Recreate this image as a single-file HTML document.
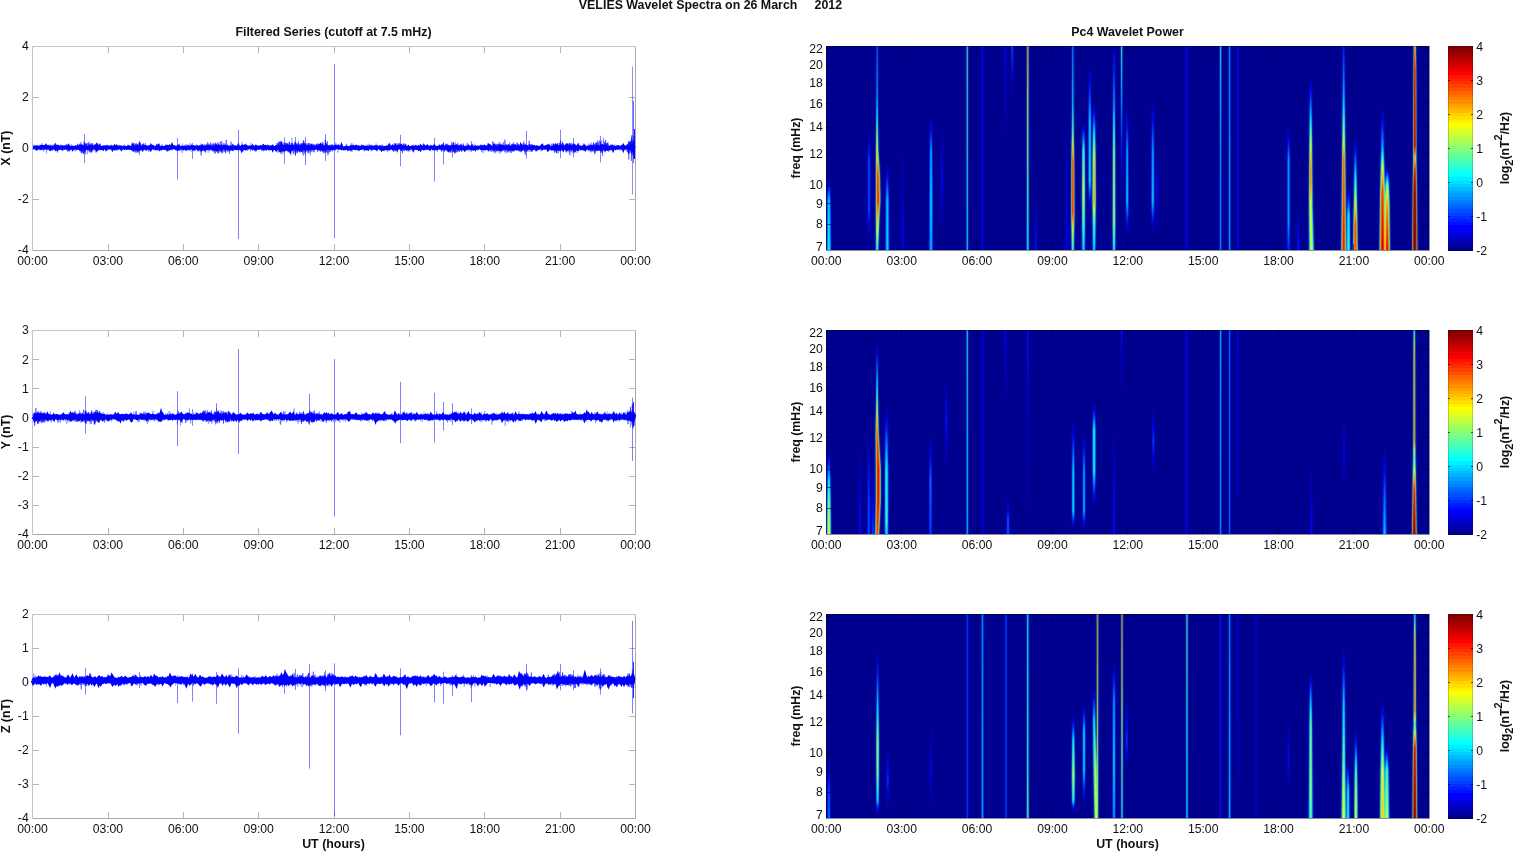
<!DOCTYPE html><html><head><meta charset="utf-8"><style>html,body{margin:0;padding:0;background:#fff;overflow:hidden}svg{display:block;will-change:transform}text{font-family:'Liberation Sans', Arial, Helvetica, sans-serif;fill:#111}.b{font-weight:bold}</style></head><body>
<svg width="1515" height="851" viewBox="0 0 1515 851">
<rect width="1515" height="851" fill="#fff"/>
<defs><linearGradient id="cbar" x1="0" y1="0" x2="0" y2="1"><stop offset="0.00000" stop-color="#800000"/><stop offset="0.01562" stop-color="#800000"/><stop offset="0.01562" stop-color="#8f0000"/><stop offset="0.03125" stop-color="#8f0000"/><stop offset="0.03125" stop-color="#9f0000"/><stop offset="0.04688" stop-color="#9f0000"/><stop offset="0.04688" stop-color="#af0000"/><stop offset="0.06250" stop-color="#af0000"/><stop offset="0.06250" stop-color="#bf0000"/><stop offset="0.07812" stop-color="#bf0000"/><stop offset="0.07812" stop-color="#cf0000"/><stop offset="0.09375" stop-color="#cf0000"/><stop offset="0.09375" stop-color="#df0000"/><stop offset="0.10938" stop-color="#df0000"/><stop offset="0.10938" stop-color="#ef0000"/><stop offset="0.12500" stop-color="#ef0000"/><stop offset="0.12500" stop-color="#ff0000"/><stop offset="0.14062" stop-color="#ff0000"/><stop offset="0.14062" stop-color="#ff1000"/><stop offset="0.15625" stop-color="#ff1000"/><stop offset="0.15625" stop-color="#ff2000"/><stop offset="0.17188" stop-color="#ff2000"/><stop offset="0.17188" stop-color="#ff3000"/><stop offset="0.18750" stop-color="#ff3000"/><stop offset="0.18750" stop-color="#ff4000"/><stop offset="0.20312" stop-color="#ff4000"/><stop offset="0.20312" stop-color="#ff5000"/><stop offset="0.21875" stop-color="#ff5000"/><stop offset="0.21875" stop-color="#ff6000"/><stop offset="0.23438" stop-color="#ff6000"/><stop offset="0.23438" stop-color="#ff7000"/><stop offset="0.25000" stop-color="#ff7000"/><stop offset="0.25000" stop-color="#ff8000"/><stop offset="0.26562" stop-color="#ff8000"/><stop offset="0.26562" stop-color="#ff8f00"/><stop offset="0.28125" stop-color="#ff8f00"/><stop offset="0.28125" stop-color="#ff9f00"/><stop offset="0.29688" stop-color="#ff9f00"/><stop offset="0.29688" stop-color="#ffaf00"/><stop offset="0.31250" stop-color="#ffaf00"/><stop offset="0.31250" stop-color="#ffbf00"/><stop offset="0.32812" stop-color="#ffbf00"/><stop offset="0.32812" stop-color="#ffcf00"/><stop offset="0.34375" stop-color="#ffcf00"/><stop offset="0.34375" stop-color="#ffdf00"/><stop offset="0.35938" stop-color="#ffdf00"/><stop offset="0.35938" stop-color="#ffef00"/><stop offset="0.37500" stop-color="#ffef00"/><stop offset="0.37500" stop-color="#ffff00"/><stop offset="0.39062" stop-color="#ffff00"/><stop offset="0.39062" stop-color="#efff10"/><stop offset="0.40625" stop-color="#efff10"/><stop offset="0.40625" stop-color="#dfff20"/><stop offset="0.42188" stop-color="#dfff20"/><stop offset="0.42188" stop-color="#cfff30"/><stop offset="0.43750" stop-color="#cfff30"/><stop offset="0.43750" stop-color="#bfff40"/><stop offset="0.45312" stop-color="#bfff40"/><stop offset="0.45312" stop-color="#afff50"/><stop offset="0.46875" stop-color="#afff50"/><stop offset="0.46875" stop-color="#9fff60"/><stop offset="0.48438" stop-color="#9fff60"/><stop offset="0.48438" stop-color="#8fff70"/><stop offset="0.50000" stop-color="#8fff70"/><stop offset="0.50000" stop-color="#80ff80"/><stop offset="0.51562" stop-color="#80ff80"/><stop offset="0.51562" stop-color="#70ff8f"/><stop offset="0.53125" stop-color="#70ff8f"/><stop offset="0.53125" stop-color="#60ff9f"/><stop offset="0.54688" stop-color="#60ff9f"/><stop offset="0.54688" stop-color="#50ffaf"/><stop offset="0.56250" stop-color="#50ffaf"/><stop offset="0.56250" stop-color="#40ffbf"/><stop offset="0.57812" stop-color="#40ffbf"/><stop offset="0.57812" stop-color="#30ffcf"/><stop offset="0.59375" stop-color="#30ffcf"/><stop offset="0.59375" stop-color="#20ffdf"/><stop offset="0.60938" stop-color="#20ffdf"/><stop offset="0.60938" stop-color="#10ffef"/><stop offset="0.62500" stop-color="#10ffef"/><stop offset="0.62500" stop-color="#00ffff"/><stop offset="0.64062" stop-color="#00ffff"/><stop offset="0.64062" stop-color="#00efff"/><stop offset="0.65625" stop-color="#00efff"/><stop offset="0.65625" stop-color="#00dfff"/><stop offset="0.67188" stop-color="#00dfff"/><stop offset="0.67188" stop-color="#00cfff"/><stop offset="0.68750" stop-color="#00cfff"/><stop offset="0.68750" stop-color="#00bfff"/><stop offset="0.70312" stop-color="#00bfff"/><stop offset="0.70312" stop-color="#00afff"/><stop offset="0.71875" stop-color="#00afff"/><stop offset="0.71875" stop-color="#009fff"/><stop offset="0.73438" stop-color="#009fff"/><stop offset="0.73438" stop-color="#008fff"/><stop offset="0.75000" stop-color="#008fff"/><stop offset="0.75000" stop-color="#0080ff"/><stop offset="0.76562" stop-color="#0080ff"/><stop offset="0.76562" stop-color="#0070ff"/><stop offset="0.78125" stop-color="#0070ff"/><stop offset="0.78125" stop-color="#0060ff"/><stop offset="0.79688" stop-color="#0060ff"/><stop offset="0.79688" stop-color="#0050ff"/><stop offset="0.81250" stop-color="#0050ff"/><stop offset="0.81250" stop-color="#0040ff"/><stop offset="0.82812" stop-color="#0040ff"/><stop offset="0.82812" stop-color="#0030ff"/><stop offset="0.84375" stop-color="#0030ff"/><stop offset="0.84375" stop-color="#0020ff"/><stop offset="0.85938" stop-color="#0020ff"/><stop offset="0.85938" stop-color="#0010ff"/><stop offset="0.87500" stop-color="#0010ff"/><stop offset="0.87500" stop-color="#0000ff"/><stop offset="0.89062" stop-color="#0000ff"/><stop offset="0.89062" stop-color="#0000ef"/><stop offset="0.90625" stop-color="#0000ef"/><stop offset="0.90625" stop-color="#0000df"/><stop offset="0.92188" stop-color="#0000df"/><stop offset="0.92188" stop-color="#0000cf"/><stop offset="0.93750" stop-color="#0000cf"/><stop offset="0.93750" stop-color="#0000bf"/><stop offset="0.95312" stop-color="#0000bf"/><stop offset="0.95312" stop-color="#0000af"/><stop offset="0.96875" stop-color="#0000af"/><stop offset="0.96875" stop-color="#00009f"/><stop offset="0.98438" stop-color="#00009f"/><stop offset="0.98438" stop-color="#00008f"/><stop offset="1.00000" stop-color="#00008f"/></linearGradient></defs>
<text class="b" x="710.5" y="9.3" font-size="12.4" text-anchor="middle" xml:space="preserve" style="white-space:pre">VELIES Wavelet Spectra on 26 March     2012</text>
<text class="b" x="333.5" y="36" font-size="12.4" text-anchor="middle">Filtered Series (cutoff at 7.5 mHz)</text>
<text class="b" x="1127.5" y="36.3" font-size="12.4" text-anchor="middle">Pc4 Wavelet Power</text>
<path d="M32.5 250.5H635.5V46.5" fill="none" stroke="#a8a8a8" stroke-width="1"/>
<path d="M32.5 250V46.5H635" fill="none" stroke="#c4c4c4" stroke-width="1"/>
<path d="M108.5 250v-6M108.5 47v6M183.5 250v-6M183.5 47v6M258.5 250v-6M258.5 47v6M334.5 250v-6M334.5 47v6M409.5 250v-6M409.5 47v6M484.5 250v-6M484.5 47v6M560.5 250v-6M560.5 47v6M33 199.5h6M635 199.5h-6M33 148.5h6M635 148.5h-6M33 97.5h6M635 97.5h-6" stroke="#b4b4b4" stroke-width="1" fill="none"/>
<path d="M33.1 147.7l.5 .1 .5-.2 .5-.3 .5 .2 .5-.2 .5 .4 .5 .6 .5-.8 .5-.1 .5 .5 .5 .0 .5-.2 .5-.4 .5 .4 .5 .3 .5-.9 .5 .4 .5-.7 .5 .3 .5-.2 .5 .7 .5-.5 .5 .7 .5 .0 .5-.2 .5-1.0 .5 .9 .5 .2 .5 .1 .6-.8 .5 .5 .5-.2 .5 .0 .5 .9 .5-.9 .5 .4 .5 .4 .5-.7 .5 .2 .5 .1 .5 .0 .5-.6 .5 .6 .5 .6 .5-1.3 .5 1.1 .5-.3 .5-.4 .5 1.2 .5-.6 .5-.8 .5 .5 .5 .3 .5-.4 .5 .4 .5-.3 .5 .3 .5 .3 .5-.9 .5 .4 .5-.3 .5 .3 .5-.6 .5 .2 .5 .2 .5 .5 .5 .1 .5-1.1 .5 .2 .5 .7 .5-1.2 .5 .7 .5 .2 .5 .6 .5-.3 .5-.4 .5-.1 .5 .1 .5 .8 .5-.9 .5 .1 .5 .3 .5-.3 .5 .0 .5-.4 .5 .5 .5-.2 .5 .7 .5-.2 .6-.3 .5 .3 .5-.5 .5 .7 .5-.5 .5 .3 .5-.9 .5 .8 .5-1.0 .5-.1 .5 .8 .5-.3 .5 .5 .5 .9 .5-1.4 .5 .1 .5 .4 .5 .1 .5-.3 .5 .0 .5 .4 .5-.1 .5-.7 .5 .5 .5 .0 .5-.5 .5 .6 .5-.5 .5 .8 .5-.3 .5-.1 .5-.3 .5 .2 .5-.8 .5 .4 .5 .7 .5-1.2 .5 1.4 .5-1.2 .5 1.1 .5-.7 .5 .8 .5-.3 .5-.8 .5 1.3 .5 .0 .5-.6 .5-.1 .5 .0 .5-.3 .5 .9 .5-.7 .5 .2 .5-.4 .5 .1 .5-.3 .5 1.2 .5-.7 .5 .5 .5-.4 .6-.3 .5 .2 .5-.2 .5 .3 .5-.2 .5 .1 .5-.5 .5 .2 .5 1.1 .5-1.0 .5-.2 .5 .7 .5 .4 .5-1.3 .5 .6 .5-.2 .5-.5 .5 1.1 .5-.3 .5 .0 .5-.3 .5 .5 .5-.4 .5 .1 .5-.4 .5 .0 .5 1.1 .5-.8 .5 .3 .5-.1 .5-.2 .5 .0 .5 .5 .5-.4 .5 .0 .5 .1 .5 .5 .5-.2 .5-.1 .5-.5 .5-.3 .5 1.0 .5 .0 .5-.5 .5 .3 .5 .2 .5 .0 .5 .0 .5-.6 .5 .9 .5-1.3 .5 1.0 .5-.2 .5 .2 .5 .4 .5-.1 .5-1.2 .5-.3 .5 1.2 .5-.9 .6 .5 .5 .4 .5-1.1 .5-.2 .5 1.0 .5-.1 .5-.1 .5 .1 .5-.4 .5-.3 .5 .6 .5-.3 .5-.3 .5 .9 .5-.2 .5 .2 .5-.6 .5 .1 .5-.1 .5 .0 .5 .5 .5-.5 .5 .6 .5 .0 .5 .7 .5-1.5 .5 1.0 .5-.4 .5 .0 .5-.7 .5 .5 .5 .5 .5-.3 .5 .0 .5-.1 .5 .6 .5-.5 .5-1.0 .5 .7 .5-.6 .5-.6 .5 1.3 .5 .8 .5-.6 .5-.5 .5 .1 .5 .9 .5-.4 .5-.1 .5 .0 .5 .0 .5 .4 .5-.2 .5-.1 .5-.6 .5 .7 .5-.5 .5 .8 .5-1.1 .5 .5 .6 .1 .5-.6 .5 1.4 .5-.1 .5-.9 .5 .5 .5-.1 .5-1.4 .5 1.3 .5-.1 .5 .0 .5-.5 .5 .4 .5 .0 .5 .6 .5-.3 .5-.2 .5 .7 .5-.9 .5 .0 .5-.6 .5 1.5 .5-.3 .5 .0 .5-.1 .5-.3 .5 .1 .5-.2 .5 .0 .5 .1 .5 .7 .5-.4 .5-.3 .5-.3 .5 .0 .5 1.0 .5-.5 .5-.2 .5-.2 .5-.3 .5 .5 .5 .4 .5-.6 .5 .1 .5 .0 .5 .1 .5-.7 .5 .6 .5-.3 .5 .8 .5-.7 .5 .6 .5 .4 .5-.8 .5-.2 .5 .4 .5-.1 .5-.4 .5 .6 .5 .7 .6-1.0 .5 .0 .5-.4 .5 .6 .5-.7 .5 .1 .5 1.1 .5-1.0 .5 .9 .5 .2 .5-.6 .5 .1 .5 .7 .5-1.0 .5-.2 .5-.3 .5 .6 .5 .7 .5-.3 .5-.8 .5 .0 .5 .2 .5 .3 .5-.2 .5 .2 .5 .0 .5-.2 .5 .1 .5 .1 .5-.1 .5 .2 .5 .6 .5-.5 .5-.3 .5-.8 .5 1.0 .5-1.1 .5 .3 .5 1.0 .5-.1 .5-.4 .5-.7 .5 .6 .5-.1 .5 .6 .5 .7 .5-.9 .5-.5 .5-.1 .5 .5 .5-.1 .5-.4 .5 .6 .5-.6 .5 1.0 .5 .0 .5 .0 .5-.7 .5 .4 .5-.3 .6-.1 .5 .0 .5-.4 .5 .0 .5 1.0 .5-.5 .5 .2 .5 .4 .5-1.3 .5 .4 .5 .5 .5 .1 .5-.4 .5 .7 .5-.4 .5-.6 .5 .1 .5 .8 .5-.2 .5-1.1 .5 1.5 .5-.3 .5 .3 .5-.8 .5 .1 .5-.4 .5 1.6 .5-1.2 .5 .8 .5-1.0 .5 .4 .5-.9 .5 .6 .5 .6 .5-1.0 .5 1.1 .5-.3 .5-.7 .5 .3 .5 .0 .5 .2 .5-.2 .5-.2 .5 .3 .5-.4 .5-.1 .5 .6 .5 .4 .5-1.1 .5 .7 .5-.3 .5-.1 .5 .8 .5-.6 .5 .9 .5-1.1 .5 .6 .5-.3 .5-.2 .5 .6 .6-.4 .5 .4 .5-.3 .5-.5 .5 .5 .5 .0 .5 .4 .5-.8 .5 .4 .5-.8 .5 1.1 .5-.8 .5-.3 .5 .8 .5 .5 .5-1.2 .5 .2 .5 .2 .5-.2 .5 .7 .5-.6 .5 .1 .5 .6 .5-.6 .5 .5 .5-.6 .5-.1 .5-.3 .5 1.6 .5-.9 .5 .2 .5-.1 .5 .1 .5-.1 .5 .9 .5-1.4 .5-.2 .5 .2 .5-.1 .5 .9 .5 .1 .5-.8 .5-.2 .5 .4 .5 .8 .5-1.9 .5 1.5 .5-.7 .5 1.0 .5-1.0 .5 .4 .5-.6 .5 .3 .5 1.0 .5-.2 .5-.6 .5-.2 .5-.5 .5 .7 .5 .2 .6 .0 .5 .0 .5-.5 .5 .5 .5 .0 .5 .6 .5 .2 .5-.9 .5-.2 .5 .3 .5-.3 .5 .0 .5 .3 .5-.5 .5 .8 .5-.3 .5 .1 .5-.2 .5-.2 .5-.1 .5 .3 .5-.1 .5 .3 .5-.1 .5-.6 .5 .6 .5-.6 .5 .3 .5 .2 .5-.8 .5 .9 .5 .1 .5-.2 .5-.1 .5 .0 .5-.2 .5 .3 .5-.1 .5 .2 .5-.5 .5 .6 .5 .0 .5-.2 .5-.1 .5 .4 .5-.9 .5 .9 .5-.1 .5 .0 .5 .1 .5-.5 .5 .2 .5 .4 .5-.1 .5-.1 .5-.8 .5 .9 .5 .3 .5 .0 .5-.4 .6-.8 .5 1.1 .5-.5 .5-1.0 .5 1.3 .5-.9 .5 .1 .5 .3 .5 .9 .5-.8 .5 .3 .5 .7 .5-.1 .5-.7 .5-.1 .5-.5 .5 .3 .5 .5 .5 .0 .5-.2 .5 .4 .5-.7 .5 .3 .5 .3 .5 .0 .5 .2 .5-.3 .5-.3 .5 .3 .5-.7 .5-.2 .5 1.0 .5-.3 .5 .1 .5-.9 .5 .6 .5-.1 .5-.1 .5-.6 .5 .8 .5 .6 .5-.2 .5-.5 .5 .3 .5 .3 .5-1.5 .5 1.1 .5 .3 .5 .1 .5 .5 .5-.3 .5-.4 .5 .0 .5 .3 .5-.6 .5 .2 .5 .4 .5 .5 .5-1.0 .5 .1 .6 .1 .5 .5 .5-.6 .5 .7 .5-1.1 .5 .3 .5 .0 .5 .5 .5 .1 .5-1.2 .5 .3 .5 .6 .5-.5 .5-.4 .5 1.2 .5-.3 .5 .0 .5-.4 .5 .7 .5-.6 .5 .6 .5-.9 .5 .0 .5 .5 .5-.4 .5 .6 .5-.2 .5-.5 .5 .4 .5-.2 .5 .6 .5-.7 .5 .1 .5 .7 .5 .5 .5-.1 .5-.9 .5 .1 .5 .6 .5-.8 .5-.3 .5 .5 .5 .1 .5-.6 .5-.3 .5 .1 .5 .9 .5-.6 .5 .2 .5 .2 .5 .2 .5-.5 .5 .4 .5-.6 .5 .2 .5-.3 .5 1.0 .5-.5 .5-.3 .5 .1 .6 .1 .5 .4 .5-1.0 .5 .2 .5 .3 .5 1.3 .5-.7 .5-.5 .5 .4 .5 .6 .5-1.0 .5-.1 .5 .7 .5-.3 .5 .1 .5-.5 .5 1.1 .5-.1 .5-.5 .5 .0 .5-1.2 .5 1.2 .5-.4 .5 .3 .5 .1 .5-.5 .5-.6 .5 1.0 .5-.5 .5 .2 .5-.2 .5 .1 .5-.8 .5 1.5 .5-.4 .5 .4 .5 .4 .5-.9 .5-.8 .5 .4 .5-.1 .5 .3 .5 .2 .5-.9 .5 1.1 .5-.9 .5 .8 .5-.1 .5-.1 .5 .1 .5-.2 .5-.1 .5-.5 .5 .8 .5 .8 .5 .1 .5-.3 .5-.3 .5-.6 .5 .9 .6-.6 .5 .0 .5-.1 .5 .1 .5-.2 .5 .2 .5-.5 .5 .3 .5 1.2 .5-1.0 .5-.1 .5 .3 .5 .1 .5-.8 .5 .4 .5 .5 .5-.3 .5 .0 .5 .6 .5-1.0 .5 .3 .5-.2 .5 .9 .5-1.6 .5 .6 .5 .1 .5 .5 .5 .0 .5 .3 .5-1.3 .5 1.0 .5-.4 .5-.2 .5 .5 .5-.6 .5-.5 .5 .7 .5-.5 .5 .4 .5 .5 .5-.1 .5 .6 .5-.8 .5-.6 .5 .4 .5-.1 .5-.1 .5 .7 .5-.5 .5-.6 .5 1.2 .5-.4 .5 .3 .5-.2 .5 .3 .5-.3 .5 .6 .5-.4 .5 .0 .5 .0 .6-.9 .5 .6 .5 .0 .5 .2 .5-.7 .5 1.3 .5-.7 .5-.5 .5-.3 .5 .7 .5 .1 .5-.3 .5 .3 .5-.3 .5 .5 .5-.5 .5 .3 .5 .4 .5 .8 .5-1.7 .5 .3 .5-.2 .5 .8 .5-.9 .5 .3 .5 .2 .5-.4 .5 .0 .5 .2 .5-.7 .5 .2 .5 .5 .5 .3 .5-.2 .5-.7 .5 .6 .5 .6 .5-.1 .5-.3 .5-.4 .5 .7 .5-.6 .5-.2 .5 .1 .5 1.1 .5-.6 .5 .4 .5-.7 .5 .6 .5-.7 .5 .2 .5 1.2 .5-.8 .5-.5 .5 .2 .5 .1 .5 .4 .5-.7 .5-.6 .5 .7 .6 .1 .5 .0 .5 .6 .5-.5 .5 .3 .5-.9 .5 .9 .5 .5 .5-.6 .5-.2 .5 .0 .5 .7 .5-1.2 .5 .4 .5 .2 .5 .1 .5-.5 .5 .3 .5-.2 .5 .2 .5-.2 .5-.4 .5 .5 .5 .4 .5-.8 .5 .3 .5 .4 .5-.8 .5 .6 .5-.6 .5 1.0 .5 .5 .5-.1 .5-1.0 .5 .4 .5-.2 .5-.1 .5 .7 .5-1.3 .5 1.1 .5-.5 .5 .6 .5-.5 .5-.4 .5 .4 .5 .2 .5-.3 .5 .2 .5-.4 .5-.8 .5 1.4 .5-.1 .5-.2 .5-.1 .5 .5 .5-.7 .5-.1 .5 .2 .5 .6 .5-1.1 .6 1.1 .5-.8 .5-.2 .5 1.1 .5-.6 .5-.6 .5 .4 .5 .6 .5 .1 .5-.7 .5 .4 .5 .1 .5-.6 .5 .5 .5-.2 .5-.2 .5 .0 .5 .2 .5 .0 .5-.3 .5 .1 .5 .7 .5-.4 .5 .3 .5 .1 .5-.2 .5 .7 .5-1.4 .5 .8 .5-.5 .5 .9 .5 .0 .5-1.7 .5 .5 .5 .7 .5 .1 .5-.1 .5-.3 .5 .2 .5 .1 .5-.3 .5 .5 .5-1.5 .5 1.3 .5-.8 .5 .9 .5-.5 .5-.3 .5 .6 .5-.6 .5 .0 .5-.3 .5 .7 .5 .2 .5 .3 .5-.6 .5 .6 .5-.5 .5 .0 .5 .3 .6 .2 .5-.7 .5 .1 .5 .0 .5 .1 .5-.4 .5 .9 .5-.7 .5 .4 .5-.6 .5 .6 .5 .0 .5-.4 .5 1.1 .5-.7 .5 .6 .5-.4 .5-.7 .5 .1 .5 .4 .5-.2 .5 .0 .5-.1 .5-.7 .5 .7 .5-.9 .5 1.2 .5-.5 .5 .0 .5 .2 .5 .2 .5-.7 .5-.2 .5 .3 .5-.4 .5 .5 .5 1.1 .5-1.2 .5 .8 .5-.9 .5 .7 .5-.2 .5 .1 .5 .3 .5 .5 .5-.7 .5 .0 .5-.5 .5 .7 .5-.4 .5 .5 .5-.4 .5 .8 .5-1.7 .5 .8 .5 .5 .5-.6 .5-.2 .5 .3 .5-.5 .6 .7 .5 1.0 .5-.6 .5-1.0 .5 .1 .5 .2 .5 .7 .5-.9 .5 .1 .5 .7 .5 .0 .5-.6 .5-.3 .5-.2 .5 .4 .5-.7 .5 1.3 .5-.6 .5 .5 .5 .6 .5-.3 .5-1.0 .5 .9 .5 .1 .5-.8 .5-.1 .5 .4 .5-.7 .5 1.4 .5-1.8 .5 .6 .5 .4 .5 .0 .5 .2 .5 .0 .5-.2 .5 .6 .5-1.5 .5 1.0 .5-.3 .5 .4 .5 .0 .5-.5 .5 .1 .5 .7 .5-.2 .5-.5 .5 1.2 .5 .1 .5-1.7 .5 .8 .5 1.0 .5-.7 .5-.3 .5-.2 .5-.1 .5 .1 .5-.1 .5 .5 .5-.5 .6 .0 .5-.3 .5 .5 .5-.4 .5 .3 .5 .6 .5-.3 .5 .0 .5 .0 .5-.2 .5-.1 .5 .0 .5 .4 .5-.8 .5 1.1 .5-.6 .5-.3 .5 .1 .5-.1 .5 .4 .5-.4 .5 .8 .5-.9 .5-.6 .5 .7 .5-.6 .5 .9 .5 .5 .5-.2 .5-.9 .5 .3 .5 1.1 .5-.7 .5-.1 .5 .5 .5 .6 .5-.5 .5-.5 .5 .1 .5 .1 .5-.6 .5-.2 .5 .5 .5-.4 .5 .4 .5 .0 .5 1.1 .5-1.5 .5 .3 .5 .0 .5 .3 .5 .3 .5-.7 .5-.2 .5-.3 .5 .3 .5 .6 .5-.2 .5-.5 .5 .3 .6 .2 .5 .2 .5-.5 .5 .2 .5-.7 .5 .3 .5 1.2 .5-1.7 .5 .8 .5 .3 .5-.3 .5-.2 .5 .4 .5 .0 .5 .0 .5-.8 .5 .7 .5-.3 .5 .2 .5 .3 .5 .2 .5 .1 .5-.6 .5 .6 .5 .1 .5 .0 .5 .1 .5-.7 .5 .0 .5 .5" fill="none" stroke="#0000ff" stroke-width="3.3"/><path d="M33.1 145.2l.2 2.9 .2-1.4 .2 .3 .2-2.5 .1 1.6 .2 1.6 .2 1.6 .2 .2 .2-1.9 .2-.2 .2-1.2 .2 2.2 .1-1.2 .2 1.6 .2 2.2 .2-3.4 .2-2.7 .2 1.2 .2-1.1 .2 .5 .1 4.6 .2-2.0 .2-3.3 .2 4.1 .2 1.2 .2-3.1 .2-.6 .2 .7 .2 1.1 .1 .7 .2 1.1 .2 .0 .2 .0 .2 .3 .2-1.3 .2-4.2 .2 2.6 .1 .9 .2-1.3 .2 2.5 .2-2.5 .2-1.1 .2 4.6 .2-1.5 .2-.9 .1 1.4 .2 .3 .2-1.4 .2-5.5 .2 3.5 .2 .4 .2-1.0 .2 2.3 .2 2.0 .1-3.4 .2-1.2 .2 6.2 .2-4.9 .2-1.5 .2 2.9 .2 .3 .2-2.2 .1 3.0 .2-2.6 .2-.8 .2 2.2 .2 1.1 .2-2.8 .2 2.0 .2-.9 .1 5.9 .2-7.1 .2 4.2 .2-2.9 .2-.2 .2 1.7 .2 .4 .2 .7 .2-1.8 .1-1.9 .2 .1 .2 2.1 .2 .2 .2 1.6 .2-2.0 .2 1.3 .2 .9 .1-2.7 .2-3.3 .2 .6 .2-.5 .2 6.1 .2-4.9 .2 4.2 .2-1.3 .2 2.2 .1-1.4 .2-2.2 .2-.2 .2 .6 .2 .1 .2-1.4 .2 1.0 .2 3.3 .1-6.6 .2 3.9 .2-2.3 .2 2.2 .2 1.3 .2-1.8 .2 1.6 .2-4.6 .1 5.3 .2-3.4 .2 2.4 .2-.8 .2-5.4 .2 3.5 .2 1.9 .2 2.6 .2-2.4 .1-.1 .2-3.2 .2 5.4 .2 .8 .2-3.4 .2-.5 .2-2.7 .2 4.8 .1 3.4 .2-3.7 .2 1.0 .2-1.4 .2-2.8 .2 4.3 .2-4.8 .2 1.9 .1 .9 .2 1.1 .2-.8 .2-.1 .2-2.1 .2-1.0 .2 2.5 .2-1.4 .2-1.1 .1 .1 .2 1.4 .2-2.4 .2 .9 .2-.5 .2 3.2 .2 .4 .2 2.9 .1-6.3 .2 1.5 .2 2.8 .2-2.0 .2-.2 .2 3.6 .2-3.6 .2-1.4 .1-.3 .2 2.9 .2-.1 .2-2.9 .2 .7 .2 2.6 .2 .1 .2-2.1 .2 2.2 .1-.1 .2-4.0 .2 2.5 .2 1.2 .2-1.7 .2-2.6 .2 3.1 .2 1.7 .1 1.4 .2-6.2 .2 7.9 .2-6.2 .2 3.5 .2 .4 .2-.4 .2-1.4 .1-2.1 .2 2.9 .2-2.2 .2-2.9 .2 8.7 .2-3.5 .2 1.8 .2-4.4 .2 3.8 .1 .2 .2 .0 .2-2.5 .2-1.9 .2 1.6 .2-3.2 .2 .8 .2 2.8 .1-1.7 .2 1.3 .2 .1 .2 3.2 .2-1.0 .2-2.1 .2 2.0 .2-3.1 .1 .7 .2 1.9 .2-3.3 .2 1.5 .2-1.7 .2 2.3 .2 2.4 .2-3.8 .2 1.6 .1-1.8 .2-.4 .2-.2 .2 4.3 .2 1.5 .2-3.0 .2-2.0 .2 2.3 .1-1.6 .2 1.8 .2-.8 .2 .0 .2 .5 .2-2.0 .2 .3 .2-2.3 .2 2.2 .1-1.7 .2 2.2 .2-1.4 .2 1.9 .2 .6 .2-3.4 .2 1.1 .2-.3 .1 3.2 .2 1.9 .2-1.6 .2-2.4 .2 3.7 .2-6.1 .2 6.2 .2-4.5 .1-4.5 .2 11.6 .2-2.2 .2-5.8 .2 2.7 .2-.9 .2 .7 .2-3.7 .2 1.9 .1 2.7 .2-.6 .2 2.4 .2-2.7 .2 5.6 .2-7.6 .2 2.5 .2-5.5 .1 1.6 .2 6.6 .2-5.8 .2 3.8 .2-1.6 .2-2.5 .2 1.8 .2-.4 .1 .1 .2 3.1 .2-.2 .2-3.2 .2-.8 .2 3.0 .2-.9 .2 2.7 .2 4.0 .1-4.4 .2-2.2 .2-.3 .2-1.6 .2-.1 .2-.2 .2 1.4 .2-.1 .1 2.7 .2-2.6 .2 .5 .2-2.2 .2 6.1 .2-2.4 .2 2.6 .2-2.0 .1 1.3 .2-3.5 .2 1.9 .2 4.0 .2-7.8 .2 4.7 .2 1.0 .2-2.5 .2 .6 .1 1.0 .2-3.6 .2 2.0 .2-2.4 .2 .4 .2 .1 .2 .8 .2 .6 .1 .5 .2-3.3 .2 6.0 .2-1.4 .2-.8 .2-1.9 .2 .4 .2 1.2 .1-.3 .2-3.6 .2 4.2 .2 3.7 .2-8.2 .2 4.9 .2-1.1 .2-.8 .2 2.6 .1-4.4 .2 2.3 .2 2.2 .2-2.8 .2-.4 .2 .9 .2-1.0 .2 3.4 .1-4.1 .2 3.0 .2-3.6 .2 3.2 .2-1.3 .2-4.1 .2 4.3 .2-1.8 .1 1.1 .2 3.3 .2-4.5 .2 .1 .2 4.2 .2-2.2 .2 2.4 .2-2.1 .2-2.0 .1 1.4 .2 2.1 .2-.5 .2-1.5 .2 .1 .2-.3 .2-.7 .2 4.0 .1-3.1 .2-1.8 .2 1.0 .2 2.0 .2-.2 .2-1.2 .2-.9 .2 1.1 .2-2.7 .1 .6 .2 3.4 .2-2.1 .2 1.4 .2 1.3 .2-.9 .2-1.0 .2 3.3 .1-2.3 .2-1.6 .2 1.7 .2-.5 .2-1.9 .2 1.4 .2-.4 .2-2.7 .1 2.7 .2-.1 .2-.3 .2-1.8 .2 2.0 .2 .4 .2 .3 .2-1.9 .2 2.7 .1-2.8 .2 1.5 .2 2.2 .2-2.9 .2 .2 .2 2.4 .2-2.2 .2 .2 .1 .7 .2 1.2 .2-4.7 .2 2.0 .2-.3 .2-.1 .2 .4 .2 .0 .1 1.6 .2-1.7 .2 1.5 .2 .4 .2-1.6 .2 1.2 .2 2.1 .2-1.8 .2-1.4 .1 .8 .2-1.2 .2 1.7 .2 .8 .2-2.4 .2 .9 .2 1.9 .2-2.3 .1 1.0 .2-1.7 .2 .2 .2 .5 .2 3.7 .2-3.6 .2-.1 .2-.1 .1 .6 .2 1.1 .2-.6 .2 2.5 .2-2.5 .2 1.7 .2-1.6 .2 .4 .2-2.8 .1 1.8 .2 .1 .2-.2 .2-2.7 .2 4.2 .2-1.7 .2-.1 .2 .2 .1 .1 .2 .9 .2-2.4 .2 .5 .2 1.7 .2-.2 .2-.7 .2-.3 .1-.4 .2 1.1 .2 1.8 .2-3.2 .2 3.7 .2-1.0 .2-1.8 .2 1.7 .2-3.2 .1-.4 .2 .7 .2 1.2 .2 .1 .2-.2 .2 .8 .2-3.2 .2 3.8 .1-2.8 .2 1.1 .2 .4 .2-1.1 .2-.3 .2 .5 .2 1.5 .2 .9 .1-.1 .2-2.3 .2 .3 .2-.2 .2 2.1 .2-3.8 .2 5.0 .2-2.6 .2-.5 .1 1.7 .2 1.1 .2-1.1 .2 1.2 .2-1.5 .2 1.7 .2 .1 .2-2.2 .1 2.5 .2-2.0 .2-.2 .2-1.6 .2 1.0 .2 1.8 .2-3.5 .2 3.3 .2-.5 .1-.1 .2-4.3 .2 3.6 .2 1.3 .2-2.5 .2 1.6 .2-4.5 .2 5.5 .1-2.4 .2 2.8 .2-5.1 .2 4.8 .2-1.8 .2 2.1 .2-3.4 .2 .6 .1 5.8 .2-6.3 .2 .2 .2 .9 .2-1.6 .2 4.8 .2 1.2 .2-5.4 .2-2.3 .1 6.5 .2-.1 .2-.6 .2 .8 .2-4.7 .2 1.6 .2-2.9 .2-.1 .1 5.8 .2-4.0 .2 7.2 .2-5.4 .2-1.8 .2 3.6 .2 2.5 .2-3.3 .1-4.2 .2 3.9 .2 2.5 .2-4.6 .2-.7 .2 4.4 .2-2.2 .2-3.0 .2 1.8 .1-1.0 .2 2.6 .2-.4 .2 2.5 .2-1.1 .2-5.4 .2 4.7 .2 1.1 .1-1.0 .2 1.3 .2-3.7 .2-.9 .2 4.3 .2-4.5 .2-2.4 .2 7.0 .1-3.8 .2 .9 .2-2.3 .2 .2 .2 .4 .2 1.6 .2 1.6 .2-5.5 .2 6.2 .1-3.9 .2 .3 .2 3.4 .2-1.4 .2-2.9 .2 6.6 .2-5.3 .2 2.2 .1-.1 .2 2.3 .2-3.6 .2 2.8 .2-3.3 .2 3.5 .2-3.5 .2 .7 .1 4.2 .2-2.9 .2-.4 .2 3.9 .2-3.4 .2-2.2 .2 2.8 .2-3.5 .2 4.3 .1 .1 .2-3.2 .2-.1 .2 1.4 .2-.3 .2-1.8 .2 2.8 .2-4.7 .1 2.9 .2 .1 .2 .2 .2 1.0 .2-2.7 .2 3.2 .2-1.3 .2-.9 .1-1.2 .2 .3 .2 2.7 .2-2.3 .2 1.8 .2 1.8 .2-.1 .2 .9 .2-3.2 .1-1.4 .2 3.7 .2-1.3 .2 1.5 .2-2.0 .2 2.1 .2-.6 .2-.2 .1-.4 .2-.2 .2-.3 .2 .0 .2 1.3 .2-2.6 .2 3.9 .2-3.2 .2 1.9 .1-1.9 .2-.2 .2 3.9 .2-4.0 .2-1.7 .2 1.0 .2 .7 .2 4.2 .1-3.3 .2 1.2 .2-3.3 .2 2.3 .2 .6 .2 1.9 .2-4.3 .2 2.2 .1-.5 .2-2.3 .2 1.8 .2-.5 .2-3.5 .2 5.0 .2-.1 .2-1.7 .2-1.5 .1 4.8 .2-2.0 .2 1.2 .2 .7 .2-3.3 .2 2.3 .2-1.8 .2 .3 .1 .0 .2 .1 .2 1.9 .2-1.7 .2-.5 .2-.2 .2 1.1 .2-2.1 .1 .6 .2 .8 .2-.9 .2 .8 .2-.9 .2 4.6 .2-1.2 .2-1.5 .2-.9 .1 3.9 .2-3.2 .2-.8 .2 .7 .2 .0 .2 2.0 .2-2.5 .2 3.7 .1-5.3 .2 2.8 .2-3.0 .2 5.0 .2-3.8 .2 .5 .2 1.7 .2 .6 .1-4.2 .2 1.4 .2-1.9 .2 2.7 .2-.4 .2-.4 .2-.6 .2 .5 .2-.7 .1 2.4 .2 1.8 .2-6.3 .2 3.3 .2-.6 .2 1.7 .2-2.7 .2 1.5 .1-1.6 .2 3.2 .2-1.1 .2-.5 .2 1.0 .2-1.2 .2-2.4 .2 4.0 .1-.6 .2-.8 .2 2.2 .2 .4 .2-4.4 .2 .6 .2 4.4 .2-.2 .2-4.1 .1-.9 .2 1.1 .2 .2 .2-2.1 .2 3.2 .2-2.6 .2 .2 .2 4.1 .1-3.1 .2 1.2 .2 1.3 .2 .4 .2-2.3 .2 .8 .2-1.7 .2 5.0 .1-2.1 .2-3.5 .2 2.2 .2 1.4 .2-.4 .2 2.6 .2-.9 .2-3.8 .2 .9 .1-2.4 .2 3.1 .2-.2 .2 5.1 .2-5.2 .2-4.4 .2 2.8 .2 1.6 .1-2.7 .2 .8 .2 1.0 .2 1.4 .2-1.0 .2-1.5 .2 3.4 .2-2.7 .2 .1 .1-1.8 .2 1.2 .2 2.9 .2-4.6 .2 3.2 .2 1.6 .2-2.3 .2 1.3 .1-2.8 .2 5.0 .2-.5 .2-1.7 .2-4.1 .2 1.5 .2 4.1 .2 1.5 .1-2.9 .2 1.9 .2-3.7 .2 .8 .2 .4 .2 .9 .2-4.0 .2 5.0 .2 .8 .1-5.0 .2-.4 .2 3.4 .2-2.0 .2-3.5 .2 6.4 .2-1.3 .2-1.3 .1 5.2 .2-3.9 .2-1.8 .2 1.7 .2-2.3 .2 .6 .2 2.3 .2-1.9 .1 .2 .2 4.2 .2-1.6 .2-.1 .2-.6 .2 .0 .2 1.9 .2-2.9 .2 3.7 .1-5.6 .2 1.4 .2-2.2 .2 2.0 .2 1.7 .2 1.8 .2-4.1 .2 1.3 .1-.7 .2-.7 .2-.9 .2 2.4 .2-3.5 .2 3.6 .2-.2 .2-1.3 .1-.7 .2-.7 .2 6.3 .2-6.2 .2 5.6 .2-1.8 .2-1.9 .2-1.5 .2 4.2 .1 1.3 .2-5.1 .2 1.2 .2 2.6 .2-1.4 .2 3.2 .2-4.9 .2 2.1 .1-3.4 .2 6.4 .2-5.4 .2-2.8 .2 4.0 .2-.1 .2 4.0 .2-4.4 .1 .7 .2 1.1 .2 2.0 .2-3.2 .2 2.1 .2-1.0 .2-1.6 .2 .8 .2-.1 .1-1.9 .2 4.2 .2-5.1 .2 5.0 .2-.4 .2-2.1 .2-1.3 .2 1.1 .1 1.3 .2 .6 .2-.9 .2 1.4 .2-3.1 .2 1.6 .2-3.7 .2 4.7 .1-1.2 .2-1.1 .2 3.2 .2-1.0 .2-7.2 .2 5.9 .2-3.1 .2 5.2 .2 3.0 .1-6.3 .2 1.3 .2-.7 .2 1.2 .2 .7 .2 1.4 .2-4.9 .2 5.5 .1-5.4 .2 2.6 .2 1.9 .2-.9 .2-3.7 .2 .5 .2 .6 .2 .9 .2 2.7 .1-5.5 .2 4.0 .2 .3 .2-.1 .2-.2 .2 2.4 .2-2.4 .2 .9 .1-.7 .2 2.9 .2-8.6 .2 7.4 .2-3.6 .2-.1 .2-1.6 .2-2.1 .1 3.5 .2-.7 .2 2.8 .2-4.7 .2 6.9 .2-2.7 .2-1.3 .2-1.1 .2-.2 .1-.8 .2 1.4 .2 1.3 .2-.4 .2-3.0 .2 2.8 .2-1.6 .2 2.6 .1 4.1 .2-3.0 .2-2.3 .2-3.1 .2 .5 .2-.7 .2 5.9 .2-3.6 .1 2.0 .2-1.7 .2 1.7 .2 3.2 .2-5.0 .2 .8 .2-1.1 .2 4.0 .2-4.5 .1-.3 .2-.6 .2 .0 .2 4.4 .2 4.9 .2-8.3 .2 4.5 .2-1.6 .1-3.2 .2 2.0 .2 .1 .2-1.1 .2 6.0 .2-8.7 .2 5.2 .2-.2 .1-2.0 .2 1.6 .2 1.7 .2-1.7 .2 .6 .2 .6 .2-5.9 .2 7.6 .2 1.7 .1-2.8 .2 .1 .2-5.2 .2 2.7 .2-1.4 .2 .5 .2 3.2 .2-3.7 .1 1.4 .2-3.6 .2 3.6 .2 .5 .2-1.6 .2-.1 .2 5.3 .2-6.2 .1 .3 .2 .5 .2 4.0 .2 1.7 .2-3.4 .2-2.1 .2 .6 .2 2.9 .2-3.9 .1 4.6 .2-.1 .2-2.6 .2 1.1 .2 .2 .2 1.5 .2-4.9 .2 4.2 .1-2.9 .2-.7 .2 1.6 .2-.6 .2-1.4 .2-1.1 .2 1.2 .2 4.3 .1 .9 .2-2.3 .2 .9 .2-3.0 .2 .8 .2 .6 .2-2.4 .2 .2 .2 1.9 .1-.8 .2-1.3 .2 2.6 .2-1.2 .2 2.3 .2-1.8 .2-.5 .2 .7 .1-.5 .2-.8 .2 .4 .2 2.0 .2-.2 .2 1.1 .2-5.0 .2 2.1 .1 .0 .2 1.0 .2-1.1 .2-.1 .2 2.2 .2-1.0 .2-2.2 .2 4.1 .2-.6 .1-2.5 .2 2.3 .2-2.6 .2 3.0 .2-2.2 .2-.9 .2 .7 .2-.6 .1 1.5 .2 .0 .2-.2 .2-1.0 .2-4.9 .2 5.9 .2-3.1 .2 3.4 .2 1.4 .1-1.4 .2-1.0 .2 .3 .2 .1 .2-.6 .2-.1 .2-.5 .2 3.2 .1-1.8 .2 1.5 .2-1.9 .2 .5 .2-.4 .2 1.0 .2 .5 .2-.8 .1-1.4 .2-.2 .2 3.7 .2-2.9 .2 .0 .2 2.6 .2-.6 .2-.8 .2-1.4 .1 4.0 .2-2.8 .2 .2 .2-1.0 .2-1.8 .2 .1 .2 2.5 .2 .0 .1-.9 .2-1.4 .2-.3 .2 1.5 .2-1.6 .2 3.4 .2 .3 .2 2.4 .1-2.8 .2-2.0 .2-.4 .2-3.6 .2 4.0 .2 .6 .2 1.5 .2-.5 .2 .0 .1-.5 .2 .6 .2 1.1 .2-3.5 .2 .9 .2-1.3 .2 4.1 .2-.4 .1-.8 .2-2.6 .2 1.8 .2-.5 .2 .4 .2-.4 .2 1.0 .2-1.2 .1 1.7 .2-.9 .2-.7 .2 .2 .2-.4 .2 1.7 .2-1.5 .2 .8 .2-.9 .1-1.5 .2 3.2 .2-2.6 .2 2.3 .2-.3 .2-2.9 .2 1.0 .2 .6 .1-.4 .2-.5 .2 2.6 .2-1.3 .2 .8 .2-1.1 .2 1.0 .2-1.4 .1 1.0 .2 .8 .2-.7 .2-.7 .2-.9 .2 1.7 .2 .3 .2-.9 .2-.7 .1 1.9 .2 2.7 .2-3.9 .2 .9 .2 .0 .2-4.2 .2 3.9 .2-1.2 .1 3.0 .2-2.4 .2-.7 .2 .8 .2 .5 .2-1.0 .2 .7 .2-1.9 .1 1.7 .2 1.4 .2 1.8 .2-1.9 .2-.6 .2 1.4 .2-.3 .2 1.0 .2-.9 .1-1.8 .2 .6 .2-.1 .2 .2 .2-.2 .2-1.5 .2-2.0 .2 2.2 .1-2.1 .2 3.2 .2-.1 .2-2.6 .2 3.7 .2 .3 .2-1.2 .2 2.4 .2 .4 .1-4.9 .2 3.6 .2-1.0 .2 .0 .2 .8 .2-2.7 .2 .2 .2-.4 .1 .1 .2 1.1 .2-2.2 .2 .6 .2 2.8 .2-1.1 .2 .8 .2-4.0 .1 1.9 .2 .4 .2 1.1 .2-1.1 .2 2.7 .2-1.8 .2 .1 .2 .0 .2 1.3 .1-2.2 .2 3.0 .2-1.2 .2-.6 .2-.2 .2 .9 .2 1.0 .2-.1 .1-1.1 .2 1.0 .2-1.6 .2 2.4 .2-2.7 .2-4.4 .2 7.4 .2-2.7 .1-2.8 .2 2.1 .2-1.5 .2 6.9 .2-3.7 .2-5.0 .2 5.1 .2-2.3 .2 5.8 .1-7.5 .2-3.1 .2 6.0 .2-1.1 .2-.2 .2-4.7 .2 7.0 .2 3.4 .1-10.0 .2 8.7 .2-4.9 .2 8.4 .2-5.5 .2-1.9 .2 3.9 .2-1.7 .1-3.4 .2 4.0 .2-3.8 .2-4.0 .2 12.0 .2-7.5 .2-.8 .2 3.0 .2-6.1 .1 .6 .2 2.8 .2-.1 .2 1.9 .2 3.5 .2-5.3 .2 3.2 .2 .4 .1-5.6 .2 4.4 .2-4.0 .2 6.8 .2-2.1 .2-1.4 .2-4.6 .2 4.9 .1-3.0 .2 5.0 .2-2.8 .2-2.3 .2 5.8 .2-.7 .2-4.4 .2 5.9 .2-4.9 .1 .0 .2 1.4 .2-2.9 .2 1.0 .2 1.0 .2 5.6 .2-.1 .2-5.9 .1 6.2 .2-5.4 .2 1.4 .2 1.6 .2-1.9 .2 6.9 .2-7.1 .2-4.7 .1 8.2 .2-5.7 .2 .4 .2-8.8 .2 13.1 .2-.6 .2-.1 .2 .6 .2 2.3 .1-5.7 .2 3.3 .2-5.5 .2 1.2 .2 4.7 .2-2.2 .2-5.7 .2 5.6 .1-1.8 .2-2.1 .2 4.1 .2-2.7 .2-3.8 .2 1.5 .2 9.4 .2-10.7 .2 5.6 .1 1.3 .2 .1 .2-6.1 .2 3.0 .2 1.5 .2 2.1 .2-4.7 .2-1.7 .1 7.0 .2 .4 .2-2.4 .2-3.2 .2 3.3 .2-.9 .2 2.3 .2-6.7 .1 4.4 .2-.9 .2-3.1 .2 4.3 .2-.6 .2-1.4 .2 2.6 .2-5.9 .2 4.4 .1 1.6 .2-.5 .2 2.5 .2-7.2 .2-1.0 .2 5.6 .2 .7 .2 5.2 .1-4.7 .2-4.8 .2 5.4 .2-5.3 .2-2.0 .2 12.9 .2-7.2 .2 1.2 .1-.4 .2 3.8 .2-4.7 .2 2.9 .2-7.0 .2-1.1 .2 8.7 .2 .1 .2-3.0 .1-.8 .2-.2 .2-2.5 .2 6.5 .2-2.6 .2-.4 .2-.4 .2 1.9 .1-1.6 .2 .7 .2-5.4 .2 4.7 .2 4.7 .2-7.5 .2 1.0 .2 2.8 .1 .2 .2-.9 .2-5.9 .2 5.5 .2-4.3 .2 .9 .2 3.5 .2-2.1 .2 2.7 .1 5.7 .2-5.8 .2-.2 .2-3.8 .2 .6 .2-1.0 .2 1.3 .2-1.3 .1 1.0 .2 1.0 .2-1.8 .2-.9 .2 .2 .2 4.0 .2-.9 .2 2.1 .1 .1 .2-3.0 .2 2.1 .2-4.5 .2 8.0 .2-2.4 .2-3.0 .2-2.0 .2 3.3 .1-4.7 .2 2.3 .2 3.2 .2-1.4 .2-1.2 .2 3.0 .2-4.2 .2 2.8 .1-1.7 .2-.7 .2 2.8 .2-3.1 .2 6.2 .2-5.4 .2 5.7 .2-6.8 .1 3.8 .2-4.1 .2-.4 .2 3.5 .2 1.2 .2-4.6 .2 5.8 .2-4.7 .2 2.2 .1 .6 .2 .6 .2-6.0 .2 8.6 .2-2.7 .2-2.5 .2-1.6 .2-1.8 .1 .8 .2 5.2 .2-2.4 .2-2.2 .2 1.6 .2 5.9 .2-5.3 .2-.8 .2 5.6 .1-2.5 .2-1.3 .2-1.9 .2-2.8 .2 1.1 .2 2.0 .2 .8 .2 1.8 .1 .6 .2-1.0 .2 .0 .2-3.8 .2-3.5 .2 5.0 .2-1.3 .2 .9 .1 1.2 .2-2.9 .2 .4 .2 3.0 .2 .6 .2-2.2 .2 3.4 .2-2.1 .2-2.3 .1 3.0 .2 5.2 .2-7.2 .2 5.1 .2 .5 .2 .3 .2-6.2 .2 7.5 .1-5.0 .2-.9 .2 .0 .2 2.1 .2-1.4 .2-.5 .2 3.5 .2-4.8 .1-.8 .2 4.3 .2-.2 .2 .9 .2-4.9 .2 4.8 .2-1.3 .2 2.7 .2-6.5 .1 3.2 .2-1.1 .2-2.8 .2 1.9 .2 3.8 .2-3.3 .2-.5 .2 3.3 .1 .2 .2 .0 .2-3.6 .2 1.5 .2 2.1 .2-3.3 .2-.2 .2 3.1 .1 1.4 .2-5.2 .2-2.8 .2 2.2 .2 .9 .2 1.6 .2 1.5 .2-1.5 .2-1.0 .1 1.6 .2-2.1 .2 1.7 .2-1.1 .2 6.2 .2-3.5 .2-3.0 .2-.3 .1 1.0 .2-2.2 .2 1.7 .2 .0 .2 2.9 .2-2.4 .2-.6 .2-1.0 .1 .3 .2 2.0 .2-.3 .2 2.4 .2-3.1 .2 3.0 .2-1.4 .2-.5 .2-3.6 .1 1.3 .2 3.6 .2 1.2 .2-2.1 .2 .9 .2-2.0 .2 .1 .2-.6 .1 2.9 .2-1.1 .2-1.0 .2-.2 .2 1.6 .2-.4 .2-2.0 .2 4.3 .1-2.5 .2-.4 .2 2.5 .2-.8 .2-1.8 .2 1.0 .2-2.7 .2 .7 .2-2.7 .1 5.9 .2-5.3 .2 4.3 .2-2.5 .2-.2 .2 1.3 .2 .7 .2 .6 .1 2.0 .2-2.4 .2 .9 .2-2.5 .2 2.2 .2-.9 .2-1.1 .2 .6 .2 .1 .1 .4 .2 .4 .2-1.5 .2-.4 .2 2.4 .2-4.0 .2 1.8 .2 3.6 .1-7.1 .2 3.3 .2 2.3 .2-3.8 .2 7.0 .2-8.6 .2 6.7 .2 .2 .1-1.1 .2-1.9 .2 1.0 .2-2.1 .2 2.8 .2-3.2 .2 1.4 .2 2.2 .2-3.6 .1 1.3 .2 .9 .2-2.5 .2 4.1 .2-1.3 .2-3.1 .2 2.4 .2-1.2 .1 .2 .2 1.2 .2-1.3 .2 2.8 .2-2.8 .2 2.9 .2-1.8 .2 1.5 .1-2.3 .2 .0 .2-1.1 .2 3.0 .2 .6 .2 2.0 .2-1.4 .2-1.8 .2-.8 .1 1.1 .2-.7 .2 2.5 .2-.9 .2-3.0 .2 .2 .2 3.6 .2-1.9 .1-.9 .2 2.4 .2-2.7 .2 .2 .2-.3 .2-2.6 .2 4.9 .2-3.6 .1 1.1 .2-.3 .2 2.6 .2-1.4 .2 .1 .2-2.9 .2 2.7 .2-2.4 .2 3.1 .1 .1 .2-.6 .2 3.6 .2-2.7 .2 .1 .2-.7 .2-.6 .2 2.0 .1 .2 .2-4.2 .2 4.2 .2-1.0 .2 .8 .2-.9 .2-3.0 .2 .1 .1 5.3 .2-2.8 .2-2.9 .2 3.1 .2-1.2 .2-2.7 .2-.7 .2 1.2 .2 3.3 .1-.6 .2-.3 .2 .9 .2 .6 .2-4.8 .2 3.2 .2-1.0 .2-.7 .1 1.2 .2 .8 .2-.3 .2-2.1 .2 1.8 .2 4.3 .2-5.3 .2-1.2 .1 3.5 .2 .5 .2-.2 .2-2.8 .2 3.7 .2-3.1 .2-.6 .2 .9 .2 .9 .1 1.4 .2-.1 .2-1.1 .2 1.6 .2-1.5 .2 1.4 .2-3.9 .2-.3 .1 4.0 .2-3.7 .2 1.9 .2 .3 .2-.6 .2 .0 .2 3.1 .2-6.6 .2 5.8 .1 2.3 .2-3.8 .2 .0 .2 1.2 .2 1.8 .2-5.0 .2 2.1 .2-.4 .1 1.2 .2-.6 .2 .8 .2-1.8 .2 .8 .2-1.2 .2 .0 .2 .9 .1 .0 .2-1.7 .2 4.4 .2-2.7 .2-2.0 .2 4.0 .2-3.0 .2 2.0 .2-.8 .1 .4 .2-.1 .2-1.2 .2 1.0 .2 3.1 .2-6.7 .2 3.6 .2 .6 .1-2.3 .2-.5 .2 5.4 .2-3.9 .2 3.8 .2-2.4 .2-.7 .2 .6 .1 .3 .2 .8 .2-1.1 .2-.5 .2 .1 .2 1.7 .2-.8 .2-2.7 .2 .6 .1 1.4 .2-1.4 .2 .4 .2-.9 .2 1.0 .2 1.0 .2 .8 .2-1.4 .1 3.0 .2-3.1 .2 4.7 .2-3.2 .2-.7 .2-1.4 .2-3.3 .2 3.8 .1 .5 .2 2.4 .2-4.6 .2 4.6 .2-3.1 .2 1.4 .2-4.6 .2 3.8 .2-.7 .1 1.5 .2-.9 .2-1.7 .2 2.9 .2-.3 .2-.2 .2 .6 .2 .2 .1-1.6 .2-1.9 .2-.1 .2 3.9 .2-.9 .2-.9 .2-.7 .2 .6 .1 .0 .2-.5 .2-.5 .2 4.2 .2-2.9 .2-1.2 .2-1.1 .2 .9 .2 2.2 .1 .1 .2-1.5 .2 .4 .2-.6 .2-1.3 .2 3.9 .2-1.5 .2 3.5 .1-5.4 .2 1.1 .2 1.7 .2-1.9 .2-2.0 .2 .8 .2 1.8 .2 .4 .1-.8 .2 2.0 .2 .0 .2-1.2 .2-.6 .2-.5 .2 1.5 .2 .7 .2-1.6 .1 .7 .2-1.4 .2-2.0 .2 .8 .2 3.2 .2-.6 .2 2.1 .2-2.8 .1 1.5 .2 .8 .2-.6 .2-2.9 .2 .8 .2 .5 .2-2.0 .2 2.7 .2 .9 .1-2.7 .2 4.4 .2-4.0 .2 .1 .2 .0 .2-.8 .2 1.9 .2-.7 .1 2.9 .2-1.9 .2-.1 .2-1.3 .2-2.0 .2 2.2 .2-1.2 .2 3.0 .1-1.7 .2 2.9 .2-1.6 .2 .2 .2-1.0 .2-.1 .2 .8 .2 .4 .2-2.7 .1 2.0 .2 3.5 .2-4.4 .2-.3 .2-.7 .2-1.2 .2 4.2 .2-1.8 .1 .4 .2 2.5 .2 1.1 .2-5.5 .2 3.1 .2-.7 .2-.3 .2 .1 .1-.8 .2 2.6 .2-1.6 .2-.4 .2 1.5 .2-.6 .2-.7 .2-.3 .2 2.4 .1-2.1 .2-.9 .2-1.3 .2 .8 .2-1.1 .2 1.9 .2 .2 .2-3.8 .1 3.4 .2 1.1 .2-.8 .2-1.9 .2 3.7 .2-3.3 .2-.9 .2 .3 .1 1.8 .2 1.7 .2 .3 .2-1.6 .2-2.4 .2 .9 .2-.4 .2 1.2 .2-2.7 .1 3.2 .2 .9 .2-1.4 .2 1.1 .2-2.4 .2-.9 .2 1.4 .2 3.1 .1-.2 .2-2.6 .2 2.9 .2-2.7 .2 3.2 .2-1.8 .2-1.6 .2 2.2 .1-2.7 .2-.3 .2-.9 .2 2.9 .2-.5 .2 .0 .2-.6 .2 3.2 .2-3.2 .1-.5 .2 3.3 .2 .3 .2-1.8 .2-3.6 .2 2.0 .2 2.0 .2-1.0 .1 2.6 .2-4.9 .2 3.5 .2-2.3 .2 3.3 .2-2.3 .2 1.8 .2-2.8 .1-1.3 .2 .5 .2 .9 .2-.7 .2 3.7 .2 .2 .2-1.7 .2-2.2 .2 1.5 .1-.9 .2 3.5 .2-1.9 .2 .3 .2-1.5 .2-2.6 .2 2.0 .2-.6 .1 2.5 .2-.4 .2-1.5 .2 .7 .2 3.2 .2-4.2 .2 .1 .2 1.1 .2-.7 .1 .4 .2 1.6 .2 1.9 .2-5.7 .2 2.9 .2 .1 .2-.2 .2-.2 .1-.3 .2 2.2 .2-2.4 .2 .6 .2 .2 .2 .2 .2-.5 .2 1.9 .1-1.6 .2 .3 .2-.4 .2-1.5 .2 .3 .2-.4 .2 2.0 .2-1.4 .2-.6 .1 2.1 .2 .4 .2-3.6 .2 5.5 .2-2.6 .2-.3 .2 1.9 .2-1.6 .1-1.1 .2 4.5 .2-5.2 .2 1.5 .2 1.6 .2-3.1 .2 1.5 .2 .8 .1 3.3 .2-5.3 .2 1.3 .2 1.2 .2-1.0 .2-2.1 .2 2.7 .2-.5 .2 .5 .1 1.2 .2-.2 .2-1.0 .2-.2 .2-2.3 .2 1.6 .2 .6 .2-1.1 .1 .9 .2-1.6 .2 4.0 .2 1.1 .2-4.4 .2 1.4 .2-1.1 .2 2.6 .1-1.4 .2-.7 .2-.5 .2 .6 .2-2.0 .2 3.0 .2-2.5 .2 2.3 .2-.8 .1 1.8 .2-2.0 .2 1.9 .2-3.7 .2 3.0 .2-1.6 .2 .8 .2-.3 .1 1.8 .2-6.0 .2 4.8 .2-3.8 .2 5.6 .2-6.6 .2 2.0 .2-1.5 .1 7.1 .2-6.3 .2 3.0 .2-1.4 .2-2.8 .2 3.2 .2 2.3 .2-1.9 .2 2.6 .1-3.0 .2 .8 .2-.9 .2 1.7 .2 3.8 .2-3.7 .2-.4 .2-2.0 .1-.4 .2 5.6 .2-6.5 .2 .5 .2 2.1 .2-.9 .2 6.1 .2-11.1 .1 7.0 .2 .9 .2-4.7 .2 1.2 .2 2.8 .2 3.2 .2-6.7 .2-1.7 .2 6.6 .1 1.5 .2-4.9 .2-4.9 .2 9.6 .2-4.3 .2 3.4 .2-3.0 .2-.9 .1-.2 .2 5.0 .2-.1 .2-9.2 .2 3.1 .2 6.9 .2-5.4 .2-2.5 .1 3.4 .2-.3 .2 .1 .2-1.0 .2 .4 .2-.3 .2 1.9 .2-2.7 .2 1.2 .1 .4 .2 3.4 .2-2.2 .2-1.2 .2 1.5 .2-.3 .2 1.6 .2-1.3 .1 2.9 .2-1.1 .2-3.1 .2-.8 .2 2.9 .2-.9 .2-1.3 .2-3.0 .2-.8 .1 4.8 .2 .9 .2 .0 .2-4.5 .2 5.0 .2-3.3 .2 1.9 .2 .1 .1-2.6 .2 .5 .2-3.2 .2 2.5 .2-1.9 .2 4.7 .2-.8 .2 1.8 .1-1.2 .2-2.0 .2 2.0 .2-1.5 .2 2.1 .2-.7 .2-2.6 .2 2.0 .2 .1 .1-.7 .2 2.4 .2 1.7 .2-4.2 .2 .0 .2-3.9 .2 4.3 .2-.6 .1-3.5 .2 5.0 .2 .6 .2-2.7 .2 .8 .2-1.2 .2 3.4 .2-4.5 .1 2.4 .2 4.5 .2-3.8 .2 .8 .2-1.2 .2-2.0 .2 2.2 .2 .9 .2-2.8 .1 2.7 .2 1.7 .2-.3 .2-5.2 .2 1.2 .2-1.3 .2 5.3 .2-.9 .1 .2 .2-3.1 .2-.6 .2 2.4 .2 .1 .2-1.8 .2 1.9 .2 .9 .1-.8 .2-2.4 .2-2.0 .2 3.5 .2 .8 .2-.8 .2-.3 .2-.5 .2 2.6 .1-1.4 .2 .3 .2-2.0 .2 .6 .2 1.5 .2-2.2 .2-.4 .2 1.7 .1 2.8 .2-1.8 .2 2.3 .2-2.9 .2-.4 .2-2.0 .2 1.5 .2 3.7 .1-2.0 .2 .7 .2 .0 .2-1.3 .2-.4 .2 .6 .2 1.0 .2-.4 .2 .1 .1-.6 .2-1.7 .2 .9 .2-1.2 .2 3.5 .2-5.5 .2 3.3 .2 4.6 .1-4.8 .2-1.4 .2 2.0 .2 2.3 .2-2.6 .2 1.4 .2-.9 .2-.9 .1 6.3 .2-5.5 .2-1.0 .2 .0 .2 1.6 .2 .0 .2 .7 .2-1.2 .2-2.7 .1 3.4 .2-1.4 .2 .0 .2-2.1 .2 1.6 .2-.3 .2 1.2 .2-2.5 .1 2.7 .2 .1 .2-2.2 .2 .9 .2-.4 .2 3.1 .2-6.1 .2 3.9 .2-2.4 .1 2.2 .2 2.3 .2-2.6 .2 1.4 .2-1.8 .2 5.0 .2-1.8 .2 .4 .1-4.6 .2 .5 .2 4.0 .2-2.4 .2-.1 .2 1.1 .2-3.0 .2 3.9 .1-1.5 .2 .9 .2-2.2 .2 2.3 .2-2.4 .2 3.3 .2 .3 .2-.4 .2-.8 .1 .3 .2-6.7 .2 7.1 .2-2.3 .2 .8 .2-.8 .2-2.2 .2 1.7 .1 2.5 .2 1.5 .2-4.2 .2-.6 .2 5.0 .2-5.0 .2 6.3 .2-4.3 .1-2.0 .2 4.0 .2 1.6 .2-6.9 .2 6.7 .2-4.1 .2 3.9 .2-4.2 .2-2.7 .1 4.7 .2 1.0 .2 2.7 .2-.8 .2-2.4 .2-2.2 .2-.6 .2 .5 .1-1.3 .2 1.3 .2-5.4 .2 6.5 .2-.5 .2 6.3 .2-4.4 .2-3.0 .1 2.6 .2-4.4 .2 1.5 .2-3.1 .2 8.2 .2-2.1 .2-4.4 .2 2.7 .2 2.6 .1-1.2 .2-.2 .2-3.2 .2 .6 .2 1.8 .2 2.1 .2-4.4 .2-.8 .1 5.8 .2-5.3 .2 5.2 .2-2.2 .2 1.7 .2 2.2 .2-2.7 .2 .2 .1-4.3 .2 .5 .2 3.4 .2 2.3 .2-.4 .2 2.4 .2-5.1 .2-.3 .2 2.0 .1-2.5 .2-.2 .2-2.4 .2 5.1 .2-5.2 .2 4.0 .2-4.8 .2 6.2 .1-5.2 .2 4.6 .2-6.0 .2 2.8 .2 3.9 .2-4.7 .2 2.1 .2-1.3 .1-4.3 .2 6.1 .2 .3 .2-3.6 .2 3.9 .2-3.1 .2-.5 .2 2.3 .2-1.5 .1 6.6 .2-8.6 .2 5.1 .2 .6 .2-6.5 .2 .5 .2 5.0 .2-2.2 .1 1.8 .2 1.6 .2-3.2 .2-1.4 .2-3.5 .2 6.1 .2-2.3 .2 2.5 .2-.1 .1-3.3 .2 6.3 .2-1.3 .2-.5 .2-4.0 .2 1.5 .2-.3 .2 .3 .1-1.4 .2 3.0 .2-.4 .2 .3 .2-1.7 .2 3.5 .2-2.1 .2-5.6 .1 4.0 .2 1.1 .2 1.9 .2-2.4 .2 .1 .2-.8 .2 2.6 .2-2.1 .2-.3 .1-.3 .2 2.5 .2-2.1 .2-2.2 .2 4.4 .2-2.6 .2 2.1 .2 .0 .1 1.7 .2-.3 .2-3.2 .2 .8 .2-2.3 .2 6.0 .2-2.5 .2 2.0 .1-3.6 .2-3.6 .2 7.5 .2-3.0 .2 .1 .2-.2 .2 1.3 .2-.3 .2-4.5 .1 5.8 .2-3.6 .2 .2 .2 4.8 .2-1.8 .2-2.7 .2-3.4 .2 4.5 .1 .8 .2-1.4 .2-2.5 .2 1.0 .2-1.0 .2 3.2 .2 1.3 .2 .4 .1-3.8 .2 2.1 .2 .7 .2-2.3 .2 .8 .2 4.6 .2-3.9 .2 1.4 .2-2.7 .1 1.0 .2-3.4 .2 3.3 .2 2.3 .2 1.6 .2-1.7 .2-.9 .2-1.2 .1-1.2 .2 .8 .2 1.4 .2-2.5 .2 3.0 .2-3.3 .2-1.3 .2 1.3 .1-1.0 .2 .5 .2 4.0 .2-2.1 .2 .6 .2 1.5 .2 .1 .2-2.7 .2 2.8 .1-1.4 .2-.6 .2 .7 .2-2.8 .2 .9 .2 1.0 .2 1.1 .2-1.4 .1 .3 .2 1.6 .2 .6 .2-.9 .2 .7 .2-2.4 .2 .2 .2 .9 .1-.9 .2-.3 .2 3.0 .2-2.6 .2-1.1 .2 2.1 .2 1.9 .2-2.5 .2 1.6 .1-2.3 .2-.1 .2-.3 .2 .8 .2 2.8 .2-4.3 .2 4.0 .2-3.7 .1 1.1 .2 1.5 .2-.3 .2-.5 .2-2.8 .2 2.9 .2-2.0 .2 5.2 .2-4.0 .1 .6 .2-2.0 .2 1.0 .2-1.2 .2 3.4 .2-1.9 .2 1.2 .2-1.8 .1 .3 .2 2.6 .2-3.4 .2-1.2 .2 3.3 .2-2.3 .2 1.0 .2 2.1 .1-2.6 .2 2.5 .2-2.3 .2 3.3 .2-.3 .2-2.7 .2 .4 .2-1.0 .2 1.6 .1 1.5 .2-4.1 .2 3.7 .2-3.5 .2 .7 .2-1.4 .2 6.1 .2-3.2 .1 .3 .2-1.5 .2 2.8 .2-5.1 .2 3.4 .2 3.6 .2-4.2 .2 .6 .1 1.1 .2-2.4 .2 1.3 .2 1.6 .2-1.3 .2 .3 .2-1.2 .2 1.1 .2-.4 .1 2.4 .2-1.3 .2-1.6 .2-3.8 .2 5.4 .2 .1 .2-2.9 .2-2.0 .1 1.5 .2 3.8 .2-3.6 .2 1.1 .2 1.2 .2 1.9 .2-2.3 .2-.2 .1-.9 .2 4.3 .2-1.1 .2-2.3 .2-2.7 .2 1.3 .2 2.8 .2-2.7 .2 3.4 .1-1.1 .2-.2 .2 .9 .2-.4 .2-3.1 .2 1.2 .2 6.3 .2-8.4 .1 1.8 .2 3.7 .2-3.0 .2-1.6 .2-1.3 .2 4.7 .2 1.2 .2 1.0 .1-3.5 .2 2.6 .2-5.4 .2 3.1 .2-2.2 .2 2.3 .2 1.5 .2 .8 .2-5.4 .1 6.0 .2-4.7 .2-1.4 .2 2.3 .2-3.4 .2 3.8 .2 .8 .2-1.3 .1 1.9 .2-2.2 .2 .8 .2-3.6 .2 3.7 .2-2.2 .2 1.0 .2 .9 .1 .7 .2-4.4 .2 .2 .2 3.0 .2 1.8 .2-.3 .2 1.2 .2 .9 .2-1.8 .1-1.1 .2-2.2 .2 .2 .2 1.0 .2 1.6 .2-.1 .2-.5 .2-.3 .1 1.6 .2-.9 .2 .2 .2 .0 .2-1.7 .2-1.1 .2 3.2 .2-.1 .2-1.4 .1-.4 .2 5.8 .2-6.5 .2 1.1 .2 1.1 .2-3.2 .2 2.9 .2 3.7 .1-1.9 .2-.7 .2 .0 .2-1.1 .2 1.9 .2-2.6 .2-.6 .2 1.2 .1 2.0 .2-1.4 .2 .8 .2-6.5 .2 7.8 .2 2.9 .2-2.5 .2-4.1 .2-1.3 .1 2.8 .2-3.1 .2 4.2 .2-3.1 .2 3.7 .2 1.0 .2-8.4 .2 5.7 .1-2.4 .2-1.7 .2 1.9 .2 1.0 .2 2.9 .2-6.0 .2 6.0 .2 2.2 .1-3.2 .2-.2 .2-1.2 .2-2.6 .2 3.8 .2-.4 .2 .8 .2 3.8 .2-3.9 .1-.6 .2 2.3 .2-5.9 .2 .4 .2 1.6 .2-.6 .2 2.6 .2-1.9 .1 3.9 .2-.5 .2-1.4 .2-2.1 .2 1.8 .2 .4 .2-3.4 .2 2.5 .1 .7 .2-.9 .2 2.4 .2-.7 .2-3.5 .2 1.6 .2-1.6 .2 2.4 .2-2.5 .1 3.1 .2-.9 .2 1.0 .2-1.9 .2-2.3 .2 5.5 .2-3.3 .2 2.7 .1-1.7 .2 .5 .2 2.0 .2-2.6 .2 1.8 .2-5.0 .2 4.1 .2-1.9 .1 .2 .2 .2 .2 .6 .2 2.4 .2-6.3 .2 3.4 .2-1.4 .2 3.4 .2-2.9 .1 1.6 .2-1.5 .2 2.0 .2 .6 .2-2.7 .2 .9 .2-2.8 .2 3.3 .1 1.1 .2-2.8 .2 3.3 .2-6.4 .2 .4 .2 .9 .2 1.9 .2 1.0 .1-.2 .2 .1 .2 1.7 .2-2.6 .2-1.8 .2 .0 .2 7.6 .2-10.2 .2 5.0 .1 3.8 .2-2.3 .2-3.1 .2 2.0 .2 2.1 .2 .9 .2-5.3 .2 4.2 .1-1.3 .2 2.3 .2 .8 .2-4.6 .2-3.0 .2 5.0 .2 3.8 .2-3.0 .2-1.3 .1 6.2 .2-9.8 .2 5.6 .2-4.3 .2 1.8 .2 .2 .2 4.3 .2-7.5 .1 1.2 .2-3.3 .2 6.5 .2-2.9 .2 2.7 .2-4.7 .2 2.2 .2 4.6 .1-4.0 .2 2.7 .2-.4 .2-2.9 .2-4.0 .2 8.5 .2-2.7 .2 2.7 .2-10.1 .1 1.2 .2-1.7 .2 4.3 .2 6.5 .2-1.6 .2-2.0 .2 .5 .2 2.2 .1-3.6 .2 2.3 .2-.8 .2-7.9 .2 6.1 .2 5.8 .2-5.8 .2 .8 .1-1.5 .2 .4 .2 5.3 .2-4.6 .2-2.4 .2-6.7 .2 8.2 .2-4.4 .2 .5 .1 8.2 .2-.3 .2-8.1 .2 8.5 .2-1.2 .2-3.7 .2 4.5 .2-6.9 .1 1.2 .2-.6 .2 1.0 .2 5.6 .2-6.2 .2 .5 .2 .6 .2 3.1 .1-1.4 .2 3.2 .2-4.2 .2-1.4 .2 2.0 .2 1.4 .2-2.4 .2 3.0 .2 3.7 .1-5.8 .2 1.5 .2 3.1 .2-4.7 .2-.5 .2-.5 .2 3.4 .2 .2 .1-1.5 .2 .5 .2 2.7 .2-.9 .2-5.0 .2 3.0 .2 .3 .2 1.3 .1-2.0 .2-.9 .2 .4 .2-2.7 .2 3.6 .2-1.2 .2 2.2 .2-3.0 .2 1.2 .1-1.1 .2-.2 .2 3.5 .2-2.3 .2 1.8 .2-3.0 .2 2.3 .2-3.4 .1 2.3 .2 .0 .2 2.0 .2-.7 .2-.7 .2 1.9 .2-1.2 .2 .6 .1 .4 .2-1.5 .2-.4 .2 1.1 .2-1.3 .2 1.4 .2 1.3 .2-.4 .2-2.3 .1-1.6 .2 2.2 .2-.1 .2 2.2 .2-2.7 .2 .3 .2 1.7 .2-2.1 .1 .5 .2 3.4 .2-.4 .2-1.6 .2-.6 .2-2.2 .2 2.7 .2-.9 .2 .3 .1-1.3 .2 .9 .2-.3 .2 .9 .2 1.9 .2-1.8 .2-3.6 .2 1.2 .1-1.1 .2 1.4 .2 2.4 .2-.3 .2-1.7 .2 1.5 .2-1.8 .2-1.2 .1 .0 .2 1.0 .2 4.1 .2-5.1 .2 4.8 .2 .2 .2-2.8 .2 .2 .2-1.1 .1 1.2 .2 1.3 .2-1.3 .2 2.1 .2 .5 .2-1.8 .2-.1 .2-.9 .1 1.0 .2-3.7 .2 3.9 .2-.5 .2-3.0 .2 8.8 .2-9.3 .2 .2 .1 3.6 .2-7.5 .2 3.8 .2-2.8 .2 1.9 .2 3.2 .2 1.8 .2 3.4 .2-1.2 .1 1.8 .2-2.6 .2-5.0 .2 7.7 .2-7.9 .2-.7 .2 11.0 .2-3.8 .1-2.9 .2 2.8 .2 .7 .2-12.1 .2 6.9 .2-5.9 .2 7.1 .2-4.3 .1 10.8 .2-4.5 .2-6.9 .2 4.1 .2-5.9" fill="none" stroke="#0000ff" stroke-opacity="0.55" stroke-width="0.5"/><path d="M77.0 147.7l.1 1.0 .2-.6 .1-4.3 .1 3.1 .1 1.7 .2-.4 .1 1.7 .1-4.9 .1 3.6 .2-2.3 .1 1.7 .1 .4 .1 .6 .2-2.6 .1 1.6 .1-2.9 .1-.6 .2 4.3 .1-1.3 .1-3.5 .1 1.7 .2 1.9 .1 3.5 .1-1.2 .1-.5 .2-6.0 .1 3.9 .1 1.4 .2-.2 .1 .1 .1-1.6 .1 4.8 .2-.6 .1-3.9 .1-2.2 .1 7.6 .2-6.6 .1 4.5 .1 1.9 .1-7.4 .2 3.2 .1-1.7 .1 2.3 .1-.5 .2 4.4 .1-3.7 .1-1.6 .1 3.1 .2-3.8 .1-.3 .1 7.3 .2-8.6 .1 1.0 .1 1.5 .1-3.1 .2-3.0 .1 8.9 .1-5.2 .1 .7 .2 .5 .1-1.8 .1-.2 .1 3.5 .2 6.4 .1-4.8 .1 .1 .1-6.5 .2 4.3 .1-3.3 .1 5.5 .1-2.8 .2 .7 .1-.3 .1-1.4 .1-2.6 .2 5.8 .1-5.4 .1 .6 .2 2.4 .1-1.1 .1 2.6 .1 2.1 .2-2.1 .1-.1 .1-.5 .1 2.2 .2-7.1 .1 5.8 .1-3.3 .1-.8 .2 3.2 .1-1.0 .1 2.4 .1 1.3 .2-8.4 .1 5.5 .1 4.9 .1-2.7 .2 1.4 .1-3.2 .1-3.6 .2 .8 .1 4.2 .1 .5 .1-3.8 .2 1.1 .1 1.1 .1-4.4 .1 3.1 .2 4.3 .1 1.1 .1-4.9 .1 4.1 .2-4.9 .1-.6 .1-2.9 .1 6.5 .2-2.7 .1 5.5 .1-4.1 .1-.2 .2-4.0 .1 6.5 .1-3.6 .1 .4 .2-4.0 .1 6.1" fill="none" stroke="#0000ff" stroke-opacity="0.75" stroke-width="0.6"/><path d="M131.0 149.5l.1-3.1 .2 1.4 .1 .5 .1 1.1 .1-1.6 .2 3.1 .1-3.8 .1-.7 .1 .3 .2-4.1 .1 3.4 .1 3.6 .1-1.5 .2-2.1 .1 2.3 .1-4.8 .1 3.5 .2 1.7 .1 .3 .1-3.0 .1 3.5 .2 2.0 .1-4.8 .1 2.5 .1-4.9 .2-.9 .1 5.5 .1-1.2 .2 .3 .1-1.7 .1 .6 .1 2.5 .2 2.0 .1-4.3 .1-3.3 .1 6.7 .2-1.5 .1 .2 .1-1.2 .1 5.0 .2-5.2 .1 1.0 .1-5.6 .1 3.0 .2-.3 .1 1.6 .1 .9 .1-2.6 .2 6.0 .1-6.8 .1 1.5 .2 1.7 .1-3.7 .1 4.5 .1 .1 .2-2.3 .1 5.5 .1-4.5 .1 .5 .2-3.1 .1-1.8 .1 2.6 .1 .8 .2-.4 .1 3.1 .1-7.9 .1 3.1 .2-1.7 .1 7.9 .1-4.7 .1 .1 .2-1.5 .1 5.0 .1-3.2 .1 1.5 .2-5.5 .1 7.8 .1-1.9 .2 .4 .1 1.7 .1-3.5 .1 .1 .2 2.1 .1-.7 .1-1.6 .1 .7 .2-1.3 .1 2.8 .1 .5 .1-2.1 .2 4.3 .1-7.8 .1 3.0 .1 4.3 .2-4.7 .1-2.6 .1 6.6 .1-1.9 .2-3.8 .1 4.3 .1-3.9 .2-.7 .1 2.6 .1-.7 .1-1.3 .2 1.5 .1-1.3 .1 2.2 .1-.1 .2 1.5 .1-2.4 .1-1.8 .1 .1 .2 2.1 .1 3.5 .1-1.3 .1-3.0 .2 3.1 .1-4.0 .1 4.2 .1-2.7 .2 2.2 .1-.3 .1-1.7 .1 1.1 .2-2.6 .1 1.9" fill="none" stroke="#0000ff" stroke-opacity="0.75" stroke-width="0.6"/><path d="M201.0 149.7l.1 5.8 .2-6.5 .1-1.2 .1-2.1 .1 4.0 .2-5.3 .1 1.7 .1 2.2 .1-3.0 .2 5.3 .1-.8 .1-3.3 .1 .0 .2-1.5 .1-.2 .1 3.7 .1 .3 .2-.5 .1-.2 .1-1.6 .1 1.8 .2-3.7 .1 3.0 .1 3.0 .1-.3 .2-3.6 .1 .2 .1 3.5 .1 .9 .2-6.8 .1 2.2 .1 1.4 .1 2.1 .2-4.4 .1 3.2 .1-2.0 .1 5.6 .2-4.1 .1-1.2 .1-.4 .1 3.0 .2-.8 .1-3.8 .1 2.8 .1-3.4 .2 1.2 .1-1.1 .1-.1 .1 1.4 .2-.7 .1 3.4 .1 .6 .2-2.3 .1-2.0 .1 4.3 .1-6.4 .2 .2 .1 6.1 .1-.2 .1 .7 .2-2.7 .1-2.4 .1 1.7 .1 2.5 .2-3.1 .1 .1 .1-1.6 .1 .5 .2 4.8 .1-.9 .1-3.9 .1 .2 .2 1.2 .1 2.7 .1-4.1 .1 2.4 .2-4.9 .1 2.2 .1 4.1 .1 1.2 .2-5.1 .1 1.0 .1 3.9 .1-3.0 .2-.4 .1 2.7 .1-.8 .1 2.3 .2-.8 .1-3.5 .1 1.2 .1 .1 .2-3.3 .1 1.0 .1 5.0 .1-6.6 .2 6.7 .1-1.9 .1-1.1 .1 1.8 .2-.2 .1 2.0 .1-4.3 .2 .5 .1-.1 .1 5.7 .1-2.5 .2-5.0 .1 1.6 .1-1.0 .1 1.9 .2 .6 .1 5.5 .1-11.0 .1 7.6 .2-1.5 .1-3.1 .1 1.5 .1-.9 .2 1.4 .1 2.6 .1-6.8 .1 7.6 .2-4.5 .1 5.0 .1-2.9 .1 2.2 .2-1.8 .1 1.4 .1-2.7 .1-2.4 .2 4.0 .1 .1 .1 3.7 .1-11.0 .2 4.9 .1 3.3 .1-6.1 .1 2.7 .2 6.3 .1-1.9 .1-6.1 .1 6.1 .2-.6 .1-1.1 .1-1.1 .1-.4 .2-2.9 .1 1.0 .1 3.2 .1-1.5 .2 4.5 .1-5.8 .1-5.3 .2 5.4 .1 1.5 .1 .3 .1-.8 .2-2.3 .1 6.0 .1-5.6 .1 3.5 .2-2.5 .1-2.3 .1 6.6 .1-9.9 .2 4.2 .1 3.2 .1-2.0 .1 2.8 .2-2.1 .1-.9 .1 6.5 .1-5.9 .2 .2 .1-2.3 .1 .8 .1 3.4 .2-.2 .1-1.3 .1-1.7 .1 3.3 .2-5.7 .1 3.2 .1 .3 .1-1.5 .2 2.4 .1-1.9 .1-.3 .1 6.1 .2-2.5 .1 1.0 .1-2.6 .1 2.1 .2-.4 .1 .9 .1 2.7 .1-5.9 .2 1.1 .1-.7 .1-7.8 .1 4.8 .2 3.1 .1 1.4 .1-2.7 .2 3.8 .1 .3 .1-3.7 .1 4.0 .2 .7 .1-2.8 .1-3.1 .1 5.2 .2-3.5 .1-.4 .1 1.0 .1-1.3 .2 3.4 .1-.7 .1 1.0 .1-1.4 .2-2.9 .1 1.4 .1 2.1 .1-2.6 .2 6.8 .1-6.5 .1-.7 .1 3.5 .2-.8 .1-1.6 .1-.4 .1 1.4 .2 .8 .1-.2 .1-2.1 .1 1.5 .2 .8 .1-.2 .1-7.6 .1 4.3 .2 .3 .1 1.0 .1 .8 .1 1.5 .2-.6 .1-1.4 .1 .2 .1 3.4 .2-4.6 .1 1.8 .1 2.4 .1-2.3 .2-4.6 .1 4.6" fill="none" stroke="#0000ff" stroke-opacity="0.75" stroke-width="0.6"/><path d="M274.0 146.9l.1 .6 .2 2.3 .1-1.2 .1-1.4 .1 2.3 .2-.9 .1-.7 .1 .4 .1-.1 .2-1.2 .1-.2 .1 1.0 .1-2.1 .2-.7 .1 5.5 .1-3.3 .1 .4 .2-.2 .1 .4 .1-.1 .1 .1 .2-1.9 .1 3.9 .1-3.7 .1 4.0 .2-6.8 .1 2.0 .1 4.7 .1-2.6 .2-1.3 .1 2.5 .1-3.4 .2 2.7 .1-5.6 .1 4.3 .1-.5 .2 2.9 .1 .9 .1-4.4 .1 6.3 .2-5.6 .1-3.8 .1-.9 .1 10.2 .2-4.2 .1-1.5 .1-.3 .1-.9 .2 6.6 .1-3.9 .1 5.1 .1-5.5 .2-5.9 .1 8.9 .1-3.4 .1 .3 .2 5.2 .1-5.3 .1 4.1 .1-3.3 .2-2.2 .1 3.7 .1-3.3 .2 5.4 .1-.8 .1-2.6 .1 1.6 .2-.1 .1-2.5 .1 3.5 .1-3.4 .2 2.6 .1-4.8 .1 3.2 .1 1.0 .2-3.7 .1 1.1 .1-.3 .1 3.8 .2-4.4 .1 3.5 .1 3.3 .1-3.5 .2-6.0 .1 5.3 .1 2.8 .1-4.0 .2 4.2 .1-1.5 .1-.6 .1-2.1 .2-.7 .1 .8 .1 .9 .1 1.4 .2-.3 .1-2.2 .1 1.1 .2 1.0 .1-5.8 .1 2.4 .1 .0 .2 1.7 .1-.2 .1 .0 .1-1.7 .2 4.3 .1-1.1 .1-5.3 .1 4.6 .2-3.1 .1 7.6 .1-5.8 .1 .2 .2 1.3 .1-.8 .1 .4 .1 4.1 .2-3.4 .1 1.6 .1 .7 .1-5.3 .2 6.6 .1-2.5 .1 .7 .1-4.4 .2 4.0 .1-1.0 .1-2.2 .2 6.6 .1-4.0 .1-1.9 .1 1.0 .2 1.6 .1 .5 .1-1.3 .1 1.4 .2 .6 .1-6.0 .1 1.7 .1-1.0 .2 2.3 .1 2.8 .1-1.7 .1-3.6 .2 1.6 .1 2.8 .1-3.3 .1 .9 .2 .9 .1-4.4 .1 5.3 .1-.9 .2 .5 .1-3.1 .1 .4 .1 .4 .2 1.6 .1-.3" fill="none" stroke="#0000ff" stroke-opacity="0.75" stroke-width="0.6"/><path d="M283.0 148.0l.1 3.3 .2-1.0 .1-4.0 .1 .1 .1 4.8 .2-4.1 .1 3.5 .1 .4 .1-4.4 .2 .6 .1 .7 .1-2.0 .1-.2 .2 1.2 .1 2.7 .1-2.8 .1 .5 .2-.6 .1-1.9 .1 6.2 .1-8.4 .2 3.7 .1 2.7 .1-4.4 .1 4.5 .2 1.5 .1-4.8 .1 2.4 .1-3.0 .2 3.7 .1-.9 .1 .3 .1 2.7 .2-2.1 .1 2.1 .1-1.7 .1-4.5 .2 3.6 .1 .6 .1-4.9 .2 7.0 .1-3.2 .1 .8 .1-3.3 .2 2.5 .1 .6 .1-1.6 .1 1.1 .2-5.9 .1 9.3 .1-6.7 .1-2.9 .2 3.3 .1 .3 .1 3.9 .1-4.1 .2 3.4 .1-3.6 .1 9.0 .1-4.7 .2 4.1 .1-8.6 .1 4.9 .1-4.8 .2 4.6 .1 .3 .1-6.8 .1 1.3 .2-.1 .1-1.0 .1 2.3 .1-.7 .2-1.5 .1 4.7 .1 1.4 .1-5.7 .2 2.3 .1 1.8 .1-.8 .2-1.5 .1 4.8 .1 .1 .1-.5 .2-2.8 .1 7.0 .1-.8 .1-6.8 .2 .9 .1 4.1 .1-6.3 .1 3.8 .2-1.1 .1-2.4 .1 1.5 .1-4.3 .2 3.3 .1-4.7 .1 13.8 .1-2.5 .2-.9 .1-3.0 .1 2.2 .1 .9 .2-.8 .1-.3 .1-5.9 .1 4.3 .2-3.1 .1-2.0 .1 .1 .1 5.0 .2 1.9 .1-7.6 .1 9.7 .2-.8 .1-5.8 .1-.2 .1 1.2 .2 3.2 .1-4.2 .1-2.1 .1 4.3 .2-7.2 .1 6.6 .1 3.0 .1-2.5 .2 1.4 .1-.9 .1 .7 .1-1.7 .2-2.8 .1 1.8 .1 .4 .1 3.7 .2 1.1 .1-3.4 .1-3.3 .1 .1 .2 1.5 .1 4.3 .1-2.9 .1-1.0 .2-1.9 .1 4.3 .1-1.5 .1-.9 .2 .4 .1 4.0 .1-4.7 .1 4.7 .2-1.2 .1-3.0 .1 2.1 .2-2.5 .1-1.7 .1 1.4 .1-1.6 .2 3.4 .1-1.2 .1 1.3 .1 .6 .2-9.2 .1 8.0 .1-4.8 .1 4.5 .2-2.4 .1 2.2 .1 2.9 .1-6.9 .2 4.2 .1-.6 .1-3.9 .1 5.5 .2-1.3 .1-1.2 .1-.4 .1 8.3 .2-7.6 .1-3.0 .1 1.9 .1 1.1 .2 .0 .1 .6 .1-1.9 .1 3.2 .2-2.1 .1-1.7 .1 1.1 .1 .8 .2 2.5 .1-.7" fill="none" stroke="#0000ff" stroke-opacity="0.75" stroke-width="0.6"/><path d="M295.0 147.0l.1 .7 .2 .4 .1 3.6 .1-5.2 .1 2.1 .2 .5 .1-3.3 .1 2.3 .1-.1 .2-1.2 .1 2.1 .1 .9 .1 .2 .2-2.7 .1 .8 .1 4.5 .1-7.2 .2 2.8 .1 1.4 .1-1.6 .1 1.1 .2-1.0 .1 1.2 .1 1.2 .1-3.3 .2 .9 .1-.5 .1-.8 .1 .9 .2-2.6 .1 4.3 .1 2.2 .2 .1 .1-1.0 .1-5.3 .1 5.9 .2-5.3 .1 1.6 .1 4.6 .1-7.1 .2 4.7 .1-1.4 .1-1.1 .1-1.8 .2 3.3 .1-2.3 .1 3.9 .1 .4 .2-6.7 .1 2.3 .1 .5 .1-2.3 .2 .1 .1 3.2 .1-.8 .1-3.8 .2 2.9 .1 2.9 .1-4.7 .1 .8 .2 6.9 .1-.8 .1-8.1 .2 .7 .1 4.9 .1-4.4 .1 2.6 .2-.6 .1 2.9 .1-8.7 .1 .9 .2 2.7 .1 6.4 .1-3.3 .1-4.5 .2 6.3 .1 .6 .1-2.7 .1-.2 .2 2.1 .1 2.3 .1-3.1 .1 1.1 .2-1.6 .1-1.0 .1-1.5 .1 3.3 .2-1.6 .1 .2 .1 3.3 .1-1.2 .2 1.0 .1-6.8 .1 6.0 .1-3.2 .2-.6 .1-.1 .1 5.6 .2-1.0 .1-4.3 .1-1.1 .1 3.1 .2-1.2 .1 5.6 .1-8.3 .1-.9 .2 4.1 .1 .7 .1 .3 .1 1.6 .2 3.4 .1-6.2 .1-.5 .1-3.0 .2 5.0 .1 1.5 .1-2.7 .1 3.5 .2-2.8 .1 3.6 .1-2.9 .1-3.3 .2 1.0 .1-2.1 .1-.5 .1 4.7 .2 1.4 .1 2.5 .1-4.6 .2-.4 .1-2.0 .1 4.7 .1-1.3 .2-2.2 .1 2.8 .1-.3 .1-5.2 .2 5.6 .1-1.3 .1-1.1 .1-.1 .2 4.6 .1-.5 .1 .6 .1-6.2 .2 1.1 .1 3.1 .1-4.3 .1 1.0 .2-2.1 .1 7.3 .1-1.6 .1-1.2 .2-.5 .1-1.2 .1 .0 .1 2.0 .2-2.6 .1 3.8" fill="none" stroke="#0000ff" stroke-opacity="0.75" stroke-width="0.6"/><path d="M317.0 146.8l.1-.8 .2 4.2 .1-2.8 .1 1.4 .1-1.9 .2-3.6 .1 5.5 .1-3.8 .1 4.9 .2-5.3 .1-.7 .1 4.4 .1 .3 .2-.7 .1-2.7 .1 4.3 .1-4.9 .2 2.1 .1-.7 .1 .9 .1 2.6 .2-3.2 .1 2.6 .1 .3 .1-5.3 .2 1.2 .1 1.7 .1-.4 .2 2.0 .1-5.1 .1 6.1 .1 .0 .2-2.1 .1-2.9 .1 3.3 .1-1.3 .2 2.7 .1-1.6 .1 2.0 .1-2.9 .2 4.7 .1-9.3 .1 3.1 .1 3.8 .2-5.0 .1 5.7 .1-5.0 .1 3.3 .2-2.6 .1 1.3 .1 1.6 .2-.8 .1-.7 .1 6.7 .1-5.7 .2-2.6 .1 5.1 .1-.3 .1 1.1 .2 1.5 .1-7.3 .1 5.3 .1 .3 .2-3.1 .1 .7 .1-8.7 .1 6.5 .2 6.3 .1-9.6 .1 3.4 .1 2.2 .2 .7 .1 2.8 .1-8.9 .1 4.7 .2 2.1 .1-5.6 .1 3.3 .2 5.0 .1-1.5 .1-2.0 .1-8.0 .2 6.3 .1 1.3 .1-1.8 .1 .6 .2 7.8 .1-8.1 .1-1.9 .1 3.0 .2-1.4 .1 .1 .1 .5 .1 2.0 .2-1.2 .1-3.4 .1 2.5 .1 1.4 .2-2.2 .1 3.7 .1-.9 .2-3.9 .1 2.9 .1 3.6 .1-.9 .2-3.5 .1 2.0 .1-3.3 .1-1.6 .2 4.2 .1-.7 .1 .6 .1-1.2 .2 .8 .1-1.7 .1 2.0 .1 .7 .2-1.8 .1 1.7 .1-5.1 .1 2.0 .2 4.3 .1 .6 .1-2.9 .1-.7 .2-2.2 .1 3.1" fill="none" stroke="#0000ff" stroke-opacity="0.75" stroke-width="0.6"/><path d="M392.0 149.1l.1-4.2 .2 3.8 .1-.1 .1-.1 .1-2.9 .2 3.1 .1-3.8 .1 5.6 .1-2.5 .2-2.5 .1 4.8 .1-.4 .1-3.5 .2 5.6 .1-6.3 .1 2.6 .1 1.7 .2-6.8 .1 6.5 .1-2.1 .1 .1 .2-2.2 .1 2.9 .1-3.0 .1 .3 .2 1.1 .1-1.6 .1 5.8 .2-6.1 .1 1.2 .1 .9 .1 .7 .2 1.7 .1 .0 .1-2.3 .1-.2 .2 .9 .1 1.7 .1-.3 .1-2.6 .2-3.4 .1 9.2 .1-2.6 .1-1.5 .2 .2 .1-2.0 .1-1.1 .1 1.5 .2 .3 .1-.9 .1-1.9 .2 2.6 .1 2.0 .1-2.4 .1 1.2 .2-4.9 .1 4.3 .1 .2 .1-2.5 .2-1.2 .1 5.0 .1-2.9 .1 3.0 .2-2.1 .1 2.4 .1-2.2 .1-2.7 .2 3.3 .1-.6 .1 2.3 .1-2.5 .2 .1 .1 2.9 .1 .7 .1-1.0 .2 .7 .1-1.4 .1 .7 .2 .3 .1-1.1 .1-.8 .1 .2 .2 5.1 .1-5.4 .1-.5 .1-.3 .2 .7 .1 .6 .1-3.0 .1-1.8 .2 4.9 .1-4.0 .1 4.0 .1-.3 .2 2.1 .1 1.1 .1-2.7 .1-2.0 .2-1.2 .1 .8 .1 1.7 .2-4.3 .1 4.4 .1-.2 .1 1.3 .2-2.0 .1 .9 .1-1.7 .1 .6 .2-2.6 .1 3.7 .1 2.8 .1-2.7 .2 .4 .1-2.6 .1 4.7 .1-4.3 .2 3.0 .1-1.3 .1-2.0 .1 3.7 .2-1.9 .1 .3 .1 .5 .1-.8 .2-.7 .1 1.6" fill="none" stroke="#0000ff" stroke-opacity="0.75" stroke-width="0.6"/><path d="M442.0 146.9l.1 .9 .2-1.4 .1-1.5 .1 1.5 .1 .4 .2 .9 .1 2.3 .1-5.6 .1 3.5 .2-4.5 .1 2.3 .1 1.0 .1-3.4 .2 .7 .1 4.0 .1-.1 .1-.4 .2-1.4 .1 5.9 .1-4.6 .1-1.4 .2 5.1 .1-2.1 .1-2.1 .1 3.3 .2-2.2 .1 1.0 .1-.8 .1-2.7 .2 4.3 .1-1.8 .1-2.5 .2 .6 .1 3.7 .1-2.9 .1 .9 .2 1.3 .1-1.1 .1-3.7 .1 4.8 .2 .7 .1-.2 .1 1.7 .1-2.8 .2 1.0 .1 1.8 .1-4.3 .1 4.7 .2 .0 .1-2.2 .1 2.5 .1-2.3 .2-4.1 .1 4.8 .1-1.9 .1 .2 .2-.6 .1 2.9 .1-2.0 .1-3.0 .2 2.9 .1 .6 .1-3.6 .2 .7 .1 .2 .1-.6 .1 2.4 .2 1.6 .1 2.2 .1-1.7 .1-.5 .2 .3 .1 .5 .1-4.2 .1 2.6 .2-.9 .1-1.1 .1-.8 .1-.2 .2 .6 .1-2.4 .1 4.4 .1-1.4 .2 .4 .1 .5 .1 1.0 .1-3.3 .2 1.2 .1-3.7 .1-1.5 .1 .7 .2 8.6 .1-8.3 .1 5.7 .1 2.4 .2-4.7 .1 5.1 .1 .5 .2-2.2 .1 3.4 .1-4.2 .1-3.2 .2 2.9 .1-2.2 .1-2.1 .1 .1 .2 8.4 .1-6.7 .1 1.3 .1-1.5 .2 1.8 .1-.8 .1-.4 .1-1.8 .2-.5 .1 1.5 .1 2.4 .1 4.0 .2-2.3 .1 1.7 .1-3.0 .1-1.3 .2-2.7 .1 2.9 .1-4.6 .1 4.0 .2 4.1 .1-2.8 .1 1.7 .2-3.2 .1-2.0 .1 1.8 .1 .2 .2 3.3 .1 1.6 .1-5.6 .1 .8 .2 .5 .1-.5 .1-1.8 .1 2.7 .2 .6 .1 .0 .1-3.1 .1 2.1 .2-3.2 .1 5.2 .1-3.7 .1 1.4 .2-.3 .1-.3 .1-.9 .1-1.3 .2 6.7 .1-2.9 .1 .1 .1 3.4 .2-4.1 .1 1.2" fill="none" stroke="#0000ff" stroke-opacity="0.75" stroke-width="0.6"/><path d="M488.0 147.8l.1 2.2 .2-1.3 .1-.3 .1-1.1 .1 1.0 .2 1.7 .1-6.2 .1 3.7 .1-.5 .2 .2 .1-3.2 .1 5.2 .1-3.1 .2 1.2 .1-.5 .1-2.3 .1 2.4 .2-2.7 .1 1.7 .1 1.2 .1 .7 .2 .1 .1-.4 .1 4.5 .1-3.4 .2-3.3 .1 1.2 .1 .0 .1 .9 .2-.8 .1-.6 .1 5.1 .1-3.2 .2-.8 .1 .2 .1 .0 .1 3.3 .2-1.8 .1 1.3 .1-8.8 .1 7.1 .2 1.6 .1 1.9 .1-4.1 .1-3.6 .2 4.8 .1-2.5 .1-2.5 .1 2.5 .2 3.5 .1 .3 .1-1.0 .2-3.8 .1 7.7 .1-7.9 .1 2.3 .2-3.0 .1 6.1 .1-1.9 .1 .9 .2-1.7 .1-.4 .1 .6 .1-4.6 .2 6.4 .1-.2 .1-2.9 .1 .9 .2 .7 .1 2.8 .1-2.5 .1-.9 .2-1.3 .1-2.2 .1 2.0 .1 1.6 .2-.8 .1 .8 .1 1.5 .1-.7 .2-.4 .1 .9 .1-1.1 .1-.5 .2 1.2 .1-5.2 .1 7.1 .1-6.1 .2 5.1 .1-2.0 .1 2.7 .1-2.6 .2-2.4 .1 4.9 .1-2.1 .1-.2 .2-.1 .1 2.3 .1-.5 .1-1.4 .2-4.4 .1 2.8 .1 1.3 .2 4.1 .1-3.4 .1-1.2 .1 3.2 .2-3.2 .1 .2 .1 .4 .1-4.1 .2 6.1 .1-1.3 .1-1.8 .1-2.1 .2 3.4 .1 2.9 .1-5.1 .1-1.0 .2 3.7 .1-5.0 .1-1.6 .1 4.4 .2-.6 .1 1.0 .1-.6 .1 2.2 .2-1.4 .1-1.0 .1 .4 .1 2.7 .2 .8 .1-.1 .1-.5 .1-10.0 .2 5.7 .1 1.8 .1 1.3 .1-4.6 .2 7.6 .1-2.8 .1-2.3 .1 2.0 .2-1.3 .1-1.0 .1 3.1 .1-2.4 .2-2.3 .1 1.9 .1 1.3 .1-2.4 .2 5.7 .1-5.7 .1 6.9 .2-2.1 .1-4.4 .1 2.6 .1 2.5 .2-3.3 .1-2.4 .1 3.1 .1 4.5 .2-8.3 .1 4.9 .1-1.3 .1-.3 .2-.7 .1 .2 .1 3.2 .1-1.0 .2-3.8 .1 6.0 .1-6.7 .1 4.6 .2-1.1 .1 2.3 .1-1.9 .1 1.6 .2-2.5 .1 2.3 .1-1.5 .1 4.2 .2-6.5 .1 4.3 .1-1.7 .1-.6 .2-1.7 .1 2.3 .1-4.3 .1 .2 .2 4.6 .1-5.0 .1 6.6 .1-3.7 .2 1.1 .1-.4 .1 .8 .1-1.5 .2-.2 .1 .5 .1 2.5 .1 .2 .2 .3 .1-2.0 .1-1.2 .2-3.1 .1 4.9 .1 .4 .1-2.6 .2 2.5 .1 1.0 .1-2.4 .1 2.0 .2-1.6 .1-4.2 .1 2.6 .1 .1 .2 1.9 .1-2.8 .1 .9 .1-1.1 .2 1.9 .1 .2 .1 1.8 .1-.3 .2-1.3 .1 .1 .1-.2 .1 .0 .2 2.8 .1-8.0 .1 4.6 .1 1.0 .2 1.6 .1-4.4 .1 2.8 .1 1.0 .2-2.5 .1-2.9 .1 3.1 .1-1.7 .2 3.6 .1-2.9 .1 5.1 .1-3.2 .2-1.8 .1 .6 .1-1.1 .1 2.8 .2 2.1 .1-3.3 .1 2.2 .1-3.5 .2 2.3 .1 3.8" fill="none" stroke="#0000ff" stroke-opacity="0.75" stroke-width="0.6"/><path d="M518.0 145.2l.1 5.0 .2-.1 .1-5.9 .1 .9 .1 .8 .2 3.8 .1-2.7 .1 .5 .1 1.8 .2-1.2 .1 .2 .1-1.1 .1 2.9 .2-3.8 .1 5.0 .1-4.1 .1-1.0 .2 3.0 .1-.4 .1-5.2 .1 4.7 .2-3.4 .1 1.2 .1 3.5 .1-3.6 .2 2.7 .1-1.7 .1 5.2 .2-4.6 .1-2.4 .1 .1 .1 .5 .2 2.4 .1-.3 .1 2.3 .1-1.9 .2-.1 .1 .5 .1-1.2 .1 1.1 .2 1.2 .1 .0 .1-3.3 .1-3.1 .2 2.4 .1 2.8 .1-7.1 .1 5.1 .2 2.4 .1-2.6 .1-1.5 .2 7.6 .1-1.0 .1-4.3 .1 4.2 .2-.1 .1-6.4 .1 10.1 .1-9.6 .2 1.8 .1-2.3 .1 3.2 .1-3.8 .2 3.5 .1 2.9 .1-2.3 .1-1.3 .2 4.9 .1-6.5 .1 4.9 .1-3.4 .2 1.4 .1-.5 .1 .3 .1-.5 .2-1.9 .1 .6 .1 2.6 .2-1.5 .1-2.7 .1 1.2 .1 .1 .2 1.6 .1 .6 .1-.3 .1-1.8 .2 1.7 .1-3.4 .1-3.7 .1 6.9 .2-3.9 .1 1.7 .1-.6 .1 4.4 .2-4.3 .1 3.4 .1-1.7 .1-1.7 .2-.8 .1 4.6 .1-.2 .2 .9 .1 2.3 .1-3.5 .1 .1 .2-.9 .1 .5 .1-1.0 .1-1.1 .2 6.0 .1-8.0 .1 4.4 .1 .3 .2-.6 .1-2.2 .1 1.5 .1-.5 .2-1.2 .1 2.0 .1-.7 .1-.3 .2 2.4 .1-3.3 .1 2.9 .1-2.1 .2 2.0 .1-.7" fill="none" stroke="#0000ff" stroke-opacity="0.75" stroke-width="0.6"/><path d="M552.0 148.2l.1-2.4 .2 .4 .1-.2 .1 2.0 .1 1.2 .2 .6 .1-3.1 .1 1.2 .1-3.5 .2-1.2 .1 2.7 .1 .4 .1-1.9 .2-.5 .1 4.9 .1-2.8 .1-1.9 .2 8.6 .1-4.7 .1-1.0 .1 2.2 .2-3.2 .1 5.2 .1-7.0 .1 .5 .2 2.6 .1-1.4 .1 5.1 .2-7.2 .1 2.1 .1 2.3 .1 .8 .2 1.1 .1-1.6 .1 4.6 .1-6.7 .2 1.7 .1 1.7 .1-3.0 .1 .1 .2-.5 .1-.5 .1-1.3 .1 1.5 .2-2.6 .1 5.1 .1-5.3 .1 9.9 .2-.9 .1-1.7 .1-3.6 .2-1.0 .1 5.0 .1-2.9 .1 1.0 .2-3.6 .1 5.1 .1-5.3 .1 2.6 .2-5.2 .1 3.0 .1 3.3 .1-2.7 .2 .0 .1 3.5 .1-2.4 .1 3.7 .2-10.4 .1 8.5 .1-.2 .1-5.8 .2 .7 .1 6.1 .1-5.4 .1 1.2 .2 3.4 .1-2.6 .1 2.3 .2-3.7 .1 3.2 .1 2.1 .1-2.1 .2-6.7 .1 7.6 .1-1.6 .1-2.5 .2 6.0 .1-8.1 .1 9.2 .1-6.3 .2 5.5 .1-4.0 .1-3.2 .1 3.5 .2 .6 .1 .5 .1 1.2 .1-4.7 .2 3.3 .1 .6 .1-2.4 .2-1.5 .1 .0 .1 3.9 .1 .1 .2-3.7 .1-1.1 .1 5.7 .1-6.1 .2 3.7 .1-2.0 .1-2.0 .1 3.9 .2-.6 .1 3.4 .1 1.6 .1-5.0 .2 2.5 .1 .0 .1-3.2 .1-.6 .2 4.9 .1-3.9 .1 .6 .1-.5 .2 .3 .1-.9" fill="none" stroke="#0000ff" stroke-opacity="0.75" stroke-width="0.6"/><path d="M565.0 149.0l.1 1.0 .2-3.1 .1-2.0 .1 2.8 .1-3.0 .2 1.6 .1 3.7 .1 2.2 .1-3.9 .2-2.9 .1 3.8 .1-6.2 .1 3.1 .2 4.7 .1-1.6 .1-4.6 .1-.6 .2 5.4 .1-1.9 .1-1.2 .1 2.2 .2-2.2 .1-3.0 .1 6.1 .1-3.3 .2-.8 .1-.8 .1 3.7 .2-2.5 .1 3.4 .1-2.2 .1 3.3 .2-3.6 .1-.7 .1-3.2 .1 2.1 .2 4.6 .1 5.9 .1-11.0 .1 .6 .2 3.5 .1 .4 .1-3.0 .1 2.0 .2-4.6 .1 3.5 .1 3.3 .1 2.0 .2-4.9 .1-.3 .1 2.0 .2 1.8 .1-1.7 .1-3.5 .1 3.1 .2 1.8 .1-4.8 .1-1.7 .1 5.2 .2-.4 .1 1.7 .1-2.5 .1-2.1 .2 .6 .1-1.7 .1 .3 .1 1.1 .2 .2 .1 4.5 .1-6.6 .1 3.3 .2-1.5 .1 5.8 .1-3.4 .1-1.8 .2 3.3 .1-2.1 .1-1.4 .2 5.4 .1-2.2 .1 2.7 .1-1.5 .2-1.1 .1-1.7 .1-3.2 .1 4.7 .2-1.6 .1 1.5 .1-1.7 .1-1.8 .2-.7 .1 4.2 .1 1.5 .1-3.9 .2 1.8 .1 2.2 .1-5.3 .1 1.2 .2-1.8 .1 5.3 .1-2.1 .2-1.7 .1-2.6 .1 3.3 .1 2.6 .2-2.8 .1-.3 .1 2.3 .1-4.0 .2 2.7 .1 1.2 .1-2.9 .1-.1 .2 2.2 .1-.7 .1-.3 .1 .9 .2 .1 .1-2.3 .1 .5 .1 2.2 .2 1.3 .1 .5 .1-4.3 .1 3.7 .2-.6 .1-1.5" fill="none" stroke="#0000ff" stroke-opacity="0.75" stroke-width="0.6"/><path d="M588.0 148.6l.1 .6 .2 1.9 .1-5.5 .1 3.2 .1-1.4 .2-.2 .1 2.7 .1-.6 .1-3.7 .2 1.5 .1 1.0 .1-3.3 .1 4.6 .2-1.9 .1 .5 .1 .3 .1 3.1 .2-3.7 .1-.8 .1 4.4 .1-4.7 .2-.1 .1-1.9 .1 5.4 .1-1.8 .2 .5 .1-.7 .1-.7 .1-1.4 .2 .0 .1 2.7 .1-.7 .1 3.5 .2-5.5 .1 .6 .1-1.3 .1 5.7 .2-6.2 .1 4.8 .1 1.6 .2-3.8 .1 2.1 .1-7.0 .1 4.3 .2-3.2 .1 4.6 .1-.4 .1-2.0 .2 4.3 .1-1.5 .1-2.2 .1 .0 .2-2.5 .1 3.3 .1 6.1 .1-7.4 .2 2.9 .1-2.5 .1 3.6 .1-1.0 .2-1.8 .1-4.2 .1 3.4 .1 4.7 .2-3.9 .1 2.4 .1-3.1 .1-3.9 .2 6.4 .1-.3 .1-2.5 .1 .6 .2 1.9 .1-2.6 .1 2.7 .1-1.6 .2-6.2 .1 6.4 .1-1.3 .2-.7 .1 3.6 .1-2.6 .1 3.0 .2 1.7 .1-2.8 .1-5.1 .1 2.5 .2 4.9 .1-3.5 .1-1.7 .1 2.2 .2 1.7 .1-.7 .1 1.2 .1-4.4 .2 1.6 .1 .1 .1 .7 .1-6.2 .2 5.5 .1-3.3 .1 8.2 .1 .5 .2 .3 .1-2.6 .1-3.8 .1 4.3 .2-3.5 .1 2.4 .1-4.4 .1 .9 .2 3.1 .1 3.8 .1-5.2 .2 6.6 .1 1.4 .1-11.6 .1 3.6 .2-2.7 .1 2.4 .1-1.2 .1 1.4 .2 2.9 .1-.1 .1-1.9 .1-.7 .2 .3 .1 .0 .1 1.2 .1-1.5 .2 1.3 .1-4.9 .1 5.7 .1 2.5 .2-4.2 .1-4.2 .1 7.3 .1-4.4 .2-6.9 .1 7.2 .1 2.1 .1-.6 .2 2.2 .1-1.6 .1-1.2 .1-5.2 .2 2.1 .1 3.2 .1 1.2 .1-4.1 .2 1.0 .1 2.6 .1-5.6 .2-.1 .1 4.0 .1 1.2 .1-1.7 .2-4.2 .1 5.3 .1-3.0 .1 4.4 .2-1.7 .1 .9 .1 .8 .1-2.6 .2 3.0 .1 .9 .1-1.9 .1 2.0 .2-4.2 .1 3.3 .1-1.4 .1-2.6 .2 1.9 .1-.9 .1-.1 .1 1.4 .2 1.9 .1-2.8 .1 .9 .1-3.2 .2 3.2 .1 2.1 .1-.7 .1-.7 .2-2.0 .1-.8 .1 1.7 .1-2.4 .2 .2 .1 4.2" fill="none" stroke="#0000ff" stroke-opacity="0.75" stroke-width="0.6"/><path d="M627.0 145.6l.1 6.2 .1-7.4 .0 4.3 .1-3.8 .1 3.2 .1-2.9 .1 2.6 .0-.5 .1-.8 .1 2.5 .1 2.6 .1-5.5 .0 3.9 .1-2.1 .1-.3 .1 6.2 .1-12.3 .0 4.2 .1-3.3 .1 4.3 .1 .3 .1 12.4 .0-10.7 .1 4.7 .1-1.6 .1-5.6 .1 3.1 .0 4.0 .1-5.0 .1 .1 .1 1.0 .1-7.2 .0 2.5 .1 4.2 .1 .8 .1-5.6 .1 2.3 .0 .8 .1-.2 .1 3.5 .1-2.4 .1 .2 .0-6.6 .1 1.4 .1 5.9 .1-8.4 .1 8.2 .0-4.1 .1-.8 .1 6.7 .1-6.1 .1-.9 .0 .8 .1 3.5 .1 13.0 .1-23.6 .1 10.2 .0-1.1 .1 6.0 .1-6.7 .1-10.6 .1 19.3 .0-12.4 .1 5.3 .1-6.8 .1 1.4 .1 3.1 .0 7.1 .1-.1 .1-7.6 .1 5.8 .1-4.6 .0 2.6 .1 .2 .1 2.5 .1-6.6 .1 2.6 .0 1.8 .1-.7 .1-4.7 .1 13.3 .1-11.5 .0 6.4 .1-2.9 .1 5.3 .1-17.6 .1 21.8 .0-11.6 .1-5.2 .1 6.9 .1 10.7 .1-8.8 .0-8.6 .1 3.8 .1 8.7" fill="none" stroke="#0000ff" stroke-opacity="0.75" stroke-width="0.6"/><path d="M84.5 134.0V163.0M139.5 141.0V155.0M177.5 138.0V179.5M192.5 143.0V158.8M238.5 129.7V239.0M284.5 137.3V163.8M295.5 137.0V156.0M305.5 136.8V165.0M325.5 134.0V161.0M334.5 64.0V238.4M400.5 134.7V166.3M434.5 138.0V181.5M443.5 142.0V164.5M452.5 143.0V157.5M471.5 141.0V152.0M526.5 131.0V158.7M560.5 129.7V158.2M573.5 138.0V157.5M600.5 136.0V162.5" stroke="#0000ff" stroke-opacity="0.55" stroke-width="0.9" fill="none"/><path d="M632.5 66.7V194.4" stroke="#0000ff" stroke-opacity="0.45" stroke-width="1" fill="none"/><path d="M633.5 101.0V163.0" stroke="#0000ff" stroke-opacity="0.60" stroke-width="1" fill="none"/><path d="M634.5 129.0V159.0" stroke="#0000ff" stroke-opacity="0.90" stroke-width="1" fill="none"/>
<text x="32.5" y="265" font-size="12.2" text-anchor="middle">00:00</text>
<text x="107.875" y="265" font-size="12.2" text-anchor="middle">03:00</text>
<text x="183.25" y="265" font-size="12.2" text-anchor="middle">06:00</text>
<text x="258.625" y="265" font-size="12.2" text-anchor="middle">09:00</text>
<text x="334.0" y="265" font-size="12.2" text-anchor="middle">12:00</text>
<text x="409.375" y="265" font-size="12.2" text-anchor="middle">15:00</text>
<text x="484.75" y="265" font-size="12.2" text-anchor="middle">18:00</text>
<text x="560.125" y="265" font-size="12.2" text-anchor="middle">21:00</text>
<text x="635.5" y="265" font-size="12.2" text-anchor="middle">00:00</text>
<text x="28.7" y="254.4" font-size="12.2" text-anchor="end">-4</text>
<text x="28.7" y="203.4" font-size="12.2" text-anchor="end">-2</text>
<text x="28.7" y="152.4" font-size="12.2" text-anchor="end">0</text>
<text x="28.7" y="101.4" font-size="12.2" text-anchor="end">2</text>
<text x="28.7" y="50.4" font-size="12.2" text-anchor="end">4</text>
<text class="b" font-size="12.3" text-anchor="middle" transform="translate(10.3 148.0) rotate(-90)">X (nT)</text>
<path d="M32.5 534.5H635.5V330.5" fill="none" stroke="#a8a8a8" stroke-width="1"/>
<path d="M32.5 534V330.5H635" fill="none" stroke="#c4c4c4" stroke-width="1"/>
<path d="M108.5 534v-6M108.5 331v6M183.5 534v-6M183.5 331v6M258.5 534v-6M258.5 331v6M334.5 534v-6M334.5 331v6M409.5 534v-6M409.5 331v6M484.5 534v-6M484.5 331v6M560.5 534v-6M560.5 331v6M33 505.5h6M635 505.5h-6M33 476.5h6M635 476.5h-6M33 447.5h6M635 447.5h-6M33 417.5h6M635 417.5h-6M33 388.5h6M635 388.5h-6M33 359.5h6M635 359.5h-6" stroke="#b4b4b4" stroke-width="1" fill="none"/>
<path d="M33.1 416.4l.5 .5 .5 .0 .5 1.1 .5-1.1 .5 .7 .5-.9 .5-.1 .5 .8 .5-.1 .5-1.1 .5 1.1 .5 .0 .5-.6 .5 .4 .5 .0 .5-.3 .5-.1 .5 .0 .5 .2 .5-.5 .5 .6 .5-.7 .5 .7 .5-.1 .5-.4 .5 .9 .5 .5 .5-.3 .5-1.2 .6 1.2 .5-.5 .5-.1 .5-.3 .5 .3 .5 .6 .5-.4 .5-.4 .5-.1 .5 .1 .5 .4 .5 .6 .5-1.3 .5 .5 .5-.2 .5-.2 .5 .6 .5 .0 .5-.8 .5 .1 .5 1.0 .5-.4 .5 .1 .5-.4 .5 .0 .5 .4 .5-.4 .5-.3 .5 .5 .5 .4 .5-.9 .5 1.0 .5-.2 .5-.7 .5 .4 .5 .0 .5 .3 .5 .0 .5-.9 .5 .0 .5 1.0 .5-.4 .5 .2 .5-.1 .5 .6 .5-1.3 .5 1.1 .5-.9 .5 .7 .5 .3 .5-1.2 .5 .8 .5-.3 .5 .0 .5 .1 .5-.5 .5 .1 .5 .7 .5 .1 .5-.7 .6-.4 .5 1.7 .5-.5 .5-.4 .5-.6 .5 .2 .5 .4 .5-.5 .5 1.1 .5-.7 .5 .2 .5-.7 .5 .1 .5 .0 .5 .5 .5-.2 .5 .0 .5 .2 .5 .0 .5 .5 .5-.7 .5-.4 .5 .5 .5 .6 .5-.9 .5 .3 .5-.2 .5 .4 .5-.1 .5-.5 .5 .3 .5 .5 .5 .1 .5-.1 .5 .0 .5-.6 .5 .0 .5 .6 .5-.9 .5 .5 .5-.8 .5 .6 .5-.1 .5-.2 .5 .7 .5-.5 .5 .1 .5 .1 .5-.2 .5 .9 .5-.8 .5 .3 .5-.7 .5 .4 .5 .0 .5 .0 .5-.1 .5 .3 .5 .7 .5-.8 .6 .0 .5-.1 .5 1.3 .5-.4 .5-.5 .5 .1 .5-.6 .5 .2 .5 .2 .5-.1 .5-.4 .5 .0 .5 .6 .5-.1 .5-1.0 .5 .9 .5 .5 .5-.8 .5 .4 .5-.8 .5 1.1 .5-.9 .5-.1 .5 .4 .5 1.2 .5-1.3 .5-.3 .5 .8 .5-.1 .5 .6 .5-1.3 .5-.1 .5 .5 .5 .4 .5-.1 .5 .4 .5-1.2 .5 .3 .5 .3 .5 .5 .5-.2 .5-.4 .5-.3 .5 .9 .5 .0 .5 .8 .5-1.3 .5 .8 .5-1.2 .5 .2 .5 .0 .5 .1 .5-.2 .5 .1 .5 .3 .5-.2 .5 .5 .5-.4 .5 .1 .5 .6 .6-.5 .5 .0 .5-.1 .5 .0 .5 .2 .5-.6 .5 .9 .5 .2 .5-.2 .5-.7 .5-.5 .5 .5 .5 .3 .5 .3 .5-.5 .5 .0 .5 .8 .5-1.0 .5 .8 .5-.1 .5-1.0 .5 .7 .5-.4 .5-.1 .5-.4 .5 .1 .5 .9 .5-.4 .5 .3 .5-.6 .5 .3 .5 .1 .5-.6 .5 .0 .5 .9 .5-.1 .5-.5 .5 .3 .5 .4 .5 .5 .5-1.2 .5 .7 .5 .6 .5-.9 .5 .6 .5-1.8 .5 1.8 .5-.6 .5-.8 .5 1.1 .5 .1 .5 .1 .5 .0 .5-.5 .5-.3 .5 .1 .5 .2 .5 .2 .5-.4 .5 .2 .6 .4 .5-.3 .5 .9 .5-.1 .5-1.4 .5 .2 .5-.3 .5 .1 .5 .7 .5-.7 .5 .0 .5 .4 .5 .4 .5-.5 .5 .0 .5 .6 .5-.2 .5 .0 .5 .2 .5-.9 .5 .6 .5-.4 .5 .7 .5-.1 .5-.8 .5 1.1 .5-1.1 .5 1.0 .5-.4 .5-.5 .5-.1 .5 .4 .5 .1 .5-.3 .5 .5 .5-.8 .5 .6 .5 .0 .5-.8 .5 .9 .5-.7 .5-.5 .5 .8 .5 .2 .5 .5 .5-.6 .5 .8 .5 .0 .5-.1 .5 .1 .5-.5 .5-.4 .5 .6 .5 .1 .5-.3 .5-.2 .5-.6 .5 1.0 .5-.2 .5-.7 .6 .6 .5 .3 .5-.4 .5 .4 .5 .0 .5-1.0 .5 .6 .5 .3 .5 .2 .5 .2 .5-1.5 .5 .9 .5 .3 .5 .2 .5 .2 .5-1.1 .5 .2 .5-.3 .5 .8 .5-.9 .5 1.1 .5-.1 .5-.2 .5-1.2 .5 .7 .5 .6 .5-.9 .5 .5 .5 .0 .5 .5 .5-.3 .5 .0 .5-.3 .5 .2 .5-.1 .5 .4 .5-.4 .5 .5 .5-1.2 .5 1.3 .5-.6 .5 .6 .5-.5 .5 .4 .5 .3 .5-1.0 .5 .3 .5-.1 .5 .2 .5-.8 .5 .6 .5 .0 .5-.3 .5 .3 .5-.6 .5 1.3 .5-.4 .5 .6 .5-1.2 .5-.1 .6 .6 .5-.9 .5 .9 .5-.4 .5 .1 .5 .3 .5-.1 .5 .8 .5-.5 .5-.9 .5 1.0 .5-1.0 .5 .6 .5-.6 .5 .2 .5 1.0 .5-.9 .5 .0 .5 .0 .5 .1 .5 .8 .5-1.1 .5-.1 .5 .8 .5-.9 .5 .5 .5 .7 .5-.5 .5-.2 .5-.1 .5-.1 .5 .1 .5 .3 .5 .5 .5-.1 .5-.7 .5 .0 .5 .6 .5-1.1 .5 .6 .5 .0 .5-.3 .5 .0 .5 .6 .5-.9 .5 .4 .5 .1 .5 .3 .5-.6 .5 1.1 .5-.7 .5 .1 .5-.1 .5-.1 .5-.2 .5 1.0 .5-.4 .5-.2 .5 .5 .5-.7 .6 .6 .5-.3 .5-.4 .5 .7 .5-1.0 .5 1.0 .5-.7 .5 .6 .5 .4 .5-.4 .5-.5 .5 .3 .5-.2 .5-.4 .5 .1 .5 .5 .5 .2 .5-1.0 .5 .7 .5 .3 .5-.2 .5-.5 .5 .9 .5-1.0 .5 .9 .5 .4 .5-1.6 .5 1.0 .5 .0 .5 .0 .5-.5 .5 .2 .5-.5 .5 .7 .5 .2 .5-.5 .5-.1 .5 .2 .5 .2 .5 .0 .5-.1 .5 .1 .5-.6 .5-.6 .5 1.4 .5 .4 .5-1.3 .5 .4 .5 .4 .5 .3 .5-.2 .5 .3 .5-.6 .5 .2 .5 .0 .5-.3 .5 .7 .5-.3 .5 .2 .5-.6 .6 .6 .5-.9 .5 .6 .5-1.3 .5 .7 .5 .8 .5-.5 .5 .2 .5-.8 .5 1.4 .5-.4 .5-.3 .5 .2 .5 .0 .5 .5 .5-.6 .5-.7 .5 .5 .5 .7 .5-.3 .5-.4 .5 .4 .5-.2 .5 .2 .5-.9 .5 .3 .5 .6 .5-.3 .5 .2 .5 .7 .5-1.0 .5 .3 .5-.4 .5 .0 .5 .2 .5-.6 .5-.3 .5 1.6 .5-.7 .5 .5 .5-.4 .5 .0 .5 .3 .5 .0 .5-.9 .5 1.1 .5-1.0 .5 .5 .5 1.1 .5-1.1 .5 .7 .5-.9 .5 .4 .5-.2 .5 .1 .5-.5 .5 .0 .5 .5 .5-.8 .5 .3 .6 .6 .5-.5 .5-.1 .5-.1 .5 .5 .5-.2 .5 .2 .5-.1 .5 .9 .5-1.0 .5-.7 .5 .9 .5 .0 .5 .0 .5-.7 .5 1.2 .5-.6 .5 .0 .5-.6 .5 .9 .5-.3 .5 .6 .5-.7 .5-.4 .5 .6 .5-.4 .5 .5 .5-.6 .5 .4 .5 .0 .5 .0 .5-.2 .5-.1 .5 .3 .5-.2 .5 .3 .5-.2 .5-.8 .5 .9 .5 .7 .5-.5 .5 .1 .5 .0 .5-.4 .5-.4 .5 .9 .5 .1 .5-.2 .5-.1 .5 .0 .5-.2 .5 .2 .5-.1 .5 .1 .5-.6 .5 .2 .5 .5 .5-.4 .5-.9 .5 1.1 .6-1.0 .5 1.8 .5-.5 .5-.1 .5-.5 .5-.2 .5 .4 .5 .1 .5-.4 .5 .4 .5 .3 .5-.1 .5-.7 .5-.5 .5 1.0 .5-.3 .5 .5 .5 .5 .5 .0 .5-.6 .5 .3 .5 .3 .5-.7 .5 .1 .5 .2 .5-.4 .5-.2 .5-.1 .5 .4 .5-.3 .5 .6 .5-.5 .5 .8 .5-.1 .5-1.1 .5 1.0 .5-.6 .5 .8 .5-.4 .5-.3 .5 .4 .5-.6 .5 .4 .5 .0 .5-.2 .5 .2 .5-.6 .5 .7 .5-.8 .5 .8 .5 .0 .5 .1 .5-.6 .5 1.6 .5-1.4 .5 .1 .5-.4 .5 1.0 .5-.8 .5 .6 .6-.8 .5 .5 .5-.3 .5 .6 .5-.6 .5-.2 .5 .6 .5-.7 .5 .1 .5 .7 .5-1.1 .5 1.1 .5-.5 .5-.2 .5 .5 .5 .1 .5-.5 .5 .2 .5 .4 .5 .0 .5-.3 .5-.3 .5-.1 .5 .1 .5 .6 .5-.1 .5-.1 .5 .5 .5-.7 .5-.1 .5 .0 .5 1.0 .5-1.7 .5 1.0 .5 .1 .5-.2 .5 1.0 .5-.5 .5-.2 .5-.7 .5 .6 .5-.4 .5 .2 .5 .1 .5-.3 .5 .5 .5 .4 .5-.3 .5-.3 .5-.9 .5 1.3 .5-.1 .5-.5 .5-.1 .5 .5 .5-.7 .5 .7 .5-.8 .5 .1 .5 .4 .6-.6 .5 .6 .5 .2 .5-.8 .5 1.0 .5-.6 .5 .4 .5-.1 .5-.3 .5 .0 .5-.5 .5 .4 .5 .0 .5 1.0 .5-.3 .5-1.0 .5 .9 .5-.2 .5-.3 .5 .4 .5 .1 .5-.5 .5 .1 .5 .2 .5-.5 .5 .5 .5-.1 .5-.3 .5-.1 .5 .5 .5 .3 .5-.3 .5-.5 .5 .7 .5-.2 .5 .1 .5 .3 .5-.9 .5 .3 .5-.2 .5-.1 .5 1.2 .5-.4 .5-1.1 .5 .9 .5-.4 .5 .7 .5-.5 .5-.1 .5 .2 .5 .1 .5-.2 .5-.1 .5 .0 .5 .3 .5-.7 .5 .5 .5-.1 .5-.1 .5 .5 .6-.8 .5 .3 .5-.2 .5 .6 .5-.4 .5 .2 .5 .2 .5-.9 .5 .9 .5-.5 .5 .2 .5 .1 .5 .3 .5 .0 .5 .4 .5-.6 .5-.3 .5 .0 .5 .5 .5 .4 .5-.6 .5-.3 .5 .3 .5 .0 .5-.1 .5-.3 .5-.8 .5 .9 .5 .6 .5-.3 .5-1.0 .5 .9 .5-.8 .5 1.6 .5-.7 .5-.6 .5 .8 .5-.6 .5 .5 .5-.2 .5-.5 .5 .8 .5-.9 .5 1.2 .5-.6 .5-.4 .5-.4 .5 1.5 .5-.1 .5-1.1 .5 1.2 .5-.6 .5-.2 .5 .1 .5-.1 .5 .7 .5-.5 .5-.9 .5 1.7 .5-.5 .6-.9 .5 .4 .5-.3 .5 .4 .5 .2 .5-.1 .5-.4 .5 .0 .5 .7 .5-.4 .5 .9 .5-1.2 .5 .6 .5-.3 .5-.3 .5 .9 .5-.5 .5-.5 .5 .3 .5 .5 .5-.9 .5 1.1 .5-.3 .5-.4 .5 .7 .5 .1 .5-.4 .5-.2 .5 .7 .5-.2 .5-1.0 .5 .3 .5 .0 .5-.1 .5-.4 .5 1.0 .5-.4 .5 .0 .5 .6 .5-.8 .5 .2 .5 .1 .5-.3 .5 .2 .5 .3 .5-.3 .5 .6 .5-.9 .5 .4 .5-.7 .5 .6 .5-.3 .5 .9 .5-.3 .5-.1 .5 .6 .5-.2 .5-.3 .5-.6 .5-.3 .6 .6 .5-.2 .5-.1 .5 .2 .5-.6 .5 1.3 .5-1.1 .5 .2 .5 .5 .5-.9 .5 1.1 .5 .0 .5-.5 .5-.4 .5 .3 .5-.6 .5 1.4 .5-.6 .5-.3 .5-.1 .5 .6 .5 .4 .5-1.1 .5 .3 .5-.5 .5 1.0 .5-.2 .5 .9 .5-1.1 .5-.1 .5-.1 .5 .7 .5-1.1 .5 1.0 .5-.2 .5-.3 .5-.2 .5 .8 .5 .4 .5-1.0 .5 .4 .5 .5 .5-1.0 .5 .2 .5-.4 .5 .4 .5 .1 .5-.2 .5-.1 .5-.4 .5 .1 .5 .2 .5 .7 .5-.5 .5-.2 .5 .7 .5-.1 .5-.5 .5 .0 .5 .6 .6-.1 .5-.6 .5 .5 .5-.1 .5 .5 .5-.9 .5 .8 .5-.2 .5-.6 .5 .9 .5-.1 .5-1.0 .5 1.4 .5-1.3 .5 .1 .5 .3 .5 .4 .5 .0 .5-.3 .5 .6 .5-.4 .5 .4 .5 .6 .5-1.1 .5-1.2 .5 .9 .5-.3 .5 .5 .5 .0 .5-.5 .5 .0 .5 .4 .5 .0 .5-1.0 .5 1.5 .5-.4 .5 .0 .5 .1 .5-.5 .5 .4 .5 .5 .5 .0 .5-.3 .5-.3 .5-.3 .5 1.0 .5-.4 .5-.4 .5-.7 .5 .5 .5-.4 .5 1.3 .5-.4 .5-.4 .5 .2 .5 1.2 .5-.6 .5-1.1 .5 .5 .5-.4 .6-.3 .5 .9 .5 1.0 .5-.4 .5-.7 .5-.2 .5 .3 .5 .4 .5-1.1 .5-.2 .5 1.6 .5-.7 .5 .6 .5-.6 .5 .6 .5-1.0 .5 .5 .5 .5 .5-.2 .5-.7 .5 .6 .5-.7 .5-.3 .5 .8 .5 .4 .5-.2 .5-1.0 .5 1.0 .5-.1 .5-.5 .5-.9 .5 1.6 .5-.1 .5-.2 .5-1.0 .5 .1 .5 1.2 .5-.1 .5-.2 .5-.3 .5 .3 .5-.4 .5 .1 .5-.3 .5 .5 .5-.3 .5 .6 .5-.1 .5-.7 .5 1.2 .5-1.3 .5 .7 .5 .3 .5 .1 .5-1.6 .5 1.4 .5 .1 .5 .1 .5-1.6 .5 .7 .6 .3 .5-.2 .5 .8 .5-.9 .5 .9 .5-.3 .5-1.0 .5 .3 .5 .2 .5 .2 .5 .4 .5-.5 .5 .5 .5-1.1 .5-.7 .5 1.2 .5 .4 .5-.4 .5-.3 .5 .7 .5 .7 .5-.9 .5-.3 .5-.1 .5 1.3 .5-.9 .5 .3 .5 .2 .5 .0 .5-.9 .5 .8 .5 .0 .5-.2 .5 .3 .5-.8 .5 .3 .5-.2 .5 .5 .5-.6 .5 .5 .5-.7 .5 .4 .5-.1 .5 .1 .5 .2 .5-.2 .5 .0 .5-.8 .5 1.4 .5-.8 .5 .2 .5-.3 .5 .8 .5-.8 .5 .6 .5 .3 .5 .2 .5-.2 .5-.2 .5-.8 .6 1.1 .5-.1 .5-.1 .5 .0 .5-.4 .5-.2 .5 .7 .5 .1 .5-1.1 .5 .9 .5-.3 .5 .3 .5-.3 .5 .4 .5 .0 .5-.1 .5-1.0 .5 1.0 .5-.4 .5-.5 .5 .8 .5-.9 .5 1.0 .5 .4 .5-1.0 .5 .6 .5-.2 .5 .1 .5-.9 .5 .9" fill="none" stroke="#0000ff" stroke-width="4.3"/><path d="M33.1 417.5l.2 1.8 .2-2.2 .2 3.4 .2-2.6 .1 1.3 .2 2.2 .2-3.8 .2 2.6 .2-2.4 .2 .9 .2-3.3 .2 4.1 .1 1.5 .2-4.2 .2 2.8 .2-1.2 .2-4.8 .2 4.6 .2 3.0 .2-5.6 .1-4.1 .2 6.2 .2-2.6 .2 7.9 .2-6.0 .2 .1 .2-1.9 .2 2.7 .2-2.5 .1-1.0 .2 2.5 .2-2.2 .2 6.3 .2-7.3 .2 3.2 .2-1.8 .2-2.0 .1 8.8 .2-10.8 .2 10.1 .2-8.1 .2 4.3 .2 6.0 .2-12.2 .2 2.1 .1 7.4 .2-3.1 .2-2.0 .2 1.4 .2-2.5 .2 2.9 .2 3.7 .2-5.0 .2 1.4 .1 2.8 .2 2.0 .2-6.7 .2 2.3 .2-2.3 .2-.2 .2 .7 .2-.6 .1-2.8 .2-.7 .2 3.2 .2 2.2 .2 2.7 .2-4.3 .2 .9 .2 2.0 .1 .2 .2-2.1 .2 .2 .2 4.7 .2-5.4 .2-.4 .2-2.8 .2 5.1 .2-1.8 .1 5.4 .2-5.5 .2 2.8 .2 .3 .2 1.7 .2-7.2 .2 7.0 .2-3.8 .1-.3 .2-.5 .2-.2 .2 .2 .2-4.9 .2 6.9 .2-1.1 .2-2.4 .2 2.1 .1 5.7 .2-4.6 .2-1.8 .2 5.0 .2-6.0 .2 1.5 .2-.9 .2 .7 .1 2.3 .2-.3 .2-3.2 .2 1.5 .2 .5 .2-1.2 .2 .9 .2-1.6 .1-.1 .2 1.9 .2-2.5 .2 3.4 .2-1.5 .2-1.7 .2 .7 .2 .4 .2 .7 .1 .6 .2-.7 .2-1.5 .2 5.3 .2-1.2 .2-1.9 .2 1.9 .2-1.4 .1-1.3 .2 .8 .2 5.8 .2-3.8 .2 .1 .2-3.2 .2 2.2 .2 3.7 .1-4.1 .2 1.5 .2 .4 .2-1.4 .2 2.1 .2-3.0 .2 .6 .2-2.5 .2 7.1 .1-5.1 .2-.4 .2 2.8 .2-4.1 .2 1.1 .2-1.7 .2 1.7 .2-.9 .1 2.0 .2-1.4 .2-1.0 .2 .6 .2 .4 .2-.8 .2 3.0 .2-.5 .1-1.1 .2-2.8 .2 3.5 .2-3.7 .2 3.0 .2-.2 .2-1.4 .2-.5 .2 .3 .1 5.7 .2-4.8 .2 .1 .2 2.4 .2-1.1 .2 1.3 .2-4.7 .2 .3 .1 9.1 .2-6.9 .2-.5 .2 .9 .2 1.7 .2-4.5 .2 3.0 .2-.6 .1 1.4 .2-1.0 .2-1.4 .2-.7 .2-3.2 .2 7.0 .2-5.1 .2 2.2 .2 4.3 .1-4.3 .2 2.1 .2-1.7 .2 1.9 .2-1.4 .2-1.1 .2 3.9 .2-3.4 .1-2.3 .2 2.2 .2 1.8 .2-3.5 .2 4.0 .2 .0 .2 2.9 .2-5.9 .1 2.8 .2-5.1 .2 2.7 .2 1.2 .2 .7 .2-1.1 .2 .0 .2-1.2 .2 .4 .1 1.6 .2 .6 .2 .2 .2 .8 .2 .5 .2-6.9 .2 3.0 .2 .8 .1-1.1 .2 3.9 .2-.7 .2-2.0 .2 .6 .2 2.7 .2-3.9 .2 .1 .2 3.0 .1-1.1 .2 2.4 .2-2.6 .2 .9 .2-3.2 .2-1.0 .2 2.3 .2-6.7 .1 7.8 .2 1.5 .2-2.3 .2-.8 .2 3.4 .2-2.9 .2 2.7 .2 3.2 .1-3.9 .2 .6 .2-1.2 .2-.6 .2 .0 .2-.5 .2 2.8 .2-7.5 .2 3.7 .1 2.6 .2-4.2 .2 2.1 .2-1.7 .2 3.2 .2 1.2 .2 1.7 .2-2.7 .1-3.5 .2 2.8 .2 .9 .2 2.5 .2-10.4 .2 7.4 .2-6.5 .2 7.5 .1-.8 .2 .2 .2 1.1 .2-1.5 .2-3.0 .2 2.9 .2 2.6 .2-4.0 .2 .5 .1-3.8 .2 7.2 .2-5.0 .2-.8 .2 .9 .2-1.2 .2 1.8 .2 4.7 .1-1.5 .2 2.0 .2 .2 .2-7.4 .2 4.3 .2 3.1 .2 2.5 .2-11.5 .1 .0 .2 5.8 .2-2.5 .2-2.0 .2 4.3 .2-3.7 .2-4.6 .2 7.0 .2 .5 .1 1.6 .2 .9 .2-2.4 .2-1.3 .2-1.3 .2-3.0 .2 3.7 .2 4.5 .1-1.1 .2 4.3 .2-6.8 .2-5.0 .2 8.0 .2 .6 .2-6.7 .2-1.3 .1 5.3 .2 1.7 .2-5.4 .2 2.3 .2-1.3 .2-1.2 .2-.3 .2 4.2 .2-1.5 .1-.8 .2-5.5 .2 12.2 .2-7.5 .2 2.3 .2-2.7 .2 4.1 .2-5.1 .1 4.3 .2-.7 .2 2.8 .2-5.2 .2 1.2 .2 1.0 .2 5.9 .2-8.9 .1 4.3 .2-2.3 .2 2.4 .2 .8 .2-1.2 .2 .2 .2 .1 .2-2.0 .2 .8 .1-3.2 .2 2.9 .2-.9 .2 1.2 .2 2.1 .2-.8 .2 .2 .2 1.3 .1-7.3 .2 5.9 .2-.9 .2-.2 .2-2.4 .2 3.7 .2 1.2 .2-.3 .2-2.2 .1 1.5 .2 .5 .2 1.7 .2-1.1 .2-2.1 .2-.1 .2 .1 .2 .1 .1-1.3 .2 2.3 .2-2.7 .2-.2 .2 2.2 .2-1.7 .2 .6 .2-3.3 .1 5.1 .2-1.4 .2-.2 .2 1.0 .2-.4 .2-1.6 .2 4.7 .2-4.3 .2 2.5 .1 1.5 .2-4.3 .2 1.3 .2-1.6 .2 3.2 .2-2.4 .2-1.3 .2 4.1 .1-.6 .2-3.1 .2 3.5 .2-1.7 .2 4.3 .2-1.7 .2-3.8 .2 .5 .1-1.1 .2 1.7 .2-.1 .2 1.1 .2-1.1 .2-2.5 .2 1.1 .2 3.6 .2-.4 .1-2.2 .2 .1 .2-.1 .2 .3 .2-2.7 .2 4.2 .2-2.6 .2 1.3 .1-4.3 .2 4.5 .2 1.8 .2-5.8 .2 6.1 .2-1.7 .2-2.0 .2-1.4 .1 4.5 .2-1.5 .2 .6 .2-1.4 .2-.9 .2 2.7 .2-3.0 .2 3.1 .2-4.2 .1 1.2 .2-.9 .2 4.5 .2-5.0 .2 1.0 .2 3.0 .2-.7 .2 3.2 .1-.6 .2-2.0 .2 .1 .2-4.1 .2 1.5 .2 1.0 .2 .2 .2-2.0 .1 .8 .2 .1 .2 3.2 .2-1.1 .2-1.3 .2 .1 .2 1.0 .2-1.7 .2 .8 .1-2.5 .2 4.0 .2 .5 .2-1.0 .2 .2 .2-.2 .2 2.9 .2-3.1 .1-2.7 .2 .5 .2 3.0 .2 .7 .2-.6 .2 .2 .2-1.2 .2-2.9 .1 1.3 .2-1.9 .2 2.5 .2-1.8 .2 2.7 .2-.5 .2-3.3 .2 4.9 .2 .1 .1-4.0 .2 2.9 .2 1.0 .2-1.9 .2 2.2 .2-1.3 .2 1.7 .2-1.7 .1-.6 .2 1.3 .2 .5 .2-1.0 .2-1.4 .2-.7 .2 .8 .2-.4 .2 1.6 .1-.1 .2-.5 .2 .2 .2 .3 .2 2.9 .2-.7 .2-3.7 .2 2.1 .1-1.6 .2 .5 .2-.4 .2-.8 .2-1.6 .2-2.5 .2 5.9 .2 2.2 .1-4.7 .2 3.2 .2-2.0 .2 1.5 .2-2.5 .2 1.3 .2 .3 .2-5.4 .2 6.2 .1-.9 .2-5.6 .2 7.5 .2-1.6 .2 .6 .2 .3 .2-1.9 .2-1.6 .1 1.5 .2 .1 .2 6.6 .2-.9 .2-5.9 .2 .2 .2 1.9 .2 .6 .1-3.2 .2-.8 .2 7.5 .2-2.3 .2-6.6 .2-.6 .2 2.4 .2 2.7 .2 .8 .1-2.2 .2-3.3 .2 4.7 .2 1.0 .2-1.6 .2-1.2 .2 2.7 .2-1.6 .1-2.7 .2 3.1 .2-3.5 .2 5.6 .2-1.2 .2-3.7 .2 3.1 .2 2.5 .1-8.4 .2 5.0 .2 4.4 .2-7.9 .2 3.4 .2-3.0 .2 3.3 .2-5.6 .2 1.8 .1 2.6 .2 1.7 .2 .5 .2 .1 .2 1.7 .2-1.0 .2 .1 .2-4.1 .1 2.0 .2 7.7 .2-2.1 .2-3.4 .2-.2 .2 .6 .2-3.2 .2 5.4 .1-5.3 .2 .6 .2 5.1 .2-9.6 .2 5.5 .2-4.6 .2 2.4 .2 1.2 .2-.6 .1 1.2 .2-2.1 .2 1.5 .2-2.4 .2 1.8 .2-2.2 .2 4.5 .2-4.3 .1 4.4 .2-2.5 .2 .3 .2 3.2 .2-2.3 .2-4.4 .2 5.2 .2-7.4 .1 6.9 .2-1.4 .2-2.2 .2 3.2 .2-.8 .2 5.0 .2-5.3 .2 5.1 .2-1.2 .1-4.3 .2-.4 .2 4.6 .2-3.2 .2 .7 .2-.9 .2-2.1 .2 1.8 .1-1.2 .2-1.2 .2 2.6 .2 4.4 .2-.3 .2-3.6 .2 .4 .2 .8 .2 1.8 .1-2.2 .2-1.7 .2 .2 .2 3.2 .2 3.1 .2-6.8 .2-3.0 .2 6.0 .1-1.8 .2 .4 .2 2.3 .2-2.4 .2-3.0 .2-1.3 .2 4.0 .2-2.3 .1 3.0 .2-3.2 .2 1.9 .2-2.4 .2 2.4 .2-.2 .2 2.2 .2 1.6 .2-3.2 .1-1.5 .2 6.0 .2-3.4 .2 .5 .2 .0 .2 1.8 .2-.9 .2-.7 .1 .2 .2-3.5 .2 .6 .2 1.0 .2 .4 .2-.1 .2 .6 .2-.6 .1-1.0 .2-2.5 .2 5.2 .2-.5 .2-3.1 .2 2.9 .2-.2 .2-.7 .2-4.1 .1 1.3 .2 1.3 .2 4.8 .2-5.3 .2 1.1 .2-1.7 .2 1.4 .2 1.8 .1-5.3 .2-1.6 .2 7.6 .2-1.4 .2-1.4 .2 3.5 .2 .0 .2-6.8 .1 4.3 .2 2.8 .2-3.9 .2 .7 .2 2.9 .2-2.8 .2-2.0 .2 1.1 .2-1.4 .1 4.2 .2-5.1 .2 6.1 .2-6.0 .2 3.8 .2-3.4 .2 2.6 .2 3.1 .1 .2 .2 .4 .2-3.2 .2 .5 .2 .3 .2 .9 .2-2.4 .2 3.5 .1-1.8 .2 1.9 .2-1.5 .2 .4 .2-3.3 .2 .8 .2-2.1 .2 2.3 .2 .3 .1 2.4 .2-4.9 .2 10.6 .2-8.0 .2 3.3 .2-.5 .2-8.5 .2 5.4 .1 4.2 .2-9.4 .2 7.7 .2-4.1 .2 1.1 .2 1.7 .2-5.1 .2 5.0 .1-2.0 .2-.3 .2 3.5 .2 6.9 .2-7.7 .2 .5 .2-1.5 .2-1.6 .2 2.4 .1 3.1 .2-3.3 .2 1.7 .2-2.7 .2 6.8 .2-10.4 .2 5.6 .2-.1 .1-.7 .2-3.5 .2 .0 .2 2.2 .2 .9 .2-3.3 .2 .4 .2 4.0 .2 1.2 .1-4.0 .2-.3 .2-.1 .2 8.0 .2-5.0 .2-1.4 .2 2.7 .2 3.3 .1-2.8 .2-6.6 .2 3.4 .2-.8 .2 .1 .2-2.1 .2 2.0 .2-1.7 .1 3.6 .2-.8 .2-3.6 .2-.8 .2 3.1 .2 2.8 .2-.4 .2-1.4 .2-8.1 .1 7.1 .2-.7 .2 1.1 .2-2.2 .2 1.9 .2-.6 .2 8.5 .2-5.0 .1-2.3 .2 .4 .2-.2 .2 .8 .2-1.5 .2 1.0 .2 2.5 .2-.4 .1-1.3 .2 2.5 .2-2.7 .2-3.0 .2-1.9 .2 2.6 .2 1.5 .2 1.2 .2 1.6 .1-4.0 .2-.6 .2 3.9 .2 1.0 .2-4.1 .2 2.0 .2 2.5 .2-2.5 .1-.9 .2-4.9 .2 8.2 .2-1.7 .2-1.2 .2-1.4 .2-1.9 .2 2.8 .1 .0 .2 2.8 .2-5.5 .2 6.3 .2-3.3 .2 2.7 .2-5.1 .2 3.1 .2 2.1 .1-2.6 .2-3.8 .2 2.7 .2 2.1 .2-4.6 .2-.1 .2 4.0 .2-2.8 .1 3.8 .2-4.3 .2-1.6 .2 2.5 .2 5.3 .2-5.5 .2 2.0 .2 .6 .1-2.8 .2 4.8 .2-2.2 .2 .6 .2-4.9 .2-.2 .2-2.3 .2 6.0 .2-.1 .1 2.2 .2 1.8 .2-4.1 .2 .0 .2 1.7 .2 2.5 .2-5.5 .2 3.4 .1-2.1 .2-.2 .2 2.7 .2-3.8 .2-.6 .2 4.1 .2-1.6 .2-.6 .1 .3 .2 1.5 .2-2.1 .2 2.7 .2-.8 .2 2.6 .2-.5 .2-1.0 .2-2.6 .1 .8 .2-1.7 .2 8.3 .2-7.4 .2 1.9 .2 1.9 .2-6.6 .2 1.3 .1 1.0 .2-1.4 .2-.7 .2 1.8 .2 4.5 .2-1.4 .2-1.7 .2 .0 .2-4.2 .1 5.9 .2-.7 .2-3.8 .2 3.2 .2-1.0 .2-.8 .2-1.2 .2 .8 .1-.7 .2 3.6 .2-.2 .2-.2 .2-1.2 .2-.6 .2 6.2 .2-10.0 .1 7.9 .2-2.2 .2-.7 .2-1.5 .2 .8 .2-2.5 .2-.6 .2 3.3 .2-4.0 .1 6.5 .2 .7 .2-11.8 .2 4.9 .2 4.7 .2-.1 .2-.3 .2 .8 .1 .9 .2 .3 .2 2.3 .2-4.5 .2 2.2 .2-6.4 .2 3.8 .2-2.8 .1 6.7 .2 2.4 .2-4.6 .2-4.7 .2 3.0 .2 .4 .2 .4 .2 2.3 .2-.3 .1-9.2 .2 10.2 .2-4.7 .2-.2 .2 5.0 .2-4.2 .2-2.8 .2 .1 .1 3.5 .2 2.1 .2 1.5 .2-4.2 .2-.7 .2 5.1 .2-5.1 .2 4.7 .1-3.0 .2 .0 .2-1.1 .2 1.3 .2-1.9 .2-.5 .2 1.3 .2-1.2 .2 2.3 .1-.6 .2-.8 .2 .2 .2-.1 .2 4.7 .2-4.2 .2-1.3 .2 .7 .1 2.2 .2-2.0 .2 .1 .2-.2 .2 .9 .2 .5 .2 .2 .2-4.8 .1 1.3 .2-3.6 .2 7.9 .2 .7 .2 .4 .2-2.6 .2 2.2 .2-2.6 .2-.2 .1-3.2 .2 1.7 .2 .4 .2 3.4 .2 1.6 .2-4.7 .2 1.9 .2-.2 .1-2.4 .2-2.0 .2 2.1 .2-1.5 .2 2.5 .2 .3 .2 .0 .2 .0 .1 1.4 .2-3.1 .2 4.0 .2-5.5 .2 3.7 .2 .7 .2-2.5 .2-1.7 .2 4.7 .1-2.8 .2 3.1 .2 .0 .2-1.7 .2 .0 .2 2.1 .2-1.3 .2-2.7 .1 2.3 .2 .8 .2-.7 .2-.1 .2-.7 .2 .1 .2-1.7 .2-1.0 .1 5.2 .2-3.6 .2 1.8 .2-3.5 .2 3.4 .2-2.0 .2 7.6 .2-8.0 .2 .1 .1 3.8 .2 .4 .2-6.4 .2 4.6 .2 1.3 .2-4.2 .2 3.8 .2-2.4 .1-.9 .2 1.3 .2-.3 .2-1.8 .2 7.1 .2-5.2 .2-.6 .2 3.1 .2-1.8 .1 2.7 .2-3.1 .2 1.2 .2-.5 .2 .2 .2-.7 .2 .1 .2 3.4 .1-4.4 .2 .2 .2 .4 .2 1.7 .2-.3 .2 1.0 .2-4.2 .2 2.9 .1-.8 .2-.2 .2 .8 .2-3.8 .2 4.0 .2-.2 .2-2.8 .2 2.4 .2 2.9 .1-3.4 .2 1.7 .2-1.5 .2-1.0 .2-.2 .2 1.0 .2 2.9 .2-.8 .1-2.7 .2 3.0 .2-2.0 .2-.9 .2 1.9 .2-2.3 .2-1.2 .2 5.0 .1-5.4 .2 4.1 .2-3.6 .2 2.6 .2-.3 .2-.4 .2-3.0 .2 3.6 .2 .1 .1-1.5 .2 1.4 .2 1.8 .2-2.9 .2 1.7 .2-2.4 .2 2.6 .2 .4 .1 3.1 .2-2.6 .2-.8 .2 1.6 .2-4.0 .2 3.4 .2-2.6 .2-.2 .1 2.9 .2-1.5 .2 1.9 .2-4.6 .2 2.8 .2-1.3 .2 .4 .2-2.7 .2 4.7 .1-1.2 .2-2.0 .2-.6 .2 .8 .2 3.8 .2-2.5 .2-.4 .2 1.4 .1-.8 .2 .4 .2 .8 .2-.7 .2 .9 .2-3.4 .2 2.1 .2-.7 .1 .8 .2-.3 .2-1.0 .2 .5 .2 2.2 .2-2.6 .2-1.1 .2 3.1 .2 .6 .1-2.1 .2 .7 .2-1.7 .2 1.1 .2 2.3 .2-.5 .2-1.2 .2-.7 .1-2.3 .2 3.3 .2 .3 .2 1.0 .2 1.7 .2-2.8 .2 1.0 .2-3.7 .1 4.1 .2-.6 .2 .9 .2-1.2 .2-.4 .2 1.9 .2-3.9 .2 2.4 .2 .8 .1-3.4 .2-.7 .2 2.9 .2-.6 .2 .9 .2 .1 .2-2.6 .2 2.0 .1 1.5 .2-2.8 .2 .2 .2-1.6 .2 3.7 .2 2.1 .2-6.3 .2 4.1 .2 .3 .1-2.9 .2 .4 .2-1.3 .2 .5 .2 1.9 .2 .9 .2-1.0 .2 1.4 .1-1.3 .2-2.7 .2 5.2 .2-.5 .2-3.8 .2 5.0 .2-2.6 .2-.7 .1 3.7 .2-9.1 .2 1.8 .2 4.8 .2-2.0 .2-1.5 .2 5.2 .2-2.1 .2-3.8 .1 1.3 .2 3.3 .2 2.0 .2-8.2 .2 4.9 .2-1.4 .2-3.0 .2 3.5 .1-3.2 .2 2.3 .2 4.9 .2-2.5 .2 .7 .2-.5 .2-.5 .2 1.4 .1-5.0 .2 1.9 .2 2.9 .2-3.8 .2 .7 .2 4.0 .2 .8 .2-5.2 .2-.5 .1 3.4 .2-.7 .2-2.4 .2 3.2 .2-.1 .2-1.2 .2 7.2 .2-4.0 .1-1.3 .2 .5 .2 5.0 .2-4.8 .2-4.7 .2 2.7 .2-.6 .2-1.7 .1 2.2 .2 .0 .2-.8 .2-1.2 .2 3.5 .2-6.4 .2 6.4 .2-2.2 .2 .7 .1-7.0 .2 10.8 .2-9.1 .2 2.3 .2 4.0 .2-3.3 .2 .5 .2-4.9 .1 4.8 .2 1.8 .2 1.2 .2-2.6 .2 1.4 .2 .6 .2-3.0 .2-.2 .1 7.3 .2-7.6 .2 5.6 .2-3.1 .2 3.7 .2-5.6 .2 3.1 .2-.5 .2-1.5 .1 1.4 .2-2.8 .2 1.8 .2-.8 .2 3.0 .2-2.2 .2-3.4 .2 2.7 .1 .7 .2-2.1 .2 5.8 .2-2.4 .2 1.1 .2-4.1 .2 .9 .2 3.6 .1-6.2 .2 4.6 .2-.8 .2-1.5 .2 1.5 .2-2.9 .2 3.3 .2-3.6 .2-.2 .1 6.7 .2-5.2 .2-3.6 .2 7.7 .2-4.3 .2-6.8 .2 8.6 .2 2.4 .1-1.4 .2 3.4 .2-4.6 .2 1.8 .2-4.0 .2 2.9 .2 3.4 .2-2.5 .2-.9 .1-5.2 .2 3.9 .2-2.3 .2 5.1 .2-3.7 .2 2.7 .2-3.3 .2 7.1 .1-7.6 .2 3.3 .2 6.1 .2-6.0 .2-2.6 .2 3.6 .2 1.0 .2-.3 .1-7.1 .2 5.5 .2-5.9 .2 10.0 .2-4.5 .2-1.3 .2 2.8 .2-.5 .2-4.2 .1 7.1 .2-4.7 .2-3.8 .2 8.0 .2 .4 .2-.7 .2-1.9 .2-3.7 .1 4.8 .2 2.4 .2-2.7 .2 2.1 .2-6.3 .2 4.8 .2-.2 .2-6.6 .1-.4 .2 2.5 .2 2.2 .2 1.0 .2-1.9 .2 .5 .2-.2 .2 .6 .2 1.4 .1-.2 .2-1.6 .2 .9 .2-2.1 .2 3.7 .2-3.9 .2 6.5 .2-5.0 .1 .9 .2-3.2 .2 1.3 .2 1.6 .2-.5 .2-2.0 .2-1.6 .2 3.7 .1 .3 .2 1.3 .2 2.2 .2-4.9 .2-5.2 .2 5.7 .2-5.3 .2 1.8 .2 7.2 .1-1.5 .2-3.7 .2 .0 .2 1.7 .2-5.1 .2 6.8 .2-2.5 .2 6.6 .1-8.7 .2 6.2 .2-5.1 .2 5.1 .2-5.9 .2 5.0 .2-3.4 .2-1.1 .1 1.9 .2 1.8 .2-.2 .2 3.3 .2-2.2 .2-9.6 .2 6.2 .2-4.3 .2 4.4 .1 2.7 .2-5.3 .2 .5 .2 3.5 .2-1.1 .2 5.0 .2-3.4 .2 .6 .1 3.1 .2-5.9 .2 1.3 .2-2.5 .2 3.2 .2 2.0 .2 .9 .2-3.6 .1-1.8 .2-.1 .2-1.6 .2 3.9 .2 3.1 .2-9.5 .2 .5 .2 9.1 .2-7.7 .1 5.0 .2-4.1 .2 5.2 .2 .0 .2-1.5 .2 1.7 .2-2.0 .2 1.3 .1 3.2 .2-1.8 .2-4.5 .2-.4 .2 1.5 .2 .0 .2 .7 .2-1.7 .2 3.2 .1-1.5 .2 .8 .2-.9 .2 1.5 .2-4.6 .2 7.1 .2-3.1 .2 .2 .1 .4 .2 1.2 .2-.9 .2-1.2 .2-1.1 .2-3.7 .2 4.7 .2-1.3 .1 .0 .2 6.9 .2-10.8 .2 4.8 .2 3.0 .2-.7 .2 .7 .2-6.3 .2 .8 .1 3.9 .2-2.3 .2 5.1 .2-3.7 .2-.1 .2 .6 .2-1.8 .2 1.0 .1-2.0 .2 1.6 .2-1.1 .2 1.8 .2-4.1 .2-.2 .2 4.8 .2-.5 .1-3.0 .2 1.8 .2-2.0 .2 7.6 .2-8.8 .2 8.0 .2-6.2 .2 3.0 .2-1.6 .1-.3 .2 3.2 .2-.3 .2-2.7 .2-1.5 .2 7.2 .2-1.6 .2-3.1 .1-1.0 .2 1.4 .2-.5 .2 2.7 .2-5.2 .2 2.4 .2-1.9 .2 4.9 .1 1.2 .2-4.5 .2 1.5 .2 2.0 .2-4.0 .2-1.5 .2 4.6 .2-1.2 .2-1.7 .1 3.9 .2-2.8 .2-4.7 .2 4.9 .2-.9 .2 4.4 .2-4.3 .2-.5 .1 1.5 .2-.4 .2-3.8 .2 3.5 .2-1.0 .2 3.9 .2 2.2 .2-7.9 .1 .4 .2 .2 .2 .4 .2 .0 .2 1.6 .2 2.3 .2-5.3 .2-.5 .2-.6 .1 6.4 .2 .5 .2-6.2 .2-.2 .2 3.8 .2 2.1 .2-.2 .2-1.8 .1 1.1 .2-.8 .2-1.9 .2 5.3 .2-4.1 .2-2.4 .2 1.4 .2-2.3 .1 3.3 .2 2.3 .2-5.0 .2 5.1 .2 2.0 .2-3.6 .2-3.2 .2 .6 .2 1.1 .1-2.0 .2 .1 .2 2.1 .2 .1 .2 1.7 .2-3.8 .2 6.4 .2-1.7 .1-.4 .2-3.2 .2 5.0 .2-4.3 .2 4.4 .2-1.5 .2-4.1 .2 1.0 .2 4.7 .1-1.7 .2-2.4 .2 .7 .2 .0 .2-2.0 .2 1.2 .2-1.0 .2 .5 .1 1.9 .2-3.0 .2 3.5 .2-1.3 .2 1.4 .2 .2 .2 .8 .2-1.3 .1 .2 .2-1.9 .2 1.6 .2-3.1 .2 1.4 .2 2.0 .2-1.6 .2 1.0 .2-3.1 .1 5.0 .2-4.0 .2 2.0 .2-.9 .2 2.0 .2-2.7 .2-1.3 .2-1.8 .1 3.3 .2-1.9 .2 3.6 .2 1.9 .2-7.7 .2 2.0 .2 3.3 .2 2.0 .1-2.0 .2 .1 .2 .4 .2 .1 .2 2.3 .2-2.2 .2-3.9 .2 1.6 .2 1.4 .1-2.1 .2 1.1 .2-.5 .2-.4 .2 3.0 .2-2.3 .2-1.5 .2 .8 .1 1.6 .2 4.4 .2-3.9 .2 2.6 .2-2.1 .2-5.7 .2 5.4 .2-2.6 .1-1.1 .2 .6 .2 6.2 .2-7.3 .2 2.1 .2 3.8 .2-1.1 .2-5.1 .2 3.5 .1-.9 .2 .7 .2 2.0 .2-2.9 .2 .6 .2 3.9 .2-7.2 .2 3.2 .1 1.8 .2-3.7 .2 1.3 .2-1.5 .2 3.2 .2-1.7 .2 3.1 .2 .5 .1-2.1 .2-.9 .2 1.4 .2-.5 .2-2.8 .2 5.1 .2-1.9 .2 1.2 .2-4.7 .1 4.9 .2 2.7 .2-3.3 .2-4.5 .2 3.3 .2-.2 .2 .6 .2-1.0 .1 1.6 .2-2.1 .2 1.5 .2-2.0 .2 1.7 .2 2.0 .2-3.3 .2 2.5 .1-3.3 .2 1.1 .2 .3 .2 3.2 .2-4.4 .2 4.3 .2-5.8 .2 2.8 .2 2.4 .1-.5 .2-3.7 .2-.4 .2 4.5 .2-4.6 .2 3.9 .2-2.3 .2 1.1 .1 4.9 .2-1.6 .2-1.5 .2-4.7 .2 3.6 .2-.6 .2-.3 .2 3.0 .2-6.4 .1 4.2 .2-.4 .2-1.8 .2 5.2 .2-6.3 .2 2.7 .2 .1 .2-4.6 .1 1.5 .2 1.0 .2 3.6 .2 .3 .2-.7 .2-.7 .2-5.0 .2 4.9 .1-1.5 .2 3.4 .2 .4 .2 1.7 .2-3.0 .2 .2 .2-3.7 .2 2.2 .2-2.6 .1 4.2 .2-4.1 .2 1.9 .2-1.1 .2 .6 .2 1.8 .2-1.9 .2 1.5 .1-2.4 .2 4.6 .2-3.9 .2 3.2 .2 2.1 .2-8.7 .2 2.8 .2 1.5 .1 2.5 .2-3.1 .2 1.6 .2-2.0 .2 2.4 .2-3.3 .2 3.8 .2-7.1 .2 2.1 .1 6.8 .2-3.1 .2-1.9 .2 5.6 .2-2.1 .2 .2 .2-2.8 .2 1.9 .1-.3 .2-3.8 .2 4.0 .2-1.4 .2 2.6 .2 .1 .2-3.5 .2 .1 .1 1.4 .2 .8 .2-1.9 .2 .5 .2 1.3 .2-.3 .2 1.3 .2-1.7 .2-1.9 .1-1.6 .2 4.5 .2-2.0 .2 .0 .2 .1 .2-2.2 .2 2.0 .2-3.8 .1 3.8 .2-.8 .2 4.7 .2-2.4 .2-1.2 .2 .7 .2 1.0 .2-2.6 .1 .9 .2-.2 .2 4.9 .2-4.2 .2-3.5 .2 4.8 .2 3.1 .2-6.1 .2 7.6 .1-6.1 .2 1.8 .2-2.7 .2 .5 .2-1.6 .2 .3 .2-1.9 .2 5.7 .1-4.0 .2 2.7 .2-.1 .2-1.7 .2 1.2 .2-.3 .2-.7 .2 1.0 .1 .0 .2-1.9 .2-.5 .2 .8 .2 1.7 .2 2.3 .2 .1 .2-2.0 .2 1.1 .1-1.5 .2 1.8 .2-1.8 .2 .5 .2-1.2 .2 .5 .2 3.4 .2-5.6 .1 2.2 .2-1.1 .2 2.9 .2 1.5 .2-3.9 .2-4.5 .2 6.2 .2 .0 .2-4.2 .1 2.7 .2 .3 .2-4.2 .2 5.6 .2-.5 .2-.3 .2-2.5 .2 .7 .1 .1 .2 2.1 .2-2.8 .2 4.7 .2-2.1 .2-4.9 .2 7.5 .2-3.0 .1-1.4 .2 1.3 .2-3.8 .2 4.0 .2-5.2 .2 2.8 .2 4.7 .2-.2 .2-3.2 .1-1.2 .2 3.8 .2-2.0 .2 .5 .2 .9 .2-3.5 .2 3.8 .2-5.9 .1 7.3 .2-6.2 .2 1.9 .2-.1 .2 2.9 .2 .0 .2-.8 .2 .4 .1-.1 .2-1.2 .2-3.8 .2-.8 .2-.1 .2 4.8 .2-.4 .2 .2 .2 .8 .1-1.0 .2-1.6 .2-1.1 .2-.9 .2 6.7 .2-.7 .2-4.8 .2 2.3 .1 1.5 .2 2.5 .2-4.7 .2 1.7 .2 2.1 .2-6.3 .2 2.2 .2 1.5 .1-1.5 .2 6.2 .2-2.7 .2-1.5 .2-2.5 .2 4.0 .2-.5 .2-2.6 .2 .2 .1-2.2 .2 3.0 .2 2.1 .2 .3 .2-1.0 .2 .6 .2-3.1 .2 .2 .1 3.7 .2-1.6 .2-2.8 .2 2.9 .2 .7 .2-.3 .2-1.3 .2-1.4 .1 2.0 .2 2.9 .2-3.4 .2-1.8 .2 2.2 .2-3.5 .2 3.3 .2-1.2 .2 2.8 .1-1.9 .2 2.1 .2 2.7 .2-5.5 .2-1.4 .2 2.9 .2-1.2 .2 .5 .1-1.7 .2 2.6 .2-1.1 .2-4.9 .2 4.2 .2 1.3 .2 1.8 .2-3.8 .1-.5 .2 4.2 .2-3.8 .2 1.6 .2 .8 .2 .5 .2-1.5 .2-2.4 .2 4.5 .1-3.1 .2-.2 .2 5.4 .2-2.4 .2-4.1 .2 1.2 .2 .5 .2-1.1 .1-2.4 .2 5.7 .2 .0 .2-1.1 .2-1.4 .2 1.3 .2 .9 .2-3.6 .2 1.5 .1-.4 .2 2.6 .2-.9 .2-3.3 .2 1.4 .2 5.0 .2-5.7 .2 2.4 .1-1.7 .2 3.9 .2-2.7 .2-.8 .2-1.5 .2 1.9 .2 2.3 .2-.4 .1-4.1 .2 6.0 .2-3.8 .2-1.6 .2 2.4 .2-1.6 .2 .1 .2-.1 .2 1.1 .1-.8 .2-2.5 .2 4.6 .2-2.1 .2 3.5 .2-1.4 .2 .2 .2-.9 .1 2.3 .2-3.3 .2-1.4 .2 2.7 .2-6.3 .2 4.9 .2 1.2 .2-1.3 .1 3.4 .2-1.1 .2-1.2 .2-1.1 .2 3.1 .2-3.7 .2 .6 .2 2.4 .2-.4 .1 3.0 .2-4.6 .2-3.5 .2 5.3 .2 1.2 .2-2.9 .2 3.5 .2 .5 .1-5.1 .2 .4 .2-1.6 .2 3.7 .2 .4 .2-.2 .2-3.9 .2 1.0 .1-1.4 .2-.4 .2 .6 .2-.5 .2 2.9 .2 1.3 .2 .4 .2-1.3 .2-1.4 .1 1.4 .2 1.2 .2-1.8 .2 .7 .2-.8 .2-.4 .2 1.2 .2-2.5 .1 4.7 .2-5.7 .2 4.4 .2-4.0 .2 6.3 .2-1.4 .2-3.7 .2 .8 .1-1.5 .2 2.4 .2 1.0 .2 4.8 .2-8.7 .2 5.8 .2-4.1 .2 1.9 .2 1.4 .1-.8 .2-.2 .2-1.4 .2 .4 .2 .3 .2 2.4 .2-6.1 .2 2.3 .1-1.8 .2 .7 .2 .4 .2 4.3 .2 2.5 .2-1.8 .2-6.0 .2 3.0 .1-2.9 .2 3.7 .2 2.0 .2-1.6 .2 .7 .2-2.5 .2-4.3 .2 .0 .2 4.5 .1 1.6 .2 1.7 .2-3.9 .2 1.0 .2 .4 .2 2.0 .2-2.8 .2-2.5 .1 5.3 .2-1.6 .2-.1 .2-4.0 .2 3.1 .2-4.2 .2-.8 .2 4.4 .1-.5 .2 2.5 .2 2.2 .2-3.7 .2 4.6 .2-6.0 .2 3.4 .2-5.1 .2 3.5 .1-1.1 .2 .3 .2 2.0 .2-6.3 .2 5.1 .2-2.4 .2 2.4 .2 .7 .1-1.9 .2-.1 .2-1.9 .2 4.3 .2-3.1 .2 2.8 .2-4.8 .2 7.2 .2-6.1 .1 5.6 .2-4.2 .2 2.6 .2-1.8 .2 2.1 .2-1.7 .2 3.3 .2-1.6 .1 .1 .2 2.5 .2-6.1 .2 5.2 .2-3.2 .2-4.0 .2 5.0 .2-1.7 .1 4.8 .2-5.6 .2 1.4 .2 .5 .2-5.5 .2 6.2 .2-3.9 .2 6.2 .2 .7 .1-4.3 .2-4.1 .2 4.6 .2 .0 .2 1.3 .2-2.6 .2-2.2 .2 2.6 .1-2.0 .2 6.9 .2-6.3 .2 .1 .2 1.6 .2-3.0 .2 2.0 .2 .8 .1-.9 .2 .6 .2 3.7 .2-2.0 .2-4.5 .2 2.3 .2 3.0 .2-3.5 .2 1.8 .1-.3 .2 1.4 .2-1.7 .2 .0 .2-1.7 .2 3.0 .2-3.2 .2 6.6 .1-4.3 .2-.5 .2 2.4 .2-2.1 .2 .4 .2-.3 .2-1.7 .2-.4 .1 .5 .2 4.4 .2-4.2 .2 .5 .2-.1 .2 2.8 .2 3.0 .2-6.9 .2 3.5 .1-1.0 .2-1.0 .2 1.9 .2-4.2 .2 5.0 .2-1.5 .2-2.8 .2 6.0 .1-1.7 .2 .7 .2-6.1 .2 2.8 .2-.6 .2 2.6 .2 1.7 .2-7.5 .1 4.4 .2-.3 .2 2.6 .2-2.4 .2-2.8 .2 2.5 .2-2.0 .2 .6 .2 1.9 .1-1.2 .2 1.7 .2-4.0 .2 8.6 .2-2.4 .2-1.2 .2-4.5 .2-1.9 .1 2.9 .2 1.4 .2 5.5 .2-2.1 .2-4.1 .2 3.9 .2 .0 .2-2.7 .1 2.7 .2-2.0 .2-2.1 .2-1.2 .2 2.3 .2 2.5 .2-5.2 .2-.5 .2 4.7 .1-7.1 .2 9.9 .2-5.0 .2 2.6 .2 2.4 .2-7.2 .2 .9 .2 7.2 .1-5.5 .2 .3 .2 .8 .2 1.8 .2 .6 .2-2.7 .2-.9 .2 .6 .2 .8 .1 2.1 .2-2.5 .2 3.6 .2-5.8 .2 3.1 .2 2.6 .2-1.0 .2-2.1 .1-2.6 .2 .4 .2 1.2 .2 1.0 .2-1.2 .2-2.7 .2 1.6 .2 2.7 .1 .7 .2-4.8 .2 2.2 .2-2.8 .2 2.4 .2 8.9 .2-7.6 .2-.9 .2-.5 .1-1.3 .2-1.5 .2 4.0 .2-.5 .2 3.8 .2-6.8 .2 4.6 .2 2.0 .1-7.3 .2 5.7 .2-5.0 .2 4.8 .2 2.1 .2-3.3 .2 .6 .2-2.1 .1 2.1 .2 1.9 .2-2.9 .2 .1 .2 1.2 .2 .9 .2-5.5 .2 3.8 .2-1.6 .1 2.6 .2 1.2 .2-1.6 .2 2.2 .2-5.1 .2 1.3 .2-1.3 .2 2.3 .1 .1 .2-.6 .2-2.3 .2 2.5 .2-.8 .2 2.4 .2-2.0 .2 3.3 .1-2.2 .2-4.7 .2 3.8 .2-2.9 .2 5.5 .2 1.1 .2-3.4 .2 1.1 .2-4.3 .1-1.9 .2 3.9 .2 .7 .2-2.9 .2 3.7 .2 .5 .2 .8 .2 2.1 .1-1.7 .2-2.7 .2 1.0 .2 1.2 .2-3.8 .2 5.5 .2-1.0 .2-2.6 .1-1.0 .2 10.3 .2-6.9 .2 .3 .2 2.0 .2-1.9 .2-1.8 .2 1.1 .2-3.7 .1 3.8 .2-5.2 .2 4.5 .2 .3 .2-4.9 .2 8.0 .2-7.0 .2 5.0 .1-3.6 .2 1.9 .2-2.2 .2 7.2 .2-3.3 .2 1.8 .2-2.4 .2-.2 .1-1.2 .2-.9 .2 1.9 .2-1.0 .2-.7 .2-2.8 .2 2.4 .2 2.1 .2-2.4 .1 1.8 .2-1.1 .2-2.0 .2 .3 .2 .4 .2 1.0 .2 .1 .2 3.0 .1-4.9 .2-2.1 .2 6.1 .2-2.6 .2 .8 .2 5.8 .2-2.3 .2-2.0 .2 .8 .1-1.8 .2 1.8 .2-3.4 .2-.2 .2 .6 .2 4.4 .2-.1 .2-4.6 .1 3.7 .2-2.8 .2 2.6 .2-2.9 .2 2.7 .2-2.3 .2-.3 .2 .5 .1 .4 .2-1.5 .2-1.7 .2 6.4 .2-4.3 .2-3.0 .2-.9 .2-1.1 .2 4.5 .1 4.0 .2-6.0 .2 2.6 .2-3.0 .2 5.9 .2-1.5 .2-.1 .2 2.1 .1 .5 .2-1.2 .2-3.2 .2-1.4 .2 .5 .2-1.4 .2 7.0 .2-3.9 .1 .6 .2 .2 .2 3.5 .2-5.0 .2 3.3 .2-1.6 .2-.9 .2-3.4 .2 5.4 .1-3.1 .2 .5 .2 1.3 .2-.2 .2 1.9 .2-3.4 .2 1.6 .2 .2 .1-.5 .2 1.2 .2-1.7 .2 2.7 .2-3.5 .2-1.4 .2 2.6 .2 2.2 .1-3.1 .2-.2 .2 .5 .2 1.0 .2-.6 .2 .8 .2-3.6 .2 5.8 .2-1.7 .1-2.6 .2 4.0 .2-1.6 .2 1.8 .2-4.7 .2 5.0 .2-2.8 .2-3.8 .1 5.0 .2-1.9 .2-1.2 .2 1.4 .2-3.0 .2 4.4 .2-1.4 .2-.1 .1 3.0 .2-2.5 .2-1.2 .2-.5 .2 1.6 .2 1.9 .2-2.8 .2-.8 .2 3.4 .1-1.5 .2-.2 .2 3.7 .2-5.8 .2 2.5 .2-3.4 .2 2.5 .2 1.6 .1 1.0 .2-4.3 .2 3.7 .2 .0 .2-1.6 .2 4.5 .2-4.3 .2-1.6 .1 2.3 .2-4.0 .2 6.0 .2-1.0 .2-2.4 .2 1.8 .2-.2 .2 2.5 .2-4.5 .1-1.2 .2-1.4 .2 3.1 .2-2.3 .2 2.6 .2 1.0 .2-1.5 .2-.9 .1 3.8 .2-2.5 .2 .8 .2 1.3 .2-4.1 .2 .7 .2 6.3 .2-4.9 .2-1.7 .1 1.5 .2-.6 .2-1.2 .2 1.5 .2 .7 .2 .0 .2 1.1 .2-4.3 .1 .4 .2 4.4 .2-2.4 .2 3.2 .2-1.7 .2-3.3 .2 3.7 .2-3.0 .1 2.5 .2 1.9 .2 1.7 .2-4.3 .2 1.5 .2-.7 .2 .9 .2-6.5 .2 4.2 .1 1.4 .2 .3 .2-2.4 .2 3.1 .2 .6 .2-2.1 .2-.6 .2-.2 .1 1.0 .2 2.1 .2 .6 .2-4.0 .2-.9 .2 .3 .2 3.6 .2-1.6 .1 .2 .2 .4 .2-.2 .2-1.1 .2-1.9 .2 .9 .2 1.5 .2 .6 .2-1.6 .1-.1 .2 3.7 .2-3.8 .2 1.4 .2-1.1 .2-1.1 .2-1.4 .2 2.1 .1-.6 .2 3.5 .2-4.2 .2 1.5 .2 2.3 .2-1.7 .2 1.3 .2 .7 .1-5.2 .2 2.6 .2-1.1 .2 4.8 .2-3.1 .2 1.3 .2 2.6 .2-4.4 .2 .9 .1 .7 .2-1.4 .2 3.2 .2-.9 .2 .4 .2-2.0 .2-.8 .2-.1 .1 .0 .2-2.7 .2 4.2 .2 1.0 .2-1.7 .2-1.1 .2 1.2 .2 .4 .1 .2 .2 3.0 .2-5.5 .2 2.5 .2 .7 .2-1.3 .2-.6 .2-1.7 .2 .9 .1 2.7 .2 1.6 .2-4.4 .2 2.4 .2 .1 .2 1.0 .2-1.6 .2 .4 .1 .9 .2-4.2 .2 2.5 .2-3.7 .2-.5 .2 2.4 .2-1.5 .2 4.2 .1 1.0 .2-2.6 .2 .3 .2-.2 .2-.1 .2 .8 .2 .5 .2-1.7 .2-.6 .1 .5 .2 2.7 .2-2.5 .2 3.8 .2-3.4 .2 3.2 .2-5.1 .2 1.0 .1 2.3 .2 .0 .2-1.2 .2 4.3 .2-3.9 .2 .4 .2-1.7 .2 4.4 .2-1.5 .1-.9 .2-4.0 .2 3.9 .2-1.6 .2 1.6 .2 1.0 .2-3.2 .2 1.9 .1 1.3 .2-1.4 .2-1.0 .2-1.4 .2 .8 .2-1.2 .2 4.4 .2-1.7 .1-2.6 .2 2.4 .2-2.5 .2-3.9 .2 8.7 .2-.1 .2-5.1 .2 1.5 .2 1.8 .1-1.2 .2-.9 .2 .7 .2 .5 .2-.6 .2 1.5 .2-.9 .2-1.0 .1 1.5 .2-3.2 .2 5.9 .2-6.1 .2 3.2 .2 .8 .2 .2 .2-.3 .1 1.9 .2-4.6 .2 2.0 .2 .4 .2-1.2 .2-.2 .2 3.6 .2-3.8 .2 .4 .1 .4 .2 .1 .2 .8 .2-.7 .2 1.1 .2-.5 .2 .7 .2 1.7 .1-4.3 .2 4.9 .2-4.1 .2 2.2 .2-1.0 .2-.9 .2-3.3 .2 7.0 .1-4.6 .2-.1 .2 3.6 .2-1.9 .2 3.6 .2-.4 .2-1.9 .2-.9 .2 1.0 .1-4.2 .2 3.0 .2-.1 .2-1.2 .2 1.5 .2-3.5 .2 4.8 .2 .8 .1-5.3 .2 2.9 .2 2.9 .2-2.3 .2-3.0 .2 .1 .2 3.8 .2 2.1 .1-6.1 .2 2.3 .2-1.7 .2 1.0 .2 1.3 .2-.7 .2-1.4 .2 5.9 .2-4.8 .1 .0 .2 2.7 .2-2.3 .2-.5 .2 2.5 .2-4.3 .2 3.9 .2 .6 .1-.8 .2-1.8 .2 .3 .2-3.7 .2 3.5 .2 .9 .2 1.3 .2-1.6 .1-1.2 .2-1.0 .2 1.7 .2 .4 .2 2.5 .2-2.7 .2-1.2 .2 .9 .2-.9 .1 .6 .2-4.5 .2 1.4 .2 .9 .2 3.8 .2-1.2 .2 .5 .2 2.3 .1-5.1 .2 5.1 .2-1.8 .2-2.5 .2 5.1 .2-6.8 .2 .7 .2 2.2 .2 1.4 .1-1.4 .2-4.6 .2 4.3 .2 .5 .2 6.3 .2-2.8 .2-3.0 .2-2.9 .1 3.5 .2-3.7 .2 3.3 .2 .4 .2-1.8 .2 1.5 .2-1.4 .2-.5 .1 5.0 .2-2.3 .2-2.1 .2-1.1 .2 2.3 .2 .9 .2 .7 .2 1.5 .2-2.4 .1-3.9 .2 7.7 .2-2.1 .2-.8 .2 1.2 .2-6.9 .2 2.7 .2-.3 .1 4.1 .2-5.8 .2 2.1 .2 4.6 .2-2.2 .2-2.5 .2 5.5 .2-7.8 .1 4.3 .2-1.6 .2 1.8 .2-1.9 .2-1.4 .2 2.6 .2-3.8 .2 4.5 .2-2.0 .1 3.0 .2-3.4 .2-.5 .2 2.6 .2 2.0 .2-8.0 .2 5.3 .2 1.3 .1-5.0 .2 1.3 .2 3.7 .2-3.6 .2 .5 .2 5.7 .2-6.4 .2 .1 .1-3.4 .2 2.9 .2-.3 .2 7.0 .2-1.2 .2-5.9 .2 7.7 .2-2.8 .2-2.3 .1 2.3 .2-1.0 .2-2.7 .2-2.3 .2 2.0 .2 2.1 .2-.8 .2-.9 .1 4.0 .2-4.8 .2 4.6 .2-3.2 .2 1.4 .2-2.9 .2 2.6 .2-1.8 .1-2.2 .2 4.0 .2-.1 .2 2.0 .2-1.2 .2-3.0 .2 .9 .2-4.3 .2 3.2 .1 5.5 .2 .5 .2-1.7 .2-1.1 .2 .6 .2-.2 .2-5.0 .2 1.9 .1 4.7 .2 .0 .2-2.1 .2-1.3 .2-.1 .2-.4 .2-.9 .2-2.2 .1 4.6 .2-1.3 .2 .5 .2 4.3 .2-2.5 .2-2.8 .2 2.8 .2-4.6 .2 5.6 .1-1.7 .2-1.0 .2 1.7 .2 1.9 .2-4.2 .2-1.1 .2 6.7 .2-4.6 .1 3.3 .2-4.8 .2 2.3 .2-2.2 .2 2.8 .2-2.0 .2-.8 .2 4.8 .2-2.7 .1-5.1 .2 3.9 .2-1.5 .2-.6 .2 1.4 .2 .2 .2 1.1 .2-1.8 .1-2.3 .2 2.9 .2 3.0 .2-4.8 .2 4.2 .2-.3 .2-2.0 .2 1.7 .1-2.3 .2 .7 .2-1.3 .2 3.2 .2 2.0 .2-4.5 .2 4.2 .2-7.5 .2 2.8 .1-.3 .2 6.3 .2-5.4 .2 3.3 .2-6.9 .2 5.3 .2 1.1 .2-1.5 .1-7.0 .2 7.6 .2 1.7 .2 1.5 .2-2.6 .2-6.0 .2 4.3 .2 3.4 .1-5.4 .2 4.4 .2-3.4 .2 1.9 .2 2.3 .2-5.1 .2 12.9 .2-9.8 .2 .7 .1-4.2 .2 3.1 .2-1.3 .2-4.9 .2-.4 .2 7.6 .2-1.6 .2-11.0 .1 2.0 .2 8.0 .2 1.1 .2 3.0 .2-8.2 .2 8.1 .2-4.0 .2-.8 .1 1.6 .2 4.9 .2-1.9 .2 1.4 .2-6.7" fill="none" stroke="#0000ff" stroke-opacity="0.55" stroke-width="0.5"/><path d="M33.1 416.1l.1-2.6 .0 1.8 .1 .5 .1-.2 .1 3.6 .0-.9 .1 1.0 .1-1.9 .1 2.9 .0-3.0 .1 2.7 .1-1.5 .1 .8 .0-2.5 .1-3.6 .1-.6 .1 10.4 .0-4.8 .1 .2 .1-1.9 .1-.9 .0 10.3 .1-12.4 .1 3.3 .1 .0 .0-3.3 .1-.4 .1 1.7 .1 1.1 .0-.4 .1 4.0 .1-6.1 .1 4.8 .0 3.3 .1-1.8 .1-6.2 .1-5.6 .0 11.7 .1-1.1 .1-3.3 .1 5.7 .0-5.1 .1 1.5 .1-3.5 .1 4.2 .0-2.3 .1-.2 .1 4.8 .1-2.6 .0-5.2 .1 6.6 .1 .4 .1-5.0 .0 1.3 .1 1.4 .1-.9 .1 1.1 .0 1.5 .1-3.4 .1 7.7 .1-8.3 .0 .5 .1 7.4 .1 1.2 .1-6.9 .0-.7 .1-2.5 .1 6.4 .1-2.8 .0-3.0 .1 3.7 .1 2.8 .1-2.0 .0 4.4 .1-3.1 .1-2.0 .1-1.4 .0 1.7 .1 1.9 .1-1.1 .1 .6 .0-2.4 .1 1.6 .1 1.2 .1-3.9 .0-3.1 .1 8.4 .1-3.2 .1-2.8 .0 1.8 .1-1.3 .1-4.0 .1 4.2 .0-3.4 .1 4.5 .1-.9 .1 3.4 .0-3.4 .1 1.3 .1-1.8 .1-.2 .0-2.7 .1 6.3 .1-2.1 .1-2.0 .0 2.0 .1-1.6 .1-.8 .1 2.6 .0 2.5 .1-3.9 .1-3.0 .1 2.1 .0 6.2 .1-6.7 .1 5.1 .1-3.6 .0 2.5 .1-2.2 .1-3.7 .1 3.0 .0 6.3 .1-5.6 .1 1.7 .1-2.2 .0 .5 .1 1.1 .1 .4 .1 4.3 .0-5.5 .1-.4 .1-1.2 .1-1.6 .0-.7 .1 5.5 .1-6.1 .1 7.9 .0-1.3 .1-2.8 .1-2.1 .1 2.9 .0 .0 .1 2.6 .1-4.5 .1 .9 .0 .8 .1-.6 .1-.8 .1-2.5 .0 .1 .1 2.3 .1 1.1 .1 2.9 .0 3.0 .1-1.4 .1-3.1 .1 3.5 .0-4.7 .1-.9" fill="none" stroke="#0000ff" stroke-opacity="0.75" stroke-width="0.6"/><path d="M69.0 422.5l.1-8.0 .2 1.5 .1 .4 .1 4.1 .1-4.9 .2 3.3 .1-2.9 .1-1.9 .1 3.5 .2-.2 .1-3.2 .1 .7 .1 .2 .2 4.3 .1-1.3 .1-.5 .1 .6 .2-2.4 .1 2.4 .1-2.7 .1-1.8 .2 1.6 .1 2.2 .1-.3 .1 2.5 .2-6.9 .1 3.7 .1 1.5 .1-3.4 .2 3.0 .1-1.6 .1-1.9 .1 5.8 .2-6.5 .1 6.2 .1-3.7 .1-1.3 .2 .1 .1 .4 .1-.3 .1 2.9 .2-5.6 .1 8.2 .1-1.0 .1 1.4 .2-6.3 .1-3.6 .1 4.5 .1 1.3 .2 1.2 .1-2.2 .1 1.2 .2 .6 .1-4.7 .1 9.3 .1-8.1 .2 3.9 .1 2.3 .1-5.3 .1 2.2 .2 4.7 .1-5.5 .1 3.8 .1-2.1 .2-.2 .1 1.4 .1-2.7 .1 .0 .2 3.4 .1-2.0 .1 .7 .1-5.0 .2 3.6 .1 3.6 .1-1.0 .1-1.6 .2-2.6 .1-.3 .1 3.2 .1 3.0 .2-4.2 .1 3.8 .1-4.9 .1 4.6 .2-6.7 .1 3.6 .1-3.9 .1 5.4 .2-.3 .1-4.7 .1 .6 .1 1.0 .2-3.3 .1 1.7 .1 .2 .1 5.2 .2 2.0 .1-5.9 .1 .5 .1 1.6 .2-2.3 .1 .8 .1 3.6 .2-2.0 .1-1.0 .1-1.6 .1 6.6 .2-6.7 .1 2.3 .1-3.7 .1 1.4 .2 2.3 .1-1.6 .1 3.0 .1-1.5 .2-4.8 .1-3.0 .1 10.8 .1-5.2 .2 6.8 .1-4.8 .1-2.6 .1 4.4 .2-2.7 .1 .9 .1-3.1 .1 5.2 .2 1.5 .1-5.4 .1 7.6 .1-7.7 .2 2.7 .1-6.3 .1-.9 .1 13.3 .2-2.3 .1-.9 .1-9.3 .1 6.3 .2 .6 .1-1.1 .1 .7 .1-4.0 .2 2.5 .1-3.2 .1 2.6 .1 2.4 .2-3.8 .1 1.6 .1-.5 .1 1.5 .2 2.9 .1-2.2 .1 .5 .2-5.9 .1 3.5 .1 3.7 .1-5.3 .2 1.4 .1-1.7 .1 7.3 .1-5.7 .2-.9 .1 4.3 .1 1.5 .1-1.9 .2 1.5 .1-2.4 .1-1.1 .1-.9 .2-.2 .1-.3 .1 3.0 .1-1.5 .2 .6 .1 1.6 .1-2.0 .1-4.0 .2 1.8 .1-1.0 .1-2.4 .1 6.0 .2-3.8 .1-.3 .1 .7 .1 5.7 .2-3.5 .1 3.8 .1-3.1 .1-1.0 .2 2.8 .1 .1 .1-1.4 .1-3.2 .2 1.6 .1-2.0 .1 2.6 .1 1.0 .2 3.9 .1-.3 .1-2.0 .1 .7 .2-2.0 .1 7.0 .1-3.4 .2 3.0 .1-6.2 .1 .1 .1 1.7 .2-2.3 .1 .3 .1-3.4 .1 5.1 .2-2.1 .1 1.7 .1-2.7 .1-4.0 .2 5.9 .1 1.7 .1-6.3 .1 .8 .2 1.7 .1 .2 .1-3.7 .1 8.8 .2-1.9 .1-4.2 .1-3.0 .1 5.5 .2 4.1 .1-2.9 .1 .8 .1-5.2 .2 2.9 .1-4.3 .1 8.6 .1-3.5 .2-6.6 .1 .7 .1 5.7 .1-.9 .2-1.1 .1 2.3 .1 3.3 .1-3.9 .2-5.2 .1 3.9 .1-2.7 .1 1.2 .2 2.7 .1-1.2 .1-2.1 .1 2.4 .2-1.8 .1 3.1" fill="none" stroke="#0000ff" stroke-opacity="0.75" stroke-width="0.6"/><path d="M85.0 416.4l.1 1.5 .2-1.5 .1 2.3 .1-2.0 .1 .3 .2-1.3 .1 1.6 .1-4.5 .1 10.4 .2-7.8 .1 1.8 .1-1.3 .1-.1 .2 2.1 .1-2.1 .1 .2 .1-2.3 .2 1.1 .1-.6 .1 7.1 .1-7.6 .2 .7 .1 3.0 .1 3.1 .1-7.7 .2 .3 .1 4.2 .1 .5 .1-4.4 .2-1.0 .1 2.1 .1 4.4 .2-2.0 .1 2.0 .1-2.2 .1 .2 .2 1.6 .1-1.9 .1 1.0 .1-3.0 .2 .8 .1 2.8 .1-1.9 .1-1.3 .2 3.7 .1-.3 .1-1.5 .1-2.0 .2 4.5 .1 4.3 .1-9.0 .1-2.0 .2 2.1 .1-.4 .1-.9 .1 .2 .2 5.6 .1 .0 .1 1.8 .1-2.1 .2-3.4 .1 4.4 .1-4.8 .2 .8 .1-2.4 .1 6.8 .1-.6 .2-4.2 .1 .4 .1 1.0 .1 .5 .2 1.8 .1-2.2 .1 1.0 .1-5.5 .2 3.5 .1-4.3 .1 10.2 .1-1.1 .2-1.9 .1 1.1 .1 2.6 .1-3.1 .2-7.2 .1 3.9 .1-6.1 .1 4.4 .2-1.2 .1 3.5 .1 1.1 .1-3.7 .2 1.8 .1 1.6 .1-1.2 .1-.1 .2-6.3 .1 5.6 .1 3.4 .2-1.5 .1-4.8 .1 3.3 .1 1.5 .2-3.4 .1 4.6 .1-4.1 .1 1.3 .2 .6 .1 6.4 .1-7.0 .1-.6 .2 3.4 .1-3.2 .1 1.8 .1-6.5 .2 6.8 .1-.8 .1-3.4 .1 7.0 .2-4.2 .1 .1 .1-2.9 .1-.8 .2 2.7 .1-2.4 .1 5.2 .1 .9 .2-3.8 .1-2.4 .1 3.0 .2-1.6 .1 3.0 .1 .1 .1-1.5 .2 1.2 .1 2.4 .1 1.6 .1-5.5 .2 3.1 .1-2.4 .1-1.9 .1 5.6 .2-2.2 .1-.6 .1 .5 .1-1.2 .2-2.1 .1 6.7 .1-2.1 .1-1.5 .2 1.7 .1 .7 .1-3.5 .1 1.9 .2-2.1 .1 2.2 .1-2.1 .1 6.2 .2-6.4 .1 2.0" fill="none" stroke="#0000ff" stroke-opacity="0.75" stroke-width="0.6"/><path d="M200.0 418.0l.1-1.9 .2 3.0 .1-2.4 .1-.7 .1 .9 .2-1.7 .1 4.5 .1-1.3 .1 .8 .2-5.4 .1 3.7 .1-2.4 .1 2.0 .2 2.8 .1-2.4 .1-1.0 .1 3.0 .2-.2 .1 2.0 .1-8.8 .1 5.2 .2-1.8 .1-1.1 .1 2.4 .1-3.1 .2-2.5 .1 3.1 .1 1.6 .1 5.1 .2-6.2 .1-1.1 .1-2.0 .1 3.9 .2 .3 .1 1.0 .1-3.9 .1 1.6 .2-3.7 .1 6.0 .1-4.3 .1-2.9 .2 9.7 .1-1.6 .1-.4 .1 .0 .2-3.5 .1 5.3 .1-5.3 .1 7.4 .2-4.2 .1-5.3 .1 6.9 .2 2.8 .1-5.7 .1 3.4 .1-3.2 .2-1.1 .1-5.0 .1 9.8 .1-4.4 .2 2.2 .1-3.9 .1 .5 .1 5.3 .2-3.9 .1-.1 .1-2.2 .1 3.8 .2 1.6 .1-3.3 .1 .7 .1-2.7 .2 6.9 .1-5.4 .1 1.3 .1 4.9 .2-5.1 .1-3.6 .1 1.7 .1 1.5 .2 5.8 .1-4.2 .1-1.2 .1 2.9 .2 1.3 .1-5.7 .1 6.1 .1-1.6 .2-1.1 .1-7.8 .1 7.1 .1 3.3 .2-4.7 .1 7.3 .1-6.3 .1-3.0 .2 4.5 .1-.9 .1 1.6 .1-3.0 .2 4.3 .1-5.3 .1 2.0 .2-3.9 .1 1.2 .1 2.9 .1-2.4 .2 .5 .1 .7 .1 1.4 .1 1.4 .2 .0 .1 .8 .1-2.4 .1-2.1 .2-3.0 .1 3.5 .1-1.3 .1-2.9 .2 10.0 .1-10.1 .1 6.4 .1 .5 .2-2.2 .1 8.1 .1-7.4 .1-2.3 .2 7.3 .1-7.4 .1-1.8 .1 1.2 .2 1.1 .1 2.0 .1 .8 .1-5.4 .2 5.4 .1 5.5 .1-8.5 .1 1.7 .2 2.3 .1 1.5 .1-5.4 .1-.8 .2-.2 .1 6.1 .1-.6 .1-8.8 .2 .1 .1 2.6 .1-.8 .1 5.5 .2-.5 .1 4.9 .1-3.3 .2-1.9 .1 3.0 .1-5.9 .1-1.4 .2 4.0 .1 2.6 .1-7.2 .1 7.1 .2-.1 .1-3.9 .1 1.9 .1-1.2 .2 1.0 .1 2.0 .1-4.5 .1 5.1 .2-.4 .1 .0 .1-7.9 .1 .3 .2 7.0 .1-3.5 .1-.2 .1-.2 .2-1.6 .1 2.9 .1-1.2 .1 .2 .2 3.0 .1-4.4 .1 6.2 .1-9.0 .2 12.6 .1-10.3 .1 5.2 .1 .9 .2-2.5 .1 2.0 .1-2.2 .1-4.4 .2 5.5 .1 2.1 .1-4.4 .1-3.0 .2 2.9 .1 2.4 .1-.1 .1 2.1 .2-1.4 .1-.2 .1-6.4 .2 10.8 .1-5.5 .1 2.0 .1-3.0 .2 .5 .1 .5 .1 3.8 .1-.1 .2-2.3 .1 3.4 .1-5.9 .1 2.2 .2-2.4 .1 4.4 .1-3.2 .1 2.4 .2 1.8 .1-9.4 .1 10.5 .1-4.6 .2-1.5 .1-3.9 .1 3.9 .1-4.9 .2 5.9 .1-.6 .1 4.8 .1-5.2 .2 3.4 .1 .2 .1 2.1 .1-5.5 .2 2.4 .1-5.5 .1 1.0 .1 2.0 .2 .6 .1-2.8 .1 1.9 .1 2.6 .2-2.7 .1 .7 .1-1.7 .1 5.4 .2 .9 .1-3.7 .1-.8 .1 4.2 .2-2.8 .1-2.7" fill="none" stroke="#0000ff" stroke-opacity="0.75" stroke-width="0.6"/><path d="M301.0 413.8l.1 1.8 .2 6.6 .1-6.6 .1 8.3 .1-6.9 .2-.5 .1 3.7 .1-3.8 .1 1.5 .2-3.4 .1-.5 .1 1.2 .1 2.3 .2-2.1 .1-3.3 .1 6.1 .1-1.6 .2-.3 .1-.9 .1-4.1 .1 9.7 .2-5.2 .1 2.5 .1 2.3 .1-.7 .2-2.4 .1-.5 .1 .8 .2 1.6 .1-.9 .1-2.7 .1 2.4 .2-.2 .1 .9 .1-1.3 .1 3.1 .2-3.2 .1 1.9 .1-2.3 .1-1.7 .2-1.0 .1 2.2 .1 1.9 .1 2.1 .2-3.9 .1-1.2 .1 .0 .1 5.2 .2-3.4 .1-1.7 .1 3.5 .2-5.9 .1 4.1 .1-.4 .1-.3 .2-3.0 .1 6.3 .1 2.0 .1-8.8 .2 4.3 .1 1.5 .1 4.7 .1-7.8 .2-1.6 .1 2.8 .1 5.9 .1-5.7 .2 .6 .1 4.4 .1-11.4 .1-.1 .2 8.9 .1-.3 .1-6.3 .1 5.5 .2-1.4 .1 .5 .1-2.9 .2 1.0 .1-1.2 .1 2.6 .1-.8 .2 5.4 .1-2.9 .1-6.2 .1 5.6 .2 2.8 .1-3.2 .1 2.2 .1-3.1 .2 2.0 .1-4.4 .1 4.6 .1-5.8 .2 7.2 .1-7.5 .1-1.6 .1 7.0 .2-1.9 .1 .8 .1 .8 .2-1.2 .1-2.2 .1 2.8 .1 .4 .2 .4 .1 3.7 .1-6.8 .1 2.0 .2 1.2 .1-2.5 .1-1.9 .1 1.6 .2 4.0 .1-3.3 .1 2.2 .1-3.3 .2 2.9 .1-2.7 .1-.4 .1 2.3 .2-.2 .1 3.4 .1-7.4 .1 5.1 .2 2.6 .1-.6" fill="none" stroke="#0000ff" stroke-opacity="0.75" stroke-width="0.6"/><path d="M627.0 416.0l.1-.8 .1 .5 .0 2.1 .1-.3 .1 .4 .1 .7 .1-4.5 .0-.2 .1-.3 .1-.3 .1 3.4 .1 1.2 .0 6.3 .1-5.7 .1-1.5 .1 4.1 .1-6.3 .0 3.2 .1 1.9 .1-.5 .1-1.2 .1-2.3 .0-2.8 .1 3.4 .1-1.4 .1 4.1 .1-2.6 .0 2.2 .1-7.2 .1 8.7 .1-6.2 .1-2.5 .0 .6 .1 2.6 .1 6.2 .1-1.4 .1-6.8 .0 4.5 .1-.7 .1-5.4 .1 2.1 .1-4.0 .0 4.4 .1-6.9 .1 7.1 .1-.6 .1 .5 .0-.1 .1 8.0 .1-6.1 .1 2.4 .1 2.1 .0 .6 .1-.8 .1-5.2 .1-2.4 .1 1.4 .0 1.3 .1 2.0 .1-.4 .1 5.2 .1-5.3 .0 8.4 .1-3.3 .1-6.7 .1 5.9 .1-16.6 .0 19.0 .1-4.4 .1 .0 .1-9.4 .1 19.0 .0-12.5 .1 .5 .1 5.7 .1-6.0 .1-2.9 .0 6.8 .1-7.6 .1 7.9 .1-2.7 .1 4.4 .0-10.4 .1 10.9 .1-4.2 .1 7.4 .1-11.6 .0 11.0 .1-5.0 .1 .3 .1-6.5 .1 5.5 .0 .5 .1-6.4 .1-1.4" fill="none" stroke="#0000ff" stroke-opacity="0.75" stroke-width="0.6"/><path d="M85.5 396.3V433.7M177.5 391.2V445.8M192.5 409.0V425.6M216.5 403.3V422.0M238.5 349.0V453.9M309.5 393.7V425.0M334.5 359.0V516.6M400.5 381.8V443.2M434.5 392.7V442.5M443.5 402.0V430.6M452.5 403.3V425.0M471.5 408.4V424.0" stroke="#0000ff" stroke-opacity="0.55" stroke-width="0.9" fill="none"/><path d="M632.5 397.6V461.0" stroke="#0000ff" stroke-opacity="0.50" stroke-width="1" fill="none"/><path d="M633.5 402.0V427.0" stroke="#0000ff" stroke-opacity="0.85" stroke-width="1" fill="none"/>
<text x="32.5" y="549" font-size="12.2" text-anchor="middle">00:00</text>
<text x="107.875" y="549" font-size="12.2" text-anchor="middle">03:00</text>
<text x="183.25" y="549" font-size="12.2" text-anchor="middle">06:00</text>
<text x="258.625" y="549" font-size="12.2" text-anchor="middle">09:00</text>
<text x="334.0" y="549" font-size="12.2" text-anchor="middle">12:00</text>
<text x="409.375" y="549" font-size="12.2" text-anchor="middle">15:00</text>
<text x="484.75" y="549" font-size="12.2" text-anchor="middle">18:00</text>
<text x="560.125" y="549" font-size="12.2" text-anchor="middle">21:00</text>
<text x="635.5" y="549" font-size="12.2" text-anchor="middle">00:00</text>
<text x="28.7" y="538.4" font-size="12.2" text-anchor="end">-4</text>
<text x="28.7" y="509.2571428571428" font-size="12.2" text-anchor="end">-3</text>
<text x="28.7" y="480.1142857142857" font-size="12.2" text-anchor="end">-2</text>
<text x="28.7" y="450.97142857142853" font-size="12.2" text-anchor="end">-1</text>
<text x="28.7" y="421.8285714285714" font-size="12.2" text-anchor="end">0</text>
<text x="28.7" y="392.68571428571425" font-size="12.2" text-anchor="end">1</text>
<text x="28.7" y="363.5428571428571" font-size="12.2" text-anchor="end">2</text>
<text x="28.7" y="334.4" font-size="12.2" text-anchor="end">3</text>
<text class="b" font-size="12.3" text-anchor="middle" transform="translate(10.3 432.0) rotate(-90)">Y (nT)</text>
<path d="M32.5 818.5H635.5V614.5" fill="none" stroke="#a8a8a8" stroke-width="1"/>
<path d="M32.5 818V614.5H635" fill="none" stroke="#c4c4c4" stroke-width="1"/>
<path d="M108.5 818v-6M108.5 615v6M183.5 818v-6M183.5 615v6M258.5 818v-6M258.5 615v6M334.5 818v-6M334.5 615v6M409.5 818v-6M409.5 615v6M484.5 818v-6M484.5 615v6M560.5 818v-6M560.5 615v6M33 784.5h6M635 784.5h-6M33 750.5h6M635 750.5h-6M33 716.5h6M635 716.5h-6M33 682.5h6M635 682.5h-6M33 648.5h6M635 648.5h-6" stroke="#b4b4b4" stroke-width="1" fill="none"/>
<path d="M33.1 680.0l.5 1.1 .5-.6 .5 .3 .5-.3 .5 .0 .5 .0 .5-.3 .5 .8 .5-.5 .5 .0 .5-.7 .5 .7 .5-.4 .5 .1 .5 .7 .5-1.0 .5 .4 .5 .4 .5 .2 .5-.7 .5 .3 .5 .0 .5-.6 .5-.5 .5 .1 .5 1.2 .5-.3 .5-.6 .5 .3 .6 .1 .5 .0 .5 .2 .5 1.0 .5-1.4 .5 .5 .5-.5 .5 .1 .5-.1 .5 .3 .5-.2 .5 .5 .5-.1 .5-.5 .5 1.3 .5-1.4 .5 .7 .5 .8 .5-1.3 .5 .9 .5 .1 .5-.5 .5-1.1 .5 1.6 .5-.7 .5-.3 .5 .9 .5-.9 .5 .8 .5-.8 .5 .5 .5-.7 .5 .3 .5-.2 .5 .1 .5 .4 .5-.2 .5 .2 .5 .5 .5-.7 .5-.8 .5 .8 .5 .1 .5 .5 .5 .0 .5-.1 .5-.5 .5 .4 .5-1.0 .5 1.3 .5-.4 .5 .0 .5-.4 .5 .2 .5-.3 .5 .6 .5-.9 .5 1.0 .5-.2 .5 .7 .6-.9 .5 .0 .5 .1 .5-.1 .5 .0 .5-.5 .5 .0 .5 .2 .5 .2 .5-.4 .5 .0 .5 .4 .5 .4 .5-.4 .5 .4 .5 .1 .5 .0 .5-.6 .5 .0 .5-.7 .5 .6 .5 .5 .5-.7 .5 1.1 .5 .1 .5-.9 .5 .6 .5-1.1 .5 .2 .5 .3 .5 .2 .5-.1 .5-.3 .5 1.3 .5-.8 .5 .0 .5 .2 .5-.2 .5-.2 .5-.2 .5-.5 .5 1.5 .5-1.1 .5-.4 .5 .4 .5-.3 .5 1.6 .5-.7 .5 .4 .5 .1 .5-.4 .5 .0 .5-.6 .5 .3 .5-.3 .5 .3 .5-.3 .5 .9 .5-.2 .5-.4 .6-.8 .5 1.1 .5 .1 .5-.4 .5-.6 .5 .8 .5 .3 .5-1.4 .5 1.2 .5-1.1 .5 .8 .5 .8 .5-.8 .5 .2 .5-.3 .5 .1 .5 1.1 .5-.5 .5-.7 .5-.1 .5 .2 .5 1.0 .5-.9 .5 .4 .5-.7 .5-.4 .5 1.2 .5-.6 .5-.4 .5 .1 .5 .0 .5 .0 .5-.4 .5 1.3 .5-.4 .5 .2 .5-.6 .5 .4 .5-.1 .5 .4 .5-.1 .5-.2 .5-.5 .5-.3 .5 .2 .5 .1 .5 .1 .5-.4 .5 1.4 .5-.7 .5-1.0 .5 .4 .5-.1 .5 .7 .5 .4 .5-1.0 .5 .8 .5-.4 .5 .6 .5 .1 .6-.5 .5 .2 .5-.3 .5-.2 .5-.3 .5 .6 .5-.1 .5-.2 .5 .2 .5-.1 .5-.4 .5 .3 .5 .7 .5-.6 .5 .7 .5-1.1 .5-.1 .5 .7 .5 .3 .5-.7 .5 .6 .5 .1 .5 .1 .5-.6 .5 .1 .5-.8 .5 .8 .5 .1 .5 .5 .5-1.2 .5 .2 .5-.1 .5 .9 .5-1.6 .5 .7 .5 1.4 .5-.6 .5-.9 .5 .6 .5 .4 .5-.1 .5-.4 .5-.3 .5 .8 .5-.4 .5 .4 .5-.2 .5-.4 .5 .9 .5-.9 .5 .4 .5-.5 .5 .2 .5 .0 .5-.2 .5 .4 .5 .5 .5 .2 .5-.1 .5-.8 .6 .8 .5-.5 .5 .6 .5-1.4 .5 1.3 .5-1.0 .5 .8 .5-.7 .5 .6 .5-.5 .5-.8 .5 .5 .5 .3 .5 .1 .5-1.0 .5 .5 .5 .2 .5 .2 .5 .2 .5-.5 .5-.3 .5 .8 .5-.3 .5 .6 .5-.6 .5 .5 .5-.7 .5 .5 .5-.1 .5 .2 .5-.6 .5 .3 .5-.3 .5 .3 .5 .4 .5 1.1 .5-1.4 .5 .3 .5-.2 .5 .4 .5-.3 .5 .3 .5-.3 .5 .9 .5-.5 .5-1.4 .5 .9 .5-.1 .5-1.0 .5 .6 .5 .2 .5-.1 .5 .4 .5-.9 .5 1.1 .5 .1 .5-.2 .5-.3 .5 .1 .5-.2 .6 .7 .5-.3 .5 .7 .5-1.1 .5 .9 .5-1.0 .5 .2 .5-.4 .5 .7 .5-.2 .5 .3 .5 .4 .5-.7 .5 .2 .5 .2 .5-.4 .5-.2 .5 .4 .5 .0 .5 .2 .5 .0 .5-.7 .5 .5 .5 .4 .5-.8 .5 .4 .5-.5 .5 .4 .5 .7 .5-.7 .5-.5 .5 .6 .5-.1 .5 .4 .5-1.1 .5 .2 .5 .4 .5-.7 .5 1.2 .5-1.4 .5 .5 .5-.3 .5 .4 .5 .7 .5-.1 .5 .1 .5-.1 .5-1.2 .5 1.0 .5-.9 .5 .6 .5 .0 .5 .0 .5 .4 .5-.6 .5 1.2 .5-.5 .5 .2 .5-.2 .5 .1 .6-.4 .5 .9 .5-1.4 .5 .7 .5-.2 .5-.1 .5 .2 .5-.4 .5 .7 .5 .0 .5-.4 .5 .3 .5-.8 .5-.3 .5 .5 .5 .2 .5 1.2 .5-1.2 .5 .6 .5-.1 .5 .6 .5-.9 .5 .2 .5-.4 .5-.3 .5 .0 .5 .1 .5 .9 .5-.5 .5-.2 .5 .1 .5-.3 .5 .3 .5 .0 .5 .3 .5 .1 .5-1.1 .5 .8 .5 .5 .5-1.1 .5 .4 .5 .2 .5 .4 .5-.2 .5-.4 .5 .3 .5 .3 .5-.3 .5 .6 .5-.6 .5-.7 .5 .2 .5 .2 .5 .0 .5 .4 .5-.1 .5 .6 .5-.4 .5 .3 .5-1.0 .6 .1 .5 .5 .5-.3 .5 .3 .5-.2 .5-.4 .5 1.1 .5-.3 .5-1.2 .5 .4 .5 .3 .5 .3 .5-.3 .5-.6 .5 1.0 .5-.5 .5 .6 .5-.4 .5 .4 .5-.1 .5 .0 .5-.6 .5 .7 .5-.4 .5-.7 .5 .4 .5 .1 .5 .3 .5 .1 .5-.8 .5 .8 .5-.3 .5-.5 .5 .9 .5-.7 .5-.2 .5 .9 .5 .0 .5-.7 .5 .8 .5 .0 .5-.7 .5 1.1 .5-.9 .5 .1 .5-1.2 .5 1.4 .5-.6 .5 .5 .5-1.0 .5 1.3 .5 .2 .5 .2 .5-2.2 .5 1.6 .5-.1 .5-1.5 .5 1.0 .5 .3 .5 .7 .6-1.1 .5 .5 .5-.1 .5 .2 .5-.4 .5 .6 .5 .1 .5-1.1 .5 1.1 .5-.8 .5 .2 .5 .6 .5-.4 .5 .2 .5 .1 .5-.1 .5-.5 .5-.2 .5 .7 .5 .1 .5-.2 .5-.3 .5 .5 .5-.4 .5-.6 .5 .7 .5 .1 .5 .2 .5-.8 .5 .1 .5 .5 .5-.4 .5 .2 .5 .4 .5-.2 .5 .6 .5-.6 .5 .6 .5-.3 .5 .7 .5-1.2 .5 .0 .5 .6 .5-.8 .5 .0 .5 .3 .5 .1 .5-.8 .5 .7 .5-.2 .5 .1 .5 .1 .5-.1 .5 .5 .5-.2 .5-.3 .5 .1 .5 .4 .5-.1 .5 .2 .6-.6 .5 .1 .5 .8 .5-.9 .5 .8 .5-.4 .5-.5 .5-.5 .5 .9 .5-.6 .5 .0 .5-.4 .5 1.3 .5-.5 .5 .0 .5 .1 .5 .0 .5-.1 .5 .2 .5-.4 .5-1.0 .5 1.5 .5-.2 .5-.1 .5 .7 .5-1.4 .5-.6 .5 1.9 .5-.5 .5-.9 .5 .6 .5 .4 .5-.8 .5 .8 .5 .7 .5-.3 .5-.7 .5 .2 .5-.6 .5 .5 .5-.2 .5-.3 .5-.2 .5 1.5 .5-.8 .5-.5 .5 .3 .5 .8 .5 .1 .5-1.0 .5 .3 .5 .3 .5-.5 .5-.4 .5 .1 .5 .5 .5-.4 .5-.2 .5 .4 .5 .6 .6-.1 .5-.5 .5 1.0 .5-1.2 .5 .3 .5-.6 .5 1.0 .5-.4 .5-.7 .5 .4 .5 1.1 .5-.4 .5-.3 .5 .3 .5-1.1 .5 .4 .5-.2 .5 .2 .5 .2 .5 .4 .5 .2 .5 .0 .5 .7 .5-1.4 .5 .2 .5 .3 .5-.6 .5 .2 .5 .3 .5-.6 .5 .7 .5 .3 .5-1.1 .5-.5 .5 1.1 .5-.5 .5 .5 .5-.3 .5 .4 .5 .3 .5-.1 .5-.5 .5-.4 .5-.6 .5 .2 .5 .6 .5 .4 .5-.4 .5 .1 .5-.5 .5 .0 .5 .0 .5 1.0 .5-1.2 .5 1.2 .5-.7 .5 .7 .5-.2 .5 .3 .5 .2 .6-.9 .5-.1 .5 .2 .5-.1 .5 .6 .5-.3 .5 .0 .5 .2 .5-.4 .5 .7 .5-1.3 .5 .9 .5 .1 .5-.5 .5 .0 .5 .7 .5-.5 .5-.8 .5 .3 .5 1.1 .5-.9 .5 1.0 .5 .0 .5-.7 .5 .3 .5-.6 .5 .2 .5-.1 .5 .6 .5-.9 .5 .5 .5 .1 .5 .2 .5-1.2 .5 .2 .5 .4 .5 .3 .5 .2 .5 .0 .5 .8 .5-.6 .5 .0 .5-.5 .5 .5 .5 .0 .5 .0 .5-.4 .5 .4 .5 .4 .5-1.1 .5-.6 .5 1.4 .5-.1 .5-.4 .5-.1 .5 1.4 .5-1.4 .5-.4 .5 .4 .5 .4 .6-.5 .5 .1 .5 .3 .5-.3 .5 .3 .5-.1 .5-.5 .5 .5 .5-.5 .5 .9 .5-.8 .5 .3 .5-.7 .5 .6 .5-.4 .5 1.3 .5-.8 .5 .3 .5-1.0 .5 .2 .5 .5 .5-.5 .5 1.1 .5-.7 .5 .3 .5 .0 .5-.2 .5 .4 .5-.6 .5 .5 .5 .3 .5-.4 .5-.1 .5-.2 .5 .2 .5 .3 .5-.4 .5-.7 .5 .9 .5-.2 .5 .3 .5-.2 .5 .7 .5-1.2 .5 .1 .5 .7 .5-.8 .5 .6 .5-.1 .5-.9 .5 1.2 .5 .3 .5-.5 .5-.7 .5 .9 .5-.8 .5 .4 .5 .3 .5-.6 .5-.4 .6 .7 .5 .1 .5-.4 .5 .0 .5 .7 .5-.4 .5-.1 .5-.1 .5 .4 .5-.1 .5-.1 .5-.5 .5 .4 .5-.1 .5 .3 .5 .5 .5-.1 .5-.1 .5-.3 .5-.2 .5 .3 .5-.3 .5 .0 .5-.2 .5 .4 .5 .0 .5 .8 .5-.6 .5-.4 .5 .5 .5-.5 .5 .6 .5-.1 .5 1.0 .5-1.8 .5 .5 .5-.1 .5 .2 .5 .2 .5-.7 .5 .1 .5 .4 .5 .3 .5-.9 .5-.2 .5 1.2 .5-.1 .5 .1 .5-.9 .5 .3 .5 .2 .5 .1 .5-.3 .5 .1 .5 .4 .5-.6 .5-.1 .5 .1 .5 .0 .5 .2 .6-.1 .5-.1 .5 .8 .5-.5 .5-.3 .5 .7 .5-.8 .5 .3 .5-.1 .5-.2 .5 .1 .5 .2 .5-.6 .5 .4 .5 .3 .5 .0 .5 .0 .5 .9 .5-.7 .5-.4 .5 .0 .5 .1 .5 .2 .5-.3 .5 .7 .5-1.1 .5 .8 .5-.1 .5-.7 .5 .8 .5-.1 .5-.5 .5 1.3 .5-.7 .5-.5 .5 .0 .5-.1 .5 .4 .5-.1 .5-.6 .5 .1 .5 .2 .5 .1 .5 .0 .5-.1 .5 .6 .5 .1 .5-.4 .5-1.0 .5 .9 .5 .3 .5-.3 .5 .2 .5-.1 .5-.7 .5-.4 .5 1.3 .5-.4 .5 .4 .5-.3 .6 .0 .5 .7 .5-1.1 .5 .5 .5-.5 .5 .5 .5 .2 .5 .1 .5-.3 .5-.6 .5 .7 .5 .3 .5 .0 .5 .5 .5-.7 .5-.7 .5 .3 .5 .2 .5 .4 .5-.9 .5 .9 .5-.1 .5-.7 .5 .6 .5-.5 .5 .3 .5-.1 .5 .2 .5-.6 .5 .7 .5-1.1 .5 .7 .5-.1 .5 1.0 .5-.5 .5-.4 .5-.2 .5 .4 .5-.3 .5 1.2 .5-2.1 .5 1.2 .5-1.1 .5 1.5 .5-.8 .5 1.1 .5-.9 .5 .6 .5-.3 .5 .4 .5-.5 .5-1.3 .5 1.0 .5-.4 .5 1.1 .5-.2 .5-.2 .5 .2 .5-.1 .5-.4 .6 1.1 .5-.7 .5-.2 .5-.5 .5 .3 .5 .3 .5-.1 .5-.1 .5 .2 .5-.5 .5 .5 .5-.7 .5 .3 .5 .1 .5 .7 .5-.2 .5-.2 .5-.5 .5 .3 .5 .5 .5 .2 .5-1.1 .5 .4 .5 .2 .5 .1 .5-.1 .5 .3 .5-.9 .5 1.2 .5-1.1 .5 .5 .5 .2 .5 .3 .5-.1 .5 .0 .5 .1 .5-.6 .5 .4 .5 .3 .5-.9 .5-.3 .5 .2 .5 1.0 .5-.1 .5-.7 .5 .3 .5 .1 .5 .2 .5-1.2 .5 .5 .5 .2 .5 .2 .5-.1 .5-.1 .5 .2 .5-1.2 .5 2.4 .5-1.0 .5 .1 .5-.7 .6 .5 .5 .7 .5-.1 .5-.8 .5-.5 .5 .6 .5-.2 .5 .5 .5-1.0 .5 .5 .5 .2 .5-.3 .5 .6 .5-.9 .5 .0 .5 .3 .5 .5 .5-.4 .5-.2 .5 .6 .5-.2 .5-.3 .5 .2 .5-.1 .5 .4 .5-.2 .5-.5 .5 .2 .5 .0 .5 .4 .5 .0 .5-.6 .5 .3 .5 .2 .5 .4 .5-.4 .5 .7 .5-.8 .5 .3 .5-.4 .5-.3 .5 .4 .5 .2 .5-.1 .5 .0 .5-.3 .5-.2 .5 .3 .5 .3 .5 .2 .5-1.8 .5 1.7 .5 .2 .5 .0 .5-.3 .5 .1 .5-.5 .5 .2 .5 .2 .5-.7 .6 .2 .5 .4 .5-.7 .5 .6 .5-.6 .5 .7 .5-.1 .5-.3 .5-.1 .5 .2 .5-.8 .5 .8 .5 .2 .5 .5 .5-.7 .5 .1 .5 .7 .5 .1 .5-.9 .5 .6 .5 .1 .5-.3 .5-.6 .5 .0 .5 .6 .5 .8 .5-1.1 .5 .8 .5 .1 .5-1.3 .5 .2 .5 .9 .5-.2 .5-.2 .5-.2 .5 .3 .5-.6 .5 1.4 .5-1.6 .5-.3 .5 .9 .5 .5 .5-.8 .5 .2 .5-.4 .5 .4 .5-.4 .5 .0 .5-.2 .5 .4 .5 1.0 .5-.8 .5 .1 .5 .9 .5-1.3 .5-.1 .5 .6 .5-.7 .5 .6 .5 .4 .6-1.0 .5 .3 .5 .9 .5-1.2 .5 .2 .5 .4 .5-.2 .5-.3 .5 1.1 .5-1.0 .5 .4 .5-.3 .5 .1 .5-.5 .5 1.0 .5-.6 .5 .7 .5-1.0 .5 .3 .5 .4 .5-.2 .5-.3 .5 .2 .5-.5 .5 .6 .5-1.2 .5 1.3 .5 .5 .5-.2 .5 .0" fill="none" stroke="#0000ff" stroke-width="5.2"/><path d="M33.1 679.5l.2 1.9 .2-1.9 .2 .7 .2 .0 .1-6.8 .2 8.9 .2-1.0 .2 .8 .2-3.7 .2 3.4 .2-.4 .2-5.7 .1 1.0 .2 3.8 .2-1.5 .2 1.3 .2-1.3 .2 4.5 .2-7.2 .2 1.2 .1 .8 .2-.8 .2 1.6 .2 1.2 .2-2.8 .2 3.6 .2 2.1 .2-.5 .2 2.0 .1-1.9 .2-2.5 .2 3.9 .2-2.3 .2 2.5 .2-4.5 .2-4.1 .2 2.0 .1 3.0 .2 .8 .2-1.7 .2 2.7 .2-4.8 .2 1.0 .2 3.8 .2-2.1 .1 .1 .2 2.9 .2-.7 .2-4.2 .2 2.2 .2-4.2 .2 3.8 .2 .9 .2-4.8 .1 7.4 .2 1.0 .2-3.4 .2 1.0 .2 1.3 .2-3.8 .2 2.7 .2-1.4 .1-4.4 .2 1.5 .2 .7 .2 3.7 .2-2.2 .2 2.0 .2-3.3 .2-1.8 .1 7.6 .2 1.5 .2-5.3 .2-1.3 .2 3.1 .2-5.2 .2 2.0 .2-2.8 .2 4.4 .1-.5 .2-1.5 .2-.6 .2-2.0 .2 1.6 .2 4.7 .2-3.6 .2 3.7 .1-4.9 .2 1.8 .2-.8 .2 .4 .2 2.4 .2-6.4 .2 6.3 .2-.1 .2-1.6 .1 .2 .2-.7 .2 2.1 .2-1.5 .2-2.0 .2 2.2 .2 1.8 .2-1.3 .1-.7 .2 .4 .2-1.6 .2 .1 .2-3.2 .2 3.8 .2 2.6 .2-3.1 .1-1.1 .2 4.0 .2-1.6 .2-.1 .2 .7 .2 .5 .2-1.6 .2-1.7 .2 5.6 .1-3.7 .2-1.8 .2 2.1 .2 2.2 .2-5.6 .2 5.8 .2-3.1 .2 4.6 .1-2.9 .2-1.6 .2 2.9 .2 .0 .2-3.4 .2 1.2 .2-1.6 .2 3.0 .1-4.8 .2 2.5 .2-4.0 .2 5.6 .2-5.8 .2 2.4 .2 2.8 .2-1.3 .2-.2 .1-1.1 .2 1.1 .2-2.6 .2 4.2 .2 .9 .2-.1 .2-1.6 .2 2.5 .1-1.5 .2 1.0 .2-1.1 .2-.7 .2-1.6 .2-3.7 .2 6.5 .2-1.5 .1 4.1 .2-7.7 .2 5.4 .2-3.4 .2 1.8 .2-1.7 .2 2.4 .2-.7 .2 1.7 .1-1.4 .2 .6 .2 1.5 .2-1.4 .2-1.2 .2 2.5 .2-2.5 .2 1.0 .1-1.4 .2-.6 .2-4.3 .2 6.8 .2-3.4 .2 3.5 .2 1.9 .2-5.7 .1 4.0 .2-1.8 .2 1.0 .2-2.9 .2 2.2 .2 .2 .2 2.3 .2 1.3 .2-3.3 .1-1.2 .2 4.6 .2-4.2 .2 .1 .2 .3 .2 .6 .2 .5 .2-2.3 .1 .8 .2 3.6 .2-.5 .2-2.1 .2-.3 .2-.9 .2 2.2 .2-2.7 .1 1.1 .2-1.0 .2-.3 .2 1.2 .2-.1 .2-1.0 .2 .9 .2 .3 .2-1.0 .1-.4 .2 1.0 .2 1.5 .2 .8 .2-1.7 .2-.9 .2 .5 .2 3.6 .1-1.8 .2-3.6 .2 1.7 .2-.9 .2 .3 .2-2.5 .2 3.3 .2-2.7 .2 1.5 .1 4.2 .2-1.1 .2-3.7 .2-.4 .2 .3 .2-2.1 .2 1.9 .2 1.5 .1-1.7 .2 3.9 .2-1.8 .2-1.0 .2 5.0 .2-2.3 .2-1.4 .2 4.0 .1-1.2 .2-4.6 .2 2.4 .2-1.8 .2-2.3 .2 7.8 .2-.9 .2-6.6 .2 4.2 .1-5.1 .2 6.5 .2-2.7 .2-.6 .2 3.8 .2-3.0 .2-.7 .2 2.9 .1-3.0 .2 2.9 .2-2.1 .2 2.0 .2-.5 .2 .4 .2-4.5 .2 7.3 .1-5.2 .2 4.9 .2-6.0 .2 .9 .2 .0 .2 3.6 .2-4.0 .2 2.1 .2-5.0 .1 2.8 .2 1.7 .2-.8 .2-4.4 .2 5.9 .2-3.6 .2 7.1 .2-5.2 .1 5.9 .2-3.9 .2-.5 .2-2.2 .2 .9 .2 1.3 .2-5.6 .2 6.8 .1-4.9 .2 2.1 .2-5.6 .2 7.2 .2 .6 .2-1.0 .2 .1 .2-1.6 .2 1.2 .1 2.3 .2-3.6 .2 2.0 .2 .5 .2-2.1 .2 1.0 .2 .0 .2-1.5 .1 6.1 .2-5.9 .2 4.3 .2-1.3 .2-6.3 .2 4.6 .2 1.6 .2-.4 .1-3.5 .2 2.4 .2-2.9 .2 .3 .2 1.6 .2 .8 .2 2.8 .2-2.5 .2 1.4 .1-4.4 .2 .1 .2 1.3 .2 4.3 .2-5.9 .2-.5 .2 2.9 .2 2.4 .1-5.4 .2 2.7 .2-2.1 .2 5.3 .2-1.5 .2-.8 .2-.6 .2-.3 .1 .7 .2-1.5 .2-.4 .2-.4 .2 2.1 .2-1.5 .2 3.0 .2-5.4 .2 4.9 .1-.1 .2 1.3 .2-2.7 .2-2.3 .2 1.0 .2 3.8 .2-2.6 .2-.2 .1-.3 .2 .9 .2-.3 .2-2.4 .2 1.8 .2 2.8 .2 .8 .2-2.8 .2-.7 .1 3.3 .2-2.7 .2-1.8 .2 1.9 .2 1.4 .2 1.5 .2-3.5 .2 1.8 .1-1.6 .2 2.6 .2-1.5 .2 .0 .2-2.2 .2 1.2 .2 .0 .2-5.6 .1 7.6 .2-1.5 .2-.3 .2-.3 .2 .7 .2 .3 .2-2.6 .2 2.4 .2 .0 .1-.1 .2-2.6 .2 2.3 .2-1.9 .2 2.7 .2 1.6 .2-.8 .2-1.9 .1-.4 .2 .0 .2 1.5 .2-1.7 .2 .2 .2-3.2 .2 2.7 .2 .1 .1 .4 .2 2.9 .2-4.2 .2 .1 .2 3.1 .2-2.6 .2 1.3 .2 .6 .2-.3 .1-1.2 .2 2.7 .2 .9 .2-4.0 .2 1.2 .2 1.9 .2-1.8 .2-1.3 .1 .9 .2 2.0 .2-2.9 .2 2.0 .2 .2 .2-1.6 .2 1.9 .2 .2 .1 .5 .2-.1 .2-3.8 .2 3.7 .2-.5 .2 .6 .2-2.8 .2 2.7 .2-.8 .1-2.4 .2 3.8 .2-3.2 .2-.4 .2 2.2 .2-1.5 .2 1.5 .2-1.0 .1 .9 .2 .8 .2-1.3 .2 1.4 .2 .0 .2-2.7 .2 2.7 .2-.4 .1-.8 .2 1.6 .2 .9 .2-1.5 .2-3.6 .2 3.1 .2-.9 .2-.2 .2 1.0 .1-1.1 .2 3.2 .2-2.2 .2-.4 .2 1.2 .2 .0 .2 .7 .2-.9 .1-1.1 .2 .3 .2-3.9 .2 1.2 .2 4.2 .2-2.3 .2 3.6 .2 .0 .1-5.2 .2 2.7 .2 4.4 .2-6.3 .2 2.0 .2-1.1 .2 .0 .2-.1 .2 .5 .1 1.4 .2-2.8 .2 2.3 .2-2.1 .2 2.2 .2-.4 .2-2.0 .2 1.7 .1-1.6 .2-.2 .2 3.7 .2-5.5 .2 4.4 .2 .2 .2-2.4 .2 3.2 .2-.3 .1-4.2 .2 3.4 .2-.1 .2-2.3 .2 2.6 .2 .3 .2-2.9 .2-2.5 .1 4.7 .2-2.3 .2-2.0 .2 2.8 .2-4.2 .2 4.2 .2 3.9 .2-9.2 .1 7.0 .2-2.9 .2 1.0 .2-1.0 .2 3.3 .2-1.4 .2-1.7 .2-1.2 .2 2.0 .1 3.6 .2-5.4 .2 3.7 .2-.2 .2-5.4 .2 7.2 .2-2.7 .2 5.4 .1-1.1 .2-4.8 .2 .3 .2-2.1 .2-.9 .2 5.3 .2-2.6 .2-.3 .1 .5 .2 2.1 .2 .7 .2-2.4 .2-.4 .2 .7 .2 4.8 .2-10.1 .2 2.2 .1 4.0 .2-.8 .2 2.6 .2 .2 .2 1.6 .2-6.7 .2 3.4 .2-2.0 .1 2.9 .2-1.9 .2 1.6 .2-3.8 .2 2.1 .2-1.5 .2 .5 .2-.4 .1-1.3 .2 4.9 .2-1.9 .2 1.8 .2-4.7 .2-2.1 .2 2.9 .2 1.1 .2 2.1 .1 .6 .2 .3 .2 .7 .2-1.7 .2-1.4 .2-1.9 .2 3.1 .2-2.5 .1-.7 .2 3.0 .2-.8 .2 1.4 .2-3.4 .2 4.1 .2-1.8 .2-1.1 .1-1.3 .2-.6 .2-.6 .2 5.8 .2-5.9 .2 4.3 .2-1.9 .2-.7 .2 .3 .1 .8 .2 2.0 .2-.7 .2-1.1 .2-2.9 .2-.8 .2 7.5 .2-5.9 .1-1.2 .2 5.6 .2-5.4 .2 4.6 .2 .4 .2-1.4 .2 1.4 .2-4.8 .1 .3 .2 2.2 .2 .3 .2-.1 .2 1.1 .2-2.5 .2-2.8 .2 5.2 .2-1.3 .1 2.1 .2 2.6 .2-4.1 .2 1.0 .2-3.0 .2 3.7 .2-1.2 .2-.2 .1 1.4 .2-4.1 .2 3.4 .2-.2 .2 2.2 .2-6.8 .2 3.5 .2 4.5 .2-5.2 .1 .0 .2 4.4 .2 1.4 .2-4.7 .2-1.7 .2 .3 .2 .4 .2-.9 .1 .0 .2 2.0 .2-.3 .2 .9 .2-.9 .2-2.5 .2 3.9 .2-1.0 .1-1.6 .2 .6 .2 1.2 .2-.5 .2-.4 .2 1.8 .2 .5 .2-2.7 .2 .6 .1-2.2 .2 1.9 .2 1.3 .2 .8 .2-1.4 .2-.5 .2-1.3 .2 1.9 .1-2.6 .2 2.4 .2-.2 .2-1.9 .2 2.5 .2-1.1 .2 1.6 .2-2.1 .1 1.9 .2 2.2 .2-2.8 .2 1.2 .2-2.8 .2 .5 .2-3.1 .2 3.5 .2-1.9 .1 2.5 .2-4.4 .2 2.4 .2 1.9 .2 .6 .2-4.1 .2 2.5 .2 6.0 .1-3.6 .2-1.2 .2-6.0 .2 3.7 .2 3.0 .2-.6 .2 .5 .2 1.0 .1-1.8 .2 1.6 .2-5.5 .2 8.9 .2-5.8 .2-.7 .2 4.5 .2-1.9 .2 .8 .1-3.4 .2 1.9 .2 .9 .2-3.9 .2 2.0 .2-.1 .2-.1 .2-.9 .1-1.2 .2 3.6 .2-.4 .2 2.0 .2-2.6 .2-1.3 .2-1.7 .2 3.3 .1-.8 .2 5.0 .2 .6 .2-1.5 .2-5.5 .2-1.0 .2 2.5 .2-1.4 .2 5.1 .1-2.9 .2-1.2 .2 .9 .2 2.8 .2-4.9 .2 3.2 .2-4.0 .2 2.5 .1-1.1 .2 2.2 .2-.3 .2 2.3 .2-1.1 .2-2.9 .2-1.7 .2 1.2 .1 .8 .2 .5 .2-1.2 .2 4.2 .2-.4 .2-2.7 .2-.5 .2 .6 .2 .4 .1 .1 .2-3.7 .2 2.7 .2-3.3 .2 4.4 .2 1.5 .2-4.0 .2 2.8 .1-1.8 .2-.2 .2 6.2 .2-2.5 .2-1.0 .2-2.1 .2 2.0 .2-1.4 .2 1.5 .1-3.2 .2 1.9 .2-.7 .2-2.4 .2 7.3 .2-2.1 .2-3.7 .2-1.6 .1 1.7 .2-.2 .2 .5 .2-2.1 .2 1.6 .2 2.1 .2 .8 .2-5.6 .1 4.6 .2-2.3 .2-.1 .2 1.7 .2-.9 .2 3.2 .2 .0 .2-2.3 .2-.8 .1 5.7 .2 .2 .2-3.5 .2-1.2 .2 2.7 .2 1.0 .2-4.6 .2 5.4 .1-4.6 .2 2.9 .2-3.7 .2 1.4 .2-1.2 .2 1.1 .2 2.3 .2-4.5 .1 1.4 .2 2.0 .2-2.4 .2 5.8 .2-8.0 .2 9.1 .2-7.3 .2 3.7 .2 1.5 .1-2.5 .2-4.4 .2 2.5 .2 .9 .2 1.1 .2 .9 .2 .3 .2 .8 .1-5.4 .2 4.3 .2-6.1 .2 4.2 .2-2.7 .2-1.5 .2 5.9 .2-2.1 .1 2.3 .2-5.7 .2 .8 .2 2.5 .2-1.2 .2 1.6 .2-1.5 .2 .6 .2-1.8 .1 5.3 .2-3.5 .2-1.8 .2 4.0 .2-.5 .2-.5 .2 .0 .2-1.3 .1 .5 .2-4.4 .2 1.4 .2 .7 .2 3.2 .2 1.9 .2-2.8 .2-.3 .1 2.9 .2-3.0 .2 2.1 .2-.5 .2-3.6 .2 3.3 .2-.2 .2-2.7 .2 .2 .1-.5 .2 5.4 .2 1.5 .2-2.9 .2 1.7 .2-5.8 .2 5.5 .2 1.1 .1-.7 .2-5.1 .2 4.1 .2-2.4 .2 2.3 .2-3.4 .2 1.3 .2-1.1 .1 2.0 .2-1.1 .2 2.4 .2-.6 .2-.8 .2-.9 .2-.5 .2 .6 .2 1.5 .1-1.2 .2 .3 .2-.7 .2 .0 .2-1.2 .2-2.3 .2 4.7 .2 .0 .1-2.9 .2 5.4 .2-5.8 .2 4.1 .2-1.4 .2 .1 .2 1.6 .2-.5 .2-1.6 .1-2.1 .2-.3 .2 2.7 .2 2.6 .2-1.3 .2-1.8 .2 .7 .2 .7 .1 1.9 .2-4.6 .2 2.8 .2-.9 .2-1.9 .2-.5 .2 4.3 .2-1.8 .1-1.0 .2 .6 .2 1.7 .2-1.7 .2 2.8 .2-3.5 .2-1.0 .2 1.3 .2-1.6 .1 1.2 .2 2.9 .2 .9 .2-2.0 .2-.8 .2-2.1 .2-.2 .2 2.6 .1-.4 .2-1.4 .2 .3 .2 3.8 .2-1.1 .2-1.8 .2 .3 .2 2.0 .1-1.7 .2-.2 .2-3.5 .2-.2 .2-.5 .2-.6 .2 4.3 .2 .6 .2-2.3 .1 2.6 .2 .0 .2-1.0 .2-2.7 .2 5.6 .2-.1 .2-3.8 .2 4.9 .1-3.7 .2-1.6 .2 .7 .2-2.8 .2 2.9 .2-2.4 .2 5.3 .2-1.6 .1-3.3 .2 3.8 .2-4.5 .2 3.7 .2 .7 .2-.9 .2-2.3 .2 2.0 .2-.2 .1 .5 .2 2.9 .2 .4 .2-.2 .2-4.5 .2-.2 .2 1.6 .2 .8 .1-5.0 .2 2.9 .2 4.8 .2-6.1 .2 1.0 .2 .1 .2 2.4 .2-1.1 .1-.5 .2-2.4 .2 4.2 .2-1.2 .2-1.3 .2 1.4 .2 1.5 .2-4.6 .2-.1 .1 1.0 .2 .3 .2-4.3 .2 4.9 .2 3.4 .2-2.9 .2 2.7 .2-7.8 .1 5.6 .2 3.0 .2 .4 .2-4.2 .2-.7 .2 2.5 .2-3.2 .2 1.7 .1-2.6 .2 3.5 .2-.2 .2 3.3 .2-2.6 .2-2.0 .2 1.1 .2-2.4 .2 2.7 .1-.5 .2 1.2 .2 1.1 .2-5.9 .2 4.6 .2 .9 .2-3.9 .2 6.1 .1-5.1 .2 6.2 .2-3.3 .2 .4 .2-1.4 .2 1.5 .2-4.0 .2 .4 .1-2.2 .2 4.9 .2-2.5 .2 2.9 .2-.3 .2-3.8 .2 3.9 .2-.8 .2-.1 .1 .5 .2-1.0 .2 .1 .2 2.0 .2-3.9 .2-.4 .2 .9 .2 3.3 .1-2.5 .2 4.2 .2-9.3 .2 4.4 .2 .5 .2 1.3 .2 2.0 .2-2.8 .2-1.6 .1 3.4 .2 1.3 .2-7.5 .2 5.8 .2-.6 .2-2.0 .2 .6 .2 1.4 .1-.4 .2-.5 .2-1.7 .2 2.6 .2-1.7 .2 1.4 .2-1.2 .2 1.3 .1 1.0 .2-.9 .2 .7 .2-3.5 .2 3.2 .2-.3 .2-1.6 .2 .8 .2-4.5 .1 4.9 .2-.8 .2-3.2 .2 4.8 .2-2.0 .2 1.6 .2-.9 .2 1.2 .1-.7 .2-.6 .2 1.3 .2 .6 .2-5.2 .2 3.8 .2-1.0 .2-.8 .1 3.9 .2-.5 .2-3.3 .2-.1 .2 3.1 .2-2.3 .2 .5 .2-2.7 .2 3.0 .1 2.0 .2-2.6 .2 .6 .2 3.0 .2-1.4 .2 .9 .2-1.3 .2 .9 .1-4.6 .2 1.4 .2-1.4 .2 6.3 .2-3.3 .2-.5 .2-1.0 .2-.4 .1-2.9 .2 8.1 .2-3.7 .2 .2 .2-2.4 .2 2.2 .2 .7 .2-.7 .2 1.1 .1-2.4 .2 1.9 .2 .9 .2-.5 .2-.3 .2-.8 .2-1.4 .2 2.5 .1-1.5 .2-.9 .2 2.7 .2-3.8 .2 1.7 .2 2.1 .2 .3 .2-2.1 .1 .7 .2 .8 .2-1.0 .2-1.2 .2 2.0 .2-.4 .2-.1 .2 1.6 .2-1.3 .1-1.3 .2 1.1 .2 2.9 .2-4.4 .2 .7 .2-.9 .2 2.0 .2-2.7 .1 2.8 .2 .6 .2-2.6 .2-.2 .2-1.1 .2 2.7 .2-2.0 .2 .8 .1 .4 .2-.5 .2 2.6 .2 1.4 .2-6.5 .2 2.3 .2 1.8 .2-2.3 .2 .9 .1 1.4 .2 2.1 .2-.4 .2-2.6 .2 .7 .2-.9 .2 .4 .2-1.8 .1-1.1 .2 2.5 .2 2.5 .2-.4 .2-4.8 .2 3.0 .2-.8 .2 1.7 .2-2.6 .1 3.8 .2-2.1 .2 1.5 .2 .5 .2-5.3 .2 3.3 .2 3.3 .2-2.9 .1 2.0 .2-1.2 .2-1.8 .2 1.5 .2 1.6 .2 .4 .2 .4 .2-5.1 .1 3.8 .2-4.4 .2 2.5 .2-.1 .2 1.7 .2-.7 .2 2.0 .2-3.9 .2 3.1 .1-1.0 .2-.8 .2-2.6 .2 3.8 .2-.5 .2 1.0 .2-1.8 .2-.5 .1 1.5 .2 .1 .2 .5 .2 2.8 .2-5.7 .2 6.0 .2-11.5 .2 9.2 .1-4.3 .2 6.8 .2-7.0 .2 4.8 .2-5.0 .2-.4 .2 4.8 .2 .2 .2-4.0 .1 8.0 .2-7.0 .2 4.9 .2-6.8 .2 .1 .2 2.8 .2-3.0 .2 4.0 .1-7.1 .2 6.4 .2-2.1 .2-1.1 .2 3.3 .2-1.2 .2-.7 .2 3.6 .1-1.4 .2 .2 .2 2.8 .2-4.1 .2 2.7 .2-3.8 .2 3.1 .2-.2 .2-3.3 .1-2.9 .2 .7 .2 1.0 .2 4.6 .2-2.1 .2-.5 .2 2.4 .2 .7 .1 2.1 .2-6.1 .2 3.5 .2 .5 .2-5.1 .2 3.3 .2-3.2 .2 2.1 .1 2.0 .2-6.5 .2 2.5 .2 .2 .2 2.8 .2-2.6 .2 3.4 .2-3.7 .2 1.0 .1 3.4 .2-.8 .2-.5 .2-.6 .2 3.1 .2 1.1 .2-5.2 .2-1.1 .1-.9 .2 8.3 .2-7.9 .2-1.2 .2 4.7 .2 2.3 .2-6.7 .2 3.2 .1-3.8 .2 2.2 .2 6.8 .2-4.3 .2-1.3 .2 1.0 .2 .6 .2-1.1 .2-3.1 .1 .0 .2 9.2 .2-8.0 .2 5.6 .2-5.5 .2 5.8 .2-1.7 .2-2.6 .1 6.3 .2-8.4 .2 2.0 .2-1.7 .2 .2 .2 1.2 .2-1.7 .2 1.8 .2 5.3 .1-9.3 .2 1.4 .2 .8 .2 1.4 .2 4.1 .2-.8 .2-.7 .2-.7 .1 6.0 .2-9.7 .2 .0 .2 3.0 .2 .7 .2-1.2 .2-1.7 .2-1.2 .1 2.7 .2-1.1 .2 .6 .2-1.6 .2 6.5 .2-2.4 .2 3.8 .2-6.4 .2 1.6 .1-.9 .2 .8 .2-.8 .2 .3 .2-5.0 .2 4.7 .2 2.6 .2-7.2 .1 4.3 .2 2.6 .2 1.9 .2-3.7 .2 1.5 .2 3.6 .2-1.3 .2-4.9 .1-.4 .2 4.6 .2-2.3 .2-2.2 .2 .9 .2 1.6 .2-1.5 .2-.2 .2 .1 .1-3.7 .2 9.6 .2-1.5 .2 .9 .2-5.0 .2 .8 .2 1.4 .2 .7 .1-8.1 .2 6.7 .2-4.2 .2 2.9 .2-1.9 .2 7.4 .2-3.6 .2-1.8 .1 4.5 .2-4.6 .2-2.1 .2 1.7 .2-.6 .2 1.3 .2 2.6 .2-3.1 .2 .2 .1 3.4 .2-2.3 .2 2.1 .2-2.6 .2-4.5 .2 .6 .2-1.6 .2 8.6 .1-2.2 .2-2.7 .2-1.6 .2 4.1 .2-1.5 .2 1.4 .2-3.5 .2-.8 .1 7.9 .2-7.4 .2 2.7 .2 4.0 .2-9.2 .2 7.3 .2-1.8 .2-.6 .2 1.2 .1-4.1 .2-2.9 .2 11.4 .2-6.0 .2 3.2 .2 .6 .2-2.2 .2 .4 .1 .7 .2 2.3 .2-2.9 .2 2.1 .2-4.2 .2-.3 .2 1.3 .2 .9 .1 .3 .2 3.8 .2-2.9 .2-2.1 .2 5.2 .2-4.5 .2 .1 .2 .3 .2-2.2 .1-2.1 .2 3.4 .2-1.3 .2-1.5 .2 2.7 .2-.9 .2-1.1 .2-3.4 .1 4.6 .2 5.6 .2-2.5 .2 .6 .2-3.3 .2 3.2 .2-5.1 .2 .6 .2 3.0 .1-5.9 .2 4.5 .2 .7 .2 4.3 .2-7.3 .2 3.4 .2-3.3 .2 .3 .1-6.6 .2 5.4 .2 6.5 .2-2.0 .2-1.1 .2 7.1 .2-5.9 .2-5.5 .1 3.2 .2 .4 .2 5.1 .2-7.6 .2 4.0 .2 1.6 .2-5.3 .2 2.7 .2-6.2 .1 6.2 .2-6.7 .2 5.3 .2 6.0 .2-3.7 .2-1.0 .2 .2 .2 5.6 .1-4.5 .2 1.3 .2-4.0 .2 .1 .2-1.7 .2 2.4 .2-1.4 .2 4.4 .1-.9 .2-2.0 .2-1.1 .2-5.9 .2 5.8 .2 2.3 .2 .8 .2-9.1 .2 1.7 .1 6.2 .2-2.9 .2 2.0 .2-.6 .2 2.5 .2-5.7 .2 3.0 .2 3.5 .1-1.7 .2-2.4 .2 3.0 .2-.4 .2-2.7 .2 3.6 .2-.1 .2-1.8 .1 2.4 .2-4.7 .2 4.3 .2-2.1 .2-1.7 .2 .8 .2 3.9 .2-3.8 .2 .5 .1-.7 .2-.3 .2 3.8 .2 2.7 .2-1.9 .2-1.8 .2 .5 .2-2.3 .1-.3 .2-1.5 .2 5.6 .2-3.8 .2-.8 .2 .2 .2 1.7 .2-1.5 .1 1.2 .2 .3 .2 2.4 .2-5.4 .2 3.2 .2-2.0 .2 .5 .2 4.3 .2-2.1 .1-2.1 .2 1.8 .2-1.0 .2 2.3 .2-3.3 .2 2.0 .2-1.4 .2 .4 .1-.3 .2-.9 .2 1.4 .2 1.8 .2-3.2 .2 .4 .2 1.6 .2-2.3 .1 3.2 .2-.3 .2-5.9 .2 3.2 .2-.8 .2 3.8 .2 .2 .2-4.2 .2 1.0 .1 1.2 .2-.6 .2 2.1 .2 .5 .2-.7 .2 .9 .2-.3 .2-1.9 .1-.7 .2-.6 .2 3.0 .2 .1 .2 .3 .2-2.6 .2-.1 .2 1.2 .2 1.9 .1-1.7 .2-.2 .2-2.1 .2 2.5 .2 .2 .2-2.9 .2 5.2 .2-5.1 .1 3.5 .2-2.2 .2 .7 .2-1.8 .2 .4 .2 2.5 .2-1.7 .2-.3 .1 2.3 .2-.3 .2-1.1 .2 .2 .2 2.9 .2-3.7 .2 1.1 .2 .1 .2-3.6 .1-1.0 .2 4.0 .2 1.4 .2-1.3 .2-1.4 .2-.2 .2 2.8 .2-2.2 .1-2.5 .2 4.5 .2-.9 .2 .3 .2 1.3 .2 .5 .2-1.5 .2-1.4 .1-3.8 .2 4.7 .2-.9 .2 2.9 .2-.1 .2-1.5 .2 1.7 .2-2.8 .2 .0 .1-1.5 .2 1.0 .2 1.0 .2 1.7 .2-3.5 .2 3.0 .2 3.1 .2-7.4 .1 2.2 .2 .6 .2 1.9 .2 2.0 .2-1.5 .2-2.5 .2-1.7 .2 1.6 .1 .0 .2 .6 .2-2.3 .2 4.9 .2-4.5 .2 2.8 .2-.9 .2-2.7 .2 2.4 .1-.1 .2-.5 .2 2.1 .2-2.6 .2 6.1 .2-2.9 .2-4.1 .2-3.3 .1 7.7 .2-2.1 .2-.3 .2-2.2 .2-.9 .2-.9 .2 9.1 .2-2.0 .1-4.4 .2 5.0 .2-7.7 .2 5.3 .2 .0 .2-3.2 .2 .8 .2-1.2 .2 2.2 .1 2.6 .2-.6 .2-1.2 .2 1.4 .2-5.9 .2 7.8 .2-4.3 .2-2.6 .1 1.9 .2-.5 .2 1.5 .2 .5 .2-5.5 .2 7.4 .2 .9 .2-5.6 .1 5.1 .2-.4 .2-.5 .2 1.2 .2-6.1 .2 4.3 .2-3.5 .2 6.8 .2-6.8 .1-.5 .2 4.8 .2-1.0 .2-1.2 .2 .2 .2 .9 .2 2.3 .2-4.9 .1 .3 .2 .0 .2 1.0 .2 .1 .2-2.5 .2 3.1 .2-3.1 .2 1.9 .2 .1 .1 .0 .2 3.4 .2 .3 .2-1.1 .2 1.0 .2-3.7 .2 3.3 .2-2.8 .1 .5 .2 .1 .2-3.1 .2 1.4 .2 .9 .2 1.0 .2-.9 .2-1.4 .1-.6 .2 2.2 .2-2.2 .2 .0 .2 2.0 .2 .5 .2-1.8 .2-1.8 .2 3.8 .1 1.0 .2-2.3 .2 .1 .2-3.6 .2 5.9 .2-3.6 .2 3.3 .2-2.4 .1 .8 .2 .0 .2-2.9 .2 8.1 .2-7.7 .2 3.0 .2-1.6 .2 1.0 .1 2.8 .2-5.7 .2 3.1 .2 1.1 .2-.7 .2 .5 .2-2.0 .2-1.5 .2 .5 .1 1.6 .2 2.0 .2-1.2 .2 2.6 .2-2.5 .2 .1 .2 .0 .2-3.2 .1 3.9 .2-2.9 .2 1.3 .2 4.5 .2-6.0 .2 2.3 .2 .3 .2-.3 .1-.2 .2-.9 .2 4.2 .2-6.6 .2 1.6 .2 4.1 .2-1.5 .2-2.2 .2-.2 .1 1.1 .2 4.7 .2-3.5 .2-2.5 .2 2.1 .2-1.4 .2 3.4 .2-1.9 .1 1.5 .2-1.7 .2 3.0 .2-2.6 .2-.2 .2-2.1 .2 .9 .2 1.3 .1-1.4 .2 4.8 .2-4.0 .2-1.2 .2 2.8 .2-2.4 .2 1.5 .2-.8 .2-1.1 .1 3.4 .2-2.1 .2 1.6 .2-2.2 .2-1.8 .2 .3 .2 1.2 .2 .5 .1 .4 .2 .7 .2-2.8 .2 2.4 .2-2.4 .2 .9 .2 5.3 .2-2.1 .1-2.7 .2 3.5 .2-.6 .2-.8 .2 .9 .2-2.8 .2 .2 .2-1.2 .2 2.4 .1-3.1 .2 1.3 .2 1.6 .2-1.6 .2 1.4 .2 2.4 .2-4.6 .2 4.0 .1-3.5 .2-.5 .2 2.0 .2 1.3 .2-2.9 .2 .0 .2 .5 .2-.5 .2 1.5 .1-1.5 .2 .8 .2 1.0 .2-1.3 .2 2.7 .2-3.2 .2-.1 .2 4.9 .1-1.0 .2-2.5 .2 1.4 .2-.9 .2-1.5 .2 2.1 .2-.7 .2 1.8 .1-5.6 .2 4.7 .2-1.1 .2-1.5 .2 .4 .2 .1 .2-1.7 .2 1.4 .2 2.4 .1-4.2 .2 2.1 .2-3.7 .2 3.3 .2 1.8 .2-.8 .2 .2 .2-2.2 .1 3.2 .2-2.8 .2 3.4 .2-1.3 .2-1.1 .2 3.5 .2-3.5 .2 2.6 .1-1.7 .2-.2 .2 1.9 .2-1.1 .2-.8 .2-.2 .2 .6 .2-.2 .2-.8 .1-1.4 .2-3.0 .2 4.8 .2-.3 .2 2.9 .2-1.5 .2 1.3 .2 1.2 .1-3.6 .2-1.5 .2 3.3 .2-2.8 .2 .7 .2 3.4 .2-1.8 .2 1.1 .1-4.9 .2 2.8 .2 2.1 .2-4.8 .2 3.0 .2 .4 .2-5.4 .2 7.8 .2-4.6 .1 1.1 .2 3.7 .2-7.0 .2 4.5 .2-1.8 .2 1.0 .2-1.7 .2 4.3 .1-4.9 .2 2.9 .2 .4 .2-1.3 .2-.3 .2 .0 .2 2.6 .2-1.2 .1-1.1 .2-2.0 .2 2.5 .2 .8 .2-1.2 .2 3.0 .2-6.7 .2 8.8 .2-5.4 .1-1.9 .2-1.2 .2 5.2 .2-.5 .2-1.6 .2 .3 .2 .4 .2-1.1 .1 3.1 .2-1.0 .2-1.5 .2-3.1 .2 6.0 .2-3.6 .2-1.2 .2 4.7 .1-1.6 .2-5.0 .2 .7 .2 2.5 .2-1.7 .2 2.2 .2 5.5 .2 .7 .2-6.0 .1 1.7 .2 .2 .2-2.0 .2-2.7 .2 5.0 .2-2.4 .2 1.2 .2 .5 .1-3.0 .2 4.9 .2-3.1 .2 .3 .2-1.3 .2 2.2 .2 .6 .2-3.1 .2 2.2 .1-1.9 .2-1.6 .2 1.8 .2 1.8 .2-.1 .2 1.0 .2-3.4 .2 .7 .1 .8 .2 1.0 .2-1.4 .2-1.6 .2-1.1 .2 5.2 .2-.2 .2-3.3 .1 4.0 .2-2.9 .2 1.0 .2 1.5 .2-3.3 .2-.5 .2-1.9 .2 3.9 .2 .3 .1 .8 .2-.5 .2-1.0 .2 2.0 .2-4.1 .2 2.7 .2 .2 .2-1.2 .1 3.5 .2-2.4 .2 1.7 .2-.9 .2-2.0 .2 4.0 .2-1.6 .2-2.0 .1-.3 .2-1.7 .2 1.6 .2-.1 .2 .8 .2-1.2 .2 1.9 .2-1.2 .2-2.9 .1 2.1 .2-.8 .2-.7 .2 1.9 .2 2.3 .2-3.9 .2-1.7 .2 3.5 .1 6.1 .2-6.9 .2 1.7 .2-1.4 .2 2.5 .2 1.1 .2-3.1 .2 2.6 .1-4.4 .2 2.5 .2-2.8 .2 2.8 .2-1.6 .2 1.7 .2-2.7 .2 2.7 .2-.2 .1-1.4 .2-.4 .2-.8 .2 1.6 .2 1.5 .2-1.0 .2 .6 .2 2.2 .1-3.2 .2 1.2 .2 1.1 .2-.6 .2-.3 .2-.6 .2 3.8 .2-4.1 .1-.6 .2 2.0 .2 2.1 .2-.4 .2-2.9 .2 1.7 .2-.7 .2-.9 .2 1.2 .1 .0 .2-1.1 .2 3.4 .2-4.4 .2 3.7 .2 1.5 .2 .1 .2-4.0 .1-.9 .2-3.1 .2 3.3 .2 5.4 .2-8.6 .2 .0 .2 5.2 .2-.5 .1-5.3 .2 3.8 .2 .9 .2-4.1 .2 5.5 .2-5.1 .2 5.5 .2-2.1 .2-2.0 .1-2.0 .2 2.8 .2 .5 .2 .0 .2-1.1 .2 .9 .2 2.4 .2-4.0 .1 1.6 .2 1.5 .2-1.1 .2 2.0 .2 1.6 .2-4.4 .2 1.4 .2-7.3 .1 6.0 .2 2.3 .2-4.1 .2 5.6 .2-7.4 .2 7.5 .2-4.4 .2-1.1 .2 1.2 .1 .5 .2-1.7 .2-.9 .2 2.0 .2 3.5 .2-1.3 .2 2.2 .2-4.6 .1 .6 .2 .1 .2 1.1 .2 .7 .2 3.1 .2-2.5 .2-1.3 .2 2.9 .2-5.1 .1-1.3 .2 4.7 .2-1.2 .2-.1 .2 2.0 .2-3.1 .2 .6 .2 1.1 .1 .7 .2 .8 .2-2.1 .2 .4 .2-6.5 .2 8.8 .2-6.7 .2 3.6 .1 6.2 .2-6.9 .2-3.0 .2 7.7 .2-5.2 .2 .9 .2 .0 .2 2.2 .2 .1 .1-2.2 .2 3.0 .2-4.8 .2 3.7 .2-3.1 .2 3.2 .2-3.3 .2 .6 .1 4.5 .2-6.1 .2-.2 .2 4.2 .2-2.0 .2-.4 .2 .7 .2 5.3 .1-7.4 .2 1.8 .2 1.0 .2-2.6 .2 2.1 .2 1.2 .2-3.2 .2 4.7 .2-5.2 .1 2.3 .2 1.1 .2 6.6 .2-11.4 .2 4.7 .2 5.1 .2-7.2 .2 3.9 .1-2.0 .2-3.8 .2 4.2 .2-2.9 .2 2.2 .2-3.6 .2 5.1 .2-7.1 .1 5.0 .2 3.3 .2-1.7 .2-2.0 .2 .3 .2-.4 .2 7.0 .2-6.2 .2 .1 .1-1.6 .2 .6 .2 2.3 .2-2.6 .2-.5 .2 .6 .2 .4 .2 1.2 .1-1.5 .2 .7 .2-1.2 .2 4.3 .2-2.5 .2-.9 .2 1.3 .2-.7 .1-3.3 .2 3.0 .2 3.9 .2-2.4 .2 1.4 .2-3.9 .2-1.7 .2 1.6 .2 4.3 .1-4.9 .2 .4 .2 4.0 .2-2.8 .2 .1 .2 1.2 .2-.6 .2-.8 .1 1.1 .2-2.0 .2 1.4 .2 1.5 .2-3.6 .2 1.8 .2-2.0 .2 3.9 .1-.2 .2 .6 .2 .2 .2 .0 .2-.6 .2-3.1 .2 3.5 .2-3.8 .2 6.6 .1-4.1 .2 .6 .2-3.7 .2 4.7 .2 .2 .2-5.6 .2 2.1 .2 .2 .1-.4 .2 4.1 .2 1.6 .2-6.6 .2 4.3 .2-2.6 .2 3.3 .2-7.7 .2 4.0 .1 3.3 .2-3.9 .2 3.9 .2-3.4 .2 3.3 .2-1.1 .2-2.1 .2-.6 .1 1.2 .2 2.6 .2-2.3 .2-1.3 .2 8.0 .2-9.9 .2 2.7 .2 1.6 .1-3.2 .2 2.1 .2-.9 .2-2.1 .2 3.9 .2-3.2 .2 .8 .2 4.0 .2-4.8 .1 3.5 .2 1.2 .2-.4 .2-1.1 .2-1.4 .2-2.4 .2 3.2 .2 .6 .1-2.0 .2-.9 .2 3.8 .2-4.0 .2 3.1 .2-1.9 .2-2.5 .2 6.8 .1-2.1 .2-.1 .2-4.1 .2 2.7 .2 .9 .2-2.2 .2 5.0 .2-7.6 .2 5.6 .1-5.4 .2 .7 .2 .6 .2 3.9 .2-2.7 .2 .0 .2-.5 .2-1.2 .1 1.2 .2-.2 .2 1.4 .2-.1 .2-4.3 .2 3.7 .2 4.0 .2-3.6 .1 .8 .2-1.3 .2 .0 .2 1.3 .2-2.7 .2 2.5 .2-3.2 .2 4.3 .2-4.1 .1 4.7 .2 .8 .2-5.6 .2 4.9 .2-2.4 .2 3.4 .2-3.6 .2 .5 .1 .0 .2 3.3 .2-6.9 .2 5.8 .2-1.4 .2-1.3 .2 .6 .2 2.5 .1-.2 .2 1.8 .2-5.0 .2-2.7 .2 2.9 .2 .8 .2-.6 .2 3.6 .2 2.3 .1-4.1 .2-4.6 .2 6.0 .2-3.6 .2 1.5 .2 1.7 .2-1.0 .2-1.0 .1 .8 .2 1.0 .2-.3 .2 3.1 .2-10.8 .2 4.7 .2 .4 .2 3.0 .1-1.3 .2 1.4 .2-4.8 .2 2.5 .2 1.8 .2-1.4 .2-.8 .2 1.4 .2 2.9 .1-7.8 .2 7.7 .2-2.7 .2-2.4 .2 3.1 .2-1.2 .2 2.4 .2-4.2 .1 3.7 .2-3.9 .2 2.5 .2 .8 .2-1.6 .2 1.5 .2-2.5 .2 3.3 .2-3.1 .1-.5 .2 1.2 .2 .2 .2-1.6 .2 3.3 .2-1.9 .2 1.5 .2-4.2 .1 .3 .2 2.1 .2-1.4 .2 1.7 .2 1.4 .2 1.1 .2 .8 .2-1.4 .1-3.0 .2 2.5 .2-2.2 .2 2.2 .2-3.3 .2 4.9 .2-1.9 .2-1.4 .2-2.2 .1 3.4 .2-1.7 .2 1.6 .2-2.0 .2 .3 .2 2.5 .2 1.8 .2-5.8 .1 2.3 .2 1.2 .2-1.2 .2-.6 .2 5.8 .2-6.7 .2 2.7 .2-1.9 .1 .8 .2-4.9 .2 7.2 .2-2.5 .2-1.8 .2 6.1 .2-4.5 .2-.8 .2-.5 .1 4.5 .2-2.5 .2-.8 .2-2.4 .2 1.0 .2 3.0 .2-.9 .2-4.8 .1 2.8 .2 2.6 .2 5.9 .2-8.2 .2-3.5 .2 7.1 .2-3.0 .2-1.9 .1 4.4 .2-1.9 .2-1.6 .2-.8 .2 2.7 .2 .5 .2-4.2 .2 6.2 .2-5.0 .1 5.8 .2-2.3 .2-1.1 .2 1.1 .2-2.0 .2 1.2 .2 3.5 .2-4.6 .1 2.8 .2-3.4 .2 1.8 .2 1.9 .2-4.2 .2 2.9 .2-4.7 .2 2.0 .1 1.3 .2 2.4 .2-.3 .2-2.9 .2 1.4 .2 .6 .2-3.1 .2 3.5 .2 1.6 .1-.2 .2-3.2 .2 .3 .2-.9 .2 .8 .2 .4 .2 1.6 .2-1.0 .1-1.7 .2 2.9 .2 .1 .2-2.5 .2 .6 .2 .3 .2-2.6 .2 3.0 .1 .9 .2 2.1 .2-2.9 .2-.8 .2 .2 .2 1.3 .2 .3 .2-2.8 .2 1.8 .1 .7 .2-4.4 .2 5.6 .2-2.6 .2 1.8 .2-1.5 .2-.4 .2 .3 .1 .6 .2 1.0 .2-1.9 .2-1.5 .2 .7 .2-.4 .2 2.9 .2-2.9 .2 4.3 .1-2.4 .2-.4 .2 2.4 .2-2.9 .2 .1 .2 1.9 .2-.1 .2-3.0 .1 6.1 .2-3.3 .2-3.3 .2 1.9 .2 2.0 .2-1.3 .2 1.2 .2 2.7 .1-2.6 .2 2.0 .2-2.4 .2-2.5 .2 4.1 .2-4.2 .2 3.1 .2-.5 .2-2.8 .1 .2 .2 1.0 .2 1.1 .2 1.8 .2-2.4 .2 3.6 .2-2.0 .2-3.0 .1 .1 .2 1.4 .2-1.3 .2 .9 .2 1.8 .2-1.1 .2 1.5 .2-3.4 .1-.4 .2-1.2 .2-.8 .2 2.8 .2 1.2 .2-.6 .2 .4 .2 4.6 .2-7.0 .1 1.8 .2-.5 .2-1.0 .2 5.3 .2-3.3 .2 3.1 .2-5.7 .2 7.3 .1 .9 .2-7.6 .2 2.1 .2-.3 .2 1.7 .2-4.7 .2 4.5 .2 .7 .1-3.4 .2-4.5 .2 4.2 .2 .8 .2 3.1 .2-3.8 .2-1.5 .2 5.0 .2-.7 .1 1.0 .2-1.9 .2 2.9 .2-1.6 .2-6.7 .2 5.8 .2 1.7 .2-2.2 .1 4.3 .2-5.7 .2 3.5 .2-5.9 .2 3.7 .2-1.6 .2-1.4 .2-1.0 .1 4.7 .2 .7 .2-3.3 .2-1.9 .2 1.1 .2 5.1 .2-6.1 .2 7.3 .2-8.8 .1 6.1 .2 1.2 .2 1.8 .2-5.2 .2-1.0 .2-2.1 .2 7.3 .2-3.2 .1-1.1 .2 .2 .2 2.0 .2-.6 .2 3.4 .2-10.0 .2 9.0 .2-4.1 .1 1.3 .2-.7 .2 .7 .2 2.5 .2-1.6 .2-4.8 .2 4.0 .2-.1 .2 1.3 .1-.9 .2-.4 .2 3.2 .2-6.0 .2 9.2 .2-7.7 .2-1.3 .2 5.0 .1 .8 .2 .5 .2 .6 .2-2.7 .2-1.1 .2 .8 .2-1.0 .2-1.5 .2 5.9 .1 .6 .2-5.0 .2-.6 .2-.8 .2-3.2 .2 2.7 .2 .5 .2 1.3 .1-2.7 .2-2.5 .2 7.1 .2 3.0 .2-10.8 .2 5.6 .2 2.8 .2-5.7 .1-.8 .2 4.2 .2-.8 .2-1.1 .2 6.5 .2-.4 .2-2.4 .2-2.1 .2-.7 .1 3.4 .2-3.1 .2 4.8 .2-.7 .2-5.2 .2 3.9 .2 2.2 .2-2.5 .1-4.4 .2 1.8 .2-.2 .2 1.3 .2-.2 .2-1.1 .2 3.2 .2 1.3 .1-5.0 .2-2.3 .2 4.7 .2-.9 .2 1.0 .2-2.7 .2 2.4 .2-2.9 .2 4.8 .1 1.4 .2-6.1 .2-3.8 .2 4.8 .2-.1 .2 1.7 .2-.4 .2 1.0 .1 4.8 .2-7.1 .2 .4 .2 1.8 .2-4.9 .2 5.6 .2-3.0 .2-1.6 .1 1.2 .2 2.8 .2 .7 .2 .8 .2-1.7 .2-2.3 .2 2.6 .2-1.3 .2 4.8 .1-8.8 .2 7.4 .2-1.7 .2-.7 .2-1.0 .2-1.0 .2-.8 .2-1.2 .1 7.3 .2-2.2 .2-.6 .2-.6 .2-4.6 .2 3.3 .2 .8 .2 2.2 .1-4.5 .2 2.7 .2-1.1 .2 .6 .2-1.7 .2 2.4 .2-.6 .2-4.2 .2 6.6 .1 2.2 .2-6.7 .2 4.5 .2-4.7 .2 1.0 .2 5.1 .2-3.5 .2 3.0 .1-2.8 .2 1.7 .2-2.7 .2 3.8 .2 .9 .2-2.7 .2-3.0 .2 .5 .1-1.5 .2 3.9 .2-.2 .2-3.1 .2 4.2 .2-3.9 .2 6.4 .2-2.6 .2 2.1 .1-6.3 .2-.8 .2-2.4 .2 7.0 .2-5.1 .2 7.2 .2-3.5 .2 1.9 .1-6.2 .2 2.1 .2 2.4 .2 1.7 .2-6.3 .2 5.1 .2-3.7 .2 5.3 .2-3.4 .1-.2 .2 2.5 .2 2.4 .2-4.8 .2 5.2 .2-7.8 .2 4.5 .2-5.0 .1 4.8 .2-4.1 .2 3.4 .2 2.2 .2-5.9 .2-3.0 .2 6.0 .2 2.6 .1-1.1 .2-4.4 .2 6.8 .2-4.4 .2 4.1 .2-6.4 .2 5.2 .2 2.9 .2-7.3 .1 1.5 .2 3.6 .2-.4 .2-.6 .2-2.0 .2-5.7 .2 6.2 .2-5.1 .1 5.4 .2-9.6 .2 15.0 .2 1.8 .2-5.7 .2-5.1 .2 2.1 .2 4.6 .1-.9 .2-5.2 .2 7.3 .2-1.9 .2-.7 .2-3.4 .2 1.4 .2-2.7 .2 3.3 .1-3.1 .2 6.7 .2-4.1 .2 .6 .2 .4 .2-.1 .2-6.0 .2 9.3 .1-4.1 .2-2.1 .2-1.4 .2 1.0 .2 .2 .2 2.0 .2-2.7 .2 3.0 .1 .1 .2-2.6 .2 8.9 .2-7.1 .2 1.3 .2-.6 .2-.8 .2 2.4 .2 1.9 .1-4.1 .2-2.2 .2 3.9 .2-7.4 .2 6.3 .2-.9 .2 1.3 .2-4.8 .1 2.8 .2-1.5 .2 1.3 .2 2.8 .2-2.0 .2-1.0 .2 4.5 .2-2.9 .1-5.0 .2 2.4 .2 3.5 .2 .0 .2-.5 .2 .1 .2-2.7 .2 1.9 .2-2.6 .1 .8 .2-.1 .2 .1 .2 1.2 .2 .2 .2-1.3 .2 4.2 .2-3.4 .1 4.4 .2-1.2 .2-4.9 .2 4.6 .2-5.0 .2 6.2 .2-2.4 .2-2.9 .1-2.5 .2 3.8 .2-2.0 .2 5.2 .2-5.0 .2 2.2 .2 1.5 .2-1.0 .2 .5 .1-1.1 .2 2.0 .2-3.4 .2 3.1 .2-3.7 .2 2.9 .2-2.8 .2 2.0 .1 1.6 .2 1.4 .2-6.3 .2 2.1 .2-.4 .2 4.5 .2-4.3 .2 3.2 .2-2.5 .1-1.9 .2 3.2 .2-2.5 .2 3.8 .2 .2 .2 1.0 .2-4.8 .2 5.3 .1-1.2 .2-5.7 .2 8.2 .2-1.1 .2-5.5 .2 2.8 .2-3.5 .2 2.5 .1 .7 .2 .9 .2-3.0 .2 1.6 .2-1.9 .2 2.8 .2 .6 .2-1.3 .2 2.4 .1-.9 .2-.8 .2 1.8 .2-5.4 .2 2.7 .2-4.1 .2 4.1 .2-1.1 .1 3.2 .2-3.1 .2-.6 .2 1.4 .2-.1 .2 1.8 .2-3.9 .2-1.9 .1-.3 .2 8.2 .2-7.5 .2 2.5 .2-2.2 .2 6.6 .2-4.9 .2 6.3 .2-6.9 .1 3.6 .2 1.8 .2 .9 .2-8.4 .2 3.2 .2 1.1 .2-7.1 .2 10.4 .1-1.3 .2 .5 .2-8.0 .2 6.6 .2 1.1 .2 2.5 .2-6.5 .2 5.0 .1 5.3 .2-9.9 .2 .1 .2 .4 .2-4.6" fill="none" stroke="#0000ff" stroke-opacity="0.55" stroke-width="0.5"/><path d="M75.0 679.6l.1 4.4 .2-5.7 .1 1.7 .1 3.0 .1-1.4 .2-.7 .1-1.3 .1 .5 .1 .3 .2 1.5 .1-1.3 .1 1.9 .1-6.4 .2 6.2 .1-3.1 .1 1.2 .1-1.0 .2 2.5 .1-1.8 .1 1.8 .1-3.4 .2 2.3 .1 2.5 .1-.2 .1-3.6 .2 1.2 .1-1.2 .1 .6 .1 .3 .2 3.0 .1-1.6 .1 2.2 .2 .2 .1-7.0 .1 4.0 .1-1.9 .2-3.0 .1 1.3 .1 1.5 .1 5.6 .2-4.1 .1-.7 .1 .4 .1-1.9 .2 2.5 .1-.7 .1-4.1 .1 2.9 .2 10.4 .1-7.3 .1-2.0 .1 2.1 .2-4.4 .1 2.9 .1 2.1 .1-6.8 .2 2.4 .1 .9 .1 .3 .1-.6 .2 2.2 .1 2.1 .1-1.9 .2 1.9 .1 .1 .1-4.7 .1 2.5 .2-1.8 .1 2.9 .1-2.9 .1 .5 .2 5.4 .1-5.4 .1-4.0 .1 4.9 .2 .5 .1-2.3 .1 1.6 .1 2.8 .2-4.5 .1 1.0 .1-1.5 .1 3.0 .2-1.3 .1-2.3 .1 2.2 .1 5.7 .2-10.1 .1 .9 .1 4.9 .1-4.9 .2 9.5 .1-9.8 .1 .6 .1 2.2 .2 4.5 .1-.8 .1-.7 .2-.7 .1 2.7 .1-8.6 .1 5.8 .2 3.2 .1-6.9 .1 3.8 .1 2.4 .2 .1 .1-3.7 .1 5.3 .1-3.6 .2 1.5 .1-5.7 .1 .9 .1 .0 .2 6.5 .1-10.6 .1 1.3 .1 6.8 .2-1.7 .1-7.9 .1 6.5 .1 .3 .2 3.8 .1-7.8 .1 3.4 .1 4.0 .2-.8 .1-4.1 .1 1.5 .2-2.8 .1 6.8 .1-4.3 .1 4.1 .2-1.2 .1-3.9 .1 1.7 .1 1.9 .2-.5 .1 2.5 .1-1.0 .1-1.8 .2 .8 .1-3.2 .1 .3 .1 2.7 .2-.6 .1-3.2 .1 2.3 .1-1.6 .2 .5 .1 4.1 .1-4.9 .1 .6 .2 2.7 .1-1.1 .1 .2 .1-3.5 .2 3.1 .1-.7" fill="none" stroke="#0000ff" stroke-opacity="0.75" stroke-width="0.6"/><path d="M274.0 678.7l.1 .6 .2 .5 .1 2.5 .1 2.2 .1-3.8 .2 3.0 .1-3.0 .1-3.5 .1 3.4 .2 2.7 .1 .3 .1-5.1 .1 7.0 .2-6.7 .1 .0 .1 .5 .1 4.5 .2-2.4 .1 1.2 .1-7.2 .1 5.0 .2-.2 .1 1.9 .1-2.7 .1 3.9 .2-4.4 .1-1.7 .1-.6 .1 6.9 .2-1.2 .1-3.7 .1 4.6 .2-3.1 .1 .1 .1-3.3 .1 2.2 .2 1.7 .1 .2 .1-1.9 .1 3.9 .2 1.2 .1-5.7 .1 3.0 .1-4.9 .2 5.0 .1-3.6 .1 2.1 .1 .9 .2-1.1 .1 3.4 .1-4.8 .1 .8 .2 2.1 .1-1.0 .1 .8 .1-1.2 .2-1.7 .1 4.1 .1-1.6 .1 2.2 .2 1.2 .1-4.6 .1-1.1 .2 .8 .1-.6 .1-3.7 .1 10.1 .2-3.4 .1 5.4 .1-8.1 .1 3.2 .2-.9 .1-.9 .1 2.9 .1-2.7 .2-.3 .1 .7 .1-6.8 .1 4.3 .2 .0 .1 6.7 .1-3.0 .1 .6 .2-.5 .1-2.3 .1 5.2 .1-5.2 .2-3.4 .1 5.7 .1 1.6 .1-3.0 .2 .7 .1 1.6 .1 1.6 .1-2.6 .2 3.0 .1-3.8 .1 4.9 .2-9.5 .1 6.4 .1-1.8 .1-.5 .2-3.8 .1 6.4 .1-3.5 .1-2.1 .2 1.0 .1 1.1 .1 .8 .1-2.6 .2 .0 .1 3.4 .1-1.2 .1 5.2 .2-6.1 .1 3.0 .1 2.5 .1-4.9 .2 2.9 .1-1.7 .1-.6 .1 3.8 .2-6.4 .1 1.0 .1-2.9 .1 4.1 .2 2.6 .1-3.0 .1 2.6 .2-3.8 .1 4.6 .1-3.0 .1-.9 .2 5.0 .1-3.9 .1 1.4 .1-1.1 .2 1.4 .1-1.4 .1-3.0 .1 3.4 .2 .4 .1-.2 .1-1.4 .1 4.6 .2-5.7 .1 1.9 .1 .2 .1-2.8 .2-.3 .1 4.1 .1 .0 .1-1.2 .2-3.7 .1 2.8 .1 1.1 .1 .9 .2 1.2 .1-1.6" fill="none" stroke="#0000ff" stroke-opacity="0.75" stroke-width="0.6"/><path d="M283.0 682.6l.1 1.5 .2-8.6 .1 7.2 .1-3.1 .1 2.0 .2-.6 .1-2.7 .1 .3 .1 2.9 .2-1.4 .1 2.0 .1-2.4 .1 5.5 .2-5.2 .1 5.1 .1-6.3 .1 3.0 .2 1.2 .1-5.4 .1 .8 .1 3.0 .2 1.7 .1 .5 .1-1.8 .1 1.1 .2-5.0 .1 1.7 .1 4.3 .1-4.7 .2 .8 .1-3.5 .1 3.6 .1-3.3 .2 4.6 .1 2.6 .1-2.7 .1-.4 .2-1.3 .1 2.3 .1-4.1 .2 1.6 .1 6.4 .1-8.5 .1 1.8 .2-2.0 .1 6.5 .1-3.7 .1-2.6 .2 .1 .1 5.9 .1-1.1 .1 .3 .2-2.1 .1 2.4 .1 1.1 .1-1.7 .2-5.8 .1-1.0 .1 1.3 .1 4.5 .2-4.6 .1 1.0 .1 3.0 .1-2.4 .2-1.1 .1 6.0 .1-1.3 .1 .8 .2 .4 .1 1.4 .1-4.0 .1-.4 .2-4.3 .1 4.1 .1-1.0 .1 4.5 .2-1.0 .1 2.2 .1-1.0 .2 .2 .1-1.8 .1-1.1 .1-1.4 .2 1.0 .1-2.6 .1 3.7 .1-1.3 .2-5.5 .1-1.9 .1 5.6 .1 .7 .2 .5 .1 4.5 .1-5.5 .1-1.8 .2 4.7 .1 1.7 .1 1.8 .1-7.5 .2 2.2 .1-.5 .1 5.4 .1-2.2 .2-1.9 .1 1.9 .1-3.0 .1 .4 .2 .5 .1-1.3 .1 .7 .1 1.7 .2-.3 .1 3.4 .1-1.7 .2-2.6 .1-5.8 .1 1.9 .1 2.7 .2 .3 .1-2.5 .1 2.5 .1 1.4 .2-2.0 .1 1.3 .1 .1 .1-1.6 .2-.4 .1 1.9 .1 1.0 .1-3.4 .2-2.6 .1 2.8 .1 3.9 .1-5.5 .2 6.5 .1-3.9 .1 1.9 .1-2.3 .2 3.4 .1-1.3 .1 .8 .1-5.8 .2 6.6 .1-5.9 .1 3.3 .1 2.1 .2-1.8 .1 1.7 .1-.8 .1-.2 .2-2.1 .1 4.3 .1 .3 .2-4.0 .1-.8 .1 2.6 .1-2.3 .2 2.1 .1 1.6 .1-.3 .1 1.8 .2-2.3 .1-3.5 .1 .5 .1 3.1 .2 3.1 .1-5.1 .1-1.2 .1 5.1 .2-3.4 .1 1.9 .1 .8 .1-4.5 .2 1.3 .1-.4 .1 2.4 .1 .2 .2-2.5 .1 2.3 .1-5.0 .1 4.6 .2 .0 .1-.8 .1-3.1 .1 2.9 .2-2.1 .1 5.4 .1-3.7 .1 .2 .2 .2 .1 1.3" fill="none" stroke="#0000ff" stroke-opacity="0.75" stroke-width="0.6"/><path d="M299.0 680.5l.1 1.0 .2-3.2 .1 4.4 .1-3.4 .1 2.6 .2-1.1 .1 1.8 .1-2.4 .1-3.1 .2 .7 .1 2.0 .1 3.6 .1-4.0 .2 1.0 .1 2.7 .1-4.1 .1 2.0 .2-.1 .1-2.0 .1 1.9 .1 1.9 .2 .0 .1-3.2 .1 7.6 .1-6.0 .2-1.5 .1-1.0 .1-.7 .1 4.4 .2-9.0 .1 6.6 .1-3.0 .2 3.0 .1 .3 .1-3.2 .1 .8 .2 5.7 .1-4.6 .1 1.4 .1-.8 .2 2.9 .1 1.1 .1-.8 .1-1.0 .2 .1 .1-4.7 .1 6.7 .1-5.0 .2-.9 .1 1.4 .1-1.2 .1 3.3 .2 .9 .1 1.5 .1-3.8 .1-1.4 .2 .9 .1-2.5 .1 1.2 .1 7.8 .2-7.9 .1 .9 .1 3.1 .2-1.1 .1 1.5 .1-4.7 .1-.6 .2 6.9 .1-5.8 .1 1.7 .1 .9 .2-6.1 .1 4.9 .1-1.3 .1 3.4 .2-2.4 .1-5.8 .1 9.0 .1-9.9 .2 6.4 .1-.9 .1 .3 .1 1.7 .2 2.9 .1-5.4 .1 .8 .1 4.0 .2-.7 .1 .6 .1-1.1 .1-1.7 .2-.7 .1 .0 .1 4.0 .1 1.7 .2 1.4 .1-8.7 .1 2.3 .2 .7 .1-.5 .1-2.7 .1 9.3 .2-1.9 .1-4.7 .1-.8 .1 1.3 .2-3.3 .1 2.4 .1 3.0 .1 2.4 .2-2.1 .1 1.1 .1-6.3 .1-5.8 .2 12.2 .1-3.1 .1-.7 .1 4.5 .2-6.8 .1 .0 .1 .6 .1 6.0 .2-1.7 .1-6.9 .1 8.6 .1-4.1 .2 1.1 .1-3.0 .1 6.5 .2-3.5 .1 2.1 .1-5.6 .1 4.1 .2-1.5 .1-.7 .1-1.4 .1 .3 .2-1.1 .1 1.2 .1 1.5 .1 1.3 .2-4.8 .1 1.2 .1 .9 .1-2.3 .2 3.1 .1 .0 .1 .2 .1 1.3 .2 1.2 .1-.3 .1-1.2 .1 .7 .2-3.0 .1-.3 .1 3.4 .1-.2 .2 3.5 .1-5.2" fill="none" stroke="#0000ff" stroke-opacity="0.75" stroke-width="0.6"/><path d="M317.0 678.3l.1 2.6 .2-1.5 .1-.9 .1 4.7 .1 1.2 .2-3.3 .1-2.2 .1 2.0 .1-.7 .2-2.9 .1 4.8 .1-1.0 .1 1.9 .2-3.9 .1 1.2 .1-.2 .1-3.6 .2 9.4 .1-10.2 .1 2.1 .1 1.7 .2-2.7 .1 4.5 .1-2.0 .1 1.2 .2 .4 .1-.4 .1 .1 .2-.6 .1 1.3 .1 .9 .1-2.5 .2-.4 .1 .1 .1 1.7 .1-1.7 .2 .0 .1-2.7 .1 8.4 .1-7.8 .2 7.2 .1-2.2 .1 .6 .1-1.9 .2 .6 .1-.5 .1 .8 .1 .6 .2 1.8 .1-6.5 .1 3.8 .2 2.9 .1-.5 .1-6.3 .1 3.5 .2-.1 .1-.1 .1-6.5 .1 8.2 .2-6.5 .1 9.9 .1-4.0 .1-2.0 .2 2.0 .1-1.3 .1-1.8 .1 1.2 .2 1.1 .1-3.0 .1 4.0 .1 1.0 .2-.1 .1 .3 .1 .3 .1-1.5 .2 1.5 .1-3.2 .1 .9 .2 2.6 .1 1.3 .1-5.9 .1-2.8 .2 9.2 .1-2.5 .1 1.6 .1-2.3 .2-1.7 .1-2.1 .1-.8 .1 5.9 .2-1.1 .1-1.7 .1-3.5 .1 1.5 .2-.2 .1 .7 .1-6.1 .1 7.4 .2 3.1 .1-4.9 .1 1.3 .2 .6 .1-3.0 .1 3.3 .1-2.8 .2 .8 .1 1.6 .1-.7 .1 .4 .2-2.3 .1 3.7 .1-4.1 .1 4.3 .2-2.9 .1-1.6 .1 2.5 .1-2.2 .2 1.2 .1 .8 .1 2.0 .1 .1 .2-.7 .1-1.7 .1-2.6 .1 2.8 .2-.2 .1 .4" fill="none" stroke="#0000ff" stroke-opacity="0.75" stroke-width="0.6"/><path d="M518.0 679.3l.1 .0 .2 2.9 .1-4.7 .1 3.0 .1 2.7 .2-4.5 .1-.4 .1 1.6 .1-.2 .2 1.3 .1 2.5 .1-3.3 .1 1.5 .2-2.6 .1 .2 .1 1.8 .1-2.2 .2 4.4 .1-3.8 .1 .6 .1-2.1 .2 1.4 .1-1.4 .1 1.3 .1-3.2 .2 4.3 .1 4.4 .1-9.0 .2 9.0 .1-4.7 .1 2.6 .1-4.8 .2 7.8 .1-8.0 .1 2.5 .1 4.3 .2-7.4 .1-2.9 .1 6.1 .1-1.9 .2-.6 .1 .2 .1-1.6 .1 7.9 .2-.5 .1-7.1 .1 3.4 .1-.9 .2 4.3 .1-5.4 .1 6.9 .2-4.5 .1-2.3 .1 2.0 .1-1.4 .2 8.1 .1-6.0 .1-1.9 .1 1.7 .2 4.0 .1-7.1 .1-2.1 .1 8.7 .2-2.0 .1-3.1 .1 1.1 .1 3.4 .2-11.1 .1 11.6 .1-4.2 .1 2.5 .2-2.1 .1 9.0 .1-10.7 .1 5.0 .2-10.6 .1 7.5 .1 2.2 .2-6.6 .1-1.4 .1 6.0 .1 2.5 .2 .5 .1-5.2 .1 2.9 .1-4.9 .2 8.7 .1-6.3 .1 5.0 .1-4.2 .2-.2 .1 5.2 .1-6.6 .1 5.7 .2-4.3 .1-1.4 .1 .2 .1 5.0 .2-3.1 .1-.7 .1-2.9 .2 6.7 .1-.3 .1-1.8 .1 1.1 .2-9.8 .1 6.6 .1 1.7 .1-.1 .2-1.7 .1 2.0 .1-2.3 .1 .2 .2-1.4 .1 3.2 .1-2.0 .1 .5 .2 4.4 .1-3.3 .1 .0 .1-3.4 .2 2.3 .1 3.4 .1-1.0 .1-1.1 .2-.5 .1 .5" fill="none" stroke="#0000ff" stroke-opacity="0.75" stroke-width="0.6"/><path d="M548.0 681.3l.1-1.6 .2-5.0 .1 10.2 .1-1.9 .1-3.0 .2 3.7 .1-6.3 .1 6.0 .1-2.6 .2 1.7 .1-2.9 .1 1.2 .1 1.0 .2 1.1 .1-1.3 .1-.1 .1-2.5 .2 5.6 .1-3.7 .1-1.1 .1-.2 .2-2.2 .1 1.2 .1-2.0 .1 4.3 .2-.7 .1 .8 .1-3.8 .1 2.1 .2-.6 .1 4.3 .1-6.5 .1-.1 .2 7.4 .1-2.4 .1-5.2 .1 7.8 .2 .4 .1-.9 .1-8.8 .2 6.0 .1-2.7 .1 1.7 .1-3.7 .2 9.3 .1-6.9 .1 2.8 .1 1.5 .2-.5 .1-.6 .1-2.3 .1 1.7 .2-1.3 .1-6.0 .1 9.7 .1-4.9 .2 .3 .1 .3 .1-2.9 .1 .5 .2-1.8 .1 6.9 .1 2.3 .1-3.5 .2-3.8 .1 7.7 .1-5.1 .1-4.1 .2-.9 .1 6.6 .1 4.0 .1-5.8 .2-.9 .1 1.2 .1-1.9 .1 1.0 .2 2.6 .1-3.2 .1 5.4 .2-6.2 .1 5.5 .1-1.2 .1-2.4 .2 .3 .1-.1 .1 6.7 .1-8.3 .2 6.7 .1-.6 .1-4.6 .1 6.6 .2-13.4 .1 8.8 .1-.4 .1-.4 .2 2.8 .1-4.2 .1 .8 .1 4.4 .2-4.2 .1-3.1 .1 5.4 .1-2.2 .2-1.6 .1 3.7 .1-4.4 .1-.7 .2 2.4 .1 .2 .1 .9 .1-4.2 .2 9.6 .1-3.4 .1-1.8 .2 .3 .1-8.9 .1 11.2 .1-6.3 .2 4.9 .1-5.5 .1 7.0 .1-4.8 .2 1.0 .1 5.5 .1-1.7 .1-7.4 .2 2.1 .1 2.8 .1-1.3 .1 3.2 .2-4.6 .1-3.6 .1 2.9 .1 2.2 .2 2.2 .1 .6 .1 1.5 .1-3.0 .2-1.3 .1 2.7 .1-2.4 .1-1.1 .2 .0 .1 4.0 .1 1.6 .1-.5 .2-8.2 .1 7.5 .1-6.1 .1 2.1 .2 2.6 .1-5.3 .1 .4 .2 1.3 .1 6.5 .1-1.6 .1-5.3 .2 2.7 .1 .0 .1 .5 .1-2.7 .2 5.6 .1-4.7 .1 3.1 .1-6.4 .2 5.3 .1-.7 .1 3.1 .1-9.9 .2 7.9 .1 .6 .1-2.7 .1 3.9 .2 1.9 .1-3.0 .1-.2 .1 1.3 .2-2.2 .1 1.9 .1-1.5 .1-3.0 .2-.9 .1 5.2 .1-1.3 .1-3.0 .2 1.7 .1 3.3 .1-7.3 .1 1.8 .2 3.7 .1 .3" fill="none" stroke="#0000ff" stroke-opacity="0.75" stroke-width="0.6"/><path d="M565.0 677.8l.1 .3 .2 2.7 .1 2.8 .1-3.2 .1-5.3 .2 7.7 .1-2.5 .1-1.0 .1-1.6 .2 5.5 .1-2.2 .1 .4 .1-.2 .2 .2 .1 1.0 .1 2.2 .1-6.8 .2 2.4 .1-.9 .1 5.3 .1-4.9 .2-3.4 .1 4.0 .1-1.8 .1 .0 .2 .7 .1-2.3 .1-1.7 .2 10.4 .1-5.6 .1-2.2 .1 4.3 .2 2.0 .1-8.6 .1 3.6 .1 2.1 .2-3.2 .1 3.7 .1-4.9 .1 1.7 .2 1.5 .1 1.6 .1-1.1 .1-2.1 .2 .9 .1-5.3 .1 12.8 .1-7.7 .2 .4 .1 1.7 .1 .9 .2-.7 .1-3.1 .1-3.1 .1 4.6 .2-1.9 .1 .7 .1 1.8 .1 .7 .2 3.3 .1-4.5 .1-5.0 .1 7.3 .2 1.1 .1-8.1 .1 7.1 .1-1.3 .2-2.3 .1 2.2 .1 .7 .1 .6 .2 1.8 .1-3.7 .1 .1 .1 7.4 .2-10.7 .1 2.4 .1-.2 .2 3.4 .1 1.0 .1-7.3 .1 7.7 .2-7.3 .1 11.3 .1-9.7 .1 5.2 .2-4.0 .1 2.8 .1-4.2 .1 2.6 .2-.4 .1 .2 .1 2.0 .1-3.4 .2 .3 .1-2.7 .1 3.2 .1-.9 .2 3.6 .1-.5 .1-3.7 .2 3.0 .1 2.3 .1-4.0 .1-2.4 .2 9.2 .1-4.8 .1 .3 .1 4.5 .2-8.2 .1 2.7 .1-5.3 .1 5.8 .2-.3 .1-2.8 .1-.1 .1 1.6 .2-.2 .1 4.3 .1-4.3 .1 .2 .2 .0 .1-3.3 .1 2.6 .1-2.0 .2 3.4 .1-5.2" fill="none" stroke="#0000ff" stroke-opacity="0.75" stroke-width="0.6"/><path d="M588.0 677.8l.1 3.2 .2-5.5 .1 1.3 .1 5.9 .1-5.4 .2 3.1 .1 .7 .1-3.2 .1-1.6 .2 7.7 .1-5.0 .1 2.6 .1-3.1 .2 2.8 .1-4.1 .1-.2 .1 .8 .2 1.0 .1 .0 .1 .7 .1 2.0 .2-2.5 .1 3.8 .1-4.1 .1 3.4 .2 1.7 .1 1.2 .1-9.9 .1 9.9 .2-9.3 .1 8.5 .1-3.9 .1 1.0 .2-3.5 .1 5.2 .1-.7 .1-3.5 .2-.2 .1 4.2 .1 .5 .2-.7 .1-3.3 .1 1.1 .1 2.7 .2-.3 .1 .9 .1-2.9 .1-2.5 .2 3.0 .1 .5 .1-3.0 .1 3.0 .2-4.0 .1 3.4 .1-2.7 .1 8.5 .2-2.8 .1-3.0 .1-5.0 .1 .2 .2 6.2 .1-2.7 .1 1.5 .1-6.2 .2 .2 .1 5.4 .1-1.1 .1-3.8 .2 1.8 .1 5.3 .1-4.1 .1 3.4 .2 3.7 .1-4.5 .1-.7 .1-2.5 .2 6.3 .1-9.2 .1 1.1 .2 3.8 .1-5.1 .1 8.6 .1-5.6 .2 4.0 .1-2.9 .1 .2 .1 .9 .2-7.0 .1 3.1 .1 2.2 .1 9.6 .2-5.0 .1-.3 .1-6.3 .1 6.9 .2 1.2 .1-1.7 .1 6.6 .1-14.1 .2 .9 .1 2.9 .1-2.5 .1 3.7 .2 1.6 .1-1.9 .1 .4 .1 1.1 .2 1.3 .1-5.0 .1-.1 .1 6.5 .2-5.3 .1-1.7 .1 3.9 .2-2.2 .1 1.6 .1-.7 .1 2.4 .2 1.0 .1-5.9 .1-1.3 .1 9.4 .2-7.6 .1-2.9 .1-1.1 .1 6.1 .2-2.0 .1-3.8 .1 2.9 .1-.4 .2 6.7 .1-2.5 .1-.8 .1-4.0 .2 3.5 .1 2.6 .1-1.6 .1 2.8 .2-3.0 .1 1.9 .1-.8 .1-3.1 .2 5.8 .1-3.0 .1 1.4 .1-5.6 .2 .0 .1 2.6 .1-1.8 .1 4.1 .2-.6 .1 2.3 .1-1.8 .2-4.8 .1 5.8 .1-4.4 .1-.3 .2 2.2 .1-.2 .1 2.8 .1 4.8 .2-6.4 .1 2.7 .1-4.4 .1 1.4 .2-2.2 .1 .3 .1 4.5 .1-2.3 .2 .0 .1-3.2 .1 6.3 .1-4.7 .2-1.2 .1 1.6 .1 1.7 .1 .2 .2 1.7 .1-6.1 .1 1.5 .1 4.8 .2 1.7 .1-6.9 .1 1.2 .1-3.4 .2 1.7 .1-.1 .1 1.8 .1-2.5 .2 4.9 .1-2.3" fill="none" stroke="#0000ff" stroke-opacity="0.75" stroke-width="0.6"/><path d="M627.0 679.8l.1 2.8 .1-2.9 .0-2.3 .1 3.0 .1 5.3 .1-5.1 .1 1.1 .0-1.8 .1-.1 .1 1.9 .1-8.2 .1 3.6 .0 1.7 .1 .9 .1 4.6 .1 2.7 .1-4.9 .0-.6 .1 .8 .1 2.3 .1-7.0 .1 1.4 .0 1.8 .1 .4 .1-6.5 .1 6.9 .1-6.0 .0 7.1 .1 .3 .1-9.7 .1 8.6 .1-.9 .0-2.6 .1 5.0 .1 3.5 .1-4.9 .1-5.3 .0-1.2 .1 .9 .1 .4 .1 7.5 .1-2.9 .0-1.1 .1 3.2 .1-3.1 .1 .1 .1-3.2 .0 .7 .1 2.5 .1-4.6 .1 10.8 .1-5.9 .0-2.6 .1 5.9 .1-7.9 .1 8.3 .1-3.8 .0 7.1 .1-9.7 .1 .6 .1-1.8 .1-1.6 .0 6.1 .1-5.4 .1 5.6 .1-3.9 .1 7.0 .0-15.0 .1 12.4 .1-1.6 .1-.2 .1-2.6 .0 9.9 .1-9.0 .1 3.5 .1-2.9 .1-.4 .0 1.9 .1 2.4 .1-7.4 .1 2.7 .1-3.9 .0 7.5 .1-5.2 .1 .5 .1 5.7 .1-2.7 .0 1.7 .1-2.2 .1 2.2 .1-1.3 .1-4.8 .0 5.3 .1-2.2 .1 .4" fill="none" stroke="#0000ff" stroke-opacity="0.75" stroke-width="0.6"/><path d="M85.5 667.6V694.4M139.5 672.0V688.0M177.5 675.0V703.0M192.5 673.4V701.7M216.5 672.0V703.8M238.5 668.4V733.6M284.5 669.7V693.7M295.5 669.0V690.0M309.5 664.0V768.7M325.5 670.0V691.0M334.5 663.3V816.0M400.5 668.4V735.3M434.5 675.0V702.5M443.5 671.7V703.7M452.5 675.0V696.2M471.5 675.0V702.0M526.5 664.0V691.0M560.5 664.0V690.4M573.5 670.0V690.0M600.5 668.4V694.4" stroke="#0000ff" stroke-opacity="0.55" stroke-width="0.9" fill="none"/><path d="M632.5 621.0V713.5" stroke="#0000ff" stroke-opacity="0.50" stroke-width="1" fill="none"/><path d="M633.5 661.7V698.0" stroke="#0000ff" stroke-opacity="0.85" stroke-width="1" fill="none"/>
<text x="32.5" y="833" font-size="12.2" text-anchor="middle">00:00</text>
<text x="107.875" y="833" font-size="12.2" text-anchor="middle">03:00</text>
<text x="183.25" y="833" font-size="12.2" text-anchor="middle">06:00</text>
<text x="258.625" y="833" font-size="12.2" text-anchor="middle">09:00</text>
<text x="334.0" y="833" font-size="12.2" text-anchor="middle">12:00</text>
<text x="409.375" y="833" font-size="12.2" text-anchor="middle">15:00</text>
<text x="484.75" y="833" font-size="12.2" text-anchor="middle">18:00</text>
<text x="560.125" y="833" font-size="12.2" text-anchor="middle">21:00</text>
<text x="635.5" y="833" font-size="12.2" text-anchor="middle">00:00</text>
<text x="28.7" y="822.4" font-size="12.2" text-anchor="end">-4</text>
<text x="28.7" y="788.4" font-size="12.2" text-anchor="end">-3</text>
<text x="28.7" y="754.4" font-size="12.2" text-anchor="end">-2</text>
<text x="28.7" y="720.4" font-size="12.2" text-anchor="end">-1</text>
<text x="28.7" y="686.4" font-size="12.2" text-anchor="end">0</text>
<text x="28.7" y="652.4" font-size="12.2" text-anchor="end">1</text>
<text x="28.7" y="618.4" font-size="12.2" text-anchor="end">2</text>
<text class="b" font-size="12.3" text-anchor="middle" transform="translate(10.3 716.0) rotate(-90)">Z (nT)</text>
<rect x="826" y="46" width="603" height="204" fill="#00008f"/>
<defs><linearGradient id="g0_0" x1="0" y1="0" x2="0" y2="1"><stop offset="0.008" stop-color="#000093"/><stop offset="0.346" stop-color="#000eae"/><stop offset="0.992" stop-color="#001ecd"/></linearGradient><linearGradient id="g0_1" x1="0" y1="0" x2="0" y2="1"><stop offset="0.007" stop-color="#000094"/><stop offset="0.148" stop-color="#0007c8"/><stop offset="0.246" stop-color="#0034e7"/><stop offset="0.303" stop-color="#0057f0"/><stop offset="0.993" stop-color="#0191f5"/></linearGradient><linearGradient id="g0_2" x1="0" y1="0" x2="0" y2="1"><stop offset="0.007" stop-color="#000095"/><stop offset="0.118" stop-color="#0006ef"/><stop offset="0.271" stop-color="#0093fe"/><stop offset="0.312" stop-color="#00b7ff"/><stop offset="0.993" stop-color="#04e9fb"/></linearGradient><linearGradient id="g0_3" x1="0" y1="0" x2="0" y2="1"><stop offset="0.007" stop-color="#000094"/><stop offset="0.118" stop-color="#0004e9"/><stop offset="0.215" stop-color="#0053f8"/><stop offset="0.312" stop-color="#00acfd"/><stop offset="0.993" stop-color="#02dffd"/></linearGradient><linearGradient id="g0_4" x1="0" y1="0" x2="0" y2="1"><stop offset="0.007" stop-color="#000095"/><stop offset="0.164" stop-color="#000ac3"/><stop offset="0.307" stop-color="#0042e7"/><stop offset="0.993" stop-color="#0076f3"/></linearGradient><linearGradient id="g0_5" x1="0" y1="0" x2="0" y2="1"><stop offset="0.008" stop-color="#000093"/><stop offset="0.992" stop-color="#0012b7"/></linearGradient><linearGradient id="g0_6" x1="0" y1="0" x2="0" y2="1"><stop offset="0.005" stop-color="#000093"/><stop offset="0.310" stop-color="#000abc"/><stop offset="0.767" stop-color="#0007c4"/><stop offset="0.995" stop-color="#000093"/></linearGradient><linearGradient id="g0_7" x1="0" y1="0" x2="0" y2="1"><stop offset="0.005" stop-color="#000096"/><stop offset="0.171" stop-color="#0006ea"/><stop offset="0.282" stop-color="#0036f4"/><stop offset="0.736" stop-color="#0038f7"/><stop offset="0.847" stop-color="#0001ea"/><stop offset="0.995" stop-color="#000097"/></linearGradient><linearGradient id="g0_8" x1="0" y1="0" x2="0" y2="1"><stop offset="0.005" stop-color="#000096"/><stop offset="0.171" stop-color="#0006ea"/><stop offset="0.282" stop-color="#0036f4"/><stop offset="0.736" stop-color="#0038f7"/><stop offset="0.847" stop-color="#0001ea"/><stop offset="0.995" stop-color="#000097"/></linearGradient><linearGradient id="g0_9" x1="0" y1="0" x2="0" y2="1"><stop offset="0.005" stop-color="#000093"/><stop offset="0.310" stop-color="#000abc"/><stop offset="0.767" stop-color="#0007c4"/><stop offset="0.995" stop-color="#000093"/></linearGradient><linearGradient id="g0_10" x1="0" y1="0" x2="0" y2="1"><stop offset="0.004" stop-color="#000093"/><stop offset="0.754" stop-color="#000798"/><stop offset="0.996" stop-color="#000396"/></linearGradient><linearGradient id="g0_11" x1="0" y1="0" x2="0" y2="1"><stop offset="0.002" stop-color="#00079b"/><stop offset="0.346" stop-color="#021a9e"/><stop offset="0.453" stop-color="#0d2ca6"/><stop offset="0.537" stop-color="#1840ae"/><stop offset="0.782" stop-color="#1c52b1"/><stop offset="0.998" stop-color="#0632bb"/></linearGradient><linearGradient id="g0_12" x1="0" y1="0" x2="0" y2="1"><stop offset="0.002" stop-color="#002ed5"/><stop offset="0.243" stop-color="#005adf"/><stop offset="0.331" stop-color="#0990e5"/><stop offset="0.429" stop-color="#3dc7b6"/><stop offset="0.517" stop-color="#8dde6a"/><stop offset="0.650" stop-color="#a8b24f"/><stop offset="0.767" stop-color="#aab64e"/><stop offset="0.890" stop-color="#7adc7d"/><stop offset="0.998" stop-color="#25cfd0"/></linearGradient><linearGradient id="g0_13" x1="0" y1="0" x2="0" y2="1"><stop offset="0.002" stop-color="#003fe1"/><stop offset="0.243" stop-color="#0071eb"/><stop offset="0.321" stop-color="#0ca8e5"/><stop offset="0.390" stop-color="#31c8c2"/><stop offset="0.463" stop-color="#71df86"/><stop offset="0.512" stop-color="#a7e653"/><stop offset="0.542" stop-color="#d4db2b"/><stop offset="0.615" stop-color="#f4700b"/><stop offset="0.640" stop-color="#f4550b"/><stop offset="0.757" stop-color="#f5460a"/><stop offset="0.855" stop-color="#e5d01a"/><stop offset="0.900" stop-color="#ccfb33"/><stop offset="0.998" stop-color="#36e1c4"/></linearGradient><linearGradient id="g0_14" x1="0" y1="0" x2="0" y2="1"><stop offset="0.002" stop-color="#000c9e"/><stop offset="0.292" stop-color="#001ca7"/><stop offset="0.390" stop-color="#092eab"/><stop offset="0.468" stop-color="#164eb1"/><stop offset="0.512" stop-color="#226ab4"/><stop offset="0.537" stop-color="#4aa0a4"/><stop offset="0.551" stop-color="#6cbe87"/><stop offset="0.566" stop-color="#8fca66"/><stop offset="0.591" stop-color="#c8b632"/><stop offset="0.620" stop-color="#e5821a"/><stop offset="0.635" stop-color="#ed6512"/><stop offset="0.757" stop-color="#fa3804"/><stop offset="0.821" stop-color="#dcb723"/><stop offset="0.860" stop-color="#a5d854"/><stop offset="0.895" stop-color="#6ed688"/><stop offset="0.944" stop-color="#2aa5c5"/><stop offset="0.978" stop-color="#1075cf"/><stop offset="0.998" stop-color="#0a58cc"/></linearGradient><linearGradient id="g0_15" x1="0" y1="0" x2="0" y2="1"><stop offset="0.004" stop-color="#000092"/><stop offset="0.286" stop-color="#02119a"/><stop offset="0.330" stop-color="#0c219f"/><stop offset="0.366" stop-color="#1a43ae"/><stop offset="0.395" stop-color="#2b6eb0"/><stop offset="0.424" stop-color="#4d97a1"/><stop offset="0.446" stop-color="#71b182"/><stop offset="0.467" stop-color="#86b66e"/><stop offset="0.620" stop-color="#c4a437"/><stop offset="0.641" stop-color="#c6a435"/><stop offset="0.685" stop-color="#8bc16b"/><stop offset="0.728" stop-color="#51aaa0"/><stop offset="0.750" stop-color="#3690b7"/><stop offset="0.801" stop-color="#1a5ab7"/><stop offset="0.880" stop-color="#0823ab"/><stop offset="0.960" stop-color="#00129e"/><stop offset="0.996" stop-color="#000b9b"/></linearGradient><linearGradient id="g0_16" x1="0" y1="0" x2="0" y2="1"><stop offset="0.006" stop-color="#000093"/><stop offset="0.173" stop-color="#0b1e9a"/><stop offset="0.288" stop-color="#173aac"/><stop offset="0.494" stop-color="#2669b5"/><stop offset="0.545" stop-color="#2970b1"/><stop offset="0.583" stop-color="#1d58b3"/><stop offset="0.673" stop-color="#0d24a7"/><stop offset="0.763" stop-color="#02149b"/><stop offset="0.994" stop-color="#000093"/></linearGradient><linearGradient id="g0_17" x1="0" y1="0" x2="0" y2="1"><stop offset="0.013" stop-color="#000094"/><stop offset="0.731" stop-color="#010f9b"/><stop offset="0.987" stop-color="#000093"/></linearGradient><linearGradient id="g0_18" x1="0" y1="0" x2="0" y2="1"><stop offset="0.008" stop-color="#000093"/><stop offset="0.992" stop-color="#00059b"/></linearGradient><linearGradient id="g0_19" x1="0" y1="0" x2="0" y2="1"><stop offset="0.006" stop-color="#000093"/><stop offset="0.315" stop-color="#000fbb"/><stop offset="0.458" stop-color="#0022cb"/><stop offset="0.994" stop-color="#0032d6"/></linearGradient><linearGradient id="g0_20" x1="0" y1="0" x2="0" y2="1"><stop offset="0.006" stop-color="#000096"/><stop offset="0.167" stop-color="#0005e0"/><stop offset="0.316" stop-color="#004cf3"/><stop offset="0.431" stop-color="#0092f7"/><stop offset="0.994" stop-color="#00aafa"/></linearGradient><linearGradient id="g0_21" x1="0" y1="0" x2="0" y2="1"><stop offset="0.006" stop-color="#000093"/><stop offset="0.165" stop-color="#0007f0"/><stop offset="0.392" stop-color="#009cff"/><stop offset="0.438" stop-color="#00b9ff"/><stop offset="0.994" stop-color="#00d0ff"/></linearGradient><linearGradient id="g0_22" x1="0" y1="0" x2="0" y2="1"><stop offset="0.006" stop-color="#000093"/><stop offset="0.201" stop-color="#0007cc"/><stop offset="0.362" stop-color="#0040ea"/><stop offset="0.443" stop-color="#0062f0"/><stop offset="0.994" stop-color="#007cf4"/></linearGradient><linearGradient id="g0_23" x1="0" y1="0" x2="0" y2="1"><stop offset="0.006" stop-color="#000093"/><stop offset="0.569" stop-color="#0010ad"/><stop offset="0.994" stop-color="#0013b9"/></linearGradient><linearGradient id="g0_24" x1="0" y1="0" x2="0" y2="1"><stop offset="0.008" stop-color="#000092"/><stop offset="0.992" stop-color="#00009a"/></linearGradient><linearGradient id="g0_25" x1="0" y1="0" x2="0" y2="1"><stop offset="0.005" stop-color="#000093"/><stop offset="0.995" stop-color="#0000cf"/></linearGradient><linearGradient id="g0_26" x1="0" y1="0" x2="0" y2="1"><stop offset="0.005" stop-color="#000093"/><stop offset="0.995" stop-color="#0002f2"/></linearGradient><linearGradient id="g0_27" x1="0" y1="0" x2="0" y2="1"><stop offset="0.005" stop-color="#000093"/><stop offset="0.995" stop-color="#0000cf"/></linearGradient><linearGradient id="g0_28" x1="0" y1="0" x2="0" y2="1"><stop offset="0.008" stop-color="#000092"/><stop offset="0.992" stop-color="#00009a"/></linearGradient><linearGradient id="g0_29" x1="0" y1="0" x2="0" y2="1"><stop offset="0.004" stop-color="#000093"/><stop offset="0.996" stop-color="#0008a2"/></linearGradient><linearGradient id="g0_30" x1="0" y1="0" x2="0" y2="1"><stop offset="0.004" stop-color="#000093"/><stop offset="0.178" stop-color="#000dbd"/><stop offset="0.277" stop-color="#0023cd"/><stop offset="0.693" stop-color="#0044e4"/><stop offset="0.996" stop-color="#003eea"/></linearGradient><linearGradient id="g0_31" x1="0" y1="0" x2="0" y2="1"><stop offset="0.004" stop-color="#000098"/><stop offset="0.102" stop-color="#0005e8"/><stop offset="0.192" stop-color="#004ff5"/><stop offset="0.252" stop-color="#0087f7"/><stop offset="0.650" stop-color="#00b9fd"/><stop offset="0.996" stop-color="#0099fe"/></linearGradient><linearGradient id="g0_32" x1="0" y1="0" x2="0" y2="1"><stop offset="0.004" stop-color="#000098"/><stop offset="0.102" stop-color="#0005e8"/><stop offset="0.192" stop-color="#004ff5"/><stop offset="0.252" stop-color="#0087f7"/><stop offset="0.650" stop-color="#00b9fd"/><stop offset="0.996" stop-color="#0099fe"/></linearGradient><linearGradient id="g0_33" x1="0" y1="0" x2="0" y2="1"><stop offset="0.004" stop-color="#000093"/><stop offset="0.178" stop-color="#000dbd"/><stop offset="0.277" stop-color="#0023cd"/><stop offset="0.693" stop-color="#0044e4"/><stop offset="0.996" stop-color="#003eea"/></linearGradient><linearGradient id="g0_34" x1="0" y1="0" x2="0" y2="1"><stop offset="0.004" stop-color="#000093"/><stop offset="0.996" stop-color="#0008a2"/></linearGradient><linearGradient id="g0_35" x1="0" y1="0" x2="0" y2="1"><stop offset="0.005" stop-color="#000093"/><stop offset="0.595" stop-color="#0000a8"/><stop offset="0.995" stop-color="#000093"/></linearGradient><linearGradient id="g0_36" x1="0" y1="0" x2="0" y2="1"><stop offset="0.005" stop-color="#000093"/><stop offset="0.561" stop-color="#0001e6"/><stop offset="0.995" stop-color="#000094"/></linearGradient><linearGradient id="g0_37" x1="0" y1="0" x2="0" y2="1"><stop offset="0.005" stop-color="#000093"/><stop offset="0.561" stop-color="#0001e6"/><stop offset="0.995" stop-color="#000094"/></linearGradient><linearGradient id="g0_38" x1="0" y1="0" x2="0" y2="1"><stop offset="0.005" stop-color="#000093"/><stop offset="0.595" stop-color="#0000a8"/><stop offset="0.995" stop-color="#000093"/></linearGradient><linearGradient id="g0_39" x1="0" y1="0" x2="0" y2="1"><stop offset="0.002" stop-color="#0d5cba"/><stop offset="0.998" stop-color="#0455c4"/></linearGradient><linearGradient id="g0_40" x1="0" y1="0" x2="0" y2="1"><stop offset="0.002" stop-color="#36aeb1"/><stop offset="0.998" stop-color="#10a9d8"/></linearGradient><linearGradient id="g0_41" x1="0" y1="0" x2="0" y2="1"><stop offset="0.002" stop-color="#0b239a"/><stop offset="0.998" stop-color="#0422a8"/></linearGradient><linearGradient id="g0_42" x1="0" y1="0" x2="0" y2="1"><stop offset="0.005" stop-color="#0000c2"/><stop offset="0.995" stop-color="#000093"/></linearGradient><linearGradient id="g0_43" x1="0" y1="0" x2="0" y2="1"><stop offset="0.005" stop-color="#0002e7"/><stop offset="0.995" stop-color="#000092"/></linearGradient><linearGradient id="g0_44" x1="0" y1="0" x2="0" y2="1"><stop offset="0.005" stop-color="#0000b4"/><stop offset="0.995" stop-color="#000092"/></linearGradient><linearGradient id="g0_45" x1="0" y1="0" x2="0" y2="1"><stop offset="0.012" stop-color="#00069b"/><stop offset="0.988" stop-color="#000093"/></linearGradient><linearGradient id="g0_46" x1="0" y1="0" x2="0" y2="1"><stop offset="0.010" stop-color="#0029d5"/><stop offset="0.559" stop-color="#0000c2"/><stop offset="0.990" stop-color="#000093"/></linearGradient><linearGradient id="g0_47" x1="0" y1="0" x2="0" y2="1"><stop offset="0.010" stop-color="#0046ea"/><stop offset="0.559" stop-color="#0000d9"/><stop offset="0.990" stop-color="#000094"/></linearGradient><linearGradient id="g0_48" x1="0" y1="0" x2="0" y2="1"><stop offset="0.010" stop-color="#000ea6"/><stop offset="0.990" stop-color="#000093"/></linearGradient><linearGradient id="g0_49" x1="0" y1="0" x2="0" y2="1"><stop offset="0.002" stop-color="#233091"/><stop offset="0.640" stop-color="#0e39a9"/><stop offset="0.998" stop-color="#0541c2"/></linearGradient><linearGradient id="g0_50" x1="0" y1="0" x2="0" y2="1"><stop offset="0.002" stop-color="#af813f"/><stop offset="0.272" stop-color="#91c35c"/><stop offset="0.723" stop-color="#38c9b8"/><stop offset="0.998" stop-color="#19c8dd"/></linearGradient><linearGradient id="g0_51" x1="0" y1="0" x2="0" y2="1"><stop offset="0.002" stop-color="#5c6b7f"/><stop offset="0.326" stop-color="#377da3"/><stop offset="0.850" stop-color="#0f84d1"/><stop offset="0.998" stop-color="#0785e0"/></linearGradient><linearGradient id="g0_52" x1="0" y1="0" x2="0" y2="1"><stop offset="0.002" stop-color="#0c1290"/><stop offset="0.998" stop-color="#00159e"/></linearGradient><linearGradient id="g0_53" x1="0" y1="0" x2="0" y2="1"><stop offset="0.010" stop-color="#000093"/><stop offset="0.990" stop-color="#0002c5"/></linearGradient><linearGradient id="g0_54" x1="0" y1="0" x2="0" y2="1"><stop offset="0.010" stop-color="#000094"/><stop offset="0.931" stop-color="#0007f2"/><stop offset="0.990" stop-color="#000cf3"/></linearGradient><linearGradient id="g0_55" x1="0" y1="0" x2="0" y2="1"><stop offset="0.010" stop-color="#000093"/><stop offset="0.990" stop-color="#0005e2"/></linearGradient><linearGradient id="g0_56" x1="0" y1="0" x2="0" y2="1"><stop offset="0.013" stop-color="#000093"/><stop offset="0.987" stop-color="#0000a2"/></linearGradient><linearGradient id="g0_57" x1="0" y1="0" x2="0" y2="1"><stop offset="0.004" stop-color="#000092"/><stop offset="0.996" stop-color="#0000ae"/></linearGradient><linearGradient id="g0_58" x1="0" y1="0" x2="0" y2="1"><stop offset="0.003" stop-color="#000093"/><stop offset="0.997" stop-color="#0001e9"/></linearGradient><linearGradient id="g0_59" x1="0" y1="0" x2="0" y2="1"><stop offset="0.003" stop-color="#000093"/><stop offset="0.997" stop-color="#0001e9"/></linearGradient><linearGradient id="g0_60" x1="0" y1="0" x2="0" y2="1"><stop offset="0.004" stop-color="#000092"/><stop offset="0.996" stop-color="#0000ae"/></linearGradient><linearGradient id="g0_61" x1="0" y1="0" x2="0" y2="1"><stop offset="0.003" stop-color="#000093"/><stop offset="0.284" stop-color="#031299"/><stop offset="0.503" stop-color="#121f94"/><stop offset="0.771" stop-color="#12219c"/><stop offset="0.846" stop-color="#06199b"/><stop offset="0.997" stop-color="#000c9c"/></linearGradient><linearGradient id="g0_62" x1="0" y1="0" x2="0" y2="1"><stop offset="0.002" stop-color="#0013a0"/><stop offset="0.326" stop-color="#0528af"/><stop offset="0.424" stop-color="#1146b6"/><stop offset="0.473" stop-color="#286dae"/><stop offset="0.532" stop-color="#528a95"/><stop offset="0.576" stop-color="#71987d"/><stop offset="0.816" stop-color="#8ea165"/><stop offset="0.855" stop-color="#62ab8d"/><stop offset="0.904" stop-color="#3092b8"/><stop offset="0.998" stop-color="#0b5ecf"/></linearGradient><linearGradient id="g0_63" x1="0" y1="0" x2="0" y2="1"><stop offset="0.002" stop-color="#0063e8"/><stop offset="0.277" stop-color="#06a2e6"/><stop offset="0.409" stop-color="#40d3b6"/><stop offset="0.473" stop-color="#afe24b"/><stop offset="0.517" stop-color="#d6b825"/><stop offset="0.571" stop-color="#e76018"/><stop offset="0.816" stop-color="#ef4a10"/><stop offset="0.875" stop-color="#d8cf27"/><stop offset="0.904" stop-color="#b3f04b"/><stop offset="0.998" stop-color="#39e0c2"/></linearGradient><linearGradient id="g0_64" x1="0" y1="0" x2="0" y2="1"><stop offset="0.002" stop-color="#003ad0"/><stop offset="0.272" stop-color="#0166da"/><stop offset="0.390" stop-color="#1c9ed2"/><stop offset="0.424" stop-color="#34b4bb"/><stop offset="0.488" stop-color="#8cd567"/><stop offset="0.542" stop-color="#c5a732"/><stop offset="0.571" stop-color="#d48025"/><stop offset="0.816" stop-color="#df6c1c"/><stop offset="0.870" stop-color="#bbcb3e"/><stop offset="0.900" stop-color="#8ee169"/><stop offset="0.963" stop-color="#43d3b2"/><stop offset="0.998" stop-color="#22c6d1"/></linearGradient><linearGradient id="g0_65" x1="0" y1="0" x2="0" y2="1"><stop offset="0.002" stop-color="#00089a"/><stop offset="0.395" stop-color="#041a9c"/><stop offset="0.468" stop-color="#122ba2"/><stop offset="0.537" stop-color="#2152a6"/><stop offset="0.596" stop-color="#3460a2"/><stop offset="0.816" stop-color="#447b99"/><stop offset="0.875" stop-color="#1f61b1"/><stop offset="0.939" stop-color="#0e3bb6"/><stop offset="0.998" stop-color="#052ab4"/></linearGradient><linearGradient id="g0_66" x1="0" y1="0" x2="0" y2="1"><stop offset="0.004" stop-color="#000093"/><stop offset="0.447" stop-color="#051397"/><stop offset="0.721" stop-color="#031199"/><stop offset="0.996" stop-color="#000295"/></linearGradient><linearGradient id="g0_67" x1="0" y1="0" x2="0" y2="1"><stop offset="0.004" stop-color="#000093"/><stop offset="0.163" stop-color="#0011a5"/><stop offset="0.321" stop-color="#0422af"/><stop offset="0.583" stop-color="#0b33b5"/><stop offset="0.877" stop-color="#011eb6"/><stop offset="0.996" stop-color="#0014ad"/></linearGradient><linearGradient id="g0_68" x1="0" y1="0" x2="0" y2="1"><stop offset="0.004" stop-color="#000098"/><stop offset="0.066" stop-color="#0006cd"/><stop offset="0.137" stop-color="#0045e7"/><stop offset="0.199" stop-color="#0593eb"/><stop offset="0.238" stop-color="#14aade"/><stop offset="0.535" stop-color="#5dd499"/><stop offset="0.809" stop-color="#1cbdd8"/><stop offset="0.980" stop-color="#0088f1"/><stop offset="0.996" stop-color="#0081f1"/></linearGradient><linearGradient id="g0_69" x1="0" y1="0" x2="0" y2="1"><stop offset="0.004" stop-color="#000095"/><stop offset="0.058" stop-color="#0002eb"/><stop offset="0.151" stop-color="#0096fd"/><stop offset="0.190" stop-color="#05d8fa"/><stop offset="0.229" stop-color="#38eac7"/><stop offset="0.539" stop-color="#b5fb4a"/><stop offset="0.818" stop-color="#48f2b7"/><stop offset="0.988" stop-color="#00d6ff"/><stop offset="0.996" stop-color="#00d2ff"/></linearGradient><linearGradient id="g0_70" x1="0" y1="0" x2="0" y2="1"><stop offset="0.004" stop-color="#000098"/><stop offset="0.066" stop-color="#0006cd"/><stop offset="0.137" stop-color="#0045e7"/><stop offset="0.199" stop-color="#0593eb"/><stop offset="0.238" stop-color="#14aade"/><stop offset="0.535" stop-color="#5dd499"/><stop offset="0.809" stop-color="#1cbdd8"/><stop offset="0.980" stop-color="#0088f1"/><stop offset="0.996" stop-color="#0081f1"/></linearGradient><linearGradient id="g0_71" x1="0" y1="0" x2="0" y2="1"><stop offset="0.004" stop-color="#000093"/><stop offset="0.163" stop-color="#0011a5"/><stop offset="0.321" stop-color="#0422af"/><stop offset="0.583" stop-color="#0b33b5"/><stop offset="0.877" stop-color="#011eb6"/><stop offset="0.996" stop-color="#0014ad"/></linearGradient><linearGradient id="g0_72" x1="0" y1="0" x2="0" y2="1"><stop offset="0.004" stop-color="#000093"/><stop offset="0.872" stop-color="#00049a"/><stop offset="0.996" stop-color="#000093"/></linearGradient><linearGradient id="g0_73" x1="0" y1="0" x2="0" y2="1"><stop offset="0.003" stop-color="#000093"/><stop offset="0.191" stop-color="#000abe"/><stop offset="0.392" stop-color="#0043d5"/><stop offset="0.788" stop-color="#004ddb"/><stop offset="0.892" stop-color="#000bc1"/><stop offset="0.990" stop-color="#000096"/><stop offset="0.997" stop-color="#000093"/></linearGradient><linearGradient id="g0_74" x1="0" y1="0" x2="0" y2="1"><stop offset="0.003" stop-color="#000097"/><stop offset="0.127" stop-color="#0006eb"/><stop offset="0.332" stop-color="#009ff9"/><stop offset="0.380" stop-color="#00bff9"/><stop offset="0.784" stop-color="#02ccf9"/><stop offset="0.921" stop-color="#000bee"/><stop offset="0.949" stop-color="#0000d3"/><stop offset="0.997" stop-color="#000094"/></linearGradient><linearGradient id="g0_75" x1="0" y1="0" x2="0" y2="1"><stop offset="0.003" stop-color="#000095"/><stop offset="0.140" stop-color="#0007e0"/><stop offset="0.291" stop-color="#0060f1"/><stop offset="0.380" stop-color="#0099f3"/><stop offset="0.784" stop-color="#00aaf4"/><stop offset="0.894" stop-color="#001eea"/><stop offset="0.935" stop-color="#0000d5"/><stop offset="0.997" stop-color="#000093"/></linearGradient><linearGradient id="g0_76" x1="0" y1="0" x2="0" y2="1"><stop offset="0.003" stop-color="#000093"/><stop offset="0.225" stop-color="#0011ae"/><stop offset="0.458" stop-color="#002fc6"/><stop offset="0.619" stop-color="#0537c6"/><stop offset="0.753" stop-color="#0418a4"/><stop offset="0.997" stop-color="#000499"/></linearGradient><linearGradient id="g0_77" x1="0" y1="0" x2="0" y2="1"><stop offset="0.003" stop-color="#000094"/><stop offset="0.120" stop-color="#000db8"/><stop offset="0.236" stop-color="#0541cc"/><stop offset="0.346" stop-color="#2174c0"/><stop offset="0.421" stop-color="#3285b5"/><stop offset="0.599" stop-color="#4294ae"/><stop offset="0.668" stop-color="#4398ac"/><stop offset="0.771" stop-color="#1271ce"/><stop offset="0.846" stop-color="#0853d2"/><stop offset="0.997" stop-color="#0030cd"/></linearGradient><linearGradient id="g0_78" x1="0" y1="0" x2="0" y2="1"><stop offset="0.003" stop-color="#000093"/><stop offset="0.071" stop-color="#0007e5"/><stop offset="0.139" stop-color="#005ff4"/><stop offset="0.207" stop-color="#05c0f2"/><stop offset="0.276" stop-color="#46e2b3"/><stop offset="0.357" stop-color="#b3e548"/><stop offset="0.398" stop-color="#cbd131"/><stop offset="0.663" stop-color="#dcba23"/><stop offset="0.718" stop-color="#baea44"/><stop offset="0.799" stop-color="#46e5b5"/><stop offset="0.956" stop-color="#05c7f4"/><stop offset="0.997" stop-color="#00b4f8"/></linearGradient><linearGradient id="g0_79" x1="0" y1="0" x2="0" y2="1"><stop offset="0.003" stop-color="#000094"/><stop offset="0.065" stop-color="#0004e8"/><stop offset="0.126" stop-color="#0057f6"/><stop offset="0.201" stop-color="#04cbf6"/><stop offset="0.262" stop-color="#44e6b7"/><stop offset="0.350" stop-color="#bfed3f"/><stop offset="0.398" stop-color="#d9cf26"/><stop offset="0.663" stop-color="#e6b419"/><stop offset="0.718" stop-color="#cbef34"/><stop offset="0.772" stop-color="#7bf084"/><stop offset="0.799" stop-color="#54edab"/><stop offset="0.949" stop-color="#0ad8f2"/><stop offset="0.997" stop-color="#00c4fb"/></linearGradient><linearGradient id="g0_80" x1="0" y1="0" x2="0" y2="1"><stop offset="0.003" stop-color="#000093"/><stop offset="0.099" stop-color="#000abc"/><stop offset="0.209" stop-color="#024dd5"/><stop offset="0.312" stop-color="#2287c5"/><stop offset="0.401" stop-color="#4ba1a4"/><stop offset="0.661" stop-color="#66b98c"/><stop offset="0.750" stop-color="#28a1c7"/><stop offset="0.812" stop-color="#0e80de"/><stop offset="0.997" stop-color="#0046dd"/></linearGradient><linearGradient id="g0_81" x1="0" y1="0" x2="0" y2="1"><stop offset="0.004" stop-color="#000093"/><stop offset="0.332" stop-color="#061a9a"/><stop offset="0.675" stop-color="#0920a4"/><stop offset="0.996" stop-color="#00089c"/></linearGradient><linearGradient id="g0_82" x1="0" y1="0" x2="0" y2="1"><stop offset="0.004" stop-color="#000093"/><stop offset="0.904" stop-color="#00099a"/><stop offset="0.996" stop-color="#000699"/></linearGradient><linearGradient id="g0_83" x1="0" y1="0" x2="0" y2="1"><stop offset="0.003" stop-color="#00009a"/><stop offset="0.323" stop-color="#001db2"/><stop offset="0.532" stop-color="#124cb5"/><stop offset="0.868" stop-color="#1563c4"/><stop offset="0.998" stop-color="#033fcb"/></linearGradient><linearGradient id="g0_84" x1="0" y1="0" x2="0" y2="1"><stop offset="0.003" stop-color="#0000ca"/><stop offset="0.107" stop-color="#001ee4"/><stop offset="0.258" stop-color="#006df0"/><stop offset="0.352" stop-color="#09b4ea"/><stop offset="0.472" stop-color="#4cdcab"/><stop offset="0.512" stop-color="#63e194"/><stop offset="0.853" stop-color="#83e778"/><stop offset="0.978" stop-color="#1dd7dc"/><stop offset="0.998" stop-color="#10d1e8"/></linearGradient><linearGradient id="g0_85" x1="0" y1="0" x2="0" y2="1"><stop offset="0.003" stop-color="#0000ca"/><stop offset="0.107" stop-color="#001ee4"/><stop offset="0.258" stop-color="#006df0"/><stop offset="0.352" stop-color="#09b4ea"/><stop offset="0.472" stop-color="#4cdcab"/><stop offset="0.512" stop-color="#63e194"/><stop offset="0.853" stop-color="#83e778"/><stop offset="0.978" stop-color="#1dd7dc"/><stop offset="0.998" stop-color="#10d1e8"/></linearGradient><linearGradient id="g0_86" x1="0" y1="0" x2="0" y2="1"><stop offset="0.003" stop-color="#00009a"/><stop offset="0.323" stop-color="#001db2"/><stop offset="0.532" stop-color="#124cb5"/><stop offset="0.868" stop-color="#1563c4"/><stop offset="0.998" stop-color="#033fcb"/></linearGradient><linearGradient id="g0_87" x1="0" y1="0" x2="0" y2="1"><stop offset="0.004" stop-color="#000093"/><stop offset="0.904" stop-color="#00099a"/><stop offset="0.996" stop-color="#000699"/></linearGradient><linearGradient id="g0_88" x1="0" y1="0" x2="0" y2="1"><stop offset="0.003" stop-color="#0c31a8"/><stop offset="0.413" stop-color="#001bb5"/><stop offset="0.789" stop-color="#0000a4"/><stop offset="0.997" stop-color="#000093"/></linearGradient><linearGradient id="g0_89" x1="0" y1="0" x2="0" y2="1"><stop offset="0.003" stop-color="#37bcb3"/><stop offset="0.247" stop-color="#01a4e9"/><stop offset="0.720" stop-color="#0001e1"/><stop offset="0.997" stop-color="#000094"/></linearGradient><linearGradient id="g0_90" x1="0" y1="0" x2="0" y2="1"><stop offset="0.003" stop-color="#0c4fbb"/><stop offset="0.377" stop-color="#002dc7"/><stop offset="0.737" stop-color="#0000b5"/><stop offset="0.997" stop-color="#000093"/></linearGradient><linearGradient id="g0_91" x1="0" y1="0" x2="0" y2="1"><stop offset="0.004" stop-color="#000998"/><stop offset="0.996" stop-color="#000092"/></linearGradient><linearGradient id="g0_92" x1="0" y1="0" x2="0" y2="1"><stop offset="0.004" stop-color="#000093"/><stop offset="0.467" stop-color="#0014af"/><stop offset="0.760" stop-color="#0014b0"/><stop offset="0.980" stop-color="#000095"/><stop offset="0.996" stop-color="#000093"/></linearGradient><linearGradient id="g0_93" x1="0" y1="0" x2="0" y2="1"><stop offset="0.004" stop-color="#000095"/><stop offset="0.151" stop-color="#0007df"/><stop offset="0.345" stop-color="#006af1"/><stop offset="0.725" stop-color="#0095f3"/><stop offset="0.880" stop-color="#000fe8"/><stop offset="0.926" stop-color="#0000ce"/><stop offset="0.996" stop-color="#000093"/></linearGradient><linearGradient id="g0_94" x1="0" y1="0" x2="0" y2="1"><stop offset="0.004" stop-color="#000097"/><stop offset="0.136" stop-color="#0005ea"/><stop offset="0.345" stop-color="#008bf8"/><stop offset="0.725" stop-color="#00baf9"/><stop offset="0.903" stop-color="#0005ee"/><stop offset="0.996" stop-color="#000093"/></linearGradient><linearGradient id="g0_95" x1="0" y1="0" x2="0" y2="1"><stop offset="0.004" stop-color="#000093"/><stop offset="0.217" stop-color="#000bbe"/><stop offset="0.382" stop-color="#002bcd"/><stop offset="0.728" stop-color="#0040d4"/><stop offset="0.878" stop-color="#0006c0"/><stop offset="0.996" stop-color="#000094"/></linearGradient><linearGradient id="g0_96" x1="0" y1="0" x2="0" y2="1"><stop offset="0.005" stop-color="#000093"/><stop offset="0.862" stop-color="#000198"/><stop offset="0.995" stop-color="#000093"/></linearGradient><linearGradient id="g0_97" x1="0" y1="0" x2="0" y2="1"><stop offset="0.005" stop-color="#000092"/><stop offset="0.838" stop-color="#00049b"/><stop offset="0.995" stop-color="#000093"/></linearGradient><linearGradient id="g0_98" x1="0" y1="0" x2="0" y2="1"><stop offset="0.004" stop-color="#000093"/><stop offset="0.239" stop-color="#000bc1"/><stop offset="0.428" stop-color="#0032d4"/><stop offset="0.761" stop-color="#004be2"/><stop offset="0.867" stop-color="#000dc7"/><stop offset="0.973" stop-color="#00009b"/><stop offset="0.996" stop-color="#000093"/></linearGradient><linearGradient id="g0_99" x1="0" y1="0" x2="0" y2="1"><stop offset="0.004" stop-color="#000096"/><stop offset="0.153" stop-color="#0005eb"/><stop offset="0.392" stop-color="#008ff9"/><stop offset="0.757" stop-color="#00bbfc"/><stop offset="0.899" stop-color="#0010f1"/><stop offset="0.929" stop-color="#0000de"/><stop offset="0.996" stop-color="#000093"/></linearGradient><linearGradient id="g0_100" x1="0" y1="0" x2="0" y2="1"><stop offset="0.004" stop-color="#000094"/><stop offset="0.169" stop-color="#0005e0"/><stop offset="0.350" stop-color="#005cf1"/><stop offset="0.402" stop-color="#0072f2"/><stop offset="0.763" stop-color="#009bf5"/><stop offset="0.883" stop-color="#001aeb"/><stop offset="0.929" stop-color="#0000d6"/><stop offset="0.996" stop-color="#000099"/></linearGradient><linearGradient id="g0_101" x1="0" y1="0" x2="0" y2="1"><stop offset="0.004" stop-color="#000092"/><stop offset="0.343" stop-color="#0010ae"/><stop offset="0.776" stop-color="#001fc1"/><stop offset="0.925" stop-color="#0001a1"/><stop offset="0.996" stop-color="#000093"/></linearGradient><linearGradient id="g0_102" x1="0" y1="0" x2="0" y2="1"><stop offset="0.006" stop-color="#000092"/><stop offset="0.622" stop-color="#0002aa"/><stop offset="0.994" stop-color="#000093"/></linearGradient><linearGradient id="g0_103" x1="0" y1="0" x2="0" y2="1"><stop offset="0.007" stop-color="#000094"/><stop offset="0.507" stop-color="#0001e4"/><stop offset="0.993" stop-color="#000094"/></linearGradient><linearGradient id="g0_104" x1="0" y1="0" x2="0" y2="1"><stop offset="0.007" stop-color="#000094"/><stop offset="0.507" stop-color="#0001e4"/><stop offset="0.993" stop-color="#000094"/></linearGradient><linearGradient id="g0_105" x1="0" y1="0" x2="0" y2="1"><stop offset="0.008" stop-color="#000093"/><stop offset="0.568" stop-color="#0000a3"/><stop offset="0.992" stop-color="#000093"/></linearGradient><linearGradient id="g0_106" x1="0" y1="0" x2="0" y2="1"><stop offset="0.002" stop-color="#072dad"/><stop offset="0.689" stop-color="#001cb4"/><stop offset="0.998" stop-color="#001eb6"/></linearGradient><linearGradient id="g0_107" x1="0" y1="0" x2="0" y2="1"><stop offset="0.002" stop-color="#1fb4cb"/><stop offset="0.336" stop-color="#009be9"/><stop offset="0.556" stop-color="#007ee9"/><stop offset="0.998" stop-color="#0078eb"/></linearGradient><linearGradient id="g0_108" x1="0" y1="0" x2="0" y2="1"><stop offset="0.002" stop-color="#0746c0"/><stop offset="0.659" stop-color="#002cc5"/><stop offset="0.998" stop-color="#002dc7"/></linearGradient><linearGradient id="g0_109" x1="0" y1="0" x2="0" y2="1"><stop offset="0.002" stop-color="#001eb6"/><stop offset="0.998" stop-color="#0028c0"/></linearGradient><linearGradient id="g0_110" x1="0" y1="0" x2="0" y2="1"><stop offset="0.002" stop-color="#0078eb"/><stop offset="0.998" stop-color="#008cee"/></linearGradient><linearGradient id="g0_111" x1="0" y1="0" x2="0" y2="1"><stop offset="0.002" stop-color="#002dc7"/><stop offset="0.998" stop-color="#003ccf"/></linearGradient><linearGradient id="g0_112" x1="0" y1="0" x2="0" y2="1"><stop offset="0.004" stop-color="#000092"/><stop offset="0.509" stop-color="#00099e"/><stop offset="0.996" stop-color="#00019c"/></linearGradient><linearGradient id="g0_113" x1="0" y1="0" x2="0" y2="1"><stop offset="0.004" stop-color="#000094"/><stop offset="0.142" stop-color="#0008ca"/><stop offset="0.280" stop-color="#0041e3"/><stop offset="0.776" stop-color="#0043e7"/><stop offset="0.996" stop-color="#000bdb"/></linearGradient><linearGradient id="g0_114" x1="0" y1="0" x2="0" y2="1"><stop offset="0.004" stop-color="#000093"/><stop offset="0.109" stop-color="#0003ec"/><stop offset="0.278" stop-color="#0093fc"/><stop offset="0.770" stop-color="#0091fe"/><stop offset="0.996" stop-color="#0023f9"/></linearGradient><linearGradient id="g0_115" x1="0" y1="0" x2="0" y2="1"><stop offset="0.004" stop-color="#000095"/><stop offset="0.126" stop-color="#0007d5"/><stop offset="0.256" stop-color="#004fed"/><stop offset="0.321" stop-color="#0058ef"/><stop offset="0.768" stop-color="#005bf0"/><stop offset="0.996" stop-color="#0010e7"/></linearGradient><linearGradient id="g0_116" x1="0" y1="0" x2="0" y2="1"><stop offset="0.004" stop-color="#000093"/><stop offset="0.399" stop-color="#000da7"/><stop offset="0.895" stop-color="#0007a7"/><stop offset="0.996" stop-color="#0002a4"/></linearGradient><linearGradient id="g0_117" x1="0" y1="0" x2="0" y2="1"><stop offset="0.014" stop-color="#000093"/><stop offset="0.986" stop-color="#0001a6"/></linearGradient><linearGradient id="g0_118" x1="0" y1="0" x2="0" y2="1"><stop offset="0.012" stop-color="#000094"/><stop offset="0.942" stop-color="#0007e6"/><stop offset="0.988" stop-color="#000ae8"/></linearGradient><linearGradient id="g0_119" x1="0" y1="0" x2="0" y2="1"><stop offset="0.011" stop-color="#000093"/><stop offset="0.875" stop-color="#0006f0"/><stop offset="0.989" stop-color="#0010f4"/></linearGradient><linearGradient id="g0_120" x1="0" y1="0" x2="0" y2="1"><stop offset="0.012" stop-color="#000093"/><stop offset="0.988" stop-color="#0003c0"/></linearGradient><linearGradient id="g0_121" x1="0" y1="0" x2="0" y2="1"><stop offset="0.006" stop-color="#000093"/><stop offset="0.848" stop-color="#000297"/><stop offset="0.994" stop-color="#000196"/></linearGradient><linearGradient id="g0_122" x1="0" y1="0" x2="0" y2="1"><stop offset="0.003" stop-color="#000093"/><stop offset="0.314" stop-color="#03189d"/><stop offset="0.576" stop-color="#1530a0"/><stop offset="0.741" stop-color="#0d45c0"/><stop offset="0.997" stop-color="#0223bb"/></linearGradient><linearGradient id="g0_123" x1="0" y1="0" x2="0" y2="1"><stop offset="0.003" stop-color="#000093"/><stop offset="0.113" stop-color="#000ac4"/><stop offset="0.228" stop-color="#004cdd"/><stop offset="0.321" stop-color="#1989d1"/><stop offset="0.419" stop-color="#4daea2"/><stop offset="0.523" stop-color="#7cb677"/><stop offset="0.627" stop-color="#88c36c"/><stop offset="0.749" stop-color="#64dd94"/><stop offset="0.986" stop-color="#22b7d3"/><stop offset="0.997" stop-color="#20b4d5"/></linearGradient><linearGradient id="g0_124" x1="0" y1="0" x2="0" y2="1"><stop offset="0.003" stop-color="#000093"/><stop offset="0.083" stop-color="#0007ec"/><stop offset="0.227" stop-color="#00b6fb"/><stop offset="0.256" stop-color="#0cd6f0"/><stop offset="0.365" stop-color="#9ef161"/><stop offset="0.411" stop-color="#c8ef37"/><stop offset="0.509" stop-color="#e3ad1c"/><stop offset="0.549" stop-color="#e89317"/><stop offset="0.612" stop-color="#eb9514"/><stop offset="0.733" stop-color="#d9fb26"/><stop offset="0.997" stop-color="#8cf773"/></linearGradient><linearGradient id="g0_125" x1="0" y1="0" x2="0" y2="1"><stop offset="0.003" stop-color="#000096"/><stop offset="0.090" stop-color="#0007db"/><stop offset="0.194" stop-color="#0061f0"/><stop offset="0.263" stop-color="#09abe9"/><stop offset="0.344" stop-color="#4fd2a6"/><stop offset="0.419" stop-color="#90dc67"/><stop offset="0.529" stop-color="#c2b437"/><stop offset="0.610" stop-color="#ccb02f"/><stop offset="0.720" stop-color="#b0eb4e"/><stop offset="0.749" stop-color="#a6f059"/><stop offset="0.905" stop-color="#c2ff3d"/><stop offset="0.997" stop-color="#c1ff3e"/></linearGradient><linearGradient id="g0_126" x1="0" y1="0" x2="0" y2="1"><stop offset="0.003" stop-color="#000093"/><stop offset="0.191" stop-color="#0011aa"/><stop offset="0.391" stop-color="#143fb2"/><stop offset="0.556" stop-color="#2864ae"/><stop offset="0.662" stop-color="#2b7fb7"/><stop offset="0.744" stop-color="#2493cb"/><stop offset="0.838" stop-color="#44d0b2"/><stop offset="0.985" stop-color="#80f27f"/><stop offset="0.997" stop-color="#84f47b"/></linearGradient><linearGradient id="g0_127" x1="0" y1="0" x2="0" y2="1"><stop offset="0.004" stop-color="#000092"/><stop offset="0.680" stop-color="#0218a3"/><stop offset="0.793" stop-color="#0835bf"/><stop offset="0.951" stop-color="#138edd"/><stop offset="0.996" stop-color="#1ba6d8"/></linearGradient><linearGradient id="g0_128" x1="0" y1="0" x2="0" y2="1"><stop offset="0.013" stop-color="#000092"/><stop offset="0.833" stop-color="#0016a9"/><stop offset="0.987" stop-color="#011cb6"/></linearGradient><linearGradient id="g0_129" x1="0" y1="0" x2="0" y2="1"><stop offset="0.005" stop-color="#000092"/><stop offset="0.919" stop-color="#0a1e9f"/><stop offset="0.995" stop-color="#0b21a5"/></linearGradient><linearGradient id="g0_130" x1="0" y1="0" x2="0" y2="1"><stop offset="0.003" stop-color="#000092"/><stop offset="0.338" stop-color="#00139f"/><stop offset="0.520" stop-color="#142ca0"/><stop offset="0.779" stop-color="#2865b2"/><stop offset="0.906" stop-color="#4a94a5"/><stop offset="0.997" stop-color="#5aab98"/></linearGradient><linearGradient id="g0_131" x1="0" y1="0" x2="0" y2="1"><stop offset="0.002" stop-color="#0004a9"/><stop offset="0.179" stop-color="#0023cc"/><stop offset="0.297" stop-color="#0156de"/><stop offset="0.395" stop-color="#1b8fd3"/><stop offset="0.493" stop-color="#5cbd96"/><stop offset="0.556" stop-color="#92b461"/><stop offset="0.806" stop-color="#cc992f"/><stop offset="0.958" stop-color="#e07d1d"/><stop offset="0.998" stop-color="#e17a1b"/></linearGradient><linearGradient id="g0_132" x1="0" y1="0" x2="0" y2="1"><stop offset="0.002" stop-color="#0014e7"/><stop offset="0.248" stop-color="#00a5fa"/><stop offset="0.301" stop-color="#05d2f7"/><stop offset="0.400" stop-color="#6ded92"/><stop offset="0.473" stop-color="#caf335"/><stop offset="0.517" stop-color="#e3b81c"/><stop offset="0.561" stop-color="#ee7211"/><stop offset="0.787" stop-color="#fb4304"/><stop offset="0.914" stop-color="#f32000"/><stop offset="0.998" stop-color="#f31c00"/></linearGradient><linearGradient id="g0_133" x1="0" y1="0" x2="0" y2="1"><stop offset="0.002" stop-color="#0007c7"/><stop offset="0.164" stop-color="#0042e7"/><stop offset="0.287" stop-color="#008cf1"/><stop offset="0.350" stop-color="#18bcdb"/><stop offset="0.453" stop-color="#71df85"/><stop offset="0.498" stop-color="#a9d64e"/><stop offset="0.561" stop-color="#d29629"/><stop offset="0.787" stop-color="#e5731a"/><stop offset="0.929" stop-color="#ec4b0f"/><stop offset="0.998" stop-color="#f0450b"/></linearGradient><linearGradient id="g0_134" x1="0" y1="0" x2="0" y2="1"><stop offset="0.002" stop-color="#000198"/><stop offset="0.262" stop-color="#0013aa"/><stop offset="0.458" stop-color="#1244b5"/><stop offset="0.537" stop-color="#2966af"/><stop offset="0.640" stop-color="#3c81a6"/><stop offset="0.767" stop-color="#589b97"/><stop offset="0.875" stop-color="#83b578"/><stop offset="0.998" stop-color="#a4ba5b"/></linearGradient><linearGradient id="g0_135" x1="0" y1="0" x2="0" y2="1"><stop offset="0.003" stop-color="#000093"/><stop offset="0.617" stop-color="#091a9f"/><stop offset="0.693" stop-color="#0c28b0"/><stop offset="0.769" stop-color="#1146d0"/><stop offset="0.969" stop-color="#1c7ae3"/><stop offset="0.997" stop-color="#1d82e2"/></linearGradient><linearGradient id="g0_136" x1="0" y1="0" x2="0" y2="1"><stop offset="0.008" stop-color="#000098"/><stop offset="0.153" stop-color="#0007d5"/><stop offset="0.298" stop-color="#004af1"/><stop offset="0.444" stop-color="#04a7f4"/><stop offset="0.992" stop-color="#15cfea"/></linearGradient><linearGradient id="g0_137" x1="0" y1="0" x2="0" y2="1"><stop offset="0.008" stop-color="#000095"/><stop offset="0.135" stop-color="#0004ef"/><stop offset="0.325" stop-color="#0094ff"/><stop offset="0.421" stop-color="#04e3fb"/><stop offset="0.468" stop-color="#14eaeb"/><stop offset="0.992" stop-color="#38f5c7"/></linearGradient><linearGradient id="g0_138" x1="0" y1="0" x2="0" y2="1"><stop offset="0.008" stop-color="#000098"/><stop offset="0.153" stop-color="#0007d5"/><stop offset="0.298" stop-color="#004aef"/><stop offset="0.444" stop-color="#04a7f0"/><stop offset="0.992" stop-color="#15c5e3"/></linearGradient><linearGradient id="g0_139" x1="0" y1="0" x2="0" y2="1"><stop offset="0.008" stop-color="#000093"/><stop offset="0.331" stop-color="#0012af"/><stop offset="0.483" stop-color="#0022be"/><stop offset="0.992" stop-color="#0232c9"/></linearGradient><linearGradient id="g0_140" x1="0" y1="0" x2="0" y2="1"><stop offset="0.013" stop-color="#000093"/><stop offset="0.988" stop-color="#00059d"/></linearGradient><linearGradient id="g0_141" x1="0" y1="0" x2="0" y2="1"><stop offset="0.007" stop-color="#000093"/><stop offset="0.520" stop-color="#01129b"/><stop offset="0.796" stop-color="#0b1f9f"/><stop offset="0.993" stop-color="#0f29a5"/></linearGradient><linearGradient id="g0_142" x1="0" y1="0" x2="0" y2="1"><stop offset="0.005" stop-color="#000093"/><stop offset="0.280" stop-color="#0013ac"/><stop offset="0.546" stop-color="#1044b7"/><stop offset="0.656" stop-color="#2571b6"/><stop offset="0.757" stop-color="#4790a7"/><stop offset="0.995" stop-color="#6cb787"/></linearGradient><linearGradient id="g0_143" x1="0" y1="0" x2="0" y2="1"><stop offset="0.004" stop-color="#000096"/><stop offset="0.128" stop-color="#0008d8"/><stop offset="0.261" stop-color="#0057f0"/><stop offset="0.367" stop-color="#06a4ec"/><stop offset="0.500" stop-color="#45d2b1"/><stop offset="0.597" stop-color="#8fe06a"/><stop offset="0.686" stop-color="#c4c437"/><stop offset="0.792" stop-color="#e2851d"/><stop offset="0.996" stop-color="#e87d17"/></linearGradient><linearGradient id="g0_144" x1="0" y1="0" x2="0" y2="1"><stop offset="0.004" stop-color="#000093"/><stop offset="0.110" stop-color="#0004ed"/><stop offset="0.285" stop-color="#00a2fd"/><stop offset="0.346" stop-color="#06d8f9"/><stop offset="0.513" stop-color="#8af775"/><stop offset="0.592" stop-color="#d2f82d"/><stop offset="0.706" stop-color="#f3980c"/><stop offset="0.785" stop-color="#fd4902"/><stop offset="0.996" stop-color="#ff4200"/></linearGradient><linearGradient id="g0_145" x1="0" y1="0" x2="0" y2="1"><stop offset="0.004" stop-color="#000094"/><stop offset="0.137" stop-color="#0008ca"/><stop offset="0.279" stop-color="#004de6"/><stop offset="0.394" stop-color="#0991e7"/><stop offset="0.535" stop-color="#42c5b0"/><stop offset="0.642" stop-color="#8bd66c"/><stop offset="0.748" stop-color="#c6ad35"/><stop offset="0.792" stop-color="#d1992b"/><stop offset="0.996" stop-color="#df9420"/></linearGradient><linearGradient id="g0_146" x1="0" y1="0" x2="0" y2="1"><stop offset="0.005" stop-color="#000093"/><stop offset="0.350" stop-color="#0016a6"/><stop offset="0.547" stop-color="#0c2eae"/><stop offset="0.724" stop-color="#2669b5"/><stop offset="0.799" stop-color="#347eae"/><stop offset="0.949" stop-color="#4596a9"/><stop offset="0.995" stop-color="#4b9ea5"/></linearGradient><linearGradient id="g0_147" x1="0" y1="0" x2="0" y2="1"><stop offset="0.008" stop-color="#000093"/><stop offset="0.992" stop-color="#081d9d"/></linearGradient><linearGradient id="g0_148" x1="0" y1="0" x2="0" y2="1"><stop offset="0.008" stop-color="#000093"/><stop offset="0.992" stop-color="#03169d"/></linearGradient><linearGradient id="g0_149" x1="0" y1="0" x2="0" y2="1"><stop offset="0.005" stop-color="#000093"/><stop offset="0.328" stop-color="#071ea6"/><stop offset="0.490" stop-color="#133bb3"/><stop offset="0.965" stop-color="#2c82be"/><stop offset="0.995" stop-color="#2f86be"/></linearGradient><linearGradient id="g0_150" x1="0" y1="0" x2="0" y2="1"><stop offset="0.004" stop-color="#000092"/><stop offset="0.264" stop-color="#0011aa"/><stop offset="0.351" stop-color="#0735c0"/><stop offset="0.467" stop-color="#2a8bc2"/><stop offset="0.562" stop-color="#65bd8f"/><stop offset="0.605" stop-color="#7bc27b"/><stop offset="0.909" stop-color="#bab241"/><stop offset="0.996" stop-color="#c8a935"/></linearGradient><linearGradient id="g0_151" x1="0" y1="0" x2="0" y2="1"><stop offset="0.003" stop-color="#000094"/><stop offset="0.129" stop-color="#0009d4"/><stop offset="0.248" stop-color="#004ded"/><stop offset="0.304" stop-color="#007ff1"/><stop offset="0.346" stop-color="#14bae1"/><stop offset="0.402" stop-color="#5fe09a"/><stop offset="0.437" stop-color="#93e568"/><stop offset="0.514" stop-color="#d0cb2f"/><stop offset="0.584" stop-color="#e88d17"/><stop offset="0.619" stop-color="#eb7b14"/><stop offset="0.941" stop-color="#ec3606"/><stop offset="0.997" stop-color="#e72e04"/></linearGradient><linearGradient id="g0_152" x1="0" y1="0" x2="0" y2="1"><stop offset="0.003" stop-color="#000092"/><stop offset="0.108" stop-color="#0005ef"/><stop offset="0.281" stop-color="#00acff"/><stop offset="0.316" stop-color="#02dcfd"/><stop offset="0.378" stop-color="#71fa8e"/><stop offset="0.427" stop-color="#d7fe28"/><stop offset="0.517" stop-color="#f9a306"/><stop offset="0.601" stop-color="#ff3a00"/><stop offset="0.781" stop-color="#f51500"/><stop offset="0.997" stop-color="#cb0700"/></linearGradient><linearGradient id="g0_153" x1="0" y1="0" x2="0" y2="1"><stop offset="0.003" stop-color="#000094"/><stop offset="0.129" stop-color="#0009d4"/><stop offset="0.248" stop-color="#004ded"/><stop offset="0.304" stop-color="#007ff1"/><stop offset="0.346" stop-color="#14bae1"/><stop offset="0.402" stop-color="#5fe09a"/><stop offset="0.437" stop-color="#93e568"/><stop offset="0.514" stop-color="#d0cb2f"/><stop offset="0.584" stop-color="#e88d17"/><stop offset="0.619" stop-color="#eb7b14"/><stop offset="0.941" stop-color="#ec3606"/><stop offset="0.997" stop-color="#e72e04"/></linearGradient><linearGradient id="g0_154" x1="0" y1="0" x2="0" y2="1"><stop offset="0.004" stop-color="#000092"/><stop offset="0.264" stop-color="#0011aa"/><stop offset="0.351" stop-color="#0735c0"/><stop offset="0.482" stop-color="#3099c8"/><stop offset="0.547" stop-color="#59d2a6"/><stop offset="0.598" stop-color="#7fdf80"/><stop offset="0.714" stop-color="#aae055"/><stop offset="0.931" stop-color="#dfbc1f"/><stop offset="0.996" stop-color="#eaaf13"/></linearGradient><linearGradient id="g0_155" x1="0" y1="0" x2="0" y2="1"><stop offset="0.005" stop-color="#000093"/><stop offset="0.177" stop-color="#000da0"/><stop offset="0.247" stop-color="#0223ca"/><stop offset="0.298" stop-color="#055de9"/><stop offset="0.348" stop-color="#1aade5"/><stop offset="0.439" stop-color="#4ee5b1"/><stop offset="0.530" stop-color="#8ef471"/><stop offset="0.581" stop-color="#a7ef58"/><stop offset="0.884" stop-color="#e5be1a"/><stop offset="0.995" stop-color="#f1a40d"/></linearGradient><linearGradient id="g0_156" x1="0" y1="0" x2="0" y2="1"><stop offset="0.006" stop-color="#000098"/><stop offset="0.054" stop-color="#0004e3"/><stop offset="0.090" stop-color="#003af3"/><stop offset="0.163" stop-color="#05cbf6"/><stop offset="0.199" stop-color="#39e8c5"/><stop offset="0.223" stop-color="#63ef9c"/><stop offset="0.343" stop-color="#c9f736"/><stop offset="0.428" stop-color="#e9cb16"/><stop offset="0.476" stop-color="#eeae11"/><stop offset="0.958" stop-color="#f72e02"/><stop offset="0.994" stop-color="#f22802"/></linearGradient><linearGradient id="g0_157" x1="0" y1="0" x2="0" y2="1"><stop offset="0.006" stop-color="#00009a"/><stop offset="0.042" stop-color="#0000df"/><stop offset="0.054" stop-color="#0008f0"/><stop offset="0.127" stop-color="#009bfd"/><stop offset="0.151" stop-color="#00d2ff"/><stop offset="0.175" stop-color="#1eede1"/><stop offset="0.223" stop-color="#7bfb84"/><stop offset="0.331" stop-color="#ddfc22"/><stop offset="0.428" stop-color="#f7b808"/><stop offset="0.476" stop-color="#fa9805"/><stop offset="0.922" stop-color="#f91b00"/><stop offset="0.994" stop-color="#ec1200"/></linearGradient><linearGradient id="g0_158" x1="0" y1="0" x2="0" y2="1"><stop offset="0.006" stop-color="#000093"/><stop offset="0.066" stop-color="#0006c3"/><stop offset="0.114" stop-color="#0030e2"/><stop offset="0.163" stop-color="#027cef"/><stop offset="0.199" stop-color="#15b2e0"/><stop offset="0.247" stop-color="#37d1c0"/><stop offset="0.355" stop-color="#84e478"/><stop offset="0.464" stop-color="#c4d33b"/><stop offset="0.837" stop-color="#e5921a"/><stop offset="0.994" stop-color="#e86e14"/></linearGradient><linearGradient id="g0_159" x1="0" y1="0" x2="0" y2="1"><stop offset="0.006" stop-color="#000093"/><stop offset="0.131" stop-color="#0012ab"/><stop offset="0.219" stop-color="#0639c5"/><stop offset="0.394" stop-color="#2287cb"/><stop offset="0.469" stop-color="#31a1bf"/><stop offset="0.906" stop-color="#6ec087"/><stop offset="0.994" stop-color="#7dc279"/></linearGradient><linearGradient id="g0_160" x1="0" y1="0" x2="0" y2="1"><stop offset="0.007" stop-color="#000093"/><stop offset="0.514" stop-color="#061ea9"/><stop offset="0.993" stop-color="#133ab4"/></linearGradient><linearGradient id="g0_161" x1="0" y1="0" x2="0" y2="1"><stop offset="0.006" stop-color="#000093"/><stop offset="0.728" stop-color="#0e1a93"/><stop offset="0.994" stop-color="#121e96"/></linearGradient><linearGradient id="g0_162" x1="0" y1="0" x2="0" y2="1"><stop offset="0.002" stop-color="#030f95"/><stop offset="0.272" stop-color="#141c8c"/><stop offset="0.522" stop-color="#122099"/><stop offset="0.566" stop-color="#1022a1"/><stop offset="0.620" stop-color="#1c35a1"/><stop offset="0.674" stop-color="#2650a1"/><stop offset="0.787" stop-color="#47738d"/><stop offset="0.988" stop-color="#6e8f76"/><stop offset="0.998" stop-color="#718f74"/></linearGradient><linearGradient id="g0_163" x1="0" y1="0" x2="0" y2="1"><stop offset="0.002" stop-color="#325d95"/><stop offset="0.047" stop-color="#466e95"/><stop offset="0.086" stop-color="#63787a"/><stop offset="0.282" stop-color="#7d8268"/><stop offset="0.488" stop-color="#89825b"/><stop offset="0.517" stop-color="#809d71"/><stop offset="0.542" stop-color="#61b290"/><stop offset="0.551" stop-color="#5ab396"/><stop offset="0.596" stop-color="#95a65d"/><stop offset="0.664" stop-color="#b66f2f"/><stop offset="0.718" stop-color="#b54a1d"/><stop offset="0.841" stop-color="#ac3319"/><stop offset="0.998" stop-color="#a22814"/></linearGradient><linearGradient id="g0_164" x1="0" y1="0" x2="0" y2="1"><stop offset="0.002" stop-color="#c9a42e"/><stop offset="0.081" stop-color="#de4a19"/><stop offset="0.125" stop-color="#c93216"/><stop offset="0.488" stop-color="#ab230e"/><stop offset="0.512" stop-color="#ea4512"/><stop offset="0.547" stop-color="#dfc820"/><stop offset="0.551" stop-color="#deca21"/><stop offset="0.596" stop-color="#f1470e"/><stop offset="0.615" stop-color="#da2b0b"/><stop offset="0.669" stop-color="#a01603"/><stop offset="0.762" stop-color="#8d0900"/><stop offset="0.998" stop-color="#870200"/></linearGradient><linearGradient id="g0_165" x1="0" y1="0" x2="0" y2="1"><stop offset="0.002" stop-color="#97b05b"/><stop offset="0.056" stop-color="#be8c36"/><stop offset="0.115" stop-color="#cc571e"/><stop offset="0.488" stop-color="#b7371a"/><stop offset="0.512" stop-color="#dd681d"/><stop offset="0.547" stop-color="#c1cc39"/><stop offset="0.556" stop-color="#c8c633"/><stop offset="0.591" stop-color="#e0761d"/><stop offset="0.610" stop-color="#db481a"/><stop offset="0.679" stop-color="#a72310"/><stop offset="0.738" stop-color="#921908"/><stop offset="0.998" stop-color="#8f0f00"/></linearGradient><linearGradient id="g0_166" x1="0" y1="0" x2="0" y2="1"><stop offset="0.002" stop-color="#18209a"/><stop offset="0.061" stop-color="#21379a"/><stop offset="0.096" stop-color="#2646a1"/><stop offset="0.150" stop-color="#335192"/><stop offset="0.449" stop-color="#436891"/><stop offset="0.493" stop-color="#446b92"/><stop offset="0.551" stop-color="#276eb4"/><stop offset="0.596" stop-color="#4d8199"/><stop offset="0.635" stop-color="#688f82"/><stop offset="0.713" stop-color="#908752"/><stop offset="0.757" stop-color="#a5773e"/><stop offset="0.998" stop-color="#ba551e"/></linearGradient><linearGradient id="g0_167" x1="0" y1="0" x2="0" y2="1"><stop offset="0.002" stop-color="#000093"/><stop offset="0.243" stop-color="#041095"/><stop offset="0.537" stop-color="#02119a"/><stop offset="0.659" stop-color="#131e94"/><stop offset="0.718" stop-color="#1b2b99"/><stop offset="0.855" stop-color="#2148a5"/><stop offset="0.998" stop-color="#355fa2"/></linearGradient><linearGradient id="g0_168" x1="0" y1="0" x2="0" y2="1"><stop offset="0.008" stop-color="#000093"/><stop offset="0.992" stop-color="#041198"/></linearGradient></defs><g shape-rendering="crispEdges"><rect x="826" y="185" width="1" height="65" fill="url(#g0_0)"/><rect x="827" y="179" width="1" height="71" fill="url(#g0_1)"/><rect x="828" y="178" width="1" height="72" fill="url(#g0_2)"/><rect x="829" y="178" width="1" height="72" fill="url(#g0_3)"/><rect x="830" y="180" width="1" height="70" fill="url(#g0_4)"/><rect x="831" y="187" width="1" height="63" fill="url(#g0_5)"/><rect x="832" y="238" width="1" height="12" fill="#000093"/><rect x="866" y="151" width="1" height="75" fill="#000096"/><rect x="867" y="133" width="1" height="105" fill="url(#g0_6)"/><rect x="868" y="131" width="1" height="108" fill="url(#g0_7)"/><rect x="869" y="131" width="1" height="108" fill="url(#g0_8)"/><rect x="870" y="133" width="1" height="105" fill="url(#g0_9)"/><rect x="871" y="151" width="1" height="75" fill="#000096"/><rect x="874" y="130" width="1" height="120" fill="url(#g0_10)"/><rect x="875" y="46" width="1" height="204" fill="url(#g0_11)"/><rect x="876" y="46" width="1" height="204" fill="url(#g0_12)"/><rect x="877" y="46" width="1" height="204" fill="url(#g0_13)"/><rect x="878" y="46" width="1" height="204" fill="url(#g0_14)"/><rect x="879" y="112" width="1" height="138" fill="url(#g0_15)"/><rect x="880" y="158" width="1" height="78" fill="url(#g0_16)"/><rect x="881" y="173" width="1" height="39" fill="url(#g0_17)"/><rect x="884" y="187" width="1" height="63" fill="url(#g0_18)"/><rect x="885" y="166" width="1" height="84" fill="url(#g0_19)"/><rect x="886" y="163" width="1" height="87" fill="url(#g0_20)"/><rect x="887" y="162" width="1" height="88" fill="url(#g0_21)"/><rect x="888" y="163" width="1" height="87" fill="url(#g0_22)"/><rect x="889" y="170" width="1" height="80" fill="url(#g0_23)"/><rect x="890" y="221" width="1" height="29" fill="#000094"/><rect x="900" y="184" width="1" height="66" fill="url(#g0_24)"/><rect x="901" y="147" width="1" height="103" fill="url(#g0_25)"/><rect x="902" y="144" width="1" height="106" fill="url(#g0_26)"/><rect x="903" y="147" width="1" height="103" fill="url(#g0_27)"/><rect x="904" y="184" width="1" height="66" fill="url(#g0_28)"/><rect x="928" y="134" width="1" height="116" fill="url(#g0_29)"/><rect x="929" y="118" width="1" height="132" fill="url(#g0_30)"/><rect x="930" y="117" width="1" height="133" fill="url(#g0_31)"/><rect x="931" y="117" width="1" height="133" fill="url(#g0_32)"/><rect x="932" y="118" width="1" height="132" fill="url(#g0_33)"/><rect x="933" y="134" width="1" height="116" fill="url(#g0_34)"/><rect x="940" y="130" width="1" height="95" fill="url(#g0_35)"/><rect x="941" y="122" width="1" height="106" fill="url(#g0_36)"/><rect x="942" y="122" width="1" height="106" fill="url(#g0_37)"/><rect x="943" y="130" width="1" height="95" fill="url(#g0_38)"/><rect x="965" y="46" width="1" height="204" fill="#000c98"/><rect x="966" y="46" width="1" height="204" fill="url(#g0_39)"/><rect x="967" y="46" width="1" height="204" fill="url(#g0_40)"/><rect x="968" y="46" width="1" height="204" fill="url(#g0_41)"/><rect x="980" y="46" width="1" height="204" fill="#000094"/><rect x="981" y="46" width="1" height="204" fill="#0001b3"/><rect x="982" y="46" width="1" height="204" fill="#0006e6"/><rect x="983" y="46" width="1" height="204" fill="#0001b3"/><rect x="984" y="46" width="1" height="204" fill="#000094"/><rect x="1003" y="46" width="1" height="62" fill="#000095"/><rect x="1004" y="46" width="1" height="98" fill="url(#g0_42)"/><rect x="1005" y="46" width="1" height="101" fill="url(#g0_43)"/><rect x="1006" y="46" width="1" height="96" fill="url(#g0_44)"/><rect x="1007" y="46" width="1" height="32" fill="#000093"/><rect x="1010" y="46" width="1" height="43" fill="url(#g0_45)"/><rect x="1011" y="46" width="1" height="51" fill="url(#g0_46)"/><rect x="1012" y="46" width="1" height="51" fill="url(#g0_47)"/><rect x="1013" y="46" width="1" height="48" fill="url(#g0_48)"/><rect x="1025" y="46" width="1" height="204" fill="#000495"/><rect x="1026" y="46" width="1" height="204" fill="url(#g0_49)"/><rect x="1027" y="46" width="1" height="204" fill="url(#g0_50)"/><rect x="1028" y="46" width="1" height="204" fill="url(#g0_51)"/><rect x="1029" y="46" width="1" height="204" fill="url(#g0_52)"/><rect x="1033" y="224" width="1" height="26" fill="#000095"/><rect x="1034" y="201" width="1" height="49" fill="url(#g0_53)"/><rect x="1035" y="199" width="1" height="51" fill="url(#g0_54)"/><rect x="1036" y="199" width="1" height="51" fill="url(#g0_55)"/><rect x="1037" y="211" width="1" height="39" fill="url(#g0_56)"/><rect x="1064" y="240" width="1" height="10" fill="#000093"/><rect x="1065" y="124" width="1" height="126" fill="url(#g0_57)"/><rect x="1066" y="106" width="1" height="144" fill="url(#g0_58)"/><rect x="1067" y="106" width="1" height="144" fill="url(#g0_59)"/><rect x="1068" y="124" width="1" height="126" fill="url(#g0_60)"/><rect x="1069" y="183" width="1" height="67" fill="#000093"/><rect x="1070" y="104" width="1" height="146" fill="url(#g0_61)"/><rect x="1071" y="46" width="1" height="204" fill="url(#g0_62)"/><rect x="1072" y="46" width="1" height="204" fill="url(#g0_63)"/><rect x="1073" y="46" width="1" height="204" fill="url(#g0_64)"/><rect x="1074" y="46" width="1" height="204" fill="url(#g0_65)"/><rect x="1075" y="137" width="1" height="113" fill="url(#g0_66)"/><rect x="1080" y="150" width="1" height="97" fill="#000295"/><rect x="1081" y="124" width="1" height="126" fill="url(#g0_67)"/><rect x="1082" y="122" width="1" height="128" fill="url(#g0_68)"/><rect x="1083" y="121" width="1" height="129" fill="url(#g0_69)"/><rect x="1084" y="122" width="1" height="128" fill="url(#g0_70)"/><rect x="1085" y="124" width="1" height="126" fill="url(#g0_71)"/><rect x="1086" y="150" width="1" height="97" fill="#000295"/><rect x="1087" y="82" width="1" height="121" fill="url(#g0_72)"/><rect x="1088" y="67" width="1" height="144" fill="url(#g0_73)"/><rect x="1089" y="66" width="1" height="146" fill="url(#g0_74)"/><rect x="1090" y="66" width="1" height="146" fill="url(#g0_75)"/><rect x="1091" y="70" width="1" height="180" fill="url(#g0_76)"/><rect x="1092" y="104" width="1" height="146" fill="url(#g0_77)"/><rect x="1093" y="103" width="1" height="147" fill="url(#g0_78)"/><rect x="1094" y="103" width="1" height="147" fill="url(#g0_79)"/><rect x="1095" y="104" width="1" height="146" fill="url(#g0_80)"/><rect x="1096" y="113" width="1" height="137" fill="url(#g0_81)"/><rect x="1097" y="189" width="1" height="16" fill="#000093"/><rect x="1111" y="110" width="1" height="140" fill="url(#g0_82)"/><rect x="1112" y="50" width="1" height="200" fill="url(#g0_83)"/><rect x="1113" y="50" width="1" height="200" fill="url(#g0_84)"/><rect x="1114" y="50" width="1" height="200" fill="url(#g0_85)"/><rect x="1115" y="50" width="1" height="200" fill="url(#g0_86)"/><rect x="1116" y="110" width="1" height="140" fill="url(#g0_87)"/><rect x="1119" y="46" width="1" height="100" fill="#000194"/><rect x="1120" y="46" width="1" height="149" fill="url(#g0_88)"/><rect x="1121" y="46" width="1" height="152" fill="url(#g0_89)"/><rect x="1122" y="46" width="1" height="150" fill="url(#g0_90)"/><rect x="1123" y="46" width="1" height="126" fill="url(#g0_91)"/><rect x="1124" y="165" width="1" height="42" fill="#000093"/><rect x="1125" y="111" width="1" height="123" fill="url(#g0_92)"/><rect x="1126" y="107" width="1" height="129" fill="url(#g0_93)"/><rect x="1127" y="107" width="1" height="129" fill="url(#g0_94)"/><rect x="1128" y="108" width="1" height="127" fill="url(#g0_95)"/><rect x="1129" y="123" width="1" height="105" fill="url(#g0_96)"/><rect x="1150" y="116" width="1" height="108" fill="url(#g0_97)"/><rect x="1151" y="100" width="1" height="132" fill="url(#g0_98)"/><rect x="1152" y="99" width="1" height="134" fill="url(#g0_99)"/><rect x="1153" y="99" width="1" height="133" fill="url(#g0_100)"/><rect x="1154" y="103" width="1" height="127" fill="url(#g0_101)"/><rect x="1155" y="146" width="1" height="78" fill="url(#g0_102)"/><rect x="1156" y="152" width="1" height="76" fill="url(#g0_103)"/><rect x="1157" y="152" width="1" height="76" fill="url(#g0_104)"/><rect x="1158" y="157" width="1" height="66" fill="url(#g0_105)"/><rect x="1184" y="46" width="1" height="204" fill="#000096"/><rect x="1185" y="46" width="1" height="204" fill="#0001bf"/><rect x="1186" y="46" width="1" height="204" fill="#0002e0"/><rect x="1187" y="46" width="1" height="204" fill="#0001a6"/><rect x="1218" y="46" width="1" height="204" fill="#000194"/><rect x="1219" y="46" width="1" height="204" fill="url(#g0_106)"/><rect x="1220" y="46" width="1" height="204" fill="url(#g0_107)"/><rect x="1221" y="46" width="1" height="204" fill="url(#g0_108)"/><rect x="1222" y="46" width="1" height="204" fill="#000597"/><rect x="1227" y="46" width="1" height="204" fill="#000295"/><rect x="1228" y="46" width="1" height="204" fill="url(#g0_109)"/><rect x="1229" y="46" width="1" height="204" fill="url(#g0_110)"/><rect x="1230" y="46" width="1" height="204" fill="url(#g0_111)"/><rect x="1231" y="46" width="1" height="204" fill="#000698"/><rect x="1236" y="46" width="1" height="204" fill="#0001a1"/><rect x="1237" y="46" width="1" height="204" fill="#0002dc"/><rect x="1238" y="46" width="1" height="204" fill="#0001c6"/><rect x="1239" y="46" width="1" height="204" fill="#000098"/><rect x="1286" y="133" width="1" height="117" fill="url(#g0_112)"/><rect x="1287" y="127" width="1" height="123" fill="url(#g0_113)"/><rect x="1288" y="126" width="1" height="124" fill="url(#g0_114)"/><rect x="1289" y="127" width="1" height="123" fill="url(#g0_115)"/><rect x="1290" y="131" width="1" height="119" fill="url(#g0_116)"/><rect x="1296" y="215" width="1" height="35" fill="url(#g0_117)"/><rect x="1297" y="207" width="1" height="43" fill="url(#g0_118)"/><rect x="1298" y="206" width="1" height="44" fill="url(#g0_119)"/><rect x="1299" y="209" width="1" height="41" fill="url(#g0_120)"/><rect x="1300" y="232" width="1" height="18" fill="#000094"/><rect x="1307" y="161" width="1" height="89" fill="url(#g0_121)"/><rect x="1308" y="86" width="1" height="164" fill="url(#g0_122)"/><rect x="1309" y="77" width="1" height="173" fill="url(#g0_123)"/><rect x="1310" y="76" width="1" height="174" fill="url(#g0_124)"/><rect x="1311" y="77" width="1" height="173" fill="url(#g0_125)"/><rect x="1312" y="80" width="1" height="170" fill="url(#g0_126)"/><rect x="1313" y="117" width="1" height="133" fill="url(#g0_127)"/><rect x="1314" y="211" width="1" height="39" fill="url(#g0_128)"/><rect x="1315" y="246" width="1" height="4" fill="#000093"/><rect x="1339" y="247" width="1" height="3" fill="#000093"/><rect x="1340" y="145" width="1" height="105" fill="url(#g0_129)"/><rect x="1341" y="53" width="1" height="197" fill="url(#g0_130)"/><rect x="1342" y="46" width="1" height="204" fill="url(#g0_131)"/><rect x="1343" y="46" width="1" height="204" fill="url(#g0_132)"/><rect x="1344" y="46" width="1" height="204" fill="url(#g0_133)"/><rect x="1345" y="46" width="1" height="204" fill="url(#g0_134)"/><rect x="1346" y="105" width="1" height="145" fill="url(#g0_135)"/><rect x="1347" y="188" width="1" height="62" fill="url(#g0_136)"/><rect x="1348" y="187" width="1" height="63" fill="url(#g0_137)"/><rect x="1349" y="188" width="1" height="62" fill="url(#g0_138)"/><rect x="1350" y="191" width="1" height="59" fill="url(#g0_139)"/><rect x="1351" y="210" width="1" height="40" fill="url(#g0_140)"/><rect x="1352" y="174" width="1" height="76" fill="url(#g0_141)"/><rect x="1353" y="141" width="1" height="109" fill="url(#g0_142)"/><rect x="1354" y="137" width="1" height="113" fill="url(#g0_143)"/><rect x="1355" y="136" width="1" height="114" fill="url(#g0_144)"/><rect x="1356" y="137" width="1" height="113" fill="url(#g0_145)"/><rect x="1357" y="143" width="1" height="107" fill="url(#g0_146)"/><rect x="1358" y="189" width="1" height="61" fill="url(#g0_147)"/><rect x="1378" y="184" width="1" height="66" fill="url(#g0_148)"/><rect x="1379" y="151" width="1" height="99" fill="url(#g0_149)"/><rect x="1380" y="112" width="1" height="138" fill="url(#g0_150)"/><rect x="1381" y="107" width="1" height="143" fill="url(#g0_151)"/><rect x="1382" y="106" width="1" height="144" fill="url(#g0_152)"/><rect x="1383" y="107" width="1" height="143" fill="url(#g0_153)"/><rect x="1384" y="112" width="1" height="138" fill="url(#g0_154)"/><rect x="1385" y="151" width="1" height="99" fill="url(#g0_155)"/><rect x="1386" y="167" width="1" height="83" fill="url(#g0_156)"/><rect x="1387" y="167" width="1" height="83" fill="url(#g0_157)"/><rect x="1388" y="167" width="1" height="83" fill="url(#g0_158)"/><rect x="1389" y="170" width="1" height="80" fill="url(#g0_159)"/><rect x="1390" y="181" width="1" height="69" fill="url(#g0_160)"/><rect x="1391" y="215" width="1" height="35" fill="#000295"/><rect x="1411" y="160" width="1" height="90" fill="url(#g0_161)"/><rect x="1412" y="46" width="1" height="204" fill="url(#g0_162)"/><rect x="1413" y="46" width="1" height="204" fill="url(#g0_163)"/><rect x="1414" y="46" width="1" height="204" fill="url(#g0_164)"/><rect x="1415" y="46" width="1" height="204" fill="url(#g0_165)"/><rect x="1416" y="46" width="1" height="204" fill="url(#g0_166)"/><rect x="1417" y="46" width="1" height="204" fill="url(#g0_167)"/><rect x="1418" y="184" width="1" height="66" fill="url(#g0_168)"/></g>
<path d="M901.5 250v-6M901.5 46v6M976.5 250v-6M976.5 46v6M1052.5 250v-6M1052.5 46v6M1127.5 250v-6M1127.5 46v6M1202.5 250v-6M1202.5 46v6M1278.5 250v-6M1278.5 46v6M1353.5 250v-6M1353.5 46v6M826 224.5h6M1429 224.5h-6M826 203.5h6M1429 203.5h-6M826 185.5h6M1429 185.5h-6M826 153.5h6M1429 153.5h-6M826 127.5h6M1429 127.5h-6M826 103.5h6M1429 103.5h-6M826 83.5h6M1429 83.5h-6M826 65.5h6M1429 65.5h-6M826 48.5h6M1429 48.5h-6" stroke="#000" stroke-opacity="0.55" stroke-width="1" fill="none"/>
<path d="M826 250.5H1429.5V46" stroke="#8c8c9c" stroke-width="1" fill="none"/>
<path d="M826.5 250V46.5H1429" stroke="#000" stroke-opacity="0.3" stroke-width="1" fill="none"/>
<text x="826.3" y="265" font-size="12.2" text-anchor="middle">00:00</text>
<text x="901.675" y="265" font-size="12.2" text-anchor="middle">03:00</text>
<text x="977.05" y="265" font-size="12.2" text-anchor="middle">06:00</text>
<text x="1052.425" y="265" font-size="12.2" text-anchor="middle">09:00</text>
<text x="1127.8" y="265" font-size="12.2" text-anchor="middle">12:00</text>
<text x="1203.175" y="265" font-size="12.2" text-anchor="middle">15:00</text>
<text x="1278.55" y="265" font-size="12.2" text-anchor="middle">18:00</text>
<text x="1353.925" y="265" font-size="12.2" text-anchor="middle">21:00</text>
<text x="1429.3" y="265" font-size="12.2" text-anchor="middle">00:00</text>
<text x="822.7" y="251.39496802700128" font-size="12.2" text-anchor="end">7</text>
<text x="822.7" y="228.21391826738412" font-size="12.2" text-anchor="end">8</text>
<text x="822.7" y="207.76678327743596" font-size="12.2" text-anchor="end">9</text>
<text x="822.7" y="189.47619775923735" font-size="12.2" text-anchor="end">10</text>
<text x="822.7" y="157.82517549980676" font-size="12.2" text-anchor="end">12</text>
<text x="822.7" y="131.06461748179473" font-size="12.2" text-anchor="end">14</text>
<text x="822.7" y="107.88356772217762" font-size="12.2" text-anchor="end">16</text>
<text x="822.7" y="87.43643273222946" font-size="12.2" text-anchor="end">18</text>
<text x="822.7" y="69.14584721403082" font-size="12.2" text-anchor="end">20</text>
<text x="822.7" y="52.6" font-size="12.2" text-anchor="end">22</text>
<text class="b" font-size="12.3" text-anchor="middle" transform="translate(800 148.0) rotate(-90)">freq (mHz)</text>
<rect x="1448" y="46" width="25" height="205" fill="url(#cbar)"/>
<rect x="1448.5" y="46.5" width="24" height="204" fill="none" stroke="#000" stroke-opacity="0.18"/>
<path d="M1448 216.5h2M1473 216.5h-2M1448 182.5h2M1473 182.5h-2M1448 148.5h2M1473 148.5h-2M1448 114.5h2M1473 114.5h-2M1448 80.5h2M1473 80.5h-2" stroke="#000" stroke-opacity="0.6" stroke-width="1" fill="none"/>
<text x="1476.3" y="255.0" font-size="12.2">-2</text>
<text x="1476.3" y="221.0" font-size="12.2">-1</text>
<text x="1476.3" y="187.0" font-size="12.2">0</text>
<text x="1476.3" y="153.0" font-size="12.2">1</text>
<text x="1476.3" y="119.0" font-size="12.2">2</text>
<text x="1476.3" y="85.0" font-size="12.2">3</text>
<text x="1476.3" y="51.0" font-size="12.2">4</text>
<text class="b" font-size="12.3" text-anchor="middle" transform="translate(1508.5 148.0) rotate(-90)">log<tspan font-size="11" dy="4.5">2</tspan><tspan dy="-4.5">(nT</tspan><tspan font-size="11" dy="-6.8">2</tspan><tspan dy="6.8">/Hz)</tspan></text>
<rect x="826" y="330" width="603" height="204" fill="#00008f"/>
<defs><linearGradient id="g1_0" x1="0" y1="0" x2="0" y2="1"><stop offset="0.007" stop-color="#000093"/><stop offset="0.547" stop-color="#011bb5"/><stop offset="0.993" stop-color="#0b45ca"/></linearGradient><linearGradient id="g1_1" x1="0" y1="0" x2="0" y2="1"><stop offset="0.006" stop-color="#000093"/><stop offset="0.165" stop-color="#0009c3"/><stop offset="0.299" stop-color="#0043e2"/><stop offset="0.360" stop-color="#0163e9"/><stop offset="0.604" stop-color="#17a9db"/><stop offset="0.811" stop-color="#39cabd"/><stop offset="0.994" stop-color="#54d7a4"/></linearGradient><linearGradient id="g1_2" x1="0" y1="0" x2="0" y2="1"><stop offset="0.006" stop-color="#000094"/><stop offset="0.114" stop-color="#0004eb"/><stop offset="0.247" stop-color="#0075f9"/><stop offset="0.343" stop-color="#02d4fc"/><stop offset="0.512" stop-color="#38efc7"/><stop offset="0.741" stop-color="#92fa6d"/><stop offset="0.994" stop-color="#c9fd36"/></linearGradient><linearGradient id="g1_3" x1="0" y1="0" x2="0" y2="1"><stop offset="0.006" stop-color="#000094"/><stop offset="0.114" stop-color="#0003e4"/><stop offset="0.211" stop-color="#0049f4"/><stop offset="0.355" stop-color="#03cbf8"/><stop offset="0.536" stop-color="#37e9c8"/><stop offset="0.741" stop-color="#85f47a"/><stop offset="0.994" stop-color="#bafa45"/></linearGradient><linearGradient id="g1_4" x1="0" y1="0" x2="0" y2="1"><stop offset="0.006" stop-color="#000093"/><stop offset="0.191" stop-color="#000cbc"/><stop offset="0.315" stop-color="#003ad5"/><stop offset="0.586" stop-color="#0d83e2"/><stop offset="0.772" stop-color="#22abd0"/><stop offset="0.994" stop-color="#3bc2b9"/></linearGradient><linearGradient id="g1_5" x1="0" y1="0" x2="0" y2="1"><stop offset="0.007" stop-color="#000093"/><stop offset="0.993" stop-color="#0629b6"/></linearGradient><linearGradient id="g1_6" x1="0" y1="0" x2="0" y2="1"><stop offset="0.006" stop-color="#000093"/><stop offset="0.994" stop-color="#0001b1"/></linearGradient><linearGradient id="g1_7" x1="0" y1="0" x2="0" y2="1"><stop offset="0.005" stop-color="#000093"/><stop offset="0.995" stop-color="#0005ed"/></linearGradient><linearGradient id="g1_8" x1="0" y1="0" x2="0" y2="1"><stop offset="0.006" stop-color="#000093"/><stop offset="0.994" stop-color="#0004e6"/></linearGradient><linearGradient id="g1_9" x1="0" y1="0" x2="0" y2="1"><stop offset="0.007" stop-color="#000093"/><stop offset="0.993" stop-color="#0001a6"/></linearGradient><linearGradient id="g1_10" x1="0" y1="0" x2="0" y2="1"><stop offset="0.007" stop-color="#000092"/><stop offset="0.993" stop-color="#00019b"/></linearGradient><linearGradient id="g1_11" x1="0" y1="0" x2="0" y2="1"><stop offset="0.005" stop-color="#000093"/><stop offset="0.591" stop-color="#000ac7"/><stop offset="0.995" stop-color="#0012d8"/></linearGradient><linearGradient id="g1_12" x1="0" y1="0" x2="0" y2="1"><stop offset="0.005" stop-color="#000093"/><stop offset="0.422" stop-color="#0007ee"/><stop offset="0.704" stop-color="#003df8"/><stop offset="0.995" stop-color="#0041fa"/></linearGradient><linearGradient id="g1_13" x1="0" y1="0" x2="0" y2="1"><stop offset="0.005" stop-color="#000093"/><stop offset="0.456" stop-color="#0007e4"/><stop offset="0.711" stop-color="#002cf1"/><stop offset="0.995" stop-color="#0031f3"/></linearGradient><linearGradient id="g1_14" x1="0" y1="0" x2="0" y2="1"><stop offset="0.005" stop-color="#000093"/><stop offset="0.995" stop-color="#0009c1"/></linearGradient><linearGradient id="g1_15" x1="0" y1="0" x2="0" y2="1"><stop offset="0.008" stop-color="#000093"/><stop offset="0.926" stop-color="#000acb"/><stop offset="0.992" stop-color="#000dce"/></linearGradient><linearGradient id="g1_16" x1="0" y1="0" x2="0" y2="1"><stop offset="0.008" stop-color="#000093"/><stop offset="0.643" stop-color="#0006ed"/><stop offset="0.992" stop-color="#0037f7"/></linearGradient><linearGradient id="g1_17" x1="0" y1="0" x2="0" y2="1"><stop offset="0.008" stop-color="#000094"/><stop offset="0.702" stop-color="#0007e4"/><stop offset="0.992" stop-color="#0026f3"/></linearGradient><linearGradient id="g1_18" x1="0" y1="0" x2="0" y2="1"><stop offset="0.004" stop-color="#000093"/><stop offset="0.271" stop-color="#041598"/><stop offset="0.760" stop-color="#000da7"/><stop offset="0.973" stop-color="#0d25b7"/><stop offset="0.996" stop-color="#0f28bc"/></linearGradient><linearGradient id="g1_19" x1="0" y1="0" x2="0" y2="1"><stop offset="0.003" stop-color="#000093"/><stop offset="0.246" stop-color="#041c9c"/><stop offset="0.347" stop-color="#122ba2"/><stop offset="0.431" stop-color="#2d65a9"/><stop offset="0.468" stop-color="#41809d"/><stop offset="0.627" stop-color="#1f5cb5"/><stop offset="0.775" stop-color="#1c54b3"/><stop offset="0.833" stop-color="#1e5bb6"/><stop offset="0.934" stop-color="#458cab"/><stop offset="0.997" stop-color="#6eac86"/></linearGradient><linearGradient id="g1_20" x1="0" y1="0" x2="0" y2="1"><stop offset="0.003" stop-color="#000098"/><stop offset="0.065" stop-color="#0007d2"/><stop offset="0.217" stop-color="#078ce7"/><stop offset="0.317" stop-color="#48c6aa"/><stop offset="0.374" stop-color="#8ada69"/><stop offset="0.432" stop-color="#cab82f"/><stop offset="0.474" stop-color="#de8b1d"/><stop offset="0.647" stop-color="#afab48"/><stop offset="0.830" stop-color="#aead4a"/><stop offset="0.919" stop-color="#d78a26"/><stop offset="0.997" stop-color="#e86c17"/></linearGradient><linearGradient id="g1_21" x1="0" y1="0" x2="0" y2="1"><stop offset="0.003" stop-color="#000093"/><stop offset="0.065" stop-color="#0007dc"/><stop offset="0.201" stop-color="#029bed"/><stop offset="0.268" stop-color="#2cc4c6"/><stop offset="0.352" stop-color="#80dd76"/><stop offset="0.388" stop-color="#b3da45"/><stop offset="0.445" stop-color="#dea41f"/><stop offset="0.487" stop-color="#eb7114"/><stop offset="0.570" stop-color="#fb3a04"/><stop offset="0.659" stop-color="#ec3809"/><stop offset="0.841" stop-color="#ed3408"/><stop offset="0.935" stop-color="#fe2c00"/><stop offset="0.997" stop-color="#f64e09"/></linearGradient><linearGradient id="g1_22" x1="0" y1="0" x2="0" y2="1"><stop offset="0.003" stop-color="#000093"/><stop offset="0.145" stop-color="#0013a0"/><stop offset="0.255" stop-color="#0828ac"/><stop offset="0.355" stop-color="#1b4cac"/><stop offset="0.392" stop-color="#2a69ab"/><stop offset="0.445" stop-color="#508b9a"/><stop offset="0.476" stop-color="#74a67c"/><stop offset="0.497" stop-color="#9ab15a"/><stop offset="0.534" stop-color="#d19029"/><stop offset="0.582" stop-color="#ec5713"/><stop offset="0.639" stop-color="#ef2101"/><stop offset="0.692" stop-color="#e51500"/><stop offset="0.834" stop-color="#eb1a00"/><stop offset="0.903" stop-color="#ee4b0f"/><stop offset="0.961" stop-color="#d78c26"/><stop offset="0.997" stop-color="#afaa47"/></linearGradient><linearGradient id="g1_23" x1="0" y1="0" x2="0" y2="1"><stop offset="0.003" stop-color="#000092"/><stop offset="0.243" stop-color="#031199"/><stop offset="0.330" stop-color="#0f2092"/><stop offset="0.350" stop-color="#15279f"/><stop offset="0.383" stop-color="#1f4ea8"/><stop offset="0.410" stop-color="#3270a9"/><stop offset="0.437" stop-color="#51919e"/><stop offset="0.463" stop-color="#77af7b"/><stop offset="0.497" stop-color="#a7ae4f"/><stop offset="0.537" stop-color="#d0912b"/><stop offset="0.577" stop-color="#e06e1a"/><stop offset="0.777" stop-color="#df711b"/><stop offset="0.837" stop-color="#c0a139"/><stop offset="0.883" stop-color="#89b56c"/><stop offset="0.923" stop-color="#589f97"/><stop offset="0.950" stop-color="#3984ad"/><stop offset="0.990" stop-color="#1f57ae"/><stop offset="0.997" stop-color="#1d4eaa"/></linearGradient><linearGradient id="g1_24" x1="0" y1="0" x2="0" y2="1"><stop offset="0.005" stop-color="#000093"/><stop offset="0.167" stop-color="#0d209d"/><stop offset="0.227" stop-color="#1a3fae"/><stop offset="0.268" stop-color="#2464b6"/><stop offset="0.318" stop-color="#4390ab"/><stop offset="0.359" stop-color="#61ad92"/><stop offset="0.662" stop-color="#5daa95"/><stop offset="0.712" stop-color="#3887b3"/><stop offset="0.773" stop-color="#1e5bb4"/><stop offset="0.854" stop-color="#1026a3"/><stop offset="0.914" stop-color="#06189a"/><stop offset="0.995" stop-color="#000a98"/></linearGradient><linearGradient id="g1_25" x1="0" y1="0" x2="0" y2="1"><stop offset="0.007" stop-color="#000093"/><stop offset="0.239" stop-color="#0a1e9f"/><stop offset="0.587" stop-color="#0c22a6"/><stop offset="0.717" stop-color="#0a1fa1"/><stop offset="0.819" stop-color="#02129a"/><stop offset="0.993" stop-color="#000093"/></linearGradient><linearGradient id="g1_26" x1="0" y1="0" x2="0" y2="1"><stop offset="0.006" stop-color="#000093"/><stop offset="0.994" stop-color="#000196"/></linearGradient><linearGradient id="g1_27" x1="0" y1="0" x2="0" y2="1"><stop offset="0.004" stop-color="#000093"/><stop offset="0.340" stop-color="#0011b3"/><stop offset="0.520" stop-color="#002bcc"/><stop offset="0.906" stop-color="#012ec9"/><stop offset="0.996" stop-color="#001cbd"/></linearGradient><linearGradient id="g1_28" x1="0" y1="0" x2="0" y2="1"><stop offset="0.004" stop-color="#000094"/><stop offset="0.160" stop-color="#0008d6"/><stop offset="0.348" stop-color="#0061f1"/><stop offset="0.504" stop-color="#05b5f3"/><stop offset="0.902" stop-color="#12c3e5"/><stop offset="0.996" stop-color="#0096f4"/></linearGradient><linearGradient id="g1_29" x1="0" y1="0" x2="0" y2="1"><stop offset="0.004" stop-color="#000098"/><stop offset="0.129" stop-color="#0006f0"/><stop offset="0.348" stop-color="#009fff"/><stop offset="0.473" stop-color="#08e9f7"/><stop offset="0.551" stop-color="#19f0e6"/><stop offset="0.895" stop-color="#39f5c6"/><stop offset="0.996" stop-color="#00deff"/></linearGradient><linearGradient id="g1_30" x1="0" y1="0" x2="0" y2="1"><stop offset="0.004" stop-color="#000094"/><stop offset="0.160" stop-color="#0008d6"/><stop offset="0.348" stop-color="#0061f1"/><stop offset="0.504" stop-color="#05b5f3"/><stop offset="0.902" stop-color="#12c3e5"/><stop offset="0.996" stop-color="#0096f4"/></linearGradient><linearGradient id="g1_31" x1="0" y1="0" x2="0" y2="1"><stop offset="0.004" stop-color="#000093"/><stop offset="0.340" stop-color="#0011b3"/><stop offset="0.520" stop-color="#002bcc"/><stop offset="0.906" stop-color="#012ec9"/><stop offset="0.996" stop-color="#001cbd"/></linearGradient><linearGradient id="g1_32" x1="0" y1="0" x2="0" y2="1"><stop offset="0.006" stop-color="#000093"/><stop offset="0.994" stop-color="#000196"/></linearGradient><linearGradient id="g1_33" x1="0" y1="0" x2="0" y2="1"><stop offset="0.005" stop-color="#000093"/><stop offset="0.775" stop-color="#00049e"/><stop offset="0.995" stop-color="#00039e"/></linearGradient><linearGradient id="g1_34" x1="0" y1="0" x2="0" y2="1"><stop offset="0.005" stop-color="#000092"/><stop offset="0.275" stop-color="#0007d1"/><stop offset="0.485" stop-color="#0032e6"/><stop offset="0.995" stop-color="#001de2"/></linearGradient><linearGradient id="g1_35" x1="0" y1="0" x2="0" y2="1"><stop offset="0.005" stop-color="#000096"/><stop offset="0.225" stop-color="#0006ee"/><stop offset="0.465" stop-color="#0069fc"/><stop offset="0.995" stop-color="#0043fa"/></linearGradient><linearGradient id="g1_36" x1="0" y1="0" x2="0" y2="1"><stop offset="0.005" stop-color="#000092"/><stop offset="0.275" stop-color="#0007d1"/><stop offset="0.485" stop-color="#0032e6"/><stop offset="0.995" stop-color="#001de2"/></linearGradient><linearGradient id="g1_37" x1="0" y1="0" x2="0" y2="1"><stop offset="0.005" stop-color="#000093"/><stop offset="0.775" stop-color="#00049e"/><stop offset="0.995" stop-color="#00039e"/></linearGradient><linearGradient id="g1_38" x1="0" y1="0" x2="0" y2="1"><stop offset="0.007" stop-color="#000092"/><stop offset="0.585" stop-color="#00009d"/><stop offset="0.993" stop-color="#000093"/></linearGradient><linearGradient id="g1_39" x1="0" y1="0" x2="0" y2="1"><stop offset="0.006" stop-color="#000093"/><stop offset="0.420" stop-color="#0008e1"/><stop offset="0.626" stop-color="#0000cf"/><stop offset="0.994" stop-color="#000094"/></linearGradient><linearGradient id="g1_40" x1="0" y1="0" x2="0" y2="1"><stop offset="0.006" stop-color="#000094"/><stop offset="0.369" stop-color="#0005eb"/><stop offset="0.460" stop-color="#0011f0"/><stop offset="0.653" stop-color="#0000d8"/><stop offset="0.994" stop-color="#000093"/></linearGradient><linearGradient id="g1_41" x1="0" y1="0" x2="0" y2="1"><stop offset="0.006" stop-color="#000093"/><stop offset="0.488" stop-color="#0003b4"/><stop offset="0.994" stop-color="#000093"/></linearGradient><linearGradient id="g1_42" x1="0" y1="0" x2="0" y2="1"><stop offset="0.002" stop-color="#0653c1"/><stop offset="0.998" stop-color="#014ac7"/></linearGradient><linearGradient id="g1_43" x1="0" y1="0" x2="0" y2="1"><stop offset="0.002" stop-color="#1da8ca"/><stop offset="0.998" stop-color="#039de6"/></linearGradient><linearGradient id="g1_44" x1="0" y1="0" x2="0" y2="1"><stop offset="0.002" stop-color="#06229f"/><stop offset="0.998" stop-color="#0120aa"/></linearGradient><linearGradient id="g1_45" x1="0" y1="0" x2="0" y2="1"><stop offset="0.008" stop-color="#0000c2"/><stop offset="0.992" stop-color="#000093"/></linearGradient><linearGradient id="g1_46" x1="0" y1="0" x2="0" y2="1"><stop offset="0.002" stop-color="#0002e7"/><stop offset="0.365" stop-color="#00008f"/><stop offset="0.998" stop-color="#000096"/></linearGradient><linearGradient id="g1_47" x1="0" y1="0" x2="0" y2="1"><stop offset="0.002" stop-color="#0000b4"/><stop offset="0.409" stop-color="#00008f"/><stop offset="0.850" stop-color="#000096"/><stop offset="0.944" stop-color="#000cbe"/><stop offset="0.998" stop-color="#000cbe"/></linearGradient><linearGradient id="g1_48" x1="0" y1="0" x2="0" y2="1"><stop offset="0.002" stop-color="#000094"/><stop offset="0.836" stop-color="#000093"/><stop offset="0.890" stop-color="#0005e8"/><stop offset="0.934" stop-color="#0045f5"/><stop offset="0.998" stop-color="#0045f5"/></linearGradient><linearGradient id="g1_49" x1="0" y1="0" x2="0" y2="1"><stop offset="0.015" stop-color="#000093"/><stop offset="0.338" stop-color="#0005e8"/><stop offset="0.603" stop-color="#0045f5"/><stop offset="0.985" stop-color="#0045f5"/></linearGradient><linearGradient id="g1_50" x1="0" y1="0" x2="0" y2="1"><stop offset="0.016" stop-color="#000094"/><stop offset="0.641" stop-color="#000cbe"/><stop offset="0.984" stop-color="#000cbe"/></linearGradient><linearGradient id="g1_51" x1="0" y1="0" x2="0" y2="1"><stop offset="0.003" stop-color="#0002a7"/><stop offset="0.997" stop-color="#000092"/></linearGradient><linearGradient id="g1_52" x1="0" y1="0" x2="0" y2="1"><stop offset="0.003" stop-color="#000be4"/><stop offset="0.432" stop-color="#0000c8"/><stop offset="0.998" stop-color="#000093"/></linearGradient><linearGradient id="g1_53" x1="0" y1="0" x2="0" y2="1"><stop offset="0.003" stop-color="#0003c4"/><stop offset="0.997" stop-color="#000093"/></linearGradient><linearGradient id="g1_54" x1="0" y1="0" x2="0" y2="1"><stop offset="0.005" stop-color="#000093"/><stop offset="0.395" stop-color="#0011a9"/><stop offset="0.843" stop-color="#0016b1"/><stop offset="0.986" stop-color="#000095"/><stop offset="0.995" stop-color="#000093"/></linearGradient><linearGradient id="g1_55" x1="0" y1="0" x2="0" y2="1"><stop offset="0.005" stop-color="#000095"/><stop offset="0.176" stop-color="#0006da"/><stop offset="0.374" stop-color="#005af0"/><stop offset="0.473" stop-color="#008cf1"/><stop offset="0.815" stop-color="#01a0f2"/><stop offset="0.842" stop-color="#007cf1"/><stop offset="0.914" stop-color="#0018e4"/><stop offset="0.950" stop-color="#0000ca"/><stop offset="0.995" stop-color="#000094"/></linearGradient><linearGradient id="g1_56" x1="0" y1="0" x2="0" y2="1"><stop offset="0.005" stop-color="#000097"/><stop offset="0.149" stop-color="#0004eb"/><stop offset="0.410" stop-color="#00a1fa"/><stop offset="0.473" stop-color="#00c3fb"/><stop offset="0.824" stop-color="#01cffc"/><stop offset="0.932" stop-color="#0011f0"/><stop offset="0.950" stop-color="#0000e1"/><stop offset="0.995" stop-color="#000097"/></linearGradient><linearGradient id="g1_57" x1="0" y1="0" x2="0" y2="1"><stop offset="0.005" stop-color="#000094"/><stop offset="0.216" stop-color="#0009c3"/><stop offset="0.491" stop-color="#004fdd"/><stop offset="0.830" stop-color="#005be3"/><stop offset="0.913" stop-color="#0010ca"/><stop offset="0.977" stop-color="#0000a3"/><stop offset="0.995" stop-color="#000097"/></linearGradient><linearGradient id="g1_58" x1="0" y1="0" x2="0" y2="1"><stop offset="0.005" stop-color="#000093"/><stop offset="0.868" stop-color="#00079c"/><stop offset="0.995" stop-color="#000092"/></linearGradient><linearGradient id="g1_59" x1="0" y1="0" x2="0" y2="1"><stop offset="0.005" stop-color="#000093"/><stop offset="0.300" stop-color="#000fb6"/><stop offset="0.489" stop-color="#001bbc"/><stop offset="0.805" stop-color="#001abb"/><stop offset="0.953" stop-color="#00009d"/><stop offset="0.995" stop-color="#000093"/></linearGradient><linearGradient id="g1_60" x1="0" y1="0" x2="0" y2="1"><stop offset="0.005" stop-color="#000097"/><stop offset="0.158" stop-color="#0006e6"/><stop offset="0.311" stop-color="#0054f3"/><stop offset="0.383" stop-color="#007df4"/><stop offset="0.781" stop-color="#0093f4"/><stop offset="0.903" stop-color="#000fea"/><stop offset="0.934" stop-color="#0000d6"/><stop offset="0.995" stop-color="#000095"/></linearGradient><linearGradient id="g1_61" x1="0" y1="0" x2="0" y2="1"><stop offset="0.005" stop-color="#000097"/><stop offset="0.158" stop-color="#0006e6"/><stop offset="0.311" stop-color="#0054f3"/><stop offset="0.383" stop-color="#007df4"/><stop offset="0.781" stop-color="#0093f4"/><stop offset="0.903" stop-color="#000fea"/><stop offset="0.934" stop-color="#0000d6"/><stop offset="0.995" stop-color="#000095"/></linearGradient><linearGradient id="g1_62" x1="0" y1="0" x2="0" y2="1"><stop offset="0.005" stop-color="#000093"/><stop offset="0.300" stop-color="#000fb6"/><stop offset="0.489" stop-color="#001bbc"/><stop offset="0.805" stop-color="#001abb"/><stop offset="0.953" stop-color="#00009d"/><stop offset="0.995" stop-color="#000093"/></linearGradient><linearGradient id="g1_63" x1="0" y1="0" x2="0" y2="1"><stop offset="0.007" stop-color="#000092"/><stop offset="0.740" stop-color="#00079a"/><stop offset="0.993" stop-color="#000093"/></linearGradient><linearGradient id="g1_64" x1="0" y1="0" x2="0" y2="1"><stop offset="0.005" stop-color="#000094"/><stop offset="0.145" stop-color="#0010bc"/><stop offset="0.255" stop-color="#0345d1"/><stop offset="0.655" stop-color="#0343d1"/><stop offset="0.805" stop-color="#000eb9"/><stop offset="0.995" stop-color="#000093"/></linearGradient><linearGradient id="g1_65" x1="0" y1="0" x2="0" y2="1"><stop offset="0.005" stop-color="#000094"/><stop offset="0.082" stop-color="#0006e5"/><stop offset="0.149" stop-color="#004ff3"/><stop offset="0.236" stop-color="#03c2f6"/><stop offset="0.264" stop-color="#12d4e7"/><stop offset="0.649" stop-color="#10d2ea"/><stop offset="0.707" stop-color="#00a6f7"/><stop offset="0.870" stop-color="#0010eb"/><stop offset="0.918" stop-color="#0000d1"/><stop offset="0.995" stop-color="#000093"/></linearGradient><linearGradient id="g1_66" x1="0" y1="0" x2="0" y2="1"><stop offset="0.005" stop-color="#000095"/><stop offset="0.082" stop-color="#0008ec"/><stop offset="0.188" stop-color="#0090f9"/><stop offset="0.236" stop-color="#05d1f7"/><stop offset="0.274" stop-color="#19e1e4"/><stop offset="0.649" stop-color="#15dfe7"/><stop offset="0.697" stop-color="#00c0fb"/><stop offset="0.880" stop-color="#000eef"/><stop offset="0.928" stop-color="#0000cf"/><stop offset="0.995" stop-color="#000093"/></linearGradient><linearGradient id="g1_67" x1="0" y1="0" x2="0" y2="1"><stop offset="0.005" stop-color="#000094"/><stop offset="0.113" stop-color="#000abd"/><stop offset="0.201" stop-color="#0039d6"/><stop offset="0.260" stop-color="#0562df"/><stop offset="0.652" stop-color="#045fdf"/><stop offset="0.809" stop-color="#0013c5"/><stop offset="0.946" stop-color="#00009f"/><stop offset="0.995" stop-color="#000093"/></linearGradient><linearGradient id="g1_68" x1="0" y1="0" x2="0" y2="1"><stop offset="0.006" stop-color="#000093"/><stop offset="0.418" stop-color="#000d9e"/><stop offset="0.806" stop-color="#00059a"/><stop offset="0.994" stop-color="#000093"/></linearGradient><linearGradient id="g1_69" x1="0" y1="0" x2="0" y2="1"><stop offset="0.005" stop-color="#000093"/><stop offset="0.995" stop-color="#0002a8"/></linearGradient><linearGradient id="g1_70" x1="0" y1="0" x2="0" y2="1"><stop offset="0.005" stop-color="#000093"/><stop offset="0.968" stop-color="#0007e9"/><stop offset="0.995" stop-color="#0009ea"/></linearGradient><linearGradient id="g1_71" x1="0" y1="0" x2="0" y2="1"><stop offset="0.005" stop-color="#000093"/><stop offset="0.968" stop-color="#0007e9"/><stop offset="0.995" stop-color="#0009ea"/></linearGradient><linearGradient id="g1_72" x1="0" y1="0" x2="0" y2="1"><stop offset="0.005" stop-color="#000093"/><stop offset="0.995" stop-color="#0002a8"/></linearGradient><linearGradient id="g1_73" x1="0" y1="0" x2="0" y2="1"><stop offset="0.008" stop-color="#0002ad"/><stop offset="0.992" stop-color="#000093"/></linearGradient><linearGradient id="g1_74" x1="0" y1="0" x2="0" y2="1"><stop offset="0.007" stop-color="#000be5"/><stop offset="0.449" stop-color="#0000c6"/><stop offset="0.993" stop-color="#000093"/></linearGradient><linearGradient id="g1_75" x1="0" y1="0" x2="0" y2="1"><stop offset="0.008" stop-color="#0002bb"/><stop offset="0.992" stop-color="#000093"/></linearGradient><linearGradient id="g1_76" x1="0" y1="0" x2="0" y2="1"><stop offset="0.009" stop-color="#000093"/><stop offset="0.682" stop-color="#00009b"/><stop offset="0.991" stop-color="#000093"/></linearGradient><linearGradient id="g1_77" x1="0" y1="0" x2="0" y2="1"><stop offset="0.008" stop-color="#000094"/><stop offset="0.341" stop-color="#0008db"/><stop offset="0.477" stop-color="#001ee5"/><stop offset="0.720" stop-color="#0000cb"/><stop offset="0.992" stop-color="#000094"/></linearGradient><linearGradient id="g1_78" x1="0" y1="0" x2="0" y2="1"><stop offset="0.008" stop-color="#000096"/><stop offset="0.280" stop-color="#0004eb"/><stop offset="0.477" stop-color="#0039f4"/><stop offset="0.705" stop-color="#0001e7"/><stop offset="0.992" stop-color="#000096"/></linearGradient><linearGradient id="g1_79" x1="0" y1="0" x2="0" y2="1"><stop offset="0.008" stop-color="#000094"/><stop offset="0.414" stop-color="#0009c2"/><stop offset="0.539" stop-color="#0008c2"/><stop offset="0.992" stop-color="#000093"/></linearGradient><linearGradient id="g1_80" x1="0" y1="0" x2="0" y2="1"><stop offset="0.002" stop-color="#039ee6"/><stop offset="0.998" stop-color="#0085e9"/></linearGradient><linearGradient id="g1_81" x1="0" y1="0" x2="0" y2="1"><stop offset="0.002" stop-color="#0137be"/><stop offset="0.998" stop-color="#002ec3"/></linearGradient><linearGradient id="g1_82" x1="0" y1="0" x2="0" y2="1"><stop offset="0.003" stop-color="#0000a1"/><stop offset="0.973" stop-color="#000099"/><stop offset="0.997" stop-color="#000093"/></linearGradient><linearGradient id="g1_83" x1="0" y1="0" x2="0" y2="1"><stop offset="0.003" stop-color="#0002dc"/><stop offset="0.944" stop-color="#0000ce"/><stop offset="0.997" stop-color="#000093"/></linearGradient><linearGradient id="g1_84" x1="0" y1="0" x2="0" y2="1"><stop offset="0.003" stop-color="#0000c6"/><stop offset="0.950" stop-color="#0000bb"/><stop offset="0.997" stop-color="#000096"/></linearGradient><linearGradient id="g1_85" x1="0" y1="0" x2="0" y2="1"><stop offset="0.010" stop-color="#000093"/><stop offset="0.990" stop-color="#00009a"/></linearGradient><linearGradient id="g1_86" x1="0" y1="0" x2="0" y2="1"><stop offset="0.007" stop-color="#000093"/><stop offset="0.993" stop-color="#0001d0"/></linearGradient><linearGradient id="g1_87" x1="0" y1="0" x2="0" y2="1"><stop offset="0.007" stop-color="#000093"/><stop offset="0.993" stop-color="#0006ef"/></linearGradient><linearGradient id="g1_88" x1="0" y1="0" x2="0" y2="1"><stop offset="0.007" stop-color="#000093"/><stop offset="0.993" stop-color="#0001c1"/></linearGradient><linearGradient id="g1_89" x1="0" y1="0" x2="0" y2="1"><stop offset="0.008" stop-color="#000093"/><stop offset="0.573" stop-color="#0000a0"/><stop offset="0.992" stop-color="#000093"/></linearGradient><linearGradient id="g1_90" x1="0" y1="0" x2="0" y2="1"><stop offset="0.007" stop-color="#000093"/><stop offset="0.479" stop-color="#0001e1"/><stop offset="0.993" stop-color="#000094"/></linearGradient><linearGradient id="g1_91" x1="0" y1="0" x2="0" y2="1"><stop offset="0.007" stop-color="#000093"/><stop offset="0.479" stop-color="#0001e1"/><stop offset="0.993" stop-color="#000094"/></linearGradient><linearGradient id="g1_92" x1="0" y1="0" x2="0" y2="1"><stop offset="0.008" stop-color="#000093"/><stop offset="0.573" stop-color="#0000a0"/><stop offset="0.992" stop-color="#000093"/></linearGradient><linearGradient id="g1_93" x1="0" y1="0" x2="0" y2="1"><stop offset="0.007" stop-color="#000093"/><stop offset="0.730" stop-color="#000cb6"/><stop offset="0.993" stop-color="#001acb"/></linearGradient><linearGradient id="g1_94" x1="0" y1="0" x2="0" y2="1"><stop offset="0.006" stop-color="#000094"/><stop offset="0.331" stop-color="#0007d5"/><stop offset="0.645" stop-color="#003bf0"/><stop offset="0.994" stop-color="#007bf7"/></linearGradient><linearGradient id="g1_95" x1="0" y1="0" x2="0" y2="1"><stop offset="0.006" stop-color="#000095"/><stop offset="0.270" stop-color="#0005f1"/><stop offset="0.534" stop-color="#005cfe"/><stop offset="0.994" stop-color="#00b6ff"/></linearGradient><linearGradient id="g1_96" x1="0" y1="0" x2="0" y2="1"><stop offset="0.006" stop-color="#000093"/><stop offset="0.316" stop-color="#0007df"/><stop offset="0.626" stop-color="#0049f3"/><stop offset="0.994" stop-color="#008efb"/></linearGradient><linearGradient id="g1_97" x1="0" y1="0" x2="0" y2="1"><stop offset="0.006" stop-color="#000093"/><stop offset="0.744" stop-color="#0013c5"/><stop offset="0.994" stop-color="#0029da"/></linearGradient><linearGradient id="g1_98" x1="0" y1="0" x2="0" y2="1"><stop offset="0.012" stop-color="#000093"/><stop offset="0.988" stop-color="#00049c"/></linearGradient><linearGradient id="g1_99" x1="0" y1="0" x2="0" y2="1"><stop offset="0.006" stop-color="#000093"/><stop offset="0.547" stop-color="#091995"/><stop offset="0.747" stop-color="#121f98"/><stop offset="0.994" stop-color="#1c36a4"/></linearGradient><linearGradient id="g1_100" x1="0" y1="0" x2="0" y2="1"><stop offset="0.002" stop-color="#01119b"/><stop offset="0.248" stop-color="#0f188d"/><stop offset="0.566" stop-color="#13208f"/><stop offset="0.605" stop-color="#0e29a6"/><stop offset="0.654" stop-color="#0c38b9"/><stop offset="0.733" stop-color="#2766b1"/><stop offset="0.821" stop-color="#578294"/><stop offset="0.890" stop-color="#729779"/><stop offset="0.978" stop-color="#949353"/><stop offset="0.998" stop-color="#9d8b4a"/></linearGradient><linearGradient id="g1_101" x1="0" y1="0" x2="0" y2="1"><stop offset="0.002" stop-color="#1076cb"/><stop offset="0.071" stop-color="#488c93"/><stop offset="0.110" stop-color="#5e8a7d"/><stop offset="0.350" stop-color="#6f8d75"/><stop offset="0.527" stop-color="#7d8f71"/><stop offset="0.547" stop-color="#809a6f"/><stop offset="0.586" stop-color="#75c67c"/><stop offset="0.635" stop-color="#34cec1"/><stop offset="0.650" stop-color="#46d4b0"/><stop offset="0.694" stop-color="#99df5e"/><stop offset="0.738" stop-color="#cab231"/><stop offset="0.787" stop-color="#dd611c"/><stop offset="0.895" stop-color="#c13314"/><stop offset="0.998" stop-color="#a11d0a"/></linearGradient><linearGradient id="g1_102" x1="0" y1="0" x2="0" y2="1"><stop offset="0.002" stop-color="#2fc3c1"/><stop offset="0.066" stop-color="#98cc57"/><stop offset="0.105" stop-color="#afaa41"/><stop offset="0.542" stop-color="#ca892d"/><stop offset="0.591" stop-color="#bbe440"/><stop offset="0.635" stop-color="#5feca0"/><stop offset="0.645" stop-color="#6aee95"/><stop offset="0.689" stop-color="#ccf233"/><stop offset="0.733" stop-color="#e8a217"/><stop offset="0.782" stop-color="#f03709"/><stop offset="0.909" stop-color="#a61300"/><stop offset="0.998" stop-color="#910600"/></linearGradient><linearGradient id="g1_103" x1="0" y1="0" x2="0" y2="1"><stop offset="0.002" stop-color="#0a36ae"/><stop offset="0.100" stop-color="#234297"/><stop offset="0.287" stop-color="#294b9e"/><stop offset="0.547" stop-color="#3b608f"/><stop offset="0.581" stop-color="#377da3"/><stop offset="0.610" stop-color="#2a8dbb"/><stop offset="0.640" stop-color="#1990d5"/><stop offset="0.699" stop-color="#58be99"/><stop offset="0.752" stop-color="#93b560"/><stop offset="0.792" stop-color="#b29142"/><stop offset="0.909" stop-color="#c7601e"/><stop offset="0.998" stop-color="#b53a19"/></linearGradient><linearGradient id="g1_104" x1="0" y1="0" x2="0" y2="1"><stop offset="0.002" stop-color="#000494"/><stop offset="0.600" stop-color="#03159a"/><stop offset="0.708" stop-color="#0d22a6"/><stop offset="0.767" stop-color="#1b38a4"/><stop offset="0.875" stop-color="#305da7"/><stop offset="0.968" stop-color="#527e94"/><stop offset="0.998" stop-color="#5f8b88"/></linearGradient><linearGradient id="g1_105" x1="0" y1="0" x2="0" y2="1"><stop offset="0.008" stop-color="#000093"/><stop offset="0.960" stop-color="#0d1b94"/><stop offset="0.992" stop-color="#0e1c93"/></linearGradient></defs><g shape-rendering="crispEdges"><rect x="826" y="460" width="1" height="74" fill="url(#g1_0)"/><rect x="827" y="452" width="1" height="82" fill="url(#g1_1)"/><rect x="828" y="451" width="1" height="83" fill="url(#g1_2)"/><rect x="829" y="451" width="1" height="83" fill="url(#g1_3)"/><rect x="830" y="453" width="1" height="81" fill="url(#g1_4)"/><rect x="831" y="464" width="1" height="70" fill="url(#g1_5)"/><rect x="832" y="511" width="1" height="23" fill="#000194"/><rect x="857" y="521" width="1" height="13" fill="#000093"/><rect x="858" y="452" width="1" height="82" fill="url(#g1_6)"/><rect x="859" y="443" width="1" height="91" fill="url(#g1_7)"/><rect x="860" y="444" width="1" height="90" fill="url(#g1_8)"/><rect x="861" y="459" width="1" height="75" fill="url(#g1_9)"/><rect x="866" y="463" width="1" height="71" fill="url(#g1_10)"/><rect x="867" y="435" width="1" height="99" fill="url(#g1_11)"/><rect x="868" y="431" width="1" height="103" fill="url(#g1_12)"/><rect x="869" y="432" width="1" height="102" fill="url(#g1_13)"/><rect x="870" y="441" width="1" height="93" fill="url(#g1_14)"/><rect x="871" y="473" width="1" height="61" fill="url(#g1_15)"/><rect x="872" y="471" width="1" height="63" fill="url(#g1_16)"/><rect x="873" y="472" width="1" height="62" fill="url(#g1_17)"/><rect x="874" y="403" width="1" height="131" fill="url(#g1_18)"/><rect x="875" y="345" width="1" height="189" fill="url(#g1_19)"/><rect x="876" y="343" width="1" height="191" fill="url(#g1_20)"/><rect x="877" y="342" width="1" height="192" fill="url(#g1_21)"/><rect x="878" y="344" width="1" height="190" fill="url(#g1_22)"/><rect x="879" y="384" width="1" height="150" fill="url(#g1_23)"/><rect x="880" y="435" width="1" height="99" fill="url(#g1_24)"/><rect x="881" y="452" width="1" height="69" fill="url(#g1_25)"/><rect x="882" y="469" width="1" height="32" fill="#000093"/><rect x="883" y="451" width="1" height="83" fill="url(#g1_26)"/><rect x="884" y="412" width="1" height="122" fill="url(#g1_27)"/><rect x="885" y="406" width="1" height="128" fill="url(#g1_28)"/><rect x="886" y="406" width="1" height="128" fill="url(#g1_29)"/><rect x="887" y="406" width="1" height="128" fill="url(#g1_30)"/><rect x="888" y="412" width="1" height="122" fill="url(#g1_31)"/><rect x="889" y="451" width="1" height="83" fill="url(#g1_32)"/><rect x="928" y="443" width="1" height="91" fill="url(#g1_33)"/><rect x="929" y="434" width="1" height="100" fill="url(#g1_34)"/><rect x="930" y="434" width="1" height="100" fill="url(#g1_35)"/><rect x="931" y="434" width="1" height="100" fill="url(#g1_36)"/><rect x="932" y="443" width="1" height="91" fill="url(#g1_37)"/><rect x="944" y="388" width="1" height="71" fill="url(#g1_38)"/><rect x="945" y="381" width="1" height="87" fill="url(#g1_39)"/><rect x="946" y="381" width="1" height="88" fill="url(#g1_40)"/><rect x="947" y="384" width="1" height="81" fill="url(#g1_41)"/><rect x="948" y="408" width="1" height="27" fill="#000093"/><rect x="965" y="330" width="1" height="204" fill="#000a98"/><rect x="966" y="330" width="1" height="204" fill="url(#g1_42)"/><rect x="967" y="330" width="1" height="204" fill="url(#g1_43)"/><rect x="968" y="330" width="1" height="204" fill="url(#g1_44)"/><rect x="980" y="330" width="1" height="204" fill="#000093"/><rect x="981" y="330" width="1" height="204" fill="#0000ac"/><rect x="982" y="330" width="1" height="204" fill="#0000d7"/><rect x="983" y="330" width="1" height="204" fill="#0000ac"/><rect x="984" y="330" width="1" height="204" fill="#000093"/><rect x="1003" y="330" width="1" height="42" fill="#000095"/><rect x="1004" y="330" width="1" height="66" fill="url(#g1_45)"/><rect x="1005" y="330" width="1" height="204" fill="url(#g1_46)"/><rect x="1006" y="330" width="1" height="204" fill="url(#g1_47)"/><rect x="1007" y="330" width="1" height="204" fill="url(#g1_48)"/><rect x="1008" y="500" width="1" height="34" fill="url(#g1_49)"/><rect x="1009" y="502" width="1" height="32" fill="url(#g1_50)"/><rect x="1010" y="513" width="1" height="21" fill="#000095"/><rect x="1026" y="330" width="1" height="183" fill="url(#g1_51)"/><rect x="1027" y="330" width="1" height="200" fill="url(#g1_52)"/><rect x="1028" y="330" width="1" height="195" fill="url(#g1_53)"/><rect x="1029" y="330" width="1" height="129" fill="#000095"/><rect x="1070" y="475" width="1" height="38" fill="#000093"/><rect x="1071" y="423" width="1" height="105" fill="url(#g1_54)"/><rect x="1072" y="419" width="1" height="111" fill="url(#g1_55)"/><rect x="1073" y="419" width="1" height="111" fill="url(#g1_56)"/><rect x="1074" y="420" width="1" height="109" fill="url(#g1_57)"/><rect x="1075" y="431" width="1" height="95" fill="url(#g1_58)"/><rect x="1081" y="458" width="1" height="59" fill="#000195"/><rect x="1082" y="435" width="1" height="95" fill="url(#g1_59)"/><rect x="1083" y="433" width="1" height="98" fill="url(#g1_60)"/><rect x="1084" y="433" width="1" height="98" fill="url(#g1_61)"/><rect x="1085" y="435" width="1" height="95" fill="url(#g1_62)"/><rect x="1086" y="458" width="1" height="59" fill="#000195"/><rect x="1091" y="415" width="1" height="75" fill="url(#g1_63)"/><rect x="1092" y="405" width="1" height="100" fill="url(#g1_64)"/><rect x="1093" y="403" width="1" height="104" fill="url(#g1_65)"/><rect x="1094" y="403" width="1" height="104" fill="url(#g1_66)"/><rect x="1095" y="404" width="1" height="102" fill="url(#g1_67)"/><rect x="1096" y="411" width="1" height="85" fill="url(#g1_68)"/><rect x="1112" y="437" width="1" height="97" fill="url(#g1_69)"/><rect x="1113" y="424" width="1" height="110" fill="url(#g1_70)"/><rect x="1114" y="424" width="1" height="110" fill="url(#g1_71)"/><rect x="1115" y="437" width="1" height="97" fill="url(#g1_72)"/><rect x="1120" y="330" width="1" height="63" fill="url(#g1_73)"/><rect x="1121" y="330" width="1" height="68" fill="url(#g1_74)"/><rect x="1122" y="330" width="1" height="65" fill="url(#g1_75)"/><rect x="1123" y="330" width="1" height="34" fill="#000094"/><rect x="1151" y="414" width="1" height="55" fill="url(#g1_76)"/><rect x="1152" y="409" width="1" height="66" fill="url(#g1_77)"/><rect x="1153" y="409" width="1" height="66" fill="url(#g1_78)"/><rect x="1154" y="410" width="1" height="64" fill="url(#g1_79)"/><rect x="1155" y="422" width="1" height="38" fill="#000095"/><rect x="1184" y="330" width="1" height="204" fill="#000096"/><rect x="1185" y="330" width="1" height="204" fill="#0001bf"/><rect x="1186" y="330" width="1" height="204" fill="#0002e0"/><rect x="1187" y="330" width="1" height="204" fill="#0001a6"/><rect x="1218" y="330" width="1" height="204" fill="#000094"/><rect x="1219" y="330" width="1" height="204" fill="#001fb3"/><rect x="1220" y="330" width="1" height="204" fill="url(#g1_80)"/><rect x="1221" y="330" width="1" height="204" fill="url(#g1_81)"/><rect x="1222" y="330" width="1" height="204" fill="#000496"/><rect x="1227" y="330" width="1" height="204" fill="#000094"/><rect x="1228" y="330" width="1" height="204" fill="#0013b6"/><rect x="1229" y="330" width="1" height="204" fill="#0055ea"/><rect x="1230" y="330" width="1" height="204" fill="#001ec5"/><rect x="1231" y="330" width="1" height="204" fill="#000397"/><rect x="1236" y="330" width="1" height="168" fill="url(#g1_82)"/><rect x="1237" y="330" width="1" height="170" fill="url(#g1_83)"/><rect x="1238" y="330" width="1" height="169" fill="url(#g1_84)"/><rect x="1239" y="330" width="1" height="166" fill="#000097"/><rect x="1309" y="486" width="1" height="48" fill="url(#g1_85)"/><rect x="1310" y="464" width="1" height="70" fill="url(#g1_86)"/><rect x="1311" y="462" width="1" height="72" fill="url(#g1_87)"/><rect x="1312" y="466" width="1" height="68" fill="url(#g1_88)"/><rect x="1313" y="498" width="1" height="36" fill="#000094"/><rect x="1342" y="421" width="1" height="62" fill="url(#g1_89)"/><rect x="1343" y="416" width="1" height="72" fill="url(#g1_90)"/><rect x="1344" y="416" width="1" height="72" fill="url(#g1_91)"/><rect x="1345" y="421" width="1" height="62" fill="url(#g1_92)"/><rect x="1381" y="507" width="1" height="27" fill="#000096"/><rect x="1382" y="458" width="1" height="76" fill="url(#g1_93)"/><rect x="1383" y="448" width="1" height="86" fill="url(#g1_94)"/><rect x="1384" y="447" width="1" height="87" fill="url(#g1_95)"/><rect x="1385" y="447" width="1" height="87" fill="url(#g1_96)"/><rect x="1386" y="454" width="1" height="80" fill="url(#g1_97)"/><rect x="1387" y="492" width="1" height="42" fill="url(#g1_98)"/><rect x="1410" y="515" width="1" height="19" fill="#000294"/><rect x="1411" y="449" width="1" height="85" fill="url(#g1_99)"/><rect x="1412" y="330" width="1" height="204" fill="url(#g1_100)"/><rect x="1413" y="330" width="1" height="204" fill="url(#g1_101)"/><rect x="1414" y="330" width="1" height="204" fill="url(#g1_102)"/><rect x="1415" y="330" width="1" height="204" fill="url(#g1_103)"/><rect x="1416" y="330" width="1" height="204" fill="url(#g1_104)"/><rect x="1417" y="471" width="1" height="63" fill="url(#g1_105)"/></g>
<path d="M901.5 534v-6M901.5 330v6M976.5 534v-6M976.5 330v6M1052.5 534v-6M1052.5 330v6M1127.5 534v-6M1127.5 330v6M1202.5 534v-6M1202.5 330v6M1278.5 534v-6M1278.5 330v6M1353.5 534v-6M1353.5 330v6M826 508.5h6M1429 508.5h-6M826 487.5h6M1429 487.5h-6M826 469.5h6M1429 469.5h-6M826 437.5h6M1429 437.5h-6M826 411.5h6M1429 411.5h-6M826 387.5h6M1429 387.5h-6M826 367.5h6M1429 367.5h-6M826 349.5h6M1429 349.5h-6M826 332.5h6M1429 332.5h-6" stroke="#000" stroke-opacity="0.55" stroke-width="1" fill="none"/>
<path d="M826 534.5H1429.5V330" stroke="#8c8c9c" stroke-width="1" fill="none"/>
<path d="M826.5 534V330.5H1429" stroke="#000" stroke-opacity="0.3" stroke-width="1" fill="none"/>
<text x="826.3" y="549" font-size="12.2" text-anchor="middle">00:00</text>
<text x="901.675" y="549" font-size="12.2" text-anchor="middle">03:00</text>
<text x="977.05" y="549" font-size="12.2" text-anchor="middle">06:00</text>
<text x="1052.425" y="549" font-size="12.2" text-anchor="middle">09:00</text>
<text x="1127.8" y="549" font-size="12.2" text-anchor="middle">12:00</text>
<text x="1203.175" y="549" font-size="12.2" text-anchor="middle">15:00</text>
<text x="1278.55" y="549" font-size="12.2" text-anchor="middle">18:00</text>
<text x="1353.925" y="549" font-size="12.2" text-anchor="middle">21:00</text>
<text x="1429.3" y="549" font-size="12.2" text-anchor="middle">00:00</text>
<text x="822.7" y="535.3949680270013" font-size="12.2" text-anchor="end">7</text>
<text x="822.7" y="512.2139182673841" font-size="12.2" text-anchor="end">8</text>
<text x="822.7" y="491.76678327743593" font-size="12.2" text-anchor="end">9</text>
<text x="822.7" y="473.47619775923727" font-size="12.2" text-anchor="end">10</text>
<text x="822.7" y="441.82517549980673" font-size="12.2" text-anchor="end">12</text>
<text x="822.7" y="415.0646174817947" font-size="12.2" text-anchor="end">14</text>
<text x="822.7" y="391.8835677221776" font-size="12.2" text-anchor="end">16</text>
<text x="822.7" y="371.43643273222943" font-size="12.2" text-anchor="end">18</text>
<text x="822.7" y="353.14584721403077" font-size="12.2" text-anchor="end">20</text>
<text x="822.7" y="336.59999999999997" font-size="12.2" text-anchor="end">22</text>
<text class="b" font-size="12.3" text-anchor="middle" transform="translate(800 432.0) rotate(-90)">freq (mHz)</text>
<rect x="1448" y="330" width="25" height="205" fill="url(#cbar)"/>
<rect x="1448.5" y="330.5" width="24" height="204" fill="none" stroke="#000" stroke-opacity="0.18"/>
<path d="M1448 500.5h2M1473 500.5h-2M1448 466.5h2M1473 466.5h-2M1448 432.5h2M1473 432.5h-2M1448 398.5h2M1473 398.5h-2M1448 364.5h2M1473 364.5h-2" stroke="#000" stroke-opacity="0.6" stroke-width="1" fill="none"/>
<text x="1476.3" y="539.0" font-size="12.2">-2</text>
<text x="1476.3" y="505.0" font-size="12.2">-1</text>
<text x="1476.3" y="471.0" font-size="12.2">0</text>
<text x="1476.3" y="437.0" font-size="12.2">1</text>
<text x="1476.3" y="403.0" font-size="12.2">2</text>
<text x="1476.3" y="369.0" font-size="12.2">3</text>
<text x="1476.3" y="335.0" font-size="12.2">4</text>
<text class="b" font-size="12.3" text-anchor="middle" transform="translate(1508.5 432.0) rotate(-90)">log<tspan font-size="11" dy="4.5">2</tspan><tspan dy="-4.5">(nT</tspan><tspan font-size="11" dy="-6.8">2</tspan><tspan dy="6.8">/Hz)</tspan></text>
<rect x="826" y="614" width="603" height="204" fill="#00008f"/>
<defs><linearGradient id="g2_0" x1="0" y1="0" x2="0" y2="1"><stop offset="0.012" stop-color="#000092"/><stop offset="0.988" stop-color="#00029a"/></linearGradient><linearGradient id="g2_1" x1="0" y1="0" x2="0" y2="1"><stop offset="0.009" stop-color="#000093"/><stop offset="0.500" stop-color="#000bc3"/><stop offset="0.991" stop-color="#001dd3"/></linearGradient><linearGradient id="g2_2" x1="0" y1="0" x2="0" y2="1"><stop offset="0.008" stop-color="#000096"/><stop offset="0.331" stop-color="#0006ec"/><stop offset="0.568" stop-color="#003ef6"/><stop offset="0.992" stop-color="#0063f9"/></linearGradient><linearGradient id="g2_3" x1="0" y1="0" x2="0" y2="1"><stop offset="0.008" stop-color="#000095"/><stop offset="0.347" stop-color="#0007e7"/><stop offset="0.585" stop-color="#0036f3"/><stop offset="0.992" stop-color="#0059f6"/></linearGradient><linearGradient id="g2_4" x1="0" y1="0" x2="0" y2="1"><stop offset="0.009" stop-color="#000093"/><stop offset="0.777" stop-color="#000cbd"/><stop offset="0.991" stop-color="#0012c4"/></linearGradient><linearGradient id="g2_5" x1="0" y1="0" x2="0" y2="1"><stop offset="0.003" stop-color="#000092"/><stop offset="0.443" stop-color="#01169f"/><stop offset="0.780" stop-color="#02199f"/><stop offset="0.943" stop-color="#00079c"/><stop offset="0.997" stop-color="#000093"/></linearGradient><linearGradient id="g2_6" x1="0" y1="0" x2="0" y2="1"><stop offset="0.003" stop-color="#000094"/><stop offset="0.156" stop-color="#000bbe"/><stop offset="0.371" stop-color="#045cd7"/><stop offset="0.500" stop-color="#1e97d1"/><stop offset="0.561" stop-color="#2facc1"/><stop offset="0.745" stop-color="#28a8c7"/><stop offset="0.874" stop-color="#087ce1"/><stop offset="0.917" stop-color="#0266e2"/><stop offset="0.954" stop-color="#0017d1"/><stop offset="0.979" stop-color="#0000b3"/><stop offset="0.997" stop-color="#000094"/></linearGradient><linearGradient id="g2_7" x1="0" y1="0" x2="0" y2="1"><stop offset="0.003" stop-color="#000097"/><stop offset="0.107" stop-color="#0006e7"/><stop offset="0.338" stop-color="#03c5f5"/><stop offset="0.460" stop-color="#47e3b7"/><stop offset="0.558" stop-color="#85f27a"/><stop offset="0.735" stop-color="#82f27d"/><stop offset="0.918" stop-color="#07d3f5"/><stop offset="0.936" stop-color="#008ffa"/><stop offset="0.973" stop-color="#0008ee"/><stop offset="0.997" stop-color="#00009a"/></linearGradient><linearGradient id="g2_8" x1="0" y1="0" x2="0" y2="1"><stop offset="0.003" stop-color="#000093"/><stop offset="0.137" stop-color="#0009c8"/><stop offset="0.314" stop-color="#005fdf"/><stop offset="0.405" stop-color="#0a8fe4"/><stop offset="0.552" stop-color="#42cab1"/><stop offset="0.741" stop-color="#3dc9b6"/><stop offset="0.905" stop-color="#0494ec"/><stop offset="0.918" stop-color="#0287ee"/><stop offset="0.960" stop-color="#0015db"/><stop offset="0.979" stop-color="#0000bf"/><stop offset="0.997" stop-color="#000096"/></linearGradient><linearGradient id="g2_9" x1="0" y1="0" x2="0" y2="1"><stop offset="0.003" stop-color="#000093"/><stop offset="0.399" stop-color="#0118a1"/><stop offset="0.568" stop-color="#092bae"/><stop offset="0.776" stop-color="#0623ae"/><stop offset="0.932" stop-color="#0011a3"/><stop offset="0.997" stop-color="#000094"/></linearGradient><linearGradient id="g2_10" x1="0" y1="0" x2="0" y2="1"><stop offset="0.008" stop-color="#000093"/><stop offset="0.558" stop-color="#0007c0"/><stop offset="0.992" stop-color="#000093"/></linearGradient><linearGradient id="g2_11" x1="0" y1="0" x2="0" y2="1"><stop offset="0.008" stop-color="#000095"/><stop offset="0.373" stop-color="#0006ec"/><stop offset="0.548" stop-color="#0029f5"/><stop offset="0.722" stop-color="#0000e6"/><stop offset="0.992" stop-color="#000096"/></linearGradient><linearGradient id="g2_12" x1="0" y1="0" x2="0" y2="1"><stop offset="0.008" stop-color="#000094"/><stop offset="0.405" stop-color="#0006e2"/><stop offset="0.548" stop-color="#001beb"/><stop offset="0.738" stop-color="#0000d2"/><stop offset="0.992" stop-color="#000095"/></linearGradient><linearGradient id="g2_13" x1="0" y1="0" x2="0" y2="1"><stop offset="0.009" stop-color="#000093"/><stop offset="0.620" stop-color="#0002a3"/><stop offset="0.991" stop-color="#000093"/></linearGradient><linearGradient id="g2_14" x1="0" y1="0" x2="0" y2="1"><stop offset="0.007" stop-color="#000093"/><stop offset="0.655" stop-color="#00009f"/><stop offset="0.993" stop-color="#000093"/></linearGradient><linearGradient id="g2_15" x1="0" y1="0" x2="0" y2="1"><stop offset="0.006" stop-color="#000093"/><stop offset="0.576" stop-color="#0001df"/><stop offset="0.994" stop-color="#000094"/></linearGradient><linearGradient id="g2_16" x1="0" y1="0" x2="0" y2="1"><stop offset="0.006" stop-color="#000093"/><stop offset="0.576" stop-color="#0001df"/><stop offset="0.994" stop-color="#000094"/></linearGradient><linearGradient id="g2_17" x1="0" y1="0" x2="0" y2="1"><stop offset="0.007" stop-color="#000093"/><stop offset="0.655" stop-color="#00009f"/><stop offset="0.993" stop-color="#000093"/></linearGradient><linearGradient id="g2_18" x1="0" y1="0" x2="0" y2="1"><stop offset="0.002" stop-color="#002bc1"/><stop offset="0.998" stop-color="#003ac7"/></linearGradient><linearGradient id="g2_19" x1="0" y1="0" x2="0" y2="1"><stop offset="0.002" stop-color="#0088ec"/><stop offset="0.998" stop-color="#00a2ee"/></linearGradient><linearGradient id="g2_20" x1="0" y1="0" x2="0" y2="1"><stop offset="0.002" stop-color="#002bc1"/><stop offset="0.998" stop-color="#003ac7"/></linearGradient><linearGradient id="g2_21" x1="0" y1="0" x2="0" y2="1"><stop offset="0.002" stop-color="#0427b0"/><stop offset="0.635" stop-color="#0a34a9"/><stop offset="0.998" stop-color="#1142b5"/></linearGradient><linearGradient id="g2_22" x1="0" y1="0" x2="0" y2="1"><stop offset="0.002" stop-color="#13b2da"/><stop offset="0.679" stop-color="#34c4ba"/><stop offset="0.998" stop-color="#51cfa2"/></linearGradient><linearGradient id="g2_23" x1="0" y1="0" x2="0" y2="1"><stop offset="0.002" stop-color="#0461ce"/><stop offset="0.669" stop-color="#1276c9"/><stop offset="0.998" stop-color="#208fbe"/></linearGradient><linearGradient id="g2_24" x1="0" y1="0" x2="0" y2="1"><stop offset="0.002" stop-color="#000d9a"/><stop offset="0.998" stop-color="#031699"/></linearGradient><linearGradient id="g2_25" x1="0" y1="0" x2="0" y2="1"><stop offset="0.007" stop-color="#000092"/><stop offset="0.799" stop-color="#000498"/><stop offset="0.993" stop-color="#000093"/></linearGradient><linearGradient id="g2_26" x1="0" y1="0" x2="0" y2="1"><stop offset="0.005" stop-color="#000093"/><stop offset="0.188" stop-color="#0011ab"/><stop offset="0.435" stop-color="#0633bd"/><stop offset="0.640" stop-color="#104dbe"/><stop offset="0.898" stop-color="#0227ba"/><stop offset="0.973" stop-color="#00019c"/><stop offset="0.995" stop-color="#000095"/></linearGradient><linearGradient id="g2_27" x1="0" y1="0" x2="0" y2="1"><stop offset="0.005" stop-color="#000093"/><stop offset="0.089" stop-color="#0005d9"/><stop offset="0.182" stop-color="#0053f0"/><stop offset="0.266" stop-color="#06abed"/><stop offset="0.505" stop-color="#41d6b5"/><stop offset="0.630" stop-color="#69e18f"/><stop offset="0.880" stop-color="#1ac3db"/><stop offset="0.891" stop-color="#0fbbe6"/><stop offset="0.911" stop-color="#0088f2"/><stop offset="0.943" stop-color="#0031eb"/><stop offset="0.964" stop-color="#0007dc"/><stop offset="0.995" stop-color="#00009a"/></linearGradient><linearGradient id="g2_28" x1="0" y1="0" x2="0" y2="1"><stop offset="0.005" stop-color="#000095"/><stop offset="0.078" stop-color="#0003eb"/><stop offset="0.203" stop-color="#009afa"/><stop offset="0.245" stop-color="#03d1f9"/><stop offset="0.318" stop-color="#22e3dc"/><stop offset="0.630" stop-color="#9ff860"/><stop offset="0.880" stop-color="#35e7ca"/><stop offset="0.901" stop-color="#09d8f4"/><stop offset="0.922" stop-color="#0097fb"/><stop offset="0.964" stop-color="#0011f1"/><stop offset="0.974" stop-color="#0000e0"/><stop offset="0.995" stop-color="#00009f"/></linearGradient><linearGradient id="g2_29" x1="0" y1="0" x2="0" y2="1"><stop offset="0.005" stop-color="#000096"/><stop offset="0.100" stop-color="#0007c3"/><stop offset="0.205" stop-color="#0042dc"/><stop offset="0.268" stop-color="#046be2"/><stop offset="0.447" stop-color="#1796d8"/><stop offset="0.626" stop-color="#39b7b9"/><stop offset="0.879" stop-color="#0b82e3"/><stop offset="0.900" stop-color="#0265e4"/><stop offset="0.942" stop-color="#0017d0"/><stop offset="0.974" stop-color="#0000b0"/><stop offset="0.995" stop-color="#000095"/></linearGradient><linearGradient id="g2_30" x1="0" y1="0" x2="0" y2="1"><stop offset="0.006" stop-color="#000093"/><stop offset="0.680" stop-color="#041da9"/><stop offset="0.916" stop-color="#000e9e"/><stop offset="0.994" stop-color="#000093"/></linearGradient><linearGradient id="g2_31" x1="0" y1="0" x2="0" y2="1"><stop offset="0.005" stop-color="#000092"/><stop offset="0.157" stop-color="#000cb5"/><stop offset="0.278" stop-color="#002bc4"/><stop offset="0.672" stop-color="#0027c3"/><stop offset="0.854" stop-color="#0004aa"/><stop offset="0.995" stop-color="#000093"/></linearGradient><linearGradient id="g2_32" x1="0" y1="0" x2="0" y2="1"><stop offset="0.005" stop-color="#000094"/><stop offset="0.093" stop-color="#0006e7"/><stop offset="0.181" stop-color="#005bf4"/><stop offset="0.260" stop-color="#00b0f6"/><stop offset="0.652" stop-color="#00acf6"/><stop offset="0.848" stop-color="#0012ec"/><stop offset="0.907" stop-color="#0000d2"/><stop offset="0.995" stop-color="#000093"/></linearGradient><linearGradient id="g2_33" x1="0" y1="0" x2="0" y2="1"><stop offset="0.005" stop-color="#000094"/><stop offset="0.093" stop-color="#0006e7"/><stop offset="0.181" stop-color="#005bf4"/><stop offset="0.260" stop-color="#00b0f6"/><stop offset="0.652" stop-color="#00acf6"/><stop offset="0.848" stop-color="#0012ec"/><stop offset="0.907" stop-color="#0000d2"/><stop offset="0.995" stop-color="#000093"/></linearGradient><linearGradient id="g2_34" x1="0" y1="0" x2="0" y2="1"><stop offset="0.005" stop-color="#000092"/><stop offset="0.157" stop-color="#000cb5"/><stop offset="0.278" stop-color="#002bc4"/><stop offset="0.672" stop-color="#0027c3"/><stop offset="0.854" stop-color="#0004aa"/><stop offset="0.995" stop-color="#000093"/></linearGradient><linearGradient id="g2_35" x1="0" y1="0" x2="0" y2="1"><stop offset="0.004" stop-color="#000093"/><stop offset="0.169" stop-color="#000fb5"/><stop offset="0.269" stop-color="#002bc3"/><stop offset="0.649" stop-color="#01149e"/><stop offset="0.996" stop-color="#000093"/></linearGradient><linearGradient id="g2_36" x1="0" y1="0" x2="0" y2="1"><stop offset="0.004" stop-color="#000093"/><stop offset="0.088" stop-color="#0006e4"/><stop offset="0.164" stop-color="#0050f2"/><stop offset="0.256" stop-color="#03b9f3"/><stop offset="0.454" stop-color="#18a7d9"/><stop offset="0.668" stop-color="#1673c9"/><stop offset="0.844" stop-color="#0a31b6"/><stop offset="0.981" stop-color="#031aa3"/><stop offset="0.996" stop-color="#0219a0"/></linearGradient><linearGradient id="g2_37" x1="0" y1="0" x2="0" y2="1"><stop offset="0.004" stop-color="#000093"/><stop offset="0.080" stop-color="#0003e7"/><stop offset="0.156" stop-color="#0053f5"/><stop offset="0.256" stop-color="#05ccf5"/><stop offset="0.370" stop-color="#30e9cf"/><stop offset="0.576" stop-color="#7dee82"/><stop offset="0.645" stop-color="#88eb75"/><stop offset="0.844" stop-color="#4ecfa7"/><stop offset="0.996" stop-color="#2799c8"/></linearGradient><linearGradient id="g2_38" x1="0" y1="0" x2="0" y2="1"><stop offset="0.002" stop-color="#000a94"/><stop offset="0.370" stop-color="#000999"/><stop offset="0.449" stop-color="#0015c2"/><stop offset="0.537" stop-color="#025bdf"/><stop offset="0.596" stop-color="#0ba0e9"/><stop offset="0.664" stop-color="#34dcc7"/><stop offset="0.757" stop-color="#94f96b"/><stop offset="0.841" stop-color="#aefd51"/><stop offset="0.968" stop-color="#abf654"/><stop offset="0.998" stop-color="#a3f15c"/></linearGradient><linearGradient id="g2_39" x1="0" y1="0" x2="0" y2="1"><stop offset="0.002" stop-color="#27458d"/><stop offset="0.463" stop-color="#234b98"/><stop offset="0.591" stop-color="#2261ab"/><stop offset="0.659" stop-color="#2780c6"/><stop offset="0.718" stop-color="#32bccd"/><stop offset="0.772" stop-color="#4de9b2"/><stop offset="0.904" stop-color="#98ff67"/><stop offset="0.998" stop-color="#c3ff3c"/></linearGradient><linearGradient id="g2_40" x1="0" y1="0" x2="0" y2="1"><stop offset="0.002" stop-color="#b38433"/><stop offset="0.547" stop-color="#9faf47"/><stop offset="0.708" stop-color="#97c75c"/><stop offset="0.855" stop-color="#9cdf58"/><stop offset="0.998" stop-color="#9ce058"/></linearGradient><linearGradient id="g2_41" x1="0" y1="0" x2="0" y2="1"><stop offset="0.002" stop-color="#27458d"/><stop offset="0.998" stop-color="#1b499e"/></linearGradient><linearGradient id="g2_42" x1="0" y1="0" x2="0" y2="1"><stop offset="0.003" stop-color="#000093"/><stop offset="0.190" stop-color="#000eb5"/><stop offset="0.339" stop-color="#001ebe"/><stop offset="0.726" stop-color="#0028c4"/><stop offset="0.997" stop-color="#001ec2"/></linearGradient><linearGradient id="g2_43" x1="0" y1="0" x2="0" y2="1"><stop offset="0.003" stop-color="#000097"/><stop offset="0.105" stop-color="#0006e6"/><stop offset="0.207" stop-color="#0056f3"/><stop offset="0.258" stop-color="#007ef4"/><stop offset="0.653" stop-color="#00adf6"/><stop offset="0.997" stop-color="#0084f5"/></linearGradient><linearGradient id="g2_44" x1="0" y1="0" x2="0" y2="1"><stop offset="0.003" stop-color="#000097"/><stop offset="0.105" stop-color="#0006e6"/><stop offset="0.207" stop-color="#0056f3"/><stop offset="0.258" stop-color="#007ef4"/><stop offset="0.653" stop-color="#00adf6"/><stop offset="0.997" stop-color="#0084f5"/></linearGradient><linearGradient id="g2_45" x1="0" y1="0" x2="0" y2="1"><stop offset="0.003" stop-color="#000093"/><stop offset="0.190" stop-color="#000eb5"/><stop offset="0.339" stop-color="#001ebe"/><stop offset="0.726" stop-color="#0028c4"/><stop offset="0.997" stop-color="#001ec2"/></linearGradient><linearGradient id="g2_46" x1="0" y1="0" x2="0" y2="1"><stop offset="0.002" stop-color="#151488"/><stop offset="0.998" stop-color="#04199c"/></linearGradient><linearGradient id="g2_47" x1="0" y1="0" x2="0" y2="1"><stop offset="0.002" stop-color="#796f67"/><stop offset="0.458" stop-color="#61967f"/><stop offset="0.713" stop-color="#459aa4"/><stop offset="0.998" stop-color="#1790d6"/></linearGradient><linearGradient id="g2_48" x1="0" y1="0" x2="0" y2="1"><stop offset="0.002" stop-color="#796f67"/><stop offset="0.458" stop-color="#61967f"/><stop offset="0.713" stop-color="#459aa4"/><stop offset="0.998" stop-color="#1790d6"/></linearGradient><linearGradient id="g2_49" x1="0" y1="0" x2="0" y2="1"><stop offset="0.002" stop-color="#151488"/><stop offset="0.998" stop-color="#04199c"/></linearGradient><linearGradient id="g2_50" x1="0" y1="0" x2="0" y2="1"><stop offset="0.008" stop-color="#000093"/><stop offset="0.523" stop-color="#000ac3"/><stop offset="0.689" stop-color="#0004bb"/><stop offset="0.992" stop-color="#000094"/></linearGradient><linearGradient id="g2_51" x1="0" y1="0" x2="0" y2="1"><stop offset="0.007" stop-color="#000095"/><stop offset="0.360" stop-color="#0007ec"/><stop offset="0.581" stop-color="#0038f4"/><stop offset="0.772" stop-color="#0000e5"/><stop offset="0.993" stop-color="#000097"/></linearGradient><linearGradient id="g2_52" x1="0" y1="0" x2="0" y2="1"><stop offset="0.007" stop-color="#000093"/><stop offset="0.419" stop-color="#0008db"/><stop offset="0.581" stop-color="#001ee5"/><stop offset="0.772" stop-color="#0000cc"/><stop offset="0.993" stop-color="#000094"/></linearGradient><linearGradient id="g2_53" x1="0" y1="0" x2="0" y2="1"><stop offset="0.009" stop-color="#000093"/><stop offset="0.777" stop-color="#00009a"/><stop offset="0.991" stop-color="#000093"/></linearGradient><linearGradient id="g2_54" x1="0" y1="0" x2="0" y2="1"><stop offset="0.002" stop-color="#061997"/><stop offset="0.998" stop-color="#02189e"/></linearGradient><linearGradient id="g2_55" x1="0" y1="0" x2="0" y2="1"><stop offset="0.002" stop-color="#258cb8"/><stop offset="0.998" stop-color="#0b8be1"/></linearGradient><linearGradient id="g2_56" x1="0" y1="0" x2="0" y2="1"><stop offset="0.002" stop-color="#258cb8"/><stop offset="0.998" stop-color="#0b8be1"/></linearGradient><linearGradient id="g2_57" x1="0" y1="0" x2="0" y2="1"><stop offset="0.002" stop-color="#061997"/><stop offset="0.998" stop-color="#02189e"/></linearGradient><linearGradient id="g2_58" x1="0" y1="0" x2="0" y2="1"><stop offset="0.002" stop-color="#001eb6"/><stop offset="0.998" stop-color="#0032c1"/></linearGradient><linearGradient id="g2_59" x1="0" y1="0" x2="0" y2="1"><stop offset="0.002" stop-color="#0078eb"/><stop offset="0.998" stop-color="#00a8ef"/></linearGradient><linearGradient id="g2_60" x1="0" y1="0" x2="0" y2="1"><stop offset="0.002" stop-color="#002dc7"/><stop offset="0.998" stop-color="#004bcf"/></linearGradient><linearGradient id="g2_61" x1="0" y1="0" x2="0" y2="1"><stop offset="0.003" stop-color="#00009d"/><stop offset="0.997" stop-color="#000093"/></linearGradient><linearGradient id="g2_62" x1="0" y1="0" x2="0" y2="1"><stop offset="0.002" stop-color="#0000cb"/><stop offset="0.734" stop-color="#0000b6"/><stop offset="0.998" stop-color="#000093"/></linearGradient><linearGradient id="g2_63" x1="0" y1="0" x2="0" y2="1"><stop offset="0.003" stop-color="#0000b8"/><stop offset="0.766" stop-color="#0000a8"/><stop offset="0.997" stop-color="#000093"/></linearGradient><linearGradient id="g2_64" x1="0" y1="0" x2="0" y2="1"><stop offset="0.008" stop-color="#000093"/><stop offset="0.592" stop-color="#0002bd"/><stop offset="0.992" stop-color="#000093"/></linearGradient><linearGradient id="g2_65" x1="0" y1="0" x2="0" y2="1"><stop offset="0.007" stop-color="#000093"/><stop offset="0.507" stop-color="#0005eb"/><stop offset="0.596" stop-color="#000aed"/><stop offset="0.743" stop-color="#0000d2"/><stop offset="0.993" stop-color="#000095"/></linearGradient><linearGradient id="g2_66" x1="0" y1="0" x2="0" y2="1"><stop offset="0.007" stop-color="#000093"/><stop offset="0.590" stop-color="#0002cc"/><stop offset="0.993" stop-color="#000092"/></linearGradient><linearGradient id="g2_67" x1="0" y1="0" x2="0" y2="1"><stop offset="0.011" stop-color="#000093"/><stop offset="0.926" stop-color="#000094"/><stop offset="0.989" stop-color="#000093"/></linearGradient><linearGradient id="g2_68" x1="0" y1="0" x2="0" y2="1"><stop offset="0.007" stop-color="#000092"/><stop offset="0.993" stop-color="#00069b"/></linearGradient><linearGradient id="g2_69" x1="0" y1="0" x2="0" y2="1"><stop offset="0.004" stop-color="#000093"/><stop offset="0.572" stop-color="#031eae"/><stop offset="0.881" stop-color="#0436c7"/><stop offset="0.996" stop-color="#023fd4"/></linearGradient><linearGradient id="g2_70" x1="0" y1="0" x2="0" y2="1"><stop offset="0.003" stop-color="#000094"/><stop offset="0.106" stop-color="#000bbf"/><stop offset="0.291" stop-color="#0971dc"/><stop offset="0.366" stop-color="#1892d6"/><stop offset="0.812" stop-color="#32c9c3"/><stop offset="0.997" stop-color="#17cce3"/></linearGradient><linearGradient id="g2_71" x1="0" y1="0" x2="0" y2="1"><stop offset="0.003" stop-color="#000094"/><stop offset="0.071" stop-color="#0003e9"/><stop offset="0.221" stop-color="#00b7fa"/><stop offset="0.269" stop-color="#13d9e8"/><stop offset="0.350" stop-color="#5aeca5"/><stop offset="0.793" stop-color="#8bfb74"/><stop offset="0.997" stop-color="#44fbbb"/></linearGradient><linearGradient id="g2_72" x1="0" y1="0" x2="0" y2="1"><stop offset="0.003" stop-color="#000098"/><stop offset="0.079" stop-color="#0007d7"/><stop offset="0.223" stop-color="#0083f0"/><stop offset="0.298" stop-color="#15b9dd"/><stop offset="0.360" stop-color="#32cfc3"/><stop offset="0.798" stop-color="#5ee69d"/><stop offset="0.997" stop-color="#2bead4"/></linearGradient><linearGradient id="g2_73" x1="0" y1="0" x2="0" y2="1"><stop offset="0.003" stop-color="#000093"/><stop offset="0.219" stop-color="#0016a9"/><stop offset="0.392" stop-color="#0835bc"/><stop offset="0.830" stop-color="#0e6bd6"/><stop offset="0.997" stop-color="#0778ea"/></linearGradient><linearGradient id="g2_74" x1="0" y1="0" x2="0" y2="1"><stop offset="0.005" stop-color="#000093"/><stop offset="0.968" stop-color="#0011a7"/><stop offset="0.995" stop-color="#0012a9"/></linearGradient><linearGradient id="g2_75" x1="0" y1="0" x2="0" y2="1"><stop offset="0.008" stop-color="#000093"/><stop offset="0.992" stop-color="#00129f"/></linearGradient><linearGradient id="g2_76" x1="0" y1="0" x2="0" y2="1"><stop offset="0.003" stop-color="#000092"/><stop offset="0.632" stop-color="#021cad"/><stop offset="0.840" stop-color="#0d4ac3"/><stop offset="0.997" stop-color="#1479d6"/></linearGradient><linearGradient id="g2_77" x1="0" y1="0" x2="0" y2="1"><stop offset="0.003" stop-color="#000094"/><stop offset="0.150" stop-color="#0009c4"/><stop offset="0.379" stop-color="#015fe2"/><stop offset="0.591" stop-color="#1198df"/><stop offset="0.732" stop-color="#31c3c3"/><stop offset="0.874" stop-color="#63e197"/><stop offset="0.997" stop-color="#81ea7d"/></linearGradient><linearGradient id="g2_78" x1="0" y1="0" x2="0" y2="1"><stop offset="0.003" stop-color="#000097"/><stop offset="0.108" stop-color="#0006ec"/><stop offset="0.319" stop-color="#00befb"/><stop offset="0.453" stop-color="#16e1e8"/><stop offset="0.699" stop-color="#73f78c"/><stop offset="0.851" stop-color="#c3fe3c"/><stop offset="0.997" stop-color="#dcff23"/></linearGradient><linearGradient id="g2_79" x1="0" y1="0" x2="0" y2="1"><stop offset="0.003" stop-color="#000094"/><stop offset="0.126" stop-color="#0007dc"/><stop offset="0.272" stop-color="#0065f0"/><stop offset="0.330" stop-color="#008cf1"/><stop offset="0.523" stop-color="#15c3e0"/><stop offset="0.705" stop-color="#4be1af"/><stop offset="0.857" stop-color="#97ef68"/><stop offset="0.997" stop-color="#b2f84d"/></linearGradient><linearGradient id="g2_80" x1="0" y1="0" x2="0" y2="1"><stop offset="0.003" stop-color="#000093"/><stop offset="0.268" stop-color="#0012ab"/><stop offset="0.654" stop-color="#0844c6"/><stop offset="0.810" stop-color="#1785dc"/><stop offset="0.997" stop-color="#32c6cd"/></linearGradient><linearGradient id="g2_81" x1="0" y1="0" x2="0" y2="1"><stop offset="0.004" stop-color="#000093"/><stop offset="0.517" stop-color="#00089f"/><stop offset="0.648" stop-color="#001bc9"/><stop offset="0.770" stop-color="#0256e3"/><stop offset="0.978" stop-color="#0676f9"/><stop offset="0.996" stop-color="#067af9"/></linearGradient><linearGradient id="g2_82" x1="0" y1="0" x2="0" y2="1"><stop offset="0.009" stop-color="#000094"/><stop offset="0.181" stop-color="#0007e9"/><stop offset="0.353" stop-color="#0064f5"/><stop offset="0.526" stop-color="#03c9f6"/><stop offset="0.991" stop-color="#0bdaf4"/></linearGradient><linearGradient id="g2_83" x1="0" y1="0" x2="0" y2="1"><stop offset="0.009" stop-color="#000094"/><stop offset="0.181" stop-color="#0007e9"/><stop offset="0.353" stop-color="#0064f5"/><stop offset="0.526" stop-color="#03c9f6"/><stop offset="0.991" stop-color="#0bd8f2"/></linearGradient><linearGradient id="g2_84" x1="0" y1="0" x2="0" y2="1"><stop offset="0.009" stop-color="#000094"/><stop offset="0.295" stop-color="#000ebd"/><stop offset="0.527" stop-color="#0141d4"/><stop offset="0.991" stop-color="#0255e0"/></linearGradient><linearGradient id="g2_85" x1="0" y1="0" x2="0" y2="1"><stop offset="0.011" stop-color="#000093"/><stop offset="0.989" stop-color="#000a9e"/></linearGradient><linearGradient id="g2_86" x1="0" y1="0" x2="0" y2="1"><stop offset="0.007" stop-color="#000093"/><stop offset="0.993" stop-color="#051eaa"/></linearGradient><linearGradient id="g2_87" x1="0" y1="0" x2="0" y2="1"><stop offset="0.006" stop-color="#000093"/><stop offset="0.201" stop-color="#000cbc"/><stop offset="0.431" stop-color="#0757d2"/><stop offset="0.557" stop-color="#127bd2"/><stop offset="0.856" stop-color="#2daac3"/><stop offset="0.994" stop-color="#35b2bc"/></linearGradient><linearGradient id="g2_88" x1="0" y1="0" x2="0" y2="1"><stop offset="0.006" stop-color="#000094"/><stop offset="0.119" stop-color="#0003e7"/><stop offset="0.233" stop-color="#0054f5"/><stop offset="0.369" stop-color="#03c7f6"/><stop offset="0.472" stop-color="#42e5b9"/><stop offset="0.528" stop-color="#59e9a3"/><stop offset="0.835" stop-color="#9ff560"/><stop offset="0.994" stop-color="#aef751"/></linearGradient><linearGradient id="g2_89" x1="0" y1="0" x2="0" y2="1"><stop offset="0.006" stop-color="#000093"/><stop offset="0.131" stop-color="#0006e4"/><stop offset="0.244" stop-color="#0050f2"/><stop offset="0.381" stop-color="#04bcf1"/><stop offset="0.494" stop-color="#41dfb7"/><stop offset="0.835" stop-color="#8fed6f"/><stop offset="0.994" stop-color="#9def62"/></linearGradient><linearGradient id="g2_90" x1="0" y1="0" x2="0" y2="1"><stop offset="0.006" stop-color="#000093"/><stop offset="0.238" stop-color="#000fb2"/><stop offset="0.459" stop-color="#0945c4"/><stop offset="0.831" stop-color="#1c83cc"/><stop offset="0.994" stop-color="#238dcb"/></linearGradient><linearGradient id="g2_91" x1="0" y1="0" x2="0" y2="1"><stop offset="0.007" stop-color="#000092"/><stop offset="0.993" stop-color="#02169e"/></linearGradient><linearGradient id="g2_92" x1="0" y1="0" x2="0" y2="1"><stop offset="0.015" stop-color="#000093"/><stop offset="0.985" stop-color="#000599"/></linearGradient><linearGradient id="g2_93" x1="0" y1="0" x2="0" y2="1"><stop offset="0.006" stop-color="#000093"/><stop offset="0.660" stop-color="#041eb0"/><stop offset="0.994" stop-color="#0a3ac1"/></linearGradient><linearGradient id="g2_94" x1="0" y1="0" x2="0" y2="1"><stop offset="0.004" stop-color="#000093"/><stop offset="0.270" stop-color="#0012ac"/><stop offset="0.429" stop-color="#053dc9"/><stop offset="0.597" stop-color="#1c89d2"/><stop offset="0.845" stop-color="#3fc2b5"/><stop offset="0.996" stop-color="#51d0a6"/></linearGradient><linearGradient id="g2_95" x1="0" y1="0" x2="0" y2="1"><stop offset="0.004" stop-color="#000095"/><stop offset="0.131" stop-color="#0008d4"/><stop offset="0.250" stop-color="#004bee"/><stop offset="0.377" stop-color="#08adec"/><stop offset="0.487" stop-color="#3edcbb"/><stop offset="0.606" stop-color="#97ed68"/><stop offset="0.894" stop-color="#cee931"/><stop offset="0.996" stop-color="#d8e427"/></linearGradient><linearGradient id="g2_96" x1="0" y1="0" x2="0" y2="1"><stop offset="0.004" stop-color="#000093"/><stop offset="0.113" stop-color="#0006ef"/><stop offset="0.282" stop-color="#00a3ff"/><stop offset="0.349" stop-color="#08e3f7"/><stop offset="0.525" stop-color="#97ff68"/><stop offset="0.601" stop-color="#deff21"/><stop offset="0.945" stop-color="#f9cb06"/><stop offset="0.996" stop-color="#fac605"/></linearGradient><linearGradient id="g2_97" x1="0" y1="0" x2="0" y2="1"><stop offset="0.004" stop-color="#000095"/><stop offset="0.131" stop-color="#0008d4"/><stop offset="0.250" stop-color="#004bee"/><stop offset="0.377" stop-color="#08adec"/><stop offset="0.487" stop-color="#3edcbb"/><stop offset="0.606" stop-color="#97ef68"/><stop offset="0.894" stop-color="#ceea31"/><stop offset="0.996" stop-color="#d8e527"/></linearGradient><linearGradient id="g2_98" x1="0" y1="0" x2="0" y2="1"><stop offset="0.004" stop-color="#000093"/><stop offset="0.270" stop-color="#0012ac"/><stop offset="0.429" stop-color="#053dd1"/><stop offset="0.518" stop-color="#0f72e5"/><stop offset="0.571" stop-color="#19a6e6"/><stop offset="0.783" stop-color="#3adec5"/><stop offset="0.996" stop-color="#5ff6a0"/></linearGradient><linearGradient id="g2_99" x1="0" y1="0" x2="0" y2="1"><stop offset="0.006" stop-color="#000093"/><stop offset="0.117" stop-color="#00029d"/><stop offset="0.216" stop-color="#000fd5"/><stop offset="0.290" stop-color="#0043f4"/><stop offset="0.377" stop-color="#04a6fb"/><stop offset="0.414" stop-color="#0fc7f0"/><stop offset="0.796" stop-color="#42f6bd"/><stop offset="0.994" stop-color="#69fe96"/></linearGradient><linearGradient id="g2_100" x1="0" y1="0" x2="0" y2="1"><stop offset="0.007" stop-color="#000096"/><stop offset="0.089" stop-color="#0002ec"/><stop offset="0.185" stop-color="#0066fc"/><stop offset="0.281" stop-color="#01defe"/><stop offset="0.336" stop-color="#32f5cd"/><stop offset="0.555" stop-color="#5ffba0"/><stop offset="0.993" stop-color="#b3ff4c"/></linearGradient><linearGradient id="g2_101" x1="0" y1="0" x2="0" y2="1"><stop offset="0.007" stop-color="#000095"/><stop offset="0.103" stop-color="#0006e6"/><stop offset="0.185" stop-color="#0053f5"/><stop offset="0.295" stop-color="#04cff9"/><stop offset="0.349" stop-color="#29e8d6"/><stop offset="0.993" stop-color="#9cfc63"/></linearGradient><linearGradient id="g2_102" x1="0" y1="0" x2="0" y2="1"><stop offset="0.007" stop-color="#000094"/><stop offset="0.162" stop-color="#000fc0"/><stop offset="0.261" stop-color="#0041e1"/><stop offset="0.331" stop-color="#0673e9"/><stop offset="0.838" stop-color="#22c0d4"/><stop offset="0.993" stop-color="#33d0c6"/></linearGradient><linearGradient id="g2_103" x1="0" y1="0" x2="0" y2="1"><stop offset="0.008" stop-color="#000093"/><stop offset="0.944" stop-color="#0537ca"/><stop offset="0.992" stop-color="#053ccb"/></linearGradient><linearGradient id="g2_104" x1="0" y1="0" x2="0" y2="1"><stop offset="0.014" stop-color="#000093"/><stop offset="0.986" stop-color="#00059a"/></linearGradient><linearGradient id="g2_105" x1="0" y1="0" x2="0" y2="1"><stop offset="0.006" stop-color="#000093"/><stop offset="0.994" stop-color="#0b1994"/></linearGradient><linearGradient id="g2_106" x1="0" y1="0" x2="0" y2="1"><stop offset="0.002" stop-color="#000093"/><stop offset="0.527" stop-color="#01149c"/><stop offset="0.621" stop-color="#152d9e"/><stop offset="0.705" stop-color="#2149a6"/><stop offset="0.894" stop-color="#3b6c9d"/><stop offset="0.998" stop-color="#527d91"/></linearGradient><linearGradient id="g2_107" x1="0" y1="0" x2="0" y2="1"><stop offset="0.002" stop-color="#0421a9"/><stop offset="0.125" stop-color="#223d96"/><stop offset="0.238" stop-color="#274aa1"/><stop offset="0.424" stop-color="#3b5e93"/><stop offset="0.478" stop-color="#3e679c"/><stop offset="0.517" stop-color="#2c83b0"/><stop offset="0.547" stop-color="#1482d4"/><stop offset="0.576" stop-color="#3ea7b1"/><stop offset="0.610" stop-color="#76b87d"/><stop offset="0.640" stop-color="#9da456"/><stop offset="0.664" stop-color="#af8a40"/><stop offset="0.890" stop-color="#c1581d"/><stop offset="0.998" stop-color="#b43f1b"/></linearGradient><linearGradient id="g2_108" x1="0" y1="0" x2="0" y2="1"><stop offset="0.002" stop-color="#11a9dc"/><stop offset="0.076" stop-color="#80cf70"/><stop offset="0.120" stop-color="#aead45"/><stop offset="0.145" stop-color="#b5a240"/><stop offset="0.468" stop-color="#d47f26"/><stop offset="0.502" stop-color="#c5d436"/><stop offset="0.517" stop-color="#aeed4d"/><stop offset="0.542" stop-color="#5eeaa0"/><stop offset="0.547" stop-color="#5eeba0"/><stop offset="0.576" stop-color="#c2f33d"/><stop offset="0.600" stop-color="#e2bf1d"/><stop offset="0.640" stop-color="#f0400d"/><stop offset="0.659" stop-color="#d22308"/><stop offset="0.831" stop-color="#a01301"/><stop offset="0.998" stop-color="#8f0800"/></linearGradient><linearGradient id="g2_109" x1="0" y1="0" x2="0" y2="1"><stop offset="0.002" stop-color="#0571d5"/><stop offset="0.061" stop-color="#3998a6"/><stop offset="0.115" stop-color="#6ea080"/><stop offset="0.159" stop-color="#809d6e"/><stop offset="0.473" stop-color="#a9a049"/><stop offset="0.502" stop-color="#96d25e"/><stop offset="0.522" stop-color="#6fdd87"/><stop offset="0.542" stop-color="#3fd7b7"/><stop offset="0.547" stop-color="#40d8b7"/><stop offset="0.581" stop-color="#a6e354"/><stop offset="0.610" stop-color="#d2b229"/><stop offset="0.640" stop-color="#e35f1c"/><stop offset="0.659" stop-color="#d33d17"/><stop offset="0.958" stop-color="#9a1a06"/><stop offset="0.998" stop-color="#971705"/></linearGradient><linearGradient id="g2_110" x1="0" y1="0" x2="0" y2="1"><stop offset="0.002" stop-color="#00119c"/><stop offset="0.228" stop-color="#161d8a"/><stop offset="0.449" stop-color="#1b2798"/><stop offset="0.498" stop-color="#1a389f"/><stop offset="0.547" stop-color="#0a3dbd"/><stop offset="0.596" stop-color="#2871b3"/><stop offset="0.630" stop-color="#4a869f"/><stop offset="0.659" stop-color="#699383"/><stop offset="0.860" stop-color="#929455"/><stop offset="0.998" stop-color="#b27734"/></linearGradient><linearGradient id="g2_111" x1="0" y1="0" x2="0" y2="1"><stop offset="0.004" stop-color="#000093"/><stop offset="0.345" stop-color="#000c9b"/><stop offset="0.542" stop-color="#111f95"/><stop offset="0.754" stop-color="#192c9b"/><stop offset="0.996" stop-color="#2247a6"/></linearGradient><linearGradient id="g2_112" x1="0" y1="0" x2="0" y2="1"><stop offset="0.010" stop-color="#000093"/><stop offset="0.990" stop-color="#000a98"/></linearGradient></defs><g shape-rendering="crispEdges"><rect x="826" y="776" width="1" height="42" fill="url(#g2_0)"/><rect x="827" y="761" width="1" height="57" fill="url(#g2_1)"/><rect x="828" y="759" width="1" height="59" fill="url(#g2_2)"/><rect x="829" y="759" width="1" height="59" fill="url(#g2_3)"/><rect x="830" y="762" width="1" height="56" fill="url(#g2_4)"/><rect x="831" y="786" width="1" height="32" fill="#000095"/><rect x="875" y="664" width="1" height="148" fill="url(#g2_5)"/><rect x="876" y="651" width="1" height="163" fill="url(#g2_6)"/><rect x="877" y="650" width="1" height="164" fill="url(#g2_7)"/><rect x="878" y="650" width="1" height="164" fill="url(#g2_8)"/><rect x="879" y="658" width="1" height="154" fill="url(#g2_9)"/><rect x="880" y="729" width="1" height="59" fill="#000194"/><rect x="885" y="764" width="1" height="29" fill="#000094"/><rect x="886" y="748" width="1" height="60" fill="url(#g2_10)"/><rect x="887" y="746" width="1" height="63" fill="url(#g2_11)"/><rect x="888" y="746" width="1" height="63" fill="url(#g2_12)"/><rect x="889" y="751" width="1" height="54" fill="url(#g2_13)"/><rect x="929" y="729" width="1" height="74" fill="url(#g2_14)"/><rect x="930" y="722" width="1" height="86" fill="url(#g2_15)"/><rect x="931" y="722" width="1" height="86" fill="url(#g2_16)"/><rect x="932" y="729" width="1" height="74" fill="url(#g2_17)"/><rect x="965" y="614" width="1" height="204" fill="#000299"/><rect x="966" y="614" width="1" height="204" fill="#0013cc"/><rect x="967" y="614" width="1" height="204" fill="#0030e9"/><rect x="968" y="614" width="1" height="204" fill="#000aab"/><rect x="980" y="614" width="1" height="204" fill="#000497"/><rect x="981" y="614" width="1" height="204" fill="url(#g2_18)"/><rect x="982" y="614" width="1" height="204" fill="url(#g2_19)"/><rect x="983" y="614" width="1" height="204" fill="url(#g2_20)"/><rect x="984" y="614" width="1" height="204" fill="#000497"/><rect x="1004" y="614" width="1" height="204" fill="#00069e"/><rect x="1005" y="614" width="1" height="204" fill="#0022e1"/><rect x="1006" y="614" width="1" height="204" fill="#0022e1"/><rect x="1007" y="614" width="1" height="204" fill="#00069e"/><rect x="1025" y="614" width="1" height="204" fill="#000394"/><rect x="1026" y="614" width="1" height="204" fill="url(#g2_21)"/><rect x="1027" y="614" width="1" height="204" fill="url(#g2_22)"/><rect x="1028" y="614" width="1" height="204" fill="url(#g2_23)"/><rect x="1029" y="614" width="1" height="204" fill="url(#g2_24)"/><rect x="1070" y="736" width="1" height="67" fill="url(#g2_25)"/><rect x="1071" y="717" width="1" height="93" fill="url(#g2_26)"/><rect x="1072" y="715" width="1" height="96" fill="url(#g2_27)"/><rect x="1073" y="715" width="1" height="96" fill="url(#g2_28)"/><rect x="1074" y="716" width="1" height="95" fill="url(#g2_29)"/><rect x="1075" y="720" width="1" height="89" fill="url(#g2_30)"/><rect x="1076" y="771" width="1" height="8" fill="#000093"/><rect x="1081" y="718" width="1" height="69" fill="#000296"/><rect x="1082" y="705" width="1" height="99" fill="url(#g2_31)"/><rect x="1083" y="704" width="1" height="102" fill="url(#g2_32)"/><rect x="1084" y="704" width="1" height="102" fill="url(#g2_33)"/><rect x="1085" y="705" width="1" height="99" fill="url(#g2_34)"/><rect x="1086" y="718" width="1" height="69" fill="#000296"/><rect x="1091" y="706" width="1" height="40" fill="#000195"/><rect x="1092" y="689" width="1" height="121" fill="url(#g2_35)"/><rect x="1093" y="687" width="1" height="131" fill="url(#g2_36)"/><rect x="1094" y="687" width="1" height="131" fill="url(#g2_37)"/><rect x="1095" y="614" width="1" height="204" fill="url(#g2_38)"/><rect x="1096" y="614" width="1" height="204" fill="url(#g2_39)"/><rect x="1097" y="614" width="1" height="204" fill="url(#g2_40)"/><rect x="1098" y="614" width="1" height="204" fill="url(#g2_41)"/><rect x="1099" y="614" width="1" height="204" fill="#000994"/><rect x="1111" y="687" width="1" height="131" fill="#000296"/><rect x="1112" y="663" width="1" height="155" fill="url(#g2_42)"/><rect x="1113" y="661" width="1" height="157" fill="url(#g2_43)"/><rect x="1114" y="661" width="1" height="157" fill="url(#g2_44)"/><rect x="1115" y="663" width="1" height="155" fill="url(#g2_45)"/><rect x="1116" y="687" width="1" height="131" fill="#000296"/><rect x="1120" y="614" width="1" height="204" fill="url(#g2_46)"/><rect x="1121" y="614" width="1" height="204" fill="url(#g2_47)"/><rect x="1122" y="614" width="1" height="204" fill="url(#g2_48)"/><rect x="1123" y="614" width="1" height="204" fill="url(#g2_49)"/><rect x="1124" y="718" width="1" height="39" fill="#000095"/><rect x="1125" y="702" width="1" height="66" fill="url(#g2_50)"/><rect x="1126" y="701" width="1" height="68" fill="url(#g2_51)"/><rect x="1127" y="701" width="1" height="68" fill="url(#g2_52)"/><rect x="1128" y="708" width="1" height="56" fill="url(#g2_53)"/><rect x="1185" y="614" width="1" height="204" fill="url(#g2_54)"/><rect x="1186" y="614" width="1" height="204" fill="url(#g2_55)"/><rect x="1187" y="614" width="1" height="204" fill="url(#g2_56)"/><rect x="1188" y="614" width="1" height="204" fill="url(#g2_57)"/><rect x="1219" y="614" width="1" height="204" fill="#0004ae"/><rect x="1220" y="614" width="1" height="204" fill="#0012e7"/><rect x="1221" y="614" width="1" height="204" fill="#0004be"/><rect x="1222" y="614" width="1" height="204" fill="#000096"/><rect x="1227" y="614" width="1" height="204" fill="#000295"/><rect x="1228" y="614" width="1" height="204" fill="url(#g2_58)"/><rect x="1229" y="614" width="1" height="204" fill="url(#g2_59)"/><rect x="1230" y="614" width="1" height="204" fill="url(#g2_60)"/><rect x="1231" y="614" width="1" height="204" fill="#000798"/><rect x="1236" y="614" width="1" height="186" fill="url(#g2_61)"/><rect x="1237" y="614" width="1" height="201" fill="url(#g2_62)"/><rect x="1238" y="614" width="1" height="199" fill="url(#g2_63)"/><rect x="1239" y="614" width="1" height="164" fill="#000095"/><rect x="1254" y="614" width="1" height="204" fill="#000094"/><rect x="1255" y="614" width="1" height="204" fill="#0000af"/><rect x="1256" y="614" width="1" height="204" fill="#0000c7"/><rect x="1257" y="614" width="1" height="204" fill="#00009f"/><rect x="1286" y="741" width="1" height="33" fill="#000094"/><rect x="1287" y="723" width="1" height="65" fill="url(#g2_64)"/><rect x="1288" y="721" width="1" height="68" fill="url(#g2_65)"/><rect x="1289" y="722" width="1" height="67" fill="url(#g2_66)"/><rect x="1290" y="733" width="1" height="47" fill="url(#g2_67)"/><rect x="1307" y="751" width="1" height="67" fill="url(#g2_68)"/><rect x="1308" y="679" width="1" height="139" fill="url(#g2_69)"/><rect x="1309" y="672" width="1" height="146" fill="url(#g2_70)"/><rect x="1310" y="671" width="1" height="147" fill="url(#g2_71)"/><rect x="1311" y="672" width="1" height="146" fill="url(#g2_72)"/><rect x="1312" y="674" width="1" height="144" fill="url(#g2_73)"/><rect x="1313" y="709" width="1" height="109" fill="url(#g2_74)"/><rect x="1340" y="759" width="1" height="59" fill="url(#g2_75)"/><rect x="1341" y="659" width="1" height="159" fill="url(#g2_76)"/><rect x="1342" y="648" width="1" height="170" fill="url(#g2_77)"/><rect x="1343" y="647" width="1" height="171" fill="url(#g2_78)"/><rect x="1344" y="647" width="1" height="171" fill="url(#g2_79)"/><rect x="1345" y="652" width="1" height="166" fill="url(#g2_80)"/><rect x="1346" y="703" width="1" height="115" fill="url(#g2_81)"/><rect x="1347" y="760" width="1" height="58" fill="url(#g2_82)"/><rect x="1348" y="760" width="1" height="58" fill="url(#g2_83)"/><rect x="1349" y="762" width="1" height="56" fill="url(#g2_84)"/><rect x="1350" y="773" width="1" height="45" fill="url(#g2_85)"/><rect x="1352" y="815" width="1" height="3" fill="#000093"/><rect x="1353" y="742" width="1" height="76" fill="url(#g2_86)"/><rect x="1354" y="731" width="1" height="87" fill="url(#g2_87)"/><rect x="1355" y="730" width="1" height="88" fill="url(#g2_88)"/><rect x="1356" y="730" width="1" height="88" fill="url(#g2_89)"/><rect x="1357" y="732" width="1" height="86" fill="url(#g2_90)"/><rect x="1358" y="750" width="1" height="68" fill="url(#g2_91)"/><rect x="1378" y="785" width="1" height="33" fill="url(#g2_92)"/><rect x="1379" y="737" width="1" height="81" fill="url(#g2_93)"/><rect x="1380" y="705" width="1" height="113" fill="url(#g2_94)"/><rect x="1381" y="700" width="1" height="118" fill="url(#g2_95)"/><rect x="1382" y="699" width="1" height="119" fill="url(#g2_96)"/><rect x="1383" y="700" width="1" height="118" fill="url(#g2_97)"/><rect x="1384" y="705" width="1" height="113" fill="url(#g2_98)"/><rect x="1385" y="737" width="1" height="81" fill="url(#g2_99)"/><rect x="1386" y="745" width="1" height="73" fill="url(#g2_100)"/><rect x="1387" y="745" width="1" height="73" fill="url(#g2_101)"/><rect x="1388" y="747" width="1" height="71" fill="url(#g2_102)"/><rect x="1389" y="755" width="1" height="63" fill="url(#g2_103)"/><rect x="1390" y="782" width="1" height="36" fill="url(#g2_104)"/><rect x="1411" y="736" width="1" height="82" fill="url(#g2_105)"/><rect x="1412" y="616" width="1" height="202" fill="url(#g2_106)"/><rect x="1413" y="614" width="1" height="204" fill="url(#g2_107)"/><rect x="1414" y="614" width="1" height="204" fill="url(#g2_108)"/><rect x="1415" y="614" width="1" height="204" fill="url(#g2_109)"/><rect x="1416" y="614" width="1" height="204" fill="url(#g2_110)"/><rect x="1417" y="686" width="1" height="132" fill="url(#g2_111)"/><rect x="1418" y="766" width="1" height="52" fill="url(#g2_112)"/></g>
<path d="M901.5 818v-6M901.5 614v6M976.5 818v-6M976.5 614v6M1052.5 818v-6M1052.5 614v6M1127.5 818v-6M1127.5 614v6M1202.5 818v-6M1202.5 614v6M1278.5 818v-6M1278.5 614v6M1353.5 818v-6M1353.5 614v6M826 792.5h6M1429 792.5h-6M826 771.5h6M1429 771.5h-6M826 753.5h6M1429 753.5h-6M826 721.5h6M1429 721.5h-6M826 695.5h6M1429 695.5h-6M826 671.5h6M1429 671.5h-6M826 651.5h6M1429 651.5h-6M826 633.5h6M1429 633.5h-6M826 616.5h6M1429 616.5h-6" stroke="#000" stroke-opacity="0.55" stroke-width="1" fill="none"/>
<path d="M826 818.5H1429.5V614" stroke="#8c8c9c" stroke-width="1" fill="none"/>
<path d="M826.5 818V614.5H1429" stroke="#000" stroke-opacity="0.3" stroke-width="1" fill="none"/>
<text x="826.3" y="833" font-size="12.2" text-anchor="middle">00:00</text>
<text x="901.675" y="833" font-size="12.2" text-anchor="middle">03:00</text>
<text x="977.05" y="833" font-size="12.2" text-anchor="middle">06:00</text>
<text x="1052.425" y="833" font-size="12.2" text-anchor="middle">09:00</text>
<text x="1127.8" y="833" font-size="12.2" text-anchor="middle">12:00</text>
<text x="1203.175" y="833" font-size="12.2" text-anchor="middle">15:00</text>
<text x="1278.55" y="833" font-size="12.2" text-anchor="middle">18:00</text>
<text x="1353.925" y="833" font-size="12.2" text-anchor="middle">21:00</text>
<text x="1429.3" y="833" font-size="12.2" text-anchor="middle">00:00</text>
<text x="822.7" y="819.3949680270013" font-size="12.2" text-anchor="end">7</text>
<text x="822.7" y="796.2139182673841" font-size="12.2" text-anchor="end">8</text>
<text x="822.7" y="775.7667832774359" font-size="12.2" text-anchor="end">9</text>
<text x="822.7" y="757.4761977592374" font-size="12.2" text-anchor="end">10</text>
<text x="822.7" y="725.8251754998067" font-size="12.2" text-anchor="end">12</text>
<text x="822.7" y="699.0646174817947" font-size="12.2" text-anchor="end">14</text>
<text x="822.7" y="675.8835677221776" font-size="12.2" text-anchor="end">16</text>
<text x="822.7" y="655.4364327322295" font-size="12.2" text-anchor="end">18</text>
<text x="822.7" y="637.1458472140308" font-size="12.2" text-anchor="end">20</text>
<text x="822.7" y="620.6" font-size="12.2" text-anchor="end">22</text>
<text class="b" font-size="12.3" text-anchor="middle" transform="translate(800 716.0) rotate(-90)">freq (mHz)</text>
<rect x="1448" y="614" width="25" height="205" fill="url(#cbar)"/>
<rect x="1448.5" y="614.5" width="24" height="204" fill="none" stroke="#000" stroke-opacity="0.18"/>
<path d="M1448 784.5h2M1473 784.5h-2M1448 750.5h2M1473 750.5h-2M1448 716.5h2M1473 716.5h-2M1448 682.5h2M1473 682.5h-2M1448 648.5h2M1473 648.5h-2" stroke="#000" stroke-opacity="0.6" stroke-width="1" fill="none"/>
<text x="1476.3" y="823.0" font-size="12.2">-2</text>
<text x="1476.3" y="789.0" font-size="12.2">-1</text>
<text x="1476.3" y="755.0" font-size="12.2">0</text>
<text x="1476.3" y="721.0" font-size="12.2">1</text>
<text x="1476.3" y="687.0" font-size="12.2">2</text>
<text x="1476.3" y="653.0" font-size="12.2">3</text>
<text x="1476.3" y="619.0" font-size="12.2">4</text>
<text class="b" font-size="12.3" text-anchor="middle" transform="translate(1508.5 716.0) rotate(-90)">log<tspan font-size="11" dy="4.5">2</tspan><tspan dy="-4.5">(nT</tspan><tspan font-size="11" dy="-6.8">2</tspan><tspan dy="6.8">/Hz)</tspan></text>
<text class="b" x="333.5" y="847.7" font-size="12.4" text-anchor="middle">UT (hours)</text>
<text class="b" x="1127.5" y="847.7" font-size="12.4" text-anchor="middle">UT (hours)</text>
</svg></body></html>
